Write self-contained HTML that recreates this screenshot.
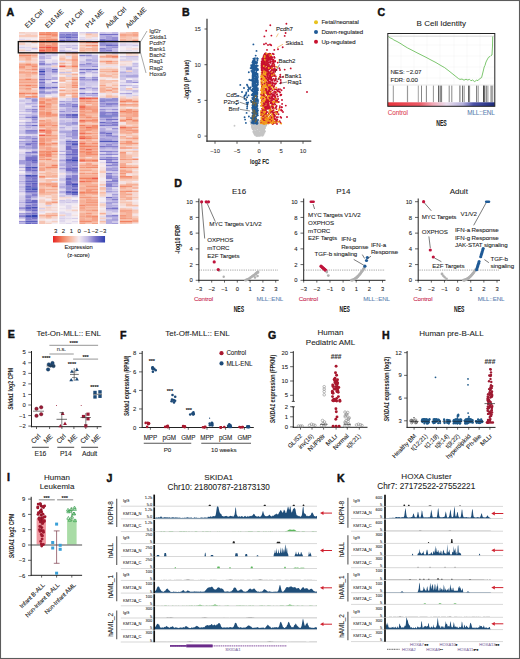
<!DOCTYPE html>
<html><head><meta charset="utf-8"><style>
html,body{margin:0;padding:0;background:#fff;}
svg{display:block;font-family:"Liberation Sans", sans-serif;}
</style></head><body>
<svg width="520" height="659" viewBox="0 0 520 659">
<rect x="0" y="0" width="520" height="659" fill="#fff"/>
<text x="6.4" y="15.8" font-size="10.6" text-anchor="start" fill="#111" font-weight="bold" stroke="#111" stroke-width="0.45">A</text>
<path d="M31.4 188.0h6.25M31.4 215.2h6.25M31.4 216.8h6.25M39.1 71.2h6.25M71.7 160.8h6.25" stroke="#3444b2" stroke-width="1.6500000000000001" fill="none"/>
<path d="M31.4 167.2h6.25M25.2 175.2h6.25M31.4 189.6h6.25M31.4 207.2h6.25M25.2 216.8h6.25M39.1 87.2h6.25M71.7 184.8h6.25M71.7 192.8h6.25" stroke="#414cb6" stroke-width="1.6500000000000001" fill="none"/>
<path d="M25.2 167.2h6.25M31.4 175.2h6.25M25.2 188.0h6.25M71.7 144.8h6.25M99.6 116.0h6.25M105.8 116.0h6.25M99.6 141.6h6.25M105.8 141.6h6.25" stroke="#4e55ba" stroke-width="1.6500000000000001" fill="none"/>
<path d="M31.4 156.0h6.25M31.4 160.8h6.25M31.4 180.0h6.25M31.4 183.2h6.25M25.2 186.4h6.25M25.2 189.6h6.25M25.2 207.2h6.25M25.2 208.8h6.25M25.2 215.2h6.25M25.2 221.6h6.25M31.4 221.6h6.25M39.1 92.0h6.25M65.5 37.6h6.25M71.7 114.4h6.25M71.7 116.0h6.25M71.7 141.6h6.25M65.5 160.8h6.25M71.7 180.0h6.25M65.5 192.8h6.25M91.8 69.6h6.25M105.8 100.0h6.25M112.0 116.0h6.25M112.0 141.6h6.25" stroke="#5b5ebf" stroke-width="1.6500000000000001" fill="none"/>
<path d="M31.4 100.0h6.25M31.4 117.6h6.25M31.4 125.6h6.25M31.4 148.0h6.25M31.4 170.4h6.25M25.2 176.8h6.25M31.4 176.8h6.25M25.2 181.6h6.25M31.4 181.6h6.25M25.2 191.2h6.25M31.4 191.2h6.25M25.2 196.0h6.25M31.4 200.8h6.25M25.2 202.4h6.25M31.4 202.4h6.25M31.4 210.4h6.25M25.2 223.2h6.25M51.5 69.6h6.25M39.1 74.4h6.25M39.1 79.2h6.25M51.5 87.2h6.25M59.3 36.0h6.25M65.5 36.0h6.25M59.3 40.8h6.25M65.5 141.6h6.25M71.7 143.2h6.25M65.5 154.4h6.25M71.7 154.4h6.25M71.7 157.6h6.25M65.5 159.2h6.25M71.7 159.2h6.25M71.7 168.8h6.25M71.7 172.0h6.25M65.5 178.4h6.25M65.5 180.0h6.25M65.5 184.8h6.25M71.7 186.4h6.25M65.5 188.0h6.25M71.7 189.6h6.25M65.5 191.2h6.25M71.7 194.4h6.25M85.6 69.6h6.25M99.6 40.8h6.25M105.8 45.6h6.25M99.6 100.0h6.25M112.0 100.0h6.25M99.6 122.4h6.25M105.8 133.6h6.25" stroke="#6867c3" stroke-width="1.6500000000000001" fill="none"/>
<path d="M25.2 132.0h6.25M31.4 132.0h6.25M31.4 141.6h6.25M25.2 144.8h6.25M31.4 152.8h6.25M25.2 157.6h6.25M31.4 157.6h6.25M25.2 159.2h6.25M31.4 159.2h6.25M25.2 160.8h6.25M31.4 162.4h6.25M25.2 168.8h6.25M25.2 170.4h6.25M31.4 178.4h6.25M25.2 180.0h6.25M25.2 183.2h6.25M31.4 184.8h6.25M31.4 186.4h6.25M25.2 205.6h6.25M31.4 208.8h6.25M31.4 213.6h6.25M31.4 218.4h6.25M31.4 223.2h6.25M39.1 82.4h6.25M39.1 88.8h6.25M65.5 34.4h6.25M59.3 37.6h6.25M71.7 37.6h6.25M71.7 106.4h6.25M65.5 114.4h6.25M65.5 116.0h6.25M71.7 117.6h6.25M71.7 124.0h6.25M71.7 132.0h6.25M65.5 146.4h6.25M65.5 148.0h6.25M65.5 149.6h6.25M71.7 149.6h6.25M71.7 151.2h6.25M71.7 152.8h6.25M71.7 156.0h6.25M65.5 164.0h6.25M71.7 164.0h6.25M65.5 168.8h6.25M65.5 170.4h6.25M71.7 170.4h6.25M65.5 181.6h6.25M65.5 183.2h6.25M71.7 183.2h6.25M71.7 188.0h6.25M71.7 191.2h6.25M79.4 69.6h6.25M79.4 88.8h6.25M79.4 93.6h6.25M99.6 34.4h6.25M105.8 34.4h6.25M112.0 34.4h6.25M105.8 40.8h6.25M112.0 40.8h6.25M99.6 44.0h6.25M105.8 44.0h6.25M112.0 45.6h6.25M112.0 112.8h6.25M105.8 119.2h6.25M112.0 119.2h6.25M112.0 122.4h6.25M99.6 125.6h6.25M99.6 146.4h6.25M99.6 159.2h6.25M105.8 159.2h6.25M105.8 162.4h6.25M112.0 162.4h6.25M105.8 197.6h6.25M112.0 208.8h6.25" stroke="#7670c8" stroke-width="1.6500000000000001" fill="none"/>
<path d="M31.4 109.6h6.25M31.4 116.0h6.25M25.2 117.6h6.25M25.2 130.4h6.25M31.4 130.4h6.25M31.4 138.4h6.25M25.2 143.2h6.25M31.4 143.2h6.25M25.2 148.0h6.25M25.2 152.8h6.25M25.2 156.0h6.25M31.4 164.0h6.25M31.4 168.8h6.25M31.4 172.0h6.25M25.2 178.4h6.25M25.2 184.8h6.25M31.4 194.4h6.25M31.4 196.0h6.25M25.2 197.6h6.25M25.2 200.8h6.25M31.4 204.0h6.25M31.4 205.6h6.25M25.2 210.4h6.25M31.4 212.0h6.25M25.2 213.6h6.25M19.0 216.8h6.25M25.2 218.4h6.25M25.2 220.0h6.25M31.4 220.0h6.25M39.1 53.6h6.25M39.1 63.2h6.25M39.1 64.8h6.25M39.1 69.6h6.25M51.5 71.2h6.25M39.1 72.8h6.25M51.5 82.4h6.25M39.1 84.0h6.25M45.4 87.2h6.25M51.5 92.0h6.25M59.3 34.4h6.25M71.7 34.4h6.25M71.7 36.0h6.25M65.5 40.8h6.25M71.7 40.8h6.25M71.7 104.8h6.25M65.5 117.6h6.25M71.7 130.4h6.25M59.3 132.0h6.25M65.5 132.0h6.25M65.5 143.2h6.25M65.5 156.0h6.25M65.5 162.4h6.25M71.7 162.4h6.25M71.7 165.6h6.25M71.7 175.2h6.25M71.7 176.8h6.25M71.7 178.4h6.25M79.4 55.2h6.25M85.6 60.0h6.25M79.4 72.8h6.25M79.4 77.6h6.25M91.8 79.2h6.25M91.8 93.6h6.25M99.6 39.2h6.25M112.0 44.0h6.25M99.6 48.8h6.25M105.8 50.4h6.25M99.6 52.0h6.25M99.6 101.6h6.25M105.8 103.2h6.25M112.0 103.2h6.25M105.8 104.8h6.25M99.6 112.8h6.25M105.8 112.8h6.25M99.6 114.4h6.25M112.0 114.4h6.25M112.0 124.0h6.25M105.8 125.6h6.25M112.0 125.6h6.25M99.6 132.0h6.25M99.6 133.6h6.25M105.8 135.2h6.25M99.6 140.0h6.25M105.8 140.0h6.25M105.8 146.4h6.25M112.0 146.4h6.25M99.6 151.2h6.25M105.8 151.2h6.25M105.8 154.4h6.25M105.8 157.6h6.25M112.0 159.2h6.25M105.8 165.6h6.25M105.8 173.6h6.25M105.8 176.8h6.25M105.8 178.4h6.25M112.0 180.0h6.25M105.8 181.6h6.25M112.0 181.6h6.25M105.8 184.8h6.25M105.8 186.4h6.25M112.0 199.2h6.25M105.8 208.8h6.25M112.0 215.2h6.25M112.0 220.0h6.25M126.0 76.0h6.25M132.2 76.0h6.25" stroke="#857fce" stroke-width="1.6500000000000001" fill="none"/>
<path d="M31.4 111.2h6.25M31.4 119.2h6.25M31.4 122.4h6.25M25.2 125.6h6.25M31.4 140.0h6.25M31.4 144.8h6.25M31.4 146.4h6.25M19.0 148.0h6.25M31.4 151.2h6.25M25.2 162.4h6.25M25.2 164.0h6.25M25.2 165.6h6.25M25.2 172.0h6.25M25.2 192.8h6.25M31.4 192.8h6.25M25.2 199.2h6.25M25.2 204.0h6.25M19.0 208.8h6.25M19.0 215.2h6.25M19.0 221.6h6.25M39.1 76.0h6.25M45.4 79.2h6.25M39.1 85.6h6.25M45.4 88.8h6.25M71.7 32.8h6.25M65.5 39.2h6.25M59.3 104.8h6.25M71.7 108.0h6.25M59.3 111.2h6.25M71.7 111.2h6.25M59.3 114.4h6.25M59.3 116.0h6.25M71.7 122.4h6.25M59.3 124.0h6.25M65.5 124.0h6.25M71.7 133.6h6.25M71.7 135.2h6.25M65.5 144.8h6.25M71.7 146.4h6.25M71.7 148.0h6.25M65.5 151.2h6.25M65.5 152.8h6.25M65.5 157.6h6.25M65.5 165.6h6.25M65.5 167.2h6.25M71.7 167.2h6.25M65.5 172.0h6.25M65.5 176.8h6.25M71.7 181.6h6.25M65.5 186.4h6.25M65.5 189.6h6.25M65.5 194.4h6.25M85.6 55.2h6.25M85.6 63.2h6.25M79.4 64.8h6.25M91.8 66.4h6.25M91.8 77.6h6.25M79.4 79.2h6.25M112.0 37.6h6.25M112.0 39.2h6.25M99.6 42.4h6.25M99.6 45.6h6.25M112.0 47.2h6.25M99.6 50.4h6.25M105.8 52.0h6.25M112.0 98.4h6.25M99.6 103.2h6.25M112.0 104.8h6.25M99.6 106.4h6.25M99.6 109.6h6.25M112.0 109.6h6.25M99.6 117.6h6.25M105.8 117.6h6.25M105.8 122.4h6.25M99.6 124.0h6.25M105.8 124.0h6.25M112.0 128.8h6.25M105.8 132.0h6.25M112.0 132.0h6.25M112.0 136.8h6.25M105.8 144.8h6.25M99.6 148.0h6.25M112.0 148.0h6.25M112.0 151.2h6.25M99.6 154.4h6.25M112.0 154.4h6.25M112.0 157.6h6.25M105.8 160.8h6.25M112.0 164.0h6.25M112.0 165.6h6.25M112.0 170.4h6.25M105.8 175.2h6.25M112.0 178.4h6.25M105.8 183.2h6.25M112.0 186.4h6.25M105.8 220.0h6.25M126.0 68.0h6.25M132.2 82.4h6.25" stroke="#958ed4" stroke-width="1.6500000000000001" fill="none"/>
<path d="M25.2 98.4h6.25M31.4 101.6h6.25M31.4 106.4h6.25M25.2 109.6h6.25M25.2 122.4h6.25M25.2 133.6h6.25M31.4 133.6h6.25M25.2 136.8h6.25M19.0 138.4h6.25M25.2 138.4h6.25M19.0 141.6h6.25M25.2 141.6h6.25M19.0 146.4h6.25M19.0 160.8h6.25M19.0 162.4h6.25M19.0 164.0h6.25M31.4 165.6h6.25M31.4 173.6h6.25M19.0 207.2h6.25M19.0 213.6h6.25M39.1 61.6h6.25M45.4 64.8h6.25M39.1 68.0h6.25M51.5 72.8h6.25M39.1 77.6h6.25M39.1 80.8h6.25M45.4 92.0h6.25M39.1 93.6h6.25M45.4 93.6h6.25M59.3 32.8h6.25M65.5 32.8h6.25M59.3 39.2h6.25M71.7 39.2h6.25M71.7 52.0h6.25M59.3 101.6h6.25M71.7 101.6h6.25M65.5 103.2h6.25M65.5 104.8h6.25M59.3 106.4h6.25M65.5 106.4h6.25M59.3 117.6h6.25M65.5 136.8h6.25M71.7 136.8h6.25M71.7 138.4h6.25M65.5 140.0h6.25M59.3 160.8h6.25M59.3 164.0h6.25M59.3 168.8h6.25M65.5 175.2h6.25M91.8 60.0h6.25M85.6 64.8h6.25M85.6 79.2h6.25M91.8 80.8h6.25M79.4 84.0h6.25M91.8 88.8h6.25M85.6 93.6h6.25M99.6 36.0h6.25M105.8 36.0h6.25M105.8 37.6h6.25M105.8 39.2h6.25M105.8 47.2h6.25M105.8 48.8h6.25M112.0 52.0h6.25M99.6 98.4h6.25M105.8 101.6h6.25M112.0 101.6h6.25M99.6 104.8h6.25M105.8 106.4h6.25M99.6 111.2h6.25M105.8 114.4h6.25M99.6 119.2h6.25M105.8 120.8h6.25M99.6 135.2h6.25M105.8 136.8h6.25M99.6 138.4h6.25M112.0 140.0h6.25M112.0 143.2h6.25M105.8 148.0h6.25M99.6 157.6h6.25M105.8 168.8h6.25M112.0 168.8h6.25M105.8 170.4h6.25M112.0 176.8h6.25M112.0 183.2h6.25M105.8 191.2h6.25M112.0 194.4h6.25M112.0 197.6h6.25M105.8 202.4h6.25M112.0 202.4h6.25M105.8 204.0h6.25M112.0 207.2h6.25M105.8 215.2h6.25M105.8 216.8h6.25M112.0 216.8h6.25M112.0 223.2h6.25M119.8 76.0h6.25M126.0 93.6h6.25" stroke="#a49dda" stroke-width="1.6500000000000001" fill="none"/>
<path d="M31.4 98.4h6.25M25.2 103.2h6.25M31.4 103.2h6.25M25.2 111.2h6.25M31.4 112.8h6.25M25.2 116.0h6.25M31.4 120.8h6.25M25.2 124.0h6.25M19.0 125.6h6.25M25.2 127.2h6.25M19.0 132.0h6.25M19.0 136.8h6.25M31.4 136.8h6.25M25.2 140.0h6.25M19.0 143.2h6.25M25.2 146.4h6.25M25.2 154.4h6.25M19.0 167.2h6.25M19.0 175.2h6.25M19.0 181.6h6.25M25.2 194.4h6.25M31.4 197.6h6.25M19.0 202.4h6.25M25.2 212.0h6.25M19.0 223.2h6.25M39.1 56.8h6.25M39.1 58.4h6.25M51.5 63.2h6.25M45.4 68.0h6.25M45.4 69.6h6.25M45.4 71.2h6.25M45.4 76.0h6.25M51.5 77.6h6.25M51.5 79.2h6.25M45.4 84.0h6.25M51.5 88.8h6.25M39.1 90.4h6.25M59.3 52.0h6.25M65.5 52.0h6.25M71.7 98.4h6.25M71.7 100.0h6.25M65.5 101.6h6.25M65.5 108.0h6.25M65.5 109.6h6.25M71.7 109.6h6.25M65.5 111.2h6.25M65.5 122.4h6.25M65.5 125.6h6.25M59.3 127.2h6.25M65.5 133.6h6.25M65.5 135.2h6.25M59.3 151.2h6.25M59.3 154.4h6.25M59.3 165.6h6.25M71.7 173.6h6.25M59.3 180.0h6.25M59.3 186.4h6.25M59.3 188.0h6.25M59.3 191.2h6.25M59.3 192.8h6.25M59.3 196.0h6.25M71.7 196.0h6.25M91.8 61.6h6.25M91.8 64.8h6.25M79.4 66.4h6.25M85.6 66.4h6.25M85.6 71.2h6.25M91.8 72.8h6.25M79.4 80.8h6.25M85.6 80.8h6.25M85.6 87.2h6.25M85.6 95.2h6.25M91.8 95.2h6.25M112.0 36.0h6.25M99.6 37.6h6.25M105.8 42.4h6.25M112.0 42.4h6.25M105.8 98.4h6.25M112.0 106.4h6.25M105.8 109.6h6.25M112.0 117.6h6.25M99.6 128.8h6.25M99.6 130.4h6.25M112.0 135.2h6.25M99.6 136.8h6.25M105.8 138.4h6.25M112.0 138.4h6.25M99.6 143.2h6.25M105.8 143.2h6.25M99.6 144.8h6.25M112.0 144.8h6.25M105.8 152.8h6.25M105.8 164.0h6.25M112.0 167.2h6.25M112.0 173.6h6.25M112.0 184.8h6.25M105.8 188.0h6.25M105.8 189.6h6.25M112.0 191.2h6.25M112.0 196.0h6.25M105.8 199.2h6.25M112.0 200.8h6.25M105.8 205.6h6.25M112.0 205.6h6.25M105.8 207.2h6.25M112.0 218.4h6.25M105.8 221.6h6.25M105.8 223.2h6.25M126.0 69.6h6.25M119.8 72.8h6.25M126.0 80.8h6.25M126.0 82.4h6.25M119.8 85.6h6.25M119.8 93.6h6.25" stroke="#b4ace0" stroke-width="1.6500000000000001" fill="none"/>
<path d="M31.4 48.8h6.25M25.2 100.0h6.25M25.2 104.8h6.25M31.4 108.0h6.25M19.0 114.4h6.25M25.2 114.4h6.25M31.4 114.4h6.25M19.0 117.6h6.25M31.4 124.0h6.25M31.4 127.2h6.25M31.4 128.8h6.25M19.0 144.8h6.25M31.4 149.6h6.25M31.4 154.4h6.25M19.0 156.0h6.25M25.2 173.6h6.25M19.0 183.2h6.25M19.0 186.4h6.25M19.0 188.0h6.25M19.0 191.2h6.25M31.4 199.2h6.25M51.5 53.6h6.25M45.4 55.2h6.25M45.4 58.4h6.25M39.1 60.0h6.25M51.5 64.8h6.25M51.5 68.0h6.25M45.4 72.8h6.25M45.4 74.4h6.25M45.4 77.6h6.25M51.5 84.0h6.25M45.4 85.6h6.25M39.1 95.2h6.25M39.1 96.8h6.25M71.7 45.6h6.25M65.5 47.2h6.25M71.7 48.8h6.25M59.3 50.4h6.25M59.3 72.8h6.25M59.3 103.2h6.25M71.7 103.2h6.25M59.3 109.6h6.25M59.3 112.8h6.25M65.5 112.8h6.25M71.7 119.2h6.25M59.3 120.8h6.25M71.7 120.8h6.25M59.3 122.4h6.25M71.7 127.2h6.25M59.3 130.4h6.25M65.5 130.4h6.25M59.3 135.2h6.25M71.7 140.0h6.25M59.3 159.2h6.25M65.5 173.6h6.25M59.3 184.8h6.25M71.7 200.8h6.25M85.6 32.8h6.25M91.8 32.8h6.25M91.8 55.2h6.25M85.6 56.8h6.25M91.8 56.8h6.25M91.8 58.4h6.25M85.6 61.6h6.25M91.8 63.2h6.25M79.4 68.0h6.25M85.6 68.0h6.25M85.6 77.6h6.25M79.4 82.4h6.25M85.6 84.0h6.25M91.8 84.0h6.25M79.4 85.6h6.25M85.6 88.8h6.25M91.8 90.4h6.25M79.4 95.2h6.25M112.0 32.8h6.25M99.6 47.2h6.25M112.0 48.8h6.25M112.0 50.4h6.25M99.6 108.0h6.25M105.8 108.0h6.25M112.0 108.0h6.25M112.0 111.2h6.25M99.6 120.8h6.25M112.0 120.8h6.25M105.8 127.2h6.25M105.8 130.4h6.25M112.0 130.4h6.25M112.0 133.6h6.25M99.6 149.6h6.25M112.0 149.6h6.25M112.0 152.8h6.25M99.6 156.0h6.25M105.8 156.0h6.25M112.0 160.8h6.25M105.8 167.2h6.25M112.0 172.0h6.25M112.0 175.2h6.25M105.8 180.0h6.25M105.8 192.8h6.25M105.8 200.8h6.25M112.0 204.0h6.25M105.8 210.4h6.25M112.0 210.4h6.25M112.0 212.0h6.25M126.0 56.8h6.25M132.2 56.8h6.25M119.8 60.0h6.25M132.2 63.2h6.25M132.2 66.4h6.25M126.0 72.8h6.25M132.2 74.4h6.25M126.0 77.6h6.25M132.2 77.6h6.25M126.0 85.6h6.25M132.2 87.2h6.25M132.2 90.4h6.25M132.2 92.0h6.25" stroke="#c4bce6" stroke-width="1.6500000000000001" fill="none"/>
<path d="M19.0 100.0h6.25M19.0 101.6h6.25M31.4 104.8h6.25M25.2 108.0h6.25M19.0 111.2h6.25M19.0 122.4h6.25M25.2 128.8h6.25M19.0 130.4h6.25M19.0 133.6h6.25M25.2 149.6h6.25M19.0 154.4h6.25M19.0 170.4h6.25M19.0 176.8h6.25M19.0 178.4h6.25M19.0 180.0h6.25M19.0 189.6h6.25M19.0 196.0h6.25M19.0 200.8h6.25M19.0 204.0h6.25M19.0 205.6h6.25M19.0 210.4h6.25M19.0 218.4h6.25M39.1 55.2h6.25M51.5 55.2h6.25M45.4 56.8h6.25M45.4 63.2h6.25M51.5 74.4h6.25M51.5 85.6h6.25M51.5 93.6h6.25M59.3 42.4h6.25M59.3 45.6h6.25M65.5 45.6h6.25M65.5 72.8h6.25M65.5 76.0h6.25M59.3 108.0h6.25M71.7 112.8h6.25M65.5 120.8h6.25M71.7 125.6h6.25M59.3 128.8h6.25M71.7 128.8h6.25M59.3 133.6h6.25M59.3 136.8h6.25M59.3 138.4h6.25M59.3 141.6h6.25M59.3 143.2h6.25M59.3 156.0h6.25M59.3 162.4h6.25M59.3 167.2h6.25M59.3 172.0h6.25M59.3 178.4h6.25M59.3 183.2h6.25M65.5 196.0h6.25M59.3 200.8h6.25M65.5 202.4h6.25M79.4 56.8h6.25M79.4 61.6h6.25M79.4 63.2h6.25M91.8 68.0h6.25M79.4 71.2h6.25M85.6 72.8h6.25M79.4 74.4h6.25M91.8 76.0h6.25M85.6 82.4h6.25M91.8 82.4h6.25M85.6 85.6h6.25M79.4 87.2h6.25M91.8 87.2h6.25M79.4 92.0h6.25M79.4 96.8h6.25M91.8 96.8h6.25M99.6 32.8h6.25M112.0 53.6h6.25M105.8 111.2h6.25M99.6 127.2h6.25M112.0 127.2h6.25M105.8 149.6h6.25M105.8 172.0h6.25M112.0 189.6h6.25M112.0 192.8h6.25M105.8 212.0h6.25M112.0 221.6h6.25M119.8 44.0h6.25M132.2 45.6h6.25M119.8 56.8h6.25M126.0 60.0h6.25M132.2 64.8h6.25M132.2 69.6h6.25M119.8 71.2h6.25M132.2 71.2h6.25M132.2 72.8h6.25M119.8 74.4h6.25M126.0 74.4h6.25M119.8 77.6h6.25M119.8 79.2h6.25M132.2 80.8h6.25M132.2 85.6h6.25M126.0 90.4h6.25" stroke="#cdc5e8" stroke-width="1.6500000000000001" fill="none"/>
<path d="M19.0 47.2h6.25M25.2 50.4h6.25M25.2 101.6h6.25M19.0 104.8h6.25M19.0 106.4h6.25M19.0 108.0h6.25M19.0 109.6h6.25M19.0 116.0h6.25M19.0 119.2h6.25M25.2 119.2h6.25M19.0 127.2h6.25M19.0 128.8h6.25M31.4 135.2h6.25M19.0 140.0h6.25M25.2 151.2h6.25M19.0 157.6h6.25M19.0 159.2h6.25M19.0 184.8h6.25M19.0 197.6h6.25M19.0 199.2h6.25M39.1 66.4h6.25M45.4 66.4h6.25M51.5 76.0h6.25M45.4 80.8h6.25M51.5 90.4h6.25M45.4 205.6h6.25M39.1 208.8h6.25M65.5 42.4h6.25M71.7 42.4h6.25M59.3 47.2h6.25M71.7 47.2h6.25M65.5 98.4h6.25M65.5 100.0h6.25M59.3 119.2h6.25M65.5 119.2h6.25M59.3 125.6h6.25M65.5 127.2h6.25M65.5 138.4h6.25M59.3 140.0h6.25M59.3 144.8h6.25M59.3 157.6h6.25M59.3 170.4h6.25M65.5 200.8h6.25M59.3 202.4h6.25M71.7 202.4h6.25M59.3 218.4h6.25M71.7 218.4h6.25M79.4 32.8h6.25M79.4 39.2h6.25M85.6 53.6h6.25M85.6 58.4h6.25M79.4 60.0h6.25M91.8 71.2h6.25M79.4 76.0h6.25M91.8 85.6h6.25M79.4 90.4h6.25M85.6 90.4h6.25M91.8 92.0h6.25M105.8 32.8h6.25M105.8 128.8h6.25M99.6 152.8h6.25M112.0 188.0h6.25M105.8 196.0h6.25M105.8 213.6h6.25M105.8 218.4h6.25M119.8 45.6h6.25M126.0 58.4h6.25M132.2 58.4h6.25M132.2 60.0h6.25M119.8 66.4h6.25M126.0 66.4h6.25M119.8 68.0h6.25M119.8 82.4h6.25M119.8 88.8h6.25M119.8 90.4h6.25M132.2 95.2h6.25" stroke="#d7cfea" stroke-width="1.6500000000000001" fill="none"/>
<path d="M19.0 39.2h6.25M25.2 47.2h6.25M19.0 103.2h6.25M25.2 112.8h6.25M25.2 120.8h6.25M19.0 124.0h6.25M25.2 135.2h6.25M19.0 149.6h6.25M19.0 152.8h6.25M19.0 165.6h6.25M19.0 192.8h6.25M45.4 53.6h6.25M51.5 60.0h6.25M51.5 61.6h6.25M45.4 82.4h6.25M45.4 90.4h6.25M51.5 96.8h6.25M39.1 212.0h6.25M65.5 44.0h6.25M71.7 44.0h6.25M59.3 48.8h6.25M65.5 50.4h6.25M65.5 56.8h6.25M59.3 61.6h6.25M59.3 100.0h6.25M65.5 128.8h6.25M59.3 146.4h6.25M59.3 148.0h6.25M59.3 149.6h6.25M59.3 175.2h6.25M59.3 176.8h6.25M59.3 181.6h6.25M59.3 189.6h6.25M59.3 194.4h6.25M65.5 199.2h6.25M59.3 204.0h6.25M65.5 205.6h6.25M65.5 207.2h6.25M65.5 208.8h6.25M59.3 212.0h6.25M59.3 213.6h6.25M65.5 213.6h6.25M65.5 215.2h6.25M59.3 216.8h6.25M65.5 218.4h6.25M59.3 220.0h6.25M59.3 221.6h6.25M71.7 221.6h6.25M65.5 223.2h6.25M79.4 37.6h6.25M85.6 39.2h6.25M91.8 39.2h6.25M85.6 40.8h6.25M79.4 58.4h6.25M91.8 74.4h6.25M85.6 96.8h6.25M112.0 156.0h6.25M99.6 162.4h6.25M105.8 194.4h6.25M99.6 202.4h6.25M99.6 216.8h6.25M99.6 220.0h6.25M126.0 44.0h6.25M132.2 44.0h6.25M126.0 45.6h6.25M126.0 50.4h6.25M132.2 68.0h6.25M119.8 69.6h6.25M132.2 79.2h6.25M119.8 84.0h6.25M126.0 84.0h6.25M119.8 87.2h6.25M126.0 92.0h6.25M126.0 95.2h6.25M126.0 96.8h6.25M132.2 149.6h6.25" stroke="#e0d8ed" stroke-width="1.6500000000000001" fill="none"/>
<path d="M25.2 39.2h6.25M19.0 45.6h6.25M19.0 48.8h6.25M25.2 48.8h6.25M19.0 52.0h6.25M19.0 61.6h6.25M19.0 98.4h6.25M25.2 106.4h6.25M19.0 112.8h6.25M19.0 135.2h6.25M19.0 151.2h6.25M19.0 168.8h6.25M19.0 173.6h6.25M19.0 194.4h6.25M19.0 212.0h6.25M19.0 220.0h6.25M51.5 56.8h6.25M45.4 60.0h6.25M45.4 61.6h6.25M45.4 95.2h6.25M51.5 95.2h6.25M51.5 181.6h6.25M51.5 212.0h6.25M51.5 220.0h6.25M59.3 44.0h6.25M65.5 69.6h6.25M59.3 98.4h6.25M59.3 152.8h6.25M71.7 197.6h6.25M65.5 204.0h6.25M71.7 204.0h6.25M59.3 205.6h6.25M59.3 208.8h6.25M65.5 212.0h6.25M71.7 212.0h6.25M65.5 216.8h6.25M65.5 220.0h6.25M59.3 223.2h6.25M91.8 37.6h6.25M79.4 53.6h6.25M85.6 74.4h6.25M85.6 76.0h6.25M85.6 92.0h6.25M99.6 66.4h6.25M105.8 66.4h6.25M112.0 66.4h6.25M99.6 93.6h6.25M112.0 93.6h6.25M99.6 186.4h6.25M99.6 197.6h6.25M112.0 213.6h6.25M126.0 42.4h6.25M126.0 47.2h6.25M119.8 50.4h6.25M132.2 50.4h6.25M119.8 52.0h6.25M126.0 52.0h6.25M132.2 52.0h6.25M119.8 58.4h6.25M119.8 80.8h6.25M119.8 92.0h6.25M132.2 93.6h6.25M119.8 95.2h6.25M132.2 157.6h6.25M132.2 207.2h6.25M132.2 208.8h6.25" stroke="#eae2ef" stroke-width="1.6500000000000001" fill="none"/>
<path d="M31.4 39.2h6.25M25.2 42.4h6.25M31.4 44.0h6.25M31.4 45.6h6.25M31.4 50.4h6.25M31.4 52.0h6.25M19.0 120.8h6.25M19.0 172.0h6.25M51.5 58.4h6.25M51.5 80.8h6.25M45.4 96.8h6.25M45.4 178.4h6.25M45.4 199.2h6.25M45.4 212.0h6.25M39.1 213.6h6.25M45.4 220.0h6.25M51.5 223.2h6.25M65.5 48.8h6.25M71.7 50.4h6.25M59.3 53.6h6.25M71.7 72.8h6.25M59.3 76.0h6.25M59.3 82.4h6.25M59.3 88.8h6.25M65.5 95.2h6.25M71.7 199.2h6.25M71.7 205.6h6.25M59.3 207.2h6.25M71.7 208.8h6.25M59.3 210.4h6.25M71.7 213.6h6.25M71.7 216.8h6.25M71.7 220.0h6.25M65.5 221.6h6.25M71.7 223.2h6.25M79.4 36.0h6.25M91.8 40.8h6.25M91.8 53.6h6.25M105.8 53.6h6.25M105.8 79.2h6.25M112.0 79.2h6.25M99.6 160.8h6.25M99.6 165.6h6.25M99.6 178.4h6.25M99.6 180.0h6.25M99.6 199.2h6.25M99.6 200.8h6.25M99.6 208.8h6.25M119.8 47.2h6.25M132.2 47.2h6.25M119.8 48.8h6.25M119.8 55.2h6.25M132.2 61.6h6.25M126.0 79.2h6.25M132.2 84.0h6.25M126.0 87.2h6.25M126.0 108.0h6.25M132.2 181.6h6.25M132.2 200.8h6.25" stroke="#f4ecf2" stroke-width="1.6500000000000001" fill="none"/>
<path d="M19.0 34.4h6.25M19.0 37.6h6.25M25.2 37.6h6.25M31.4 37.6h6.25M25.2 44.0h6.25M25.2 45.6h6.25M25.2 52.0h6.25M51.5 178.4h6.25M39.1 197.6h6.25M45.4 200.8h6.25M39.1 204.0h6.25M39.1 205.6h6.25M51.5 205.6h6.25M51.5 208.8h6.25M39.1 220.0h6.25M45.4 221.6h6.25M65.5 58.4h6.25M65.5 64.8h6.25M65.5 80.8h6.25M59.3 173.6h6.25M59.3 199.2h6.25M71.7 207.2h6.25M65.5 210.4h6.25M71.7 215.2h6.25M79.4 34.4h6.25M99.6 53.6h6.25M99.6 77.6h6.25M99.6 95.2h6.25M99.6 164.0h6.25M99.6 167.2h6.25M99.6 168.8h6.25M99.6 173.6h6.25M99.6 175.2h6.25M99.6 176.8h6.25M99.6 181.6h6.25M99.6 183.2h6.25M99.6 207.2h6.25M99.6 210.4h6.25M99.6 212.0h6.25M99.6 215.2h6.25M119.8 42.4h6.25M126.0 48.8h6.25M119.8 53.6h6.25M119.8 63.2h6.25M126.0 63.2h6.25M126.0 64.8h6.25M132.2 88.8h6.25M132.2 108.0h6.25M119.8 122.4h6.25M119.8 124.0h6.25M126.0 149.6h6.25M126.0 152.8h6.25M126.0 164.0h6.25M132.2 164.0h6.25M132.2 170.4h6.25M126.0 175.2h6.25M119.8 181.6h6.25M119.8 183.2h6.25M132.2 189.6h6.25M126.0 200.8h6.25M132.2 202.4h6.25M132.2 204.0h6.25M119.8 207.2h6.25M126.0 207.2h6.25M132.2 215.2h6.25M132.2 223.2h6.25" stroke="#f4e2e2" stroke-width="1.6500000000000001" fill="none"/>
<path d="M25.2 32.8h6.25M31.4 32.8h6.25M31.4 34.4h6.25M19.0 42.4h6.25M31.4 47.2h6.25M31.4 58.4h6.25M31.4 61.6h6.25M31.4 88.8h6.25M25.2 95.2h6.25M39.1 133.6h6.25M51.5 141.6h6.25M39.1 172.0h6.25M39.1 181.6h6.25M45.4 196.0h6.25M39.1 199.2h6.25M51.5 204.0h6.25M39.1 207.2h6.25M51.5 207.2h6.25M45.4 208.8h6.25M39.1 210.4h6.25M45.4 210.4h6.25M51.5 210.4h6.25M39.1 218.4h6.25M51.5 218.4h6.25M59.3 55.2h6.25M65.5 61.6h6.25M59.3 68.0h6.25M59.3 71.2h6.25M59.3 92.0h6.25M65.5 96.8h6.25M59.3 197.6h6.25M65.5 197.6h6.25M85.6 37.6h6.25M79.4 40.8h6.25M85.6 47.2h6.25M85.6 157.6h6.25M79.4 162.4h6.25M99.6 58.4h6.25M105.8 58.4h6.25M112.0 60.0h6.25M99.6 63.2h6.25M99.6 64.8h6.25M105.8 64.8h6.25M112.0 64.8h6.25M99.6 68.0h6.25M112.0 68.0h6.25M105.8 77.6h6.25M99.6 79.2h6.25M112.0 82.4h6.25M105.8 85.6h6.25M105.8 93.6h6.25M112.0 95.2h6.25M99.6 96.8h6.25M99.6 170.4h6.25M99.6 191.2h6.25M99.6 223.2h6.25M119.8 32.8h6.25M132.2 42.4h6.25M132.2 48.8h6.25M126.0 55.2h6.25M132.2 55.2h6.25M119.8 61.6h6.25M126.0 61.6h6.25M119.8 64.8h6.25M119.8 96.8h6.25M132.2 96.8h6.25M126.0 98.4h6.25M126.0 103.2h6.25M126.0 125.6h6.25M119.8 135.2h6.25M126.0 136.8h6.25M126.0 146.4h6.25M132.2 146.4h6.25M119.8 149.6h6.25M132.2 160.8h6.25M132.2 162.4h6.25M126.0 173.6h6.25M132.2 173.6h6.25M126.0 181.6h6.25M132.2 192.8h6.25M132.2 194.4h6.25M132.2 196.0h6.25M132.2 199.2h6.25M119.8 205.6h6.25M132.2 213.6h6.25" stroke="#f5d8d3" stroke-width="1.6500000000000001" fill="none"/>
<path d="M19.0 32.8h6.25M25.2 34.4h6.25M19.0 40.8h6.25M31.4 40.8h6.25M19.0 50.4h6.25M25.2 61.6h6.25M31.4 77.6h6.25M51.5 66.4h6.25M39.1 119.2h6.25M39.1 128.8h6.25M51.5 146.4h6.25M39.1 178.4h6.25M51.5 194.4h6.25M45.4 197.6h6.25M39.1 200.8h6.25M51.5 200.8h6.25M39.1 202.4h6.25M45.4 207.2h6.25M51.5 216.8h6.25M45.4 218.4h6.25M51.5 221.6h6.25M45.4 223.2h6.25M65.5 55.2h6.25M59.3 56.8h6.25M65.5 63.2h6.25M59.3 64.8h6.25M59.3 69.6h6.25M65.5 71.2h6.25M59.3 74.4h6.25M65.5 74.4h6.25M71.7 76.0h6.25M65.5 77.6h6.25M65.5 82.4h6.25M59.3 85.6h6.25M65.5 88.8h6.25M71.7 88.8h6.25M59.3 96.8h6.25M71.7 210.4h6.25M59.3 215.2h6.25M91.8 34.4h6.25M85.6 36.0h6.25M79.4 44.0h6.25M85.6 44.0h6.25M91.8 44.0h6.25M85.6 52.0h6.25M85.6 104.8h6.25M91.8 162.4h6.25M99.6 55.2h6.25M112.0 58.4h6.25M99.6 60.0h6.25M105.8 60.0h6.25M105.8 68.0h6.25M99.6 72.8h6.25M105.8 74.4h6.25M105.8 84.0h6.25M112.0 87.2h6.25M105.8 88.8h6.25M99.6 194.4h6.25M99.6 196.0h6.25M99.6 204.0h6.25M99.6 205.6h6.25M99.6 218.4h6.25M132.2 37.6h6.25M132.2 53.6h6.25M126.0 71.2h6.25M132.2 98.4h6.25M119.8 108.0h6.25M119.8 117.6h6.25M132.2 133.6h6.25M119.8 140.0h6.25M132.2 141.6h6.25M132.2 152.8h6.25M126.0 154.4h6.25M132.2 154.4h6.25M132.2 168.8h6.25M132.2 175.2h6.25M132.2 183.2h6.25M132.2 186.4h6.25M126.0 192.8h6.25M119.8 200.8h6.25M119.8 204.0h6.25M126.0 208.8h6.25M132.2 216.8h6.25" stroke="#f5cfc3" stroke-width="1.6500000000000001" fill="none"/>
<path d="M25.2 40.8h6.25M19.0 44.0h6.25M25.2 53.6h6.25M19.0 58.4h6.25M19.0 60.0h6.25M31.4 60.0h6.25M31.4 63.2h6.25M31.4 71.2h6.25M19.0 74.4h6.25M31.4 76.0h6.25M19.0 77.6h6.25M25.2 77.6h6.25M19.0 90.4h6.25M31.4 90.4h6.25M51.5 104.8h6.25M51.5 111.2h6.25M51.5 112.8h6.25M45.4 117.6h6.25M51.5 117.6h6.25M51.5 119.2h6.25M51.5 120.8h6.25M51.5 133.6h6.25M51.5 159.2h6.25M39.1 160.8h6.25M45.4 162.4h6.25M51.5 162.4h6.25M45.4 170.4h6.25M51.5 170.4h6.25M51.5 172.0h6.25M39.1 175.2h6.25M39.1 180.0h6.25M45.4 181.6h6.25M45.4 188.0h6.25M45.4 191.2h6.25M51.5 191.2h6.25M39.1 196.0h6.25M51.5 197.6h6.25M45.4 213.6h6.25M39.1 216.8h6.25M39.1 221.6h6.25M39.1 223.2h6.25M71.7 69.6h6.25M71.7 71.2h6.25M59.3 84.0h6.25M65.5 84.0h6.25M65.5 85.6h6.25M65.5 87.2h6.25M65.5 90.4h6.25M65.5 92.0h6.25M91.8 36.0h6.25M79.4 47.2h6.25M91.8 52.0h6.25M85.6 122.4h6.25M91.8 124.0h6.25M91.8 140.0h6.25M85.6 162.4h6.25M91.8 168.8h6.25M85.6 172.0h6.25M91.8 183.2h6.25M91.8 196.0h6.25M85.6 223.2h6.25M105.8 72.8h6.25M112.0 72.8h6.25M112.0 76.0h6.25M112.0 77.6h6.25M105.8 80.8h6.25M99.6 82.4h6.25M105.8 82.4h6.25M99.6 84.0h6.25M112.0 84.0h6.25M112.0 90.4h6.25M105.8 92.0h6.25M105.8 95.2h6.25M112.0 96.8h6.25M99.6 184.8h6.25M99.6 189.6h6.25M126.0 32.8h6.25M126.0 37.6h6.25M126.0 39.2h6.25M126.0 53.6h6.25M126.0 88.8h6.25M119.8 98.4h6.25M119.8 103.2h6.25M132.2 103.2h6.25M119.8 106.4h6.25M126.0 106.4h6.25M132.2 117.6h6.25M119.8 125.6h6.25M132.2 125.6h6.25M132.2 128.8h6.25M126.0 135.2h6.25M132.2 135.2h6.25M126.0 140.0h6.25M132.2 144.8h6.25M119.8 146.4h6.25M119.8 151.2h6.25M126.0 151.2h6.25M132.2 156.0h6.25M119.8 160.8h6.25M126.0 160.8h6.25M119.8 162.4h6.25M132.2 165.6h6.25M119.8 168.8h6.25M126.0 168.8h6.25M132.2 172.0h6.25M126.0 180.0h6.25M132.2 180.0h6.25M126.0 183.2h6.25M119.8 184.8h6.25M119.8 189.6h6.25M126.0 189.6h6.25M126.0 196.0h6.25M132.2 197.6h6.25M119.8 202.4h6.25M126.0 202.4h6.25M119.8 208.8h6.25M132.2 210.4h6.25M126.0 223.2h6.25" stroke="#f6c5b4" stroke-width="1.6500000000000001" fill="none"/>
<path d="M19.0 36.0h6.25M25.2 36.0h6.25M31.4 36.0h6.25M31.4 42.4h6.25M19.0 53.6h6.25M31.4 53.6h6.25M31.4 56.8h6.25M19.0 63.2h6.25M25.2 66.4h6.25M25.2 68.0h6.25M19.0 69.6h6.25M25.2 71.2h6.25M31.4 74.4h6.25M19.0 87.2h6.25M25.2 87.2h6.25M25.2 90.4h6.25M31.4 92.0h6.25M31.4 95.2h6.25M51.5 37.6h6.25M45.4 98.4h6.25M51.5 106.4h6.25M51.5 108.0h6.25M39.1 117.6h6.25M45.4 119.2h6.25M51.5 128.8h6.25M51.5 132.0h6.25M45.4 146.4h6.25M39.1 149.6h6.25M51.5 152.8h6.25M51.5 156.0h6.25M45.4 157.6h6.25M51.5 157.6h6.25M45.4 160.8h6.25M39.1 162.4h6.25M45.4 165.6h6.25M51.5 168.8h6.25M45.4 172.0h6.25M39.1 173.6h6.25M45.4 173.6h6.25M51.5 173.6h6.25M45.4 175.2h6.25M39.1 186.4h6.25M51.5 188.0h6.25M39.1 194.4h6.25M45.4 194.4h6.25M51.5 196.0h6.25M51.5 199.2h6.25M51.5 213.6h6.25M65.5 53.6h6.25M71.7 55.2h6.25M59.3 58.4h6.25M59.3 60.0h6.25M65.5 68.0h6.25M59.3 77.6h6.25M59.3 79.2h6.25M65.5 79.2h6.25M71.7 80.8h6.25M71.7 92.0h6.25M85.6 34.4h6.25M79.4 45.6h6.25M91.8 47.2h6.25M79.4 48.8h6.25M85.6 50.4h6.25M79.4 52.0h6.25M85.6 114.4h6.25M91.8 114.4h6.25M91.8 116.0h6.25M79.4 124.0h6.25M85.6 124.0h6.25M85.6 132.0h6.25M85.6 135.2h6.25M79.4 140.0h6.25M79.4 157.6h6.25M91.8 157.6h6.25M91.8 164.0h6.25M79.4 168.8h6.25M85.6 168.8h6.25M91.8 170.4h6.25M79.4 172.0h6.25M91.8 172.0h6.25M79.4 186.4h6.25M85.6 194.4h6.25M79.4 199.2h6.25M85.6 208.8h6.25M91.8 208.8h6.25M79.4 212.0h6.25M91.8 213.6h6.25M85.6 218.4h6.25M112.0 63.2h6.25M99.6 69.6h6.25M105.8 69.6h6.25M112.0 69.6h6.25M99.6 74.4h6.25M112.0 74.4h6.25M99.6 80.8h6.25M112.0 80.8h6.25M112.0 85.6h6.25M99.6 87.2h6.25M105.8 96.8h6.25M99.6 172.0h6.25M99.6 192.8h6.25M99.6 221.6h6.25M119.8 37.6h6.25M132.2 39.2h6.25M126.0 40.8h6.25M132.2 100.0h6.25M132.2 106.4h6.25M119.8 109.6h6.25M132.2 109.6h6.25M119.8 114.4h6.25M126.0 122.4h6.25M132.2 122.4h6.25M126.0 124.0h6.25M132.2 124.0h6.25M119.8 133.6h6.25M132.2 136.8h6.25M119.8 138.4h6.25M132.2 140.0h6.25M119.8 144.8h6.25M132.2 151.2h6.25M126.0 157.6h6.25M126.0 162.4h6.25M126.0 165.6h6.25M126.0 170.4h6.25M132.2 176.8h6.25M132.2 178.4h6.25M119.8 180.0h6.25M126.0 188.0h6.25M119.8 199.2h6.25M126.0 204.0h6.25M126.0 205.6h6.25M132.2 205.6h6.25M132.2 212.0h6.25M119.8 213.6h6.25M132.2 218.4h6.25M119.8 220.0h6.25M126.0 220.0h6.25M119.8 223.2h6.25" stroke="#f7bca5" stroke-width="1.6500000000000001" fill="none"/>
<path d="M19.0 56.8h6.25M25.2 56.8h6.25M25.2 58.4h6.25M25.2 60.0h6.25M25.2 63.2h6.25M19.0 71.2h6.25M25.2 74.4h6.25M19.0 76.0h6.25M19.0 80.8h6.25M25.2 80.8h6.25M31.4 80.8h6.25M19.0 84.0h6.25M25.2 84.0h6.25M31.4 84.0h6.25M19.0 88.8h6.25M19.0 92.0h6.25M25.2 92.0h6.25M19.0 95.2h6.25M19.0 96.8h6.25M39.1 36.0h6.25M45.4 101.6h6.25M51.5 101.6h6.25M51.5 103.2h6.25M39.1 104.8h6.25M45.4 109.6h6.25M51.5 109.6h6.25M45.4 111.2h6.25M45.4 120.8h6.25M39.1 122.4h6.25M51.5 122.4h6.25M51.5 124.0h6.25M39.1 127.2h6.25M45.4 127.2h6.25M51.5 127.2h6.25M45.4 128.8h6.25M39.1 136.8h6.25M45.4 136.8h6.25M51.5 136.8h6.25M51.5 140.0h6.25M45.4 141.6h6.25M51.5 144.8h6.25M39.1 146.4h6.25M51.5 148.0h6.25M51.5 149.6h6.25M51.5 160.8h6.25M45.4 164.0h6.25M51.5 164.0h6.25M39.1 167.2h6.25M45.4 168.8h6.25M51.5 175.2h6.25M45.4 176.8h6.25M51.5 176.8h6.25M45.4 180.0h6.25M51.5 180.0h6.25M45.4 186.4h6.25M39.1 188.0h6.25M45.4 189.6h6.25M51.5 189.6h6.25M45.4 192.8h6.25M51.5 192.8h6.25M45.4 202.4h6.25M45.4 204.0h6.25M39.1 215.2h6.25M45.4 216.8h6.25M71.7 56.8h6.25M71.7 58.4h6.25M65.5 60.0h6.25M71.7 61.6h6.25M59.3 63.2h6.25M71.7 63.2h6.25M71.7 64.8h6.25M65.5 66.4h6.25M71.7 68.0h6.25M71.7 74.4h6.25M71.7 77.6h6.25M59.3 80.8h6.25M59.3 87.2h6.25M71.7 90.4h6.25M59.3 93.6h6.25M65.5 93.6h6.25M59.3 95.2h6.25M71.7 95.2h6.25M85.6 48.8h6.25M91.8 48.8h6.25M79.4 50.4h6.25M91.8 50.4h6.25M91.8 100.0h6.25M79.4 103.2h6.25M91.8 103.2h6.25M79.4 104.8h6.25M91.8 104.8h6.25M85.6 111.2h6.25M79.4 119.2h6.25M85.6 119.2h6.25M91.8 122.4h6.25M91.8 130.4h6.25M91.8 132.0h6.25M79.4 135.2h6.25M91.8 135.2h6.25M91.8 136.8h6.25M85.6 140.0h6.25M85.6 141.6h6.25M91.8 141.6h6.25M85.6 144.8h6.25M91.8 144.8h6.25M79.4 164.0h6.25M79.4 175.2h6.25M85.6 175.2h6.25M91.8 175.2h6.25M79.4 176.8h6.25M85.6 176.8h6.25M91.8 176.8h6.25M79.4 183.2h6.25M85.6 183.2h6.25M79.4 184.8h6.25M85.6 184.8h6.25M91.8 184.8h6.25M79.4 189.6h6.25M79.4 194.4h6.25M91.8 194.4h6.25M79.4 196.0h6.25M85.6 196.0h6.25M91.8 199.2h6.25M79.4 200.8h6.25M79.4 202.4h6.25M85.6 207.2h6.25M91.8 207.2h6.25M79.4 210.4h6.25M85.6 212.0h6.25M91.8 212.0h6.25M79.4 213.6h6.25M79.4 215.2h6.25M91.8 215.2h6.25M79.4 218.4h6.25M91.8 221.6h6.25M112.0 55.2h6.25M112.0 61.6h6.25M105.8 63.2h6.25M99.6 71.2h6.25M105.8 71.2h6.25M105.8 87.2h6.25M99.6 88.8h6.25M99.6 90.4h6.25M99.6 92.0h6.25M99.6 188.0h6.25M99.6 213.6h6.25M132.2 32.8h6.25M126.0 34.4h6.25M126.0 36.0h6.25M119.8 39.2h6.25M119.8 40.8h6.25M126.0 114.4h6.25M119.8 119.2h6.25M132.2 119.2h6.25M126.0 120.8h6.25M119.8 130.4h6.25M126.0 132.0h6.25M126.0 133.6h6.25M119.8 136.8h6.25M119.8 141.6h6.25M126.0 144.8h6.25M132.2 148.0h6.25M119.8 154.4h6.25M119.8 156.0h6.25M126.0 156.0h6.25M119.8 157.6h6.25M119.8 175.2h6.25M119.8 178.4h6.25M126.0 178.4h6.25M126.0 184.8h6.25M132.2 184.8h6.25M132.2 191.2h6.25M119.8 192.8h6.25M119.8 194.4h6.25M119.8 197.6h6.25M126.0 197.6h6.25M126.0 199.2h6.25M126.0 213.6h6.25M126.0 215.2h6.25M126.0 216.8h6.25" stroke="#f6b097" stroke-width="1.6500000000000001" fill="none"/>
<path d="M31.4 55.2h6.25M19.0 64.8h6.25M31.4 64.8h6.25M31.4 68.0h6.25M25.2 69.6h6.25M19.0 72.8h6.25M25.2 72.8h6.25M25.2 76.0h6.25M19.0 79.2h6.25M31.4 79.2h6.25M19.0 82.4h6.25M25.2 82.4h6.25M31.4 82.4h6.25M31.4 87.2h6.25M39.1 37.6h6.25M45.4 37.6h6.25M45.4 44.0h6.25M39.1 98.4h6.25M51.5 98.4h6.25M39.1 100.0h6.25M51.5 100.0h6.25M45.4 106.4h6.25M45.4 108.0h6.25M39.1 111.2h6.25M45.4 122.4h6.25M45.4 125.6h6.25M51.5 130.4h6.25M51.5 135.2h6.25M45.4 138.4h6.25M51.5 138.4h6.25M45.4 143.2h6.25M45.4 149.6h6.25M51.5 154.4h6.25M39.1 157.6h6.25M39.1 165.6h6.25M39.1 168.8h6.25M39.1 170.4h6.25M39.1 183.2h6.25M45.4 183.2h6.25M51.5 183.2h6.25M39.1 184.8h6.25M51.5 184.8h6.25M39.1 189.6h6.25M39.1 191.2h6.25M39.1 192.8h6.25M45.4 215.2h6.25M51.5 215.2h6.25M71.7 53.6h6.25M71.7 82.4h6.25M71.7 84.0h6.25M59.3 90.4h6.25M71.7 96.8h6.25M79.4 42.4h6.25M85.6 103.2h6.25M85.6 106.4h6.25M91.8 106.4h6.25M79.4 112.8h6.25M85.6 112.8h6.25M91.8 112.8h6.25M79.4 117.6h6.25M91.8 117.6h6.25M79.4 122.4h6.25M85.6 125.6h6.25M79.4 128.8h6.25M91.8 133.6h6.25M79.4 141.6h6.25M85.6 143.2h6.25M85.6 148.0h6.25M91.8 148.0h6.25M91.8 149.6h6.25M91.8 152.8h6.25M79.4 154.4h6.25M91.8 156.0h6.25M85.6 159.2h6.25M91.8 159.2h6.25M79.4 165.6h6.25M85.6 165.6h6.25M79.4 170.4h6.25M85.6 170.4h6.25M85.6 173.6h6.25M79.4 180.0h6.25M85.6 188.0h6.25M91.8 188.0h6.25M79.4 191.2h6.25M91.8 191.2h6.25M91.8 197.6h6.25M85.6 199.2h6.25M85.6 200.8h6.25M91.8 200.8h6.25M79.4 204.0h6.25M85.6 204.0h6.25M91.8 204.0h6.25M85.6 205.6h6.25M91.8 205.6h6.25M79.4 207.2h6.25M79.4 208.8h6.25M85.6 210.4h6.25M85.6 215.2h6.25M79.4 216.8h6.25M91.8 218.4h6.25M85.6 220.0h6.25M79.4 223.2h6.25M91.8 223.2h6.25M105.8 55.2h6.25M99.6 56.8h6.25M99.6 61.6h6.25M99.6 76.0h6.25M105.8 76.0h6.25M99.6 85.6h6.25M112.0 88.8h6.25M112.0 92.0h6.25M119.8 34.4h6.25M132.2 34.4h6.25M119.8 36.0h6.25M132.2 36.0h6.25M119.8 100.0h6.25M126.0 104.8h6.25M132.2 104.8h6.25M119.8 112.8h6.25M132.2 112.8h6.25M132.2 114.4h6.25M126.0 117.6h6.25M126.0 128.8h6.25M126.0 138.4h6.25M126.0 159.2h6.25M119.8 165.6h6.25M119.8 170.4h6.25M119.8 172.0h6.25M119.8 188.0h6.25M132.2 188.0h6.25M126.0 194.4h6.25M119.8 196.0h6.25M119.8 210.4h6.25M126.0 210.4h6.25M119.8 212.0h6.25M119.8 216.8h6.25M126.0 218.4h6.25M132.2 220.0h6.25M132.2 221.6h6.25" stroke="#f5a489" stroke-width="1.6500000000000001" fill="none"/>
<path d="M19.0 66.4h6.25M19.0 68.0h6.25M31.4 72.8h6.25M19.0 85.6h6.25M31.4 85.6h6.25M25.2 88.8h6.25M25.2 96.8h6.25M39.1 32.8h6.25M51.5 32.8h6.25M45.4 36.0h6.25M39.1 39.2h6.25M39.1 40.8h6.25M51.5 42.4h6.25M39.1 44.0h6.25M51.5 44.0h6.25M39.1 45.6h6.25M51.5 45.6h6.25M39.1 48.8h6.25M45.4 103.2h6.25M45.4 104.8h6.25M39.1 109.6h6.25M39.1 112.8h6.25M39.1 114.4h6.25M51.5 114.4h6.25M51.5 116.0h6.25M39.1 120.8h6.25M45.4 133.6h6.25M39.1 138.4h6.25M39.1 140.0h6.25M39.1 141.6h6.25M45.4 144.8h6.25M39.1 148.0h6.25M39.1 152.8h6.25M39.1 159.2h6.25M39.1 164.0h6.25M45.4 184.8h6.25M51.5 202.4h6.25M71.7 87.2h6.25M71.7 93.6h6.25M85.6 45.6h6.25M85.6 100.0h6.25M79.4 101.6h6.25M91.8 101.6h6.25M85.6 109.6h6.25M91.8 109.6h6.25M79.4 111.2h6.25M91.8 111.2h6.25M79.4 114.4h6.25M79.4 116.0h6.25M85.6 116.0h6.25M91.8 119.2h6.25M79.4 127.2h6.25M85.6 128.8h6.25M91.8 128.8h6.25M79.4 130.4h6.25M85.6 130.4h6.25M85.6 136.8h6.25M91.8 138.4h6.25M79.4 144.8h6.25M79.4 148.0h6.25M79.4 149.6h6.25M85.6 151.2h6.25M91.8 151.2h6.25M79.4 152.8h6.25M85.6 156.0h6.25M91.8 165.6h6.25M79.4 167.2h6.25M79.4 173.6h6.25M91.8 173.6h6.25M91.8 181.6h6.25M85.6 186.4h6.25M91.8 186.4h6.25M79.4 188.0h6.25M85.6 189.6h6.25M91.8 189.6h6.25M85.6 191.2h6.25M79.4 197.6h6.25M85.6 197.6h6.25M85.6 202.4h6.25M91.8 202.4h6.25M91.8 210.4h6.25M85.6 213.6h6.25M85.6 216.8h6.25M79.4 220.0h6.25M105.8 56.8h6.25M112.0 71.2h6.25M105.8 90.4h6.25M132.2 40.8h6.25M126.0 100.0h6.25M126.0 101.6h6.25M119.8 104.8h6.25M126.0 109.6h6.25M126.0 111.2h6.25M126.0 112.8h6.25M119.8 116.0h6.25M126.0 116.0h6.25M126.0 127.2h6.25M132.2 127.2h6.25M119.8 128.8h6.25M126.0 130.4h6.25M132.2 130.4h6.25M119.8 132.0h6.25M132.2 138.4h6.25M126.0 141.6h6.25M119.8 143.2h6.25M126.0 143.2h6.25M132.2 143.2h6.25M126.0 148.0h6.25M119.8 152.8h6.25M119.8 159.2h6.25M119.8 164.0h6.25M126.0 167.2h6.25M132.2 167.2h6.25M119.8 173.6h6.25M126.0 186.4h6.25M119.8 191.2h6.25M126.0 212.0h6.25M119.8 215.2h6.25M119.8 218.4h6.25" stroke="#f4987b" stroke-width="1.6500000000000001" fill="none"/>
<path d="M19.0 55.2h6.25M25.2 55.2h6.25M25.2 64.8h6.25M31.4 66.4h6.25M31.4 69.6h6.25M25.2 93.6h6.25M31.4 96.8h6.25M45.4 32.8h6.25M51.5 34.4h6.25M51.5 36.0h6.25M45.4 39.2h6.25M51.5 39.2h6.25M45.4 40.8h6.25M51.5 40.8h6.25M45.4 42.4h6.25M45.4 45.6h6.25M39.1 101.6h6.25M39.1 103.2h6.25M39.1 108.0h6.25M45.4 112.8h6.25M45.4 114.4h6.25M39.1 116.0h6.25M39.1 124.0h6.25M45.4 124.0h6.25M51.5 125.6h6.25M45.4 130.4h6.25M45.4 135.2h6.25M45.4 140.0h6.25M51.5 143.2h6.25M39.1 144.8h6.25M45.4 148.0h6.25M39.1 151.2h6.25M45.4 151.2h6.25M45.4 152.8h6.25M39.1 154.4h6.25M39.1 156.0h6.25M45.4 159.2h6.25M45.4 167.2h6.25M51.5 167.2h6.25M39.1 176.8h6.25M51.5 186.4h6.25M71.7 79.2h6.25M71.7 85.6h6.25M91.8 45.6h6.25M79.4 100.0h6.25M85.6 101.6h6.25M91.8 108.0h6.25M79.4 109.6h6.25M85.6 117.6h6.25M85.6 120.8h6.25M91.8 120.8h6.25M91.8 125.6h6.25M91.8 127.2h6.25M79.4 132.0h6.25M85.6 133.6h6.25M91.8 143.2h6.25M91.8 146.4h6.25M79.4 151.2h6.25M85.6 154.4h6.25M91.8 154.4h6.25M79.4 156.0h6.25M79.4 159.2h6.25M85.6 160.8h6.25M85.6 164.0h6.25M85.6 167.2h6.25M91.8 167.2h6.25M85.6 180.0h6.25M91.8 180.0h6.25M85.6 192.8h6.25M91.8 192.8h6.25M79.4 205.6h6.25M91.8 216.8h6.25M91.8 220.0h6.25M79.4 221.6h6.25M85.6 221.6h6.25M105.8 61.6h6.25M132.2 101.6h6.25M132.2 111.2h6.25M132.2 116.0h6.25M119.8 120.8h6.25M132.2 120.8h6.25M132.2 132.0h6.25M119.8 148.0h6.25M132.2 159.2h6.25M126.0 172.0h6.25M119.8 176.8h6.25M126.0 176.8h6.25M119.8 186.4h6.25M126.0 191.2h6.25" stroke="#f38c6d" stroke-width="1.6500000000000001" fill="none"/>
<path d="M25.2 79.2h6.25M25.2 85.6h6.25M19.0 93.6h6.25M31.4 93.6h6.25M39.1 34.4h6.25M45.4 34.4h6.25M39.1 42.4h6.25M45.4 48.8h6.25M45.4 50.4h6.25M51.5 52.0h6.25M45.4 100.0h6.25M45.4 116.0h6.25M39.1 125.6h6.25M39.1 132.0h6.25M39.1 143.2h6.25M51.5 151.2h6.25M45.4 154.4h6.25M51.5 165.6h6.25M71.7 60.0h6.25M71.7 66.4h6.25M85.6 42.4h6.25M85.6 108.0h6.25M79.4 125.6h6.25M79.4 136.8h6.25M85.6 138.4h6.25M79.4 146.4h6.25M85.6 146.4h6.25M85.6 152.8h6.25M91.8 160.8h6.25M79.4 178.4h6.25M85.6 178.4h6.25M85.6 181.6h6.25M79.4 192.8h6.25M112.0 56.8h6.25M119.8 101.6h6.25M119.8 111.2h6.25M126.0 119.2h6.25M119.8 167.2h6.25M119.8 221.6h6.25M126.0 221.6h6.25" stroke="#f2805f" stroke-width="1.6500000000000001" fill="none"/>
<path d="M51.5 48.8h6.25M51.5 50.4h6.25M39.1 52.0h6.25M45.4 52.0h6.25M39.1 106.4h6.25M45.4 132.0h6.25M45.4 156.0h6.25M91.8 42.4h6.25M91.8 98.4h6.25M79.4 106.4h6.25M79.4 108.0h6.25M79.4 120.8h6.25M85.6 127.2h6.25M79.4 133.6h6.25M79.4 143.2h6.25M85.6 149.6h6.25M79.4 160.8h6.25M79.4 181.6h6.25M119.8 127.2h6.25" stroke="#f06e53" stroke-width="1.6500000000000001" fill="none"/>
<path d="M39.1 47.2h6.25M51.5 47.2h6.25M39.1 50.4h6.25M39.1 130.4h6.25M39.1 135.2h6.25M59.3 66.4h6.25M85.6 98.4h6.25M79.4 138.4h6.25M91.8 178.4h6.25" stroke="#ee5c48" stroke-width="1.6500000000000001" fill="none"/>
<path d="M45.4 47.2h6.25M79.4 98.4h6.25" stroke="#ec4b3c" stroke-width="1.6500000000000001" fill="none"/>
<rect x="18.3" y="41.6" width="121.6" height="11.2" fill="none" stroke="#111" stroke-width="1.3"/>
<line x1="140.50" y1="41.80" x2="147.00" y2="31.00" stroke="#555" stroke-width="0.5"/>
<line x1="140.50" y1="52.60" x2="146.00" y2="73.00" stroke="#555" stroke-width="0.5"/>
<text x="149.3" y="32.9" font-size="5.9" text-anchor="start" fill="#333" font-weight="normal" stroke="#333" stroke-width="0.08" letter-spacing="-0.1">Igf2r</text>
<text x="149.3" y="39.0" font-size="5.9" text-anchor="start" fill="#333" font-weight="normal" stroke="#333" stroke-width="0.08" letter-spacing="-0.1">Skida1</text>
<text x="149.3" y="45.1" font-size="5.9" text-anchor="start" fill="#333" font-weight="normal" stroke="#333" stroke-width="0.08" letter-spacing="-0.1">Pcdh7</text>
<text x="149.3" y="51.2" font-size="5.9" text-anchor="start" fill="#333" font-weight="normal" stroke="#333" stroke-width="0.08" letter-spacing="-0.1">Bank1</text>
<text x="149.3" y="57.3" font-size="5.9" text-anchor="start" fill="#333" font-weight="normal" stroke="#333" stroke-width="0.08" letter-spacing="-0.1">Bach2</text>
<text x="149.3" y="63.4" font-size="5.9" text-anchor="start" fill="#333" font-weight="normal" stroke="#333" stroke-width="0.08" letter-spacing="-0.1">Rag1</text>
<text x="149.3" y="69.5" font-size="5.9" text-anchor="start" fill="#333" font-weight="normal" stroke="#333" stroke-width="0.08" letter-spacing="-0.1">Rag2</text>
<text x="149.3" y="75.6" font-size="5.9" text-anchor="start" fill="#333" font-weight="normal" stroke="#333" stroke-width="0.08" letter-spacing="-0.1">Hoxa9</text>
<text x="27.5" y="28.6" font-size="6.7" text-anchor="start" fill="#222" font-weight="normal" transform="rotate(-45 27.5 28.6)" stroke="#222" stroke-width="0.08" letter-spacing="-0.1">E16 Ctrl</text>
<text x="47.65" y="28.6" font-size="6.7" text-anchor="start" fill="#222" font-weight="normal" transform="rotate(-45 47.65 28.6)" stroke="#222" stroke-width="0.08" letter-spacing="-0.1">E16 ME</text>
<text x="67.8" y="28.6" font-size="6.7" text-anchor="start" fill="#222" font-weight="normal" transform="rotate(-45 67.8 28.6)" stroke="#222" stroke-width="0.08" letter-spacing="-0.1">P14 Ctrl</text>
<text x="87.95" y="28.6" font-size="6.7" text-anchor="start" fill="#222" font-weight="normal" transform="rotate(-45 87.95 28.6)" stroke="#222" stroke-width="0.08" letter-spacing="-0.1">P14 ME</text>
<text x="108.1" y="28.6" font-size="6.7" text-anchor="start" fill="#222" font-weight="normal" transform="rotate(-45 108.1 28.6)" stroke="#222" stroke-width="0.08" letter-spacing="-0.1">Adult Ctrl</text>
<text x="128.25" y="28.6" font-size="6.7" text-anchor="start" fill="#222" font-weight="normal" transform="rotate(-45 128.25 28.6)" stroke="#222" stroke-width="0.08" letter-spacing="-0.1">Adult ME</text>
<rect x="53.00" y="236.00" width="1.05" height="6.50" fill="#e82826"/>
<rect x="54.00" y="236.00" width="1.05" height="6.50" fill="#e9322c"/>
<rect x="55.00" y="236.00" width="1.05" height="6.50" fill="#ea3c33"/>
<rect x="56.00" y="236.00" width="1.05" height="6.50" fill="#eb473a"/>
<rect x="57.00" y="236.00" width="1.05" height="6.50" fill="#ec5140"/>
<rect x="58.00" y="236.00" width="1.05" height="6.50" fill="#ed5b47"/>
<rect x="59.00" y="236.00" width="1.05" height="6.50" fill="#ef664e"/>
<rect x="60.00" y="236.00" width="1.05" height="6.50" fill="#f07054"/>
<rect x="61.00" y="236.00" width="1.05" height="6.50" fill="#f17a5b"/>
<rect x="62.00" y="236.00" width="1.05" height="6.50" fill="#f28363"/>
<rect x="63.00" y="236.00" width="1.05" height="6.50" fill="#f28a6b"/>
<rect x="64.00" y="236.00" width="1.05" height="6.50" fill="#f39173"/>
<rect x="65.00" y="236.00" width="1.05" height="6.50" fill="#f4987b"/>
<rect x="66.00" y="236.00" width="1.05" height="6.50" fill="#f49f84"/>
<rect x="67.00" y="236.00" width="1.05" height="6.50" fill="#f5a68c"/>
<rect x="68.00" y="236.00" width="1.05" height="6.50" fill="#f5ad94"/>
<rect x="69.00" y="236.00" width="1.05" height="6.50" fill="#f6b49c"/>
<rect x="70.00" y="236.00" width="1.05" height="6.50" fill="#f7bca5"/>
<rect x="71.00" y="236.00" width="1.05" height="6.50" fill="#f6c1ae"/>
<rect x="72.00" y="236.00" width="1.05" height="6.50" fill="#f6c7b7"/>
<rect x="73.00" y="236.00" width="1.05" height="6.50" fill="#f5ccc0"/>
<rect x="74.00" y="236.00" width="1.05" height="6.50" fill="#f5d2c9"/>
<rect x="75.00" y="236.00" width="1.05" height="6.50" fill="#f5d8d2"/>
<rect x="76.00" y="236.00" width="1.05" height="6.50" fill="#f4dddb"/>
<rect x="77.00" y="236.00" width="1.05" height="6.50" fill="#f4e3e4"/>
<rect x="78.00" y="236.00" width="1.05" height="6.50" fill="#f4e9ed"/>
<rect x="79.00" y="236.00" width="1.05" height="6.50" fill="#f1e9f1"/>
<rect x="80.00" y="236.00" width="1.05" height="6.50" fill="#ebe3ef"/>
<rect x="81.00" y="236.00" width="1.05" height="6.50" fill="#e5ddee"/>
<rect x="82.00" y="236.00" width="1.05" height="6.50" fill="#e0d8ed"/>
<rect x="83.00" y="236.00" width="1.05" height="6.50" fill="#dad2eb"/>
<rect x="84.00" y="236.00" width="1.05" height="6.50" fill="#d4ccea"/>
<rect x="85.00" y="236.00" width="1.05" height="6.50" fill="#cfc7e8"/>
<rect x="86.00" y="236.00" width="1.05" height="6.50" fill="#c9c1e7"/>
<rect x="87.00" y="236.00" width="1.05" height="6.50" fill="#c4bce6"/>
<rect x="88.00" y="236.00" width="1.05" height="6.50" fill="#bab3e2"/>
<rect x="89.00" y="236.00" width="1.05" height="6.50" fill="#b1aade"/>
<rect x="90.00" y="236.00" width="1.05" height="6.50" fill="#a8a1db"/>
<rect x="91.00" y="236.00" width="1.05" height="6.50" fill="#9f98d7"/>
<rect x="92.00" y="236.00" width="1.05" height="6.50" fill="#968fd4"/>
<rect x="93.00" y="236.00" width="1.05" height="6.50" fill="#8c86d0"/>
<rect x="94.00" y="236.00" width="1.05" height="6.50" fill="#837dcd"/>
<rect x="95.00" y="236.00" width="1.05" height="6.50" fill="#7a74c9"/>
<rect x="96.00" y="236.00" width="1.05" height="6.50" fill="#726dc6"/>
<rect x="97.00" y="236.00" width="1.05" height="6.50" fill="#6a68c4"/>
<rect x="98.00" y="236.00" width="1.05" height="6.50" fill="#6263c1"/>
<rect x="99.00" y="236.00" width="1.05" height="6.50" fill="#5a5dbe"/>
<rect x="100.00" y="236.00" width="1.05" height="6.50" fill="#5358bc"/>
<rect x="101.00" y="236.00" width="1.05" height="6.50" fill="#4b53b9"/>
<rect x="102.00" y="236.00" width="1.05" height="6.50" fill="#434eb7"/>
<rect x="103.00" y="236.00" width="1.05" height="6.50" fill="#3b49b4"/>
<rect x="104.00" y="236.00" width="1.05" height="6.50" fill="#3444b2"/>
<text x="55.5" y="232.8" font-size="6" text-anchor="middle" fill="#222" font-weight="normal" stroke="#222" stroke-width="0.08" letter-spacing="-0.1">3</text>
<text x="63.4" y="232.8" font-size="6" text-anchor="middle" fill="#222" font-weight="normal" stroke="#222" stroke-width="0.08" letter-spacing="-0.1">2</text>
<text x="71.3" y="232.8" font-size="6" text-anchor="middle" fill="#222" font-weight="normal" stroke="#222" stroke-width="0.08" letter-spacing="-0.1">1</text>
<text x="79.2" y="232.8" font-size="6" text-anchor="middle" fill="#222" font-weight="normal" stroke="#222" stroke-width="0.08" letter-spacing="-0.1">0</text>
<text x="87.1" y="232.8" font-size="6" text-anchor="middle" fill="#222" font-weight="normal" stroke="#222" stroke-width="0.08" letter-spacing="-0.1">−1</text>
<text x="95.0" y="232.8" font-size="6" text-anchor="middle" fill="#222" font-weight="normal" stroke="#222" stroke-width="0.08" letter-spacing="-0.1">−2</text>
<text x="102.9" y="232.8" font-size="6" text-anchor="middle" fill="#222" font-weight="normal" stroke="#222" stroke-width="0.08" letter-spacing="-0.1">−3</text>
<text x="78.5" y="249.3" font-size="5.9" text-anchor="middle" fill="#222" font-weight="normal" stroke="#222" stroke-width="0.08" letter-spacing="-0.1">Expression</text>
<text x="78.5" y="256.6" font-size="5.9" text-anchor="middle" fill="#222" font-weight="normal" stroke="#222" stroke-width="0.08" letter-spacing="-0.1">(z-score)</text>
<text x="182" y="15.9" font-size="10.6" text-anchor="start" fill="#111" font-weight="bold" stroke="#111" stroke-width="0.45">B</text>
<path d="M259.8 129.2h0M258.4 122.1h0M260.2 128.4h0M259.1 133.2h0M263.4 126.6h0M257.2 134.6h0M261.8 134.6h0M251.9 125.6h0M267.3 121.3h0M260.8 126.2h0M254.1 133.6h0M252.8 128.1h0M256.3 133.1h0M258.7 135.5h0M263.5 129.4h0M261.0 128.2h0M261.2 128.5h0M256.0 129.1h0M267.9 121.0h0M262.5 123.4h0M255.8 131.3h0M254.0 131.7h0M257.4 124.5h0M257.1 123.3h0M265.1 121.6h0M257.0 136.0h0M258.5 122.3h0M257.2 121.3h0M260.1 134.9h0M255.3 124.3h0M257.5 134.7h0M263.6 121.5h0M256.6 134.2h0M254.9 134.5h0M253.7 124.0h0M258.2 127.6h0M261.4 133.1h0M260.4 134.0h0M258.3 134.3h0M256.5 132.8h0M264.4 121.4h0M263.5 131.4h0M257.9 132.8h0M261.4 123.2h0M263.5 134.5h0M256.4 132.8h0M256.2 124.4h0M254.0 131.6h0M259.7 134.6h0M260.1 132.4h0M258.4 130.4h0M258.7 121.6h0M264.3 127.4h0M255.4 133.3h0M264.5 122.4h0M255.5 132.3h0M266.0 124.9h0M263.7 133.1h0M260.8 122.8h0M253.8 129.7h0M262.8 135.4h0M261.3 132.4h0M262.6 132.1h0M256.0 127.1h0M261.3 133.4h0M256.6 135.0h0M264.0 127.6h0M255.7 126.8h0M253.9 122.2h0M257.2 135.8h0M253.2 129.3h0M257.7 133.4h0M253.7 127.4h0M263.8 130.6h0M261.8 121.3h0M260.3 125.6h0M254.5 133.9h0M262.1 135.7h0M266.2 125.5h0M260.1 135.7h0M262.1 128.8h0M265.0 131.2h0M259.4 134.9h0M265.4 124.9h0M262.2 124.9h0M265.8 124.1h0M261.3 130.7h0M265.4 122.5h0M262.8 129.7h0M260.2 123.0h0M257.2 126.6h0M260.6 127.3h0M260.2 134.8h0M265.8 121.1h0M257.2 125.1h0M260.3 125.0h0M263.5 129.4h0M261.2 134.7h0M259.8 135.6h0M255.3 128.8h0M259.0 125.5h0M265.2 126.8h0M253.5 132.2h0M261.1 131.5h0M255.5 133.0h0M261.8 122.4h0M264.2 129.4h0M261.0 131.1h0M258.3 133.0h0M265.8 123.9h0M257.0 122.8h0M256.3 127.3h0M259.0 134.0h0M264.8 123.4h0M266.0 125.3h0M255.2 131.8h0M256.0 129.2h0M258.1 132.8h0M258.9 126.6h0M263.0 131.3h0M258.2 121.3h0M254.9 134.9h0M251.2 122.9h0M260.1 125.4h0M262.5 131.4h0M256.2 135.7h0M252.7 129.2h0M254.6 123.6h0M254.6 133.9h0M258.2 126.6h0M261.3 126.6h0M266.6 123.9h0M254.4 125.7h0M254.7 128.9h0M258.8 135.8h0M254.0 125.3h0M257.2 131.9h0M259.3 125.5h0M262.8 126.8h0M262.7 130.1h0M251.9 122.4h0M262.9 122.0h0M258.6 134.1h0M265.1 126.6h0M259.9 130.3h0M264.1 122.8h0M258.4 121.8h0M254.5 126.2h0M264.0 125.2h0M262.3 126.4h0M263.3 132.8h0M267.5 121.3h0M263.1 127.9h0M263.9 131.2h0M256.4 123.2h0M258.5 134.8h0M262.8 127.7h0M252.6 128.7h0M251.8 123.9h0M253.6 124.0h0M262.5 131.0h0M255.6 133.9h0M262.1 128.3h0M262.2 123.4h0M258.9 121.8h0M251.7 121.8h0M259.3 132.7h0M261.7 131.6h0M259.3 126.4h0M260.0 123.3h0M257.6 131.3h0M265.7 123.3h0M262.7 132.9h0M259.4 121.5h0M254.7 127.4h0M259.0 128.0h0M252.0 126.9h0M259.3 121.5h0M262.9 130.0h0M258.9 127.6h0M252.3 125.6h0M257.8 127.9h0M266.5 121.6h0M258.7 132.0h0M258.4 134.1h0M265.6 123.8h0M256.5 128.9h0M260.2 133.1h0M252.5 122.1h0M251.3 124.3h0M256.1 133.1h0M256.2 125.7h0M260.5 130.7h0M261.1 134.4h0M259.1 134.2h0M255.6 132.2h0M258.1 128.0h0M257.9 130.4h0M254.2 128.1h0M260.4 132.9h0M259.4 126.4h0M260.9 123.2h0M254.5 123.1h0M263.9 124.9h0M255.8 122.5h0M264.0 131.3h0M264.4 132.7h0M252.7 122.7h0M261.5 132.4h0M254.5 132.1h0M257.7 123.5h0M252.9 124.2h0M261.4 130.0h0M256.7 135.7h0M265.3 125.8h0M252.2 121.5h0M262.6 128.4h0M261.6 128.5h0M254.5 133.2h0M254.7 134.4h0M259.2 127.7h0M253.9 127.5h0M255.9 133.2h0M267.2 123.4h0M251.9 122.1h0M262.9 135.1h0M262.5 129.1h0M258.6 131.1h0M258.0 128.3h0M251.8 127.0h0M264.4 125.5h0M258.5 133.3h0M257.5 124.9h0M255.5 133.1h0M252.3 128.3h0M264.2 122.6h0M264.6 125.4h0M257.6 126.6h0M259.1 127.0h0M264.4 121.3h0M263.6 132.1h0M263.4 124.8h0M257.4 123.8h0M265.5 122.6h0M263.1 125.6h0M257.5 124.5h0M252.2 125.2h0M258.6 130.9h0M257.9 135.8h0M260.9 126.4h0M263.9 132.5h0M256.5 126.0h0M260.1 126.1h0M257.4 128.0h0M261.6 121.0h0M263.1 125.5h0M250.5 121.3h0M262.5 126.8h0M257.9 132.2h0M256.5 135.2h0M254.0 130.4h0M263.5 132.2h0M259.1 127.7h0M260.2 121.5h0M261.5 121.1h0M252.0 123.9h0M262.8 127.0h0M262.6 135.3h0M258.7 133.6h0M259.0 133.5h0M252.5 126.8h0M257.6 121.8h0M260.4 128.1h0M256.3 130.5h0M259.9 126.2h0M261.5 131.7h0M253.3 131.6h0M253.9 132.3h0M261.5 133.7h0M264.0 130.2h0M251.8 124.8h0M267.0 121.2h0M262.6 134.9h0M258.7 129.6h0M254.4 121.4h0M265.1 128.1h0M258.5 125.2h0M264.6 121.3h0M253.3 126.9h0M258.3 126.6h0M254.2 132.9h0M253.7 128.1h0M261.2 129.4h0M255.8 129.2h0M257.8 127.3h0M259.5 124.3h0M267.1 121.0h0M254.9 125.0h0M262.7 134.3h0M261.0 124.2h0" stroke="#c4c4c4" stroke-width="1.9" stroke-linecap="round" fill="none"/>
<path d="M234.5 125.8h0" stroke="#c8c8c8" stroke-width="1.9" stroke-linecap="round" fill="none"/>
<path d="M256.2 81.7h0M255.9 95.3h0M253.6 107.7h0M251.6 122.7h0M254.1 60.6h0M252.8 86.1h0M252.7 93.7h0M255.9 102.6h0M253.4 82.6h0M257.1 80.7h0M256.9 62.9h0M253.4 99.2h0M256.9 86.0h0M257.9 82.4h0M256.5 79.5h0M254.3 118.8h0M252.7 64.4h0M255.0 63.5h0M256.7 103.2h0M256.1 63.0h0M256.4 63.4h0M253.0 103.8h0M254.3 81.6h0M255.5 65.7h0M251.8 118.6h0M254.0 86.9h0M257.6 79.0h0M254.3 117.1h0M254.5 82.1h0M255.5 83.6h0M257.1 110.6h0M256.6 95.1h0M252.3 116.1h0M255.5 92.0h0M256.9 121.8h0M256.8 62.2h0M256.5 63.5h0M255.9 117.3h0M256.0 67.5h0M256.6 74.2h0M254.5 92.4h0M250.9 80.3h0M256.4 90.6h0M247.3 104.7h0M257.2 112.5h0M257.4 111.2h0M255.2 121.2h0M254.6 104.9h0M256.5 85.8h0M253.2 123.4h0M253.9 71.5h0M254.0 122.0h0M256.7 65.6h0M254.9 69.8h0M244.3 96.5h0M253.5 65.2h0M255.6 73.5h0M253.8 72.8h0M254.0 69.4h0M255.0 94.2h0M257.5 75.2h0M257.8 80.6h0M252.5 89.9h0M254.4 120.5h0M253.8 92.8h0M253.6 123.4h0M254.8 58.7h0M255.7 110.6h0M254.1 68.4h0M255.2 75.1h0M246.2 100.0h0M256.7 93.3h0M257.2 58.1h0M253.8 112.3h0M255.0 105.3h0M249.9 88.9h0M256.8 114.6h0M247.4 85.5h0M255.4 112.5h0M257.0 92.7h0M252.6 78.6h0M256.3 78.2h0M252.8 81.7h0M257.8 84.0h0M252.3 112.8h0M253.6 82.9h0M252.3 95.2h0M253.4 123.4h0M254.4 98.7h0M254.2 93.6h0M253.7 83.9h0M254.1 71.2h0M256.4 120.4h0M252.7 79.9h0M256.1 67.3h0M254.5 104.7h0M252.7 113.2h0M252.9 73.0h0M257.5 84.9h0M256.0 86.2h0M254.4 108.6h0M252.3 79.9h0M257.9 84.4h0M255.7 110.1h0M254.6 59.2h0M254.4 100.9h0M257.0 91.6h0M256.6 98.4h0M254.2 117.6h0M256.3 91.0h0M256.3 123.1h0M257.7 113.1h0M252.7 99.4h0M256.2 74.1h0M249.4 79.7h0M257.8 88.6h0M251.3 66.9h0M253.7 95.0h0M251.0 118.0h0M257.0 97.7h0M253.6 77.0h0M253.3 95.9h0M252.4 94.2h0M252.3 69.9h0M256.1 101.5h0M255.6 106.7h0M253.4 111.1h0M254.4 88.9h0M255.2 95.6h0M254.1 75.4h0M256.1 100.4h0M251.3 67.6h0M255.8 89.0h0M256.6 103.5h0M251.4 90.1h0M254.7 114.4h0M248.5 95.4h0M257.4 92.7h0M256.4 79.2h0M255.7 117.4h0M255.6 107.6h0M254.9 62.6h0M252.5 91.2h0M253.6 103.9h0M253.6 78.2h0M252.4 62.5h0M254.6 101.9h0M256.5 111.1h0M244.8 95.4h0M255.3 110.3h0M253.6 120.8h0M252.6 77.8h0M254.5 117.1h0M252.5 81.5h0M254.4 60.1h0M252.3 90.9h0M253.9 89.2h0M253.3 118.9h0M254.9 113.3h0M258.0 69.3h0M253.3 71.3h0M252.8 116.1h0M257.4 105.9h0M253.0 115.4h0M247.6 103.9h0M254.0 63.2h0M253.2 104.9h0M256.8 73.5h0M257.3 82.6h0M253.9 96.9h0M253.8 119.2h0M257.9 100.2h0M255.3 87.1h0M254.2 61.0h0M252.7 74.6h0M253.6 76.8h0M253.3 76.4h0M244.6 117.2h0M254.4 88.5h0M253.2 119.3h0M254.3 94.7h0M255.2 101.4h0M256.2 91.4h0M246.3 92.4h0M255.7 109.5h0M256.7 73.5h0M253.6 109.9h0M255.6 90.3h0M255.7 90.9h0M257.3 105.2h0M252.3 69.9h0M254.8 90.7h0M252.6 75.4h0M255.4 117.9h0M253.0 110.2h0M254.0 78.5h0M253.7 99.0h0M257.0 96.9h0M253.1 69.3h0M256.8 103.6h0M254.5 62.0h0M248.8 72.3h0M257.9 90.3h0M256.5 67.5h0M257.4 60.6h0M253.9 67.3h0M252.4 86.0h0M256.5 123.7h0M255.4 73.2h0M257.6 74.0h0M257.9 82.0h0M254.5 98.3h0M254.2 100.9h0M255.6 103.8h0M254.5 116.5h0M256.7 113.6h0M253.3 72.2h0M253.4 94.3h0M254.0 72.2h0M250.6 87.5h0M254.4 114.9h0M254.4 62.8h0M253.3 76.1h0M257.6 75.3h0M254.3 105.2h0M250.6 68.1h0M257.5 108.5h0M254.8 59.3h0M254.1 63.5h0M252.5 108.9h0M252.4 84.0h0M252.4 68.0h0M255.4 78.6h0M253.7 67.0h0M253.1 105.9h0M256.3 71.5h0M257.2 84.8h0M254.2 72.9h0M252.3 72.2h0M256.9 99.6h0M256.1 122.4h0M256.2 118.7h0M251.4 102.0h0M252.7 73.5h0M252.5 86.2h0M255.1 83.3h0M254.5 76.5h0M256.1 89.4h0M254.2 73.8h0M255.6 85.9h0M256.3 104.3h0M254.7 59.5h0M252.8 62.2h0M254.9 90.7h0M252.3 79.5h0M255.5 80.9h0M253.3 75.3h0M257.7 89.0h0M257.7 81.9h0M255.8 108.9h0M253.8 85.1h0M254.4 112.8h0M253.0 118.0h0M254.3 91.5h0M253.3 122.5h0M253.6 73.1h0M255.0 58.1h0M256.0 73.8h0M255.5 94.2h0M246.6 112.9h0M254.0 80.9h0M256.2 105.3h0M253.1 121.6h0M255.5 99.0h0M256.5 82.4h0M253.6 93.2h0M255.2 79.4h0M252.6 66.3h0M252.9 64.7h0M255.0 87.8h0M257.2 68.7h0M255.3 61.5h0M256.4 110.6h0M254.1 74.6h0M257.1 80.0h0M254.6 112.7h0M257.0 104.7h0M254.4 110.9h0M253.3 102.2h0M257.7 58.9h0M256.2 122.0h0M254.5 85.7h0M245.1 119.6h0M252.4 105.1h0M258.0 76.9h0M252.4 65.9h0M254.4 93.8h0M257.1 78.4h0M255.8 76.7h0M247.1 108.5h0M256.8 103.8h0M252.8 67.7h0M255.0 119.6h0M252.3 65.9h0M255.8 95.4h0M255.0 76.1h0M252.5 82.1h0M254.2 62.2h0M255.0 63.2h0M257.2 123.8h0M256.9 90.0h0M255.4 84.1h0M253.8 101.4h0M258.0 120.0h0M256.4 87.3h0M253.2 69.6h0M254.3 65.8h0M255.2 107.7h0M257.8 58.7h0M257.0 58.7h0M254.5 110.3h0M256.7 111.0h0M257.7 123.1h0M253.7 84.5h0M255.5 118.0h0M254.3 73.0h0M254.3 101.4h0M253.8 100.1h0M252.7 117.7h0M253.4 80.1h0M256.1 107.1h0M253.0 69.7h0M252.3 81.1h0M254.1 91.2h0M246.2 93.5h0M256.6 116.1h0M251.2 65.2h0M254.6 121.5h0M253.8 104.6h0M246.6 102.7h0M257.9 70.1h0M254.4 67.8h0M255.8 100.5h0M255.8 116.6h0M252.9 91.3h0M254.8 113.3h0M254.4 101.9h0M255.5 73.2h0M255.8 92.0h0M255.6 87.5h0M254.9 119.5h0M254.0 123.5h0M247.2 106.6h0M257.9 115.3h0M257.1 90.4h0M251.0 100.8h0M258.0 110.6h0M256.4 62.3h0M254.8 74.5h0M253.3 93.4h0M252.6 76.5h0M255.0 94.6h0M257.2 74.0h0M257.5 108.9h0M254.3 110.6h0M254.2 64.6h0M252.9 115.1h0M257.1 70.0h0M244.5 98.7h0M255.8 123.2h0M253.3 115.9h0M252.3 102.1h0M255.9 80.4h0M256.2 76.4h0M256.2 69.9h0M252.9 88.8h0M254.3 120.1h0M251.4 70.9h0M254.0 106.6h0M255.9 84.9h0M254.6 86.0h0M257.7 88.1h0M253.6 80.9h0M257.3 96.2h0M256.1 76.9h0M248.8 88.0h0M254.8 107.1h0M254.0 62.2h0M248.3 87.1h0M253.6 103.9h0M257.4 85.2h0M254.2 74.6h0M255.6 112.2h0M257.4 94.0h0M254.4 63.8h0M254.2 105.7h0M244.6 117.3h0M254.3 99.8h0M256.1 88.7h0M252.3 98.0h0M257.0 123.5h0M258.0 100.9h0M254.6 62.4h0M257.9 101.3h0M253.0 71.8h0M252.7 84.0h0M255.8 69.0h0M256.9 107.0h0M252.9 106.2h0M257.2 88.9h0M252.3 120.3h0M255.3 81.2h0M253.9 65.3h0M255.5 91.5h0M255.2 66.6h0M253.6 77.4h0M253.5 85.3h0M254.9 87.8h0M257.1 114.1h0M251.0 68.2h0M257.2 84.8h0M252.3 121.6h0M256.5 68.1h0M255.3 105.0h0M254.3 59.9h0M257.1 121.8h0M253.0 61.0h0M257.5 75.2h0M256.0 79.7h0M248.9 116.5h0M248.2 91.1h0M253.7 77.8h0M255.0 82.3h0M254.8 81.7h0M252.9 61.3h0M254.5 92.8h0M254.4 72.7h0M253.5 78.8h0M252.3 107.5h0M247.0 84.8h0M247.1 97.2h0M253.9 97.5h0M254.0 98.2h0M256.6 90.8h0M253.9 61.5h0M254.7 75.8h0M253.9 114.8h0M257.9 102.9h0M254.0 112.9h0M255.9 112.1h0M252.8 61.7h0M257.6 99.2h0M257.6 100.2h0M252.2 107.7h0M256.1 106.6h0M245.9 122.9h0M256.6 109.6h0M254.7 82.9h0M256.5 65.8h0M257.1 62.7h0M252.9 102.0h0M257.7 65.8h0M245.8 95.0h0M257.1 85.4h0M254.9 66.1h0M254.7 60.1h0M248.1 102.5h0M256.7 103.5h0M253.2 64.9h0M254.2 96.7h0M255.6 68.8h0M255.5 92.3h0M255.6 113.6h0M248.1 89.7h0M253.7 104.0h0M253.7 106.2h0M254.5 62.2h0M255.8 105.3h0M251.7 94.9h0M253.5 88.1h0M253.4 44.4h0M256.5 50.9h0M255.7 55.6h0M253.4 58.7h0M240.3 84.9h0M238.0 96.0h0M242.0 92.0h0M236.5 104.0h0M244.0 88.0h0" stroke="#1f5a96" stroke-width="1.9" stroke-linecap="round" fill="none"/>
<path d="M252.9 116.1h0M255.9 103.6h0M255.3 96.0h0M254.7 110.9h0M253.1 104.3h0M255.6 121.6h0M252.9 117.6h0M253.4 117.0h0M254.6 100.6h0M253.0 112.1h0M254.8 116.4h0M256.2 120.2h0M254.0 114.3h0M255.4 121.6h0M255.9 103.1h0M253.6 115.4h0M252.6 102.0h0M253.5 110.0h0M253.5 103.2h0M254.4 98.7h0M253.6 102.6h0M254.5 102.8h0M253.1 119.5h0M255.9 119.1h0M254.7 112.1h0M254.6 115.5h0M256.2 113.5h0M253.5 116.7h0M256.2 96.5h0M255.6 105.2h0" stroke="#6a6448" stroke-width="1.9" stroke-linecap="round" fill="none"/>
<path d="M266.4 90.7h0M277.3 81.4h0M269.5 108.2h0M264.2 115.2h0M274.4 112.4h0M269.6 73.0h0M266.2 72.9h0M266.8 107.0h0M265.9 68.4h0M266.2 106.8h0M261.7 64.0h0M276.5 109.1h0M265.4 56.4h0M275.8 101.8h0M276.9 121.2h0M272.0 100.3h0M264.5 69.0h0M271.8 67.3h0M262.6 66.1h0M264.0 67.8h0M275.5 122.8h0M268.2 69.1h0M268.6 64.2h0M276.1 107.0h0M277.6 102.1h0M275.5 100.0h0M266.8 99.7h0M268.1 108.5h0M273.7 86.9h0M262.9 119.6h0M268.4 94.5h0M268.3 71.5h0M273.6 104.7h0M266.4 56.9h0M270.7 116.4h0M269.6 112.0h0M268.1 91.7h0M270.3 110.3h0M276.6 121.2h0M268.4 88.9h0M279.4 68.2h0M275.8 76.5h0M277.0 100.4h0M267.9 95.6h0M271.8 106.8h0M268.8 108.0h0M270.5 62.9h0M270.7 76.0h0M266.3 75.4h0M272.5 114.2h0M268.6 97.2h0M263.5 63.3h0M264.9 66.1h0M273.4 95.7h0M270.2 107.2h0M272.6 82.9h0M261.3 120.5h0M275.4 121.8h0M270.0 119.5h0M275.3 83.9h0M265.6 122.1h0M265.2 59.1h0M276.9 112.1h0M266.4 74.9h0M266.0 55.6h0M272.1 99.9h0M264.9 64.3h0M272.1 68.8h0M273.4 72.6h0M265.3 53.6h0M268.2 102.7h0M264.1 109.2h0M264.5 104.2h0M270.0 93.0h0M263.4 63.7h0M272.7 63.5h0M265.7 89.4h0M267.6 68.1h0M267.9 83.2h0M267.3 104.3h0M272.5 120.5h0M273.4 122.3h0M266.0 79.5h0M269.8 101.0h0M275.4 98.0h0M262.0 82.4h0M277.1 101.4h0M272.7 66.1h0M267.5 56.8h0M263.7 60.0h0M276.5 122.6h0M273.7 101.8h0" stroke="#c8102e" stroke-width="1.9" stroke-linecap="round" fill="none"/>
<path d="M262.0 89.4h0M263.6 123.2h0M264.7 118.2h0M266.4 75.8h0M275.2 96.9h0M266.0 109.8h0M264.0 109.0h0M265.1 113.0h0M263.8 93.1h0M262.4 92.5h0M276.6 121.7h0M273.3 122.9h0M265.6 78.5h0M261.2 121.9h0M264.4 101.5h0M271.1 111.1h0M265.4 102.7h0M270.2 122.2h0M262.7 92.4h0M264.7 59.3h0M279.3 109.0h0M262.4 85.8h0M264.9 73.3h0M276.2 92.4h0M265.0 91.2h0M262.5 87.5h0M270.9 122.3h0M267.9 99.7h0M261.2 114.0h0M266.9 84.8h0M265.7 61.6h0M263.7 113.8h0" stroke="#f5a01b" stroke-width="1.9" stroke-linecap="round" fill="none"/>
<path d="M273.4 114.1h0M269.1 122.7h0M273.1 122.0h0M269.4 112.1h0M269.8 112.2h0M270.9 120.0h0" stroke="#f08a1c" stroke-width="1.9" stroke-linecap="round" fill="none"/>
<path d="M273.0 70.0h0M268.7 98.4h0M268.6 107.9h0M261.7 70.2h0M267.4 56.7h0M268.5 58.0h0M263.3 60.0h0M263.5 70.9h0M267.9 60.4h0M268.8 118.9h0M270.5 55.6h0M264.4 59.5h0M277.3 111.9h0M267.6 71.2h0M265.6 56.1h0M268.9 104.0h0M265.8 120.2h0M268.5 122.4h0M272.2 85.0h0M275.0 70.1h0M270.0 77.2h0M281.4 110.5h0M268.7 57.2h0M262.9 64.5h0M271.2 102.6h0M266.4 72.3h0M267.4 119.8h0M262.2 97.3h0M275.9 78.5h0M263.9 58.1h0M262.5 97.6h0M263.6 56.3h0M266.6 55.6h0M274.3 102.5h0M263.0 64.9h0M274.3 85.9h0M272.6 111.0h0M270.6 85.9h0M266.3 61.5h0M276.1 99.3h0M273.1 92.9h0M268.6 83.7h0M275.3 69.2h0M273.6 61.8h0M266.1 97.4h0M268.2 78.4h0M267.6 63.7h0M268.9 122.2h0M268.3 104.6h0M270.2 119.0h0M269.7 89.0h0M269.3 106.1h0M271.3 122.1h0M267.4 86.9h0M269.3 58.3h0M262.0 100.6h0M263.4 101.3h0M273.5 86.7h0M268.5 121.3h0M268.4 123.2h0M272.3 103.9h0M265.6 89.4h0M266.8 73.0h0M270.9 94.1h0M266.0 102.2h0M268.9 62.4h0M267.9 80.0h0M266.2 70.1h0M277.2 100.6h0M267.8 66.1h0M271.7 97.6h0M273.4 116.6h0M263.3 61.0h0M264.0 58.9h0M267.7 85.0h0M264.9 88.4h0M280.0 89.2h0M271.6 65.7h0M271.2 78.7h0M266.2 104.5h0M272.8 105.7h0M266.0 56.9h0M279.7 121.3h0M264.7 115.8h0" stroke="#c8102e" stroke-width="1.9" stroke-linecap="round" fill="none"/>
<path d="M263.2 114.2h0M265.3 121.5h0M273.2 120.1h0M263.7 119.5h0M273.0 117.4h0M265.5 122.6h0M266.3 118.8h0M264.5 117.2h0M270.7 120.5h0M264.5 119.9h0M271.3 121.7h0" stroke="#f08a1c" stroke-width="1.9" stroke-linecap="round" fill="none"/>
<path d="M262.4 90.6h0M264.0 60.7h0M276.3 87.8h0M268.4 119.1h0M262.3 115.6h0M264.4 74.3h0M264.4 109.7h0M273.4 105.9h0M268.0 73.1h0M265.2 79.6h0M272.9 105.6h0M261.9 81.9h0M263.8 112.8h0M270.1 54.2h0M269.7 91.7h0M265.8 116.5h0M267.0 82.5h0M268.5 84.0h0M263.3 97.2h0M261.7 84.9h0M267.9 54.1h0M278.8 78.1h0M265.3 73.9h0M272.4 83.1h0M267.9 120.4h0M264.4 95.3h0M264.6 115.6h0M262.9 76.1h0M261.2 115.4h0M262.4 72.5h0M261.2 105.8h0M261.9 87.3h0M264.6 102.8h0M265.2 74.1h0M263.2 96.2h0" stroke="#f5a01b" stroke-width="1.9" stroke-linecap="round" fill="none"/>
<path d="M263.7 118.1h0M267.2 118.7h0M265.7 112.3h0M267.2 119.1h0M270.3 117.7h0M266.7 119.6h0M269.1 114.1h0M269.9 113.3h0M269.5 121.4h0M271.5 123.2h0M264.5 118.5h0" stroke="#f08a1c" stroke-width="1.9" stroke-linecap="round" fill="none"/>
<path d="M266.0 91.4h0M263.3 111.8h0M261.4 83.9h0M263.9 75.0h0M262.5 90.0h0M270.0 111.9h0M261.3 76.1h0M265.2 78.9h0M271.1 91.4h0M261.1 90.2h0M263.5 104.2h0M265.2 96.3h0M275.4 111.8h0M276.7 114.1h0M278.8 110.5h0M261.1 123.1h0M261.7 89.3h0M262.4 89.0h0M271.2 106.0h0M266.8 55.5h0M261.9 111.1h0M263.8 92.4h0M269.6 110.9h0M266.9 114.7h0M270.3 108.2h0M263.1 96.9h0M268.8 85.4h0M263.8 73.9h0M265.1 99.2h0M262.9 95.2h0M261.1 102.7h0M270.2 116.8h0" stroke="#f5a01b" stroke-width="1.9" stroke-linecap="round" fill="none"/>
<path d="M274.1 68.7h0M281.2 117.8h0M270.0 96.0h0M264.3 120.1h0M264.5 78.5h0M269.0 99.3h0M262.9 120.8h0M263.7 64.9h0M267.5 70.7h0M263.0 101.8h0M263.5 67.9h0M263.6 80.4h0M278.1 99.0h0M270.0 59.7h0M268.3 79.6h0M266.1 57.1h0M267.8 101.2h0M274.3 74.2h0M273.6 62.1h0M266.1 100.3h0M266.2 70.8h0M273.9 69.9h0M268.2 68.3h0M281.7 107.3h0M264.3 96.3h0M264.4 77.6h0M263.6 90.5h0M264.6 58.0h0M265.4 53.9h0M269.6 59.0h0M266.9 112.0h0M280.3 74.7h0M263.8 56.7h0M269.5 87.3h0M267.4 73.5h0M266.9 62.8h0M262.3 59.0h0M265.1 84.3h0M275.6 80.4h0M272.4 94.4h0M273.5 78.9h0M272.1 61.2h0M274.5 114.7h0M261.9 78.1h0M271.5 56.8h0M267.4 117.7h0M269.4 65.1h0M262.6 84.4h0M272.5 64.0h0M270.1 74.8h0M263.4 103.6h0M270.3 82.8h0M280.5 122.7h0M270.5 84.3h0M267.2 55.5h0M268.2 73.2h0M270.8 57.0h0M270.5 75.5h0M270.4 79.5h0M264.6 65.9h0M278.8 102.0h0M266.2 55.6h0M265.7 96.6h0M280.0 76.7h0M264.9 59.9h0M269.2 88.4h0M281.5 90.2h0M270.0 62.1h0M267.1 123.1h0M263.9 57.4h0M274.1 83.5h0M267.7 118.7h0M265.4 57.5h0M268.3 90.6h0M270.1 60.0h0M262.9 120.4h0M267.0 70.7h0M274.8 115.6h0M262.9 60.2h0M271.3 72.9h0M275.1 92.4h0M272.8 53.8h0M262.9 116.2h0M265.5 53.5h0M272.9 83.8h0M261.7 65.0h0M273.7 65.7h0" stroke="#c8102e" stroke-width="1.9" stroke-linecap="round" fill="none"/>
<path d="M273.0 113.4h0M265.9 122.4h0M269.6 117.0h0M262.8 123.3h0M263.8 121.7h0M272.9 123.2h0M262.3 123.0h0M268.6 119.5h0" stroke="#f08a1c" stroke-width="1.9" stroke-linecap="round" fill="none"/>
<path d="M261.5 96.1h0M269.4 58.9h0M269.4 58.1h0M268.1 92.3h0M270.8 112.5h0M272.5 74.0h0M261.7 69.1h0M265.5 63.1h0M261.7 69.3h0M272.0 106.3h0M272.3 76.1h0M268.3 93.9h0M274.4 95.2h0M269.6 89.3h0M261.6 90.4h0M272.7 98.6h0M268.7 81.8h0M270.2 109.5h0M269.0 57.8h0M266.5 57.0h0M281.8 107.2h0M265.9 58.9h0M274.0 99.4h0M274.8 66.7h0M264.9 110.3h0M268.9 101.2h0M267.0 65.0h0M264.7 55.5h0M269.8 76.7h0M267.1 69.8h0M274.2 122.9h0M263.5 60.7h0M275.3 121.5h0M271.9 96.2h0M273.5 110.3h0M277.0 94.4h0M262.2 86.7h0M265.6 96.6h0M270.5 61.8h0M271.1 100.3h0M262.4 76.2h0M275.8 120.6h0M267.7 58.6h0M269.5 75.9h0M272.5 106.8h0M262.1 108.7h0M262.5 62.6h0M266.5 92.7h0M266.4 53.6h0M275.0 93.7h0M270.5 74.7h0M273.6 114.6h0M270.4 86.9h0M267.5 59.9h0M269.0 59.8h0M264.0 64.1h0M270.3 67.8h0M269.3 121.8h0M266.0 110.0h0M269.7 53.7h0M270.5 53.9h0M267.6 94.5h0M272.2 104.1h0M263.6 61.5h0M262.2 95.5h0M270.6 68.4h0M261.5 67.7h0M262.2 110.8h0M266.5 78.3h0M281.1 109.9h0M266.8 54.3h0M269.5 108.3h0M269.4 109.1h0M268.8 72.8h0M272.6 97.0h0M268.1 62.2h0M277.3 119.5h0M275.3 104.4h0M262.7 58.6h0M265.5 65.7h0M267.0 54.7h0M265.5 65.0h0M261.5 65.9h0" stroke="#c8102e" stroke-width="1.9" stroke-linecap="round" fill="none"/>
<path d="M265.8 67.5h0M261.4 114.1h0M264.3 82.6h0M271.5 122.7h0M274.5 76.1h0M265.1 81.4h0M266.6 114.8h0M262.0 92.2h0M265.1 80.5h0M263.2 101.1h0M276.7 66.9h0M269.4 100.0h0M268.5 56.6h0M264.5 100.7h0M261.5 113.2h0M262.9 79.2h0M261.6 79.7h0M266.8 105.1h0M270.3 103.0h0M261.8 99.6h0M261.3 120.1h0M276.1 121.1h0M273.1 117.6h0M267.0 88.0h0M270.2 55.5h0M263.0 110.0h0M262.2 85.8h0M266.8 97.5h0M265.2 106.0h0M274.0 65.0h0M265.6 62.2h0M269.2 119.0h0M276.0 120.5h0M261.3 76.6h0M281.2 123.6h0M274.1 108.6h0M263.9 78.7h0M262.4 73.1h0M263.9 95.3h0" stroke="#f5a01b" stroke-width="1.9" stroke-linecap="round" fill="none"/>
<path d="M277.0 94.5h0M273.4 113.0h0M261.7 74.5h0M262.3 100.7h0M263.2 98.8h0M267.5 106.0h0M262.1 118.1h0M268.1 104.3h0M270.1 119.7h0M272.5 108.4h0M280.5 116.9h0M261.9 69.9h0M273.4 59.8h0M270.8 116.2h0M264.7 113.6h0M271.9 68.8h0M270.8 76.3h0M267.7 100.7h0M262.1 92.4h0M269.4 91.7h0M271.7 72.6h0M267.2 105.1h0M273.3 115.0h0M266.1 86.1h0M271.8 80.6h0M276.0 83.3h0M270.8 66.7h0M262.6 59.6h0M264.3 54.9h0M266.9 58.4h0M265.5 102.2h0M269.6 78.3h0M263.3 108.8h0M264.0 102.8h0M261.4 111.2h0M261.2 112.4h0M265.4 115.8h0M266.0 83.2h0M264.9 70.3h0M274.1 69.8h0M263.6 67.9h0M267.9 66.4h0M264.3 62.6h0M266.0 91.8h0M274.9 116.2h0M265.3 62.9h0M272.7 95.7h0M269.9 119.9h0M266.1 84.3h0M280.4 95.2h0M264.4 71.8h0M267.7 101.4h0M267.1 88.7h0M271.0 78.2h0M261.1 94.6h0M269.2 54.7h0M265.5 120.8h0M267.7 77.0h0M269.6 58.2h0M261.9 68.3h0M261.4 112.1h0M273.3 70.9h0M267.7 102.3h0M265.5 108.3h0M273.1 86.3h0M270.7 61.8h0M271.8 85.9h0M274.9 96.8h0M262.6 64.8h0M272.8 124.0h0M281.3 94.6h0M271.4 65.5h0M261.5 82.6h0M270.6 56.1h0M267.5 57.0h0M265.5 58.0h0M266.4 92.2h0M268.5 66.8h0M268.2 65.0h0M279.9 106.1h0M272.4 57.5h0M270.0 94.3h0M262.2 111.4h0M271.0 67.6h0M267.1 67.4h0M271.4 100.9h0M275.5 98.3h0M265.0 71.5h0M267.3 99.7h0M268.1 106.9h0M277.9 117.1h0M273.9 101.6h0M275.1 71.7h0" stroke="#c8102e" stroke-width="1.9" stroke-linecap="round" fill="none"/>
<path d="M263.9 112.7h0M268.7 114.7h0M269.4 113.5h0M263.7 122.6h0M270.6 117.0h0" stroke="#f08a1c" stroke-width="1.9" stroke-linecap="round" fill="none"/>
<path d="M262.0 91.8h0M264.4 106.1h0M264.2 124.0h0M261.1 98.0h0M261.9 96.5h0M265.2 77.2h0M272.8 101.9h0M267.1 120.2h0M265.7 99.7h0M264.5 87.0h0M265.4 84.4h0M262.9 123.4h0M271.7 114.4h0M266.5 99.1h0M269.7 54.6h0M263.7 107.9h0M264.6 81.5h0M269.9 120.6h0M261.8 101.3h0M273.8 102.1h0M263.0 107.0h0M265.7 81.7h0M262.5 103.9h0M262.2 79.5h0M261.6 122.9h0M271.4 110.1h0M267.3 92.8h0M261.5 77.2h0M263.5 86.5h0M261.9 114.8h0M262.0 77.5h0M261.3 93.2h0" stroke="#f5a01b" stroke-width="1.9" stroke-linecap="round" fill="none"/>
<path d="M268.1 98.3h0M266.7 93.6h0M267.2 121.9h0M262.5 71.3h0M261.3 105.8h0M263.1 72.3h0M265.1 111.6h0M262.9 73.7h0M264.4 83.2h0M263.1 108.5h0M264.7 84.2h0M265.5 86.3h0M263.7 75.7h0M261.3 78.6h0M272.8 116.0h0M264.1 85.9h0M264.6 98.0h0M261.7 90.0h0M261.1 97.9h0M271.4 118.8h0M271.4 72.0h0M267.5 118.3h0M274.5 101.4h0M263.9 111.9h0M272.5 117.1h0M267.6 117.0h0M264.4 112.9h0M269.5 96.1h0M265.5 96.0h0M272.1 68.1h0M265.6 73.3h0M263.7 66.0h0M261.7 105.2h0M267.5 58.1h0M265.6 83.6h0M264.3 57.1h0M261.3 79.2h0M268.1 87.2h0M273.5 121.1h0M261.9 104.1h0M263.3 111.1h0M262.1 93.3h0M265.9 63.7h0M269.9 85.9h0" stroke="#f5a01b" stroke-width="1.9" stroke-linecap="round" fill="none"/>
<path d="M272.9 119.4h0M268.8 123.3h0M266.2 120.7h0M262.2 113.7h0M266.4 115.9h0" stroke="#f08a1c" stroke-width="1.9" stroke-linecap="round" fill="none"/>
<path d="M273.0 112.4h0M272.8 66.5h0M266.2 97.4h0M276.2 70.1h0M266.8 116.0h0M273.2 73.6h0M272.8 59.6h0M264.1 56.5h0M272.2 79.8h0M271.7 111.6h0M272.5 82.3h0M268.1 69.0h0M266.5 61.8h0M268.9 57.8h0M276.5 113.6h0M269.5 86.5h0M271.2 74.7h0M280.9 82.3h0M267.6 80.3h0M264.6 63.9h0M271.8 69.9h0M266.4 89.5h0M268.5 105.4h0M273.9 116.7h0M264.4 83.7h0M273.2 107.5h0M262.6 75.5h0M266.7 54.4h0M264.2 93.4h0M275.4 96.2h0M264.4 69.5h0M267.3 74.2h0M262.9 60.5h0M273.4 62.7h0M276.6 106.0h0M273.7 63.3h0M275.2 61.5h0M268.8 87.5h0M270.5 81.9h0M271.5 70.4h0M276.3 112.3h0M268.1 74.2h0M269.2 66.7h0M270.3 79.2h0M266.1 64.5h0M268.5 66.7h0M271.8 117.7h0M278.0 91.6h0M261.7 61.4h0M262.4 60.8h0M274.2 56.9h0M268.4 66.7h0M263.3 57.8h0M265.8 91.1h0M269.2 81.8h0M264.3 112.7h0M263.8 95.2h0M264.6 56.2h0M266.2 68.2h0M266.9 58.5h0M273.5 99.0h0M267.9 92.2h0M278.8 79.1h0M273.3 60.7h0M269.4 91.1h0M261.4 115.4h0M274.1 116.8h0M266.6 82.3h0M270.7 102.2h0M263.8 63.0h0M269.4 77.3h0M282.1 103.9h0M280.7 83.2h0M265.5 107.0h0M265.4 77.7h0M265.5 57.8h0M277.8 90.8h0M263.0 70.8h0M262.0 70.5h0M279.4 91.4h0M262.4 118.1h0" stroke="#c8102e" stroke-width="1.9" stroke-linecap="round" fill="none"/>
<path d="M264.6 113.3h0M271.0 58.0h0M267.6 93.3h0M268.3 101.0h0M275.4 107.9h0M263.6 70.6h0M263.1 115.9h0M263.1 120.2h0M262.3 86.4h0M269.5 107.1h0M261.8 65.7h0M275.3 79.2h0M282.1 110.6h0M265.4 106.7h0M266.7 99.1h0M269.8 84.6h0M262.9 110.1h0M276.5 70.0h0M274.8 83.7h0M269.2 69.0h0M264.5 104.8h0M277.0 123.9h0M263.9 111.7h0M274.3 103.5h0M274.4 80.8h0M262.1 117.8h0M262.9 62.7h0M275.8 119.1h0M270.2 71.5h0M264.5 61.5h0M270.7 59.0h0M268.5 80.8h0M263.6 93.9h0M272.2 75.5h0M280.7 80.0h0M266.8 112.3h0M264.6 54.5h0M263.5 68.0h0M271.9 102.9h0M267.9 69.5h0M267.0 101.0h0M274.9 119.2h0M261.7 62.1h0M265.7 117.5h0M268.9 113.5h0M263.8 70.3h0M280.0 92.5h0M263.7 90.4h0M268.0 55.6h0M270.9 83.3h0M265.1 56.2h0M271.2 93.6h0M267.5 93.9h0M268.3 83.2h0M272.2 80.1h0M270.0 84.7h0M277.8 96.5h0M275.0 60.9h0M264.7 56.8h0M275.1 70.1h0M274.8 89.2h0M268.0 57.9h0M266.6 54.9h0M277.7 62.6h0M266.5 92.7h0M271.0 86.1h0M276.6 117.3h0M265.7 102.5h0M268.4 122.3h0M274.3 65.0h0M276.4 89.7h0M261.6 78.9h0M267.2 61.2h0M264.0 101.0h0M266.1 63.4h0M262.5 62.4h0M270.4 92.3h0M273.5 72.2h0M276.7 100.2h0M272.4 90.2h0M268.2 56.4h0M270.3 71.5h0M269.2 59.5h0M274.7 75.3h0M265.1 56.6h0M275.8 91.9h0M266.6 108.1h0M264.0 123.3h0M268.3 83.1h0M262.8 58.7h0" stroke="#c8102e" stroke-width="1.9" stroke-linecap="round" fill="none"/>
<path d="M267.9 117.9h0M262.4 93.4h0M262.2 89.2h0M263.9 85.6h0M262.9 86.6h0M265.3 74.0h0M271.7 88.4h0M263.6 78.4h0M264.2 89.3h0M263.9 90.0h0M271.0 55.2h0M262.0 119.5h0M273.5 102.5h0M271.9 119.6h0M278.6 121.8h0M262.1 90.4h0M263.0 86.9h0M264.1 123.3h0M264.7 81.0h0M266.0 80.5h0M265.0 100.8h0M261.6 72.8h0M261.8 75.4h0M262.3 120.9h0M269.4 120.9h0M261.2 117.9h0M261.6 75.4h0M265.1 92.0h0M265.6 72.2h0M271.8 86.6h0M260.9 113.1h0M265.6 75.7h0M261.6 88.5h0M264.7 77.6h0M267.7 88.7h0M264.8 55.9h0M264.8 113.0h0" stroke="#f5a01b" stroke-width="1.9" stroke-linecap="round" fill="none"/>
<path d="M269.2 121.2h0M273.3 121.9h0M273.2 117.4h0" stroke="#f08a1c" stroke-width="1.9" stroke-linecap="round" fill="none"/>
<path d="M264.5 118.2h0M266.0 115.0h0M267.8 119.4h0M264.8 114.3h0M265.3 115.2h0M262.3 115.4h0M268.4 114.9h0M270.7 121.6h0M266.4 117.5h0M263.3 112.1h0M263.0 123.1h0" stroke="#f08a1c" stroke-width="1.9" stroke-linecap="round" fill="none"/>
<path d="M269.8 83.4h0M271.8 57.9h0M276.5 120.7h0M264.9 107.5h0M271.1 98.8h0M268.6 56.9h0M265.1 53.7h0M271.9 59.4h0M274.4 118.2h0M269.5 94.3h0M268.1 66.1h0M278.2 89.2h0M261.6 63.7h0M262.2 72.7h0M266.6 55.1h0M269.3 77.9h0M266.2 65.4h0M264.8 115.3h0M262.8 118.7h0M262.8 88.4h0M266.4 60.9h0M265.4 69.5h0M268.1 58.4h0M268.9 53.9h0M261.9 112.6h0M269.4 91.7h0M262.4 67.3h0M271.8 120.9h0M269.6 90.8h0M263.1 105.7h0M262.1 67.4h0M268.5 92.4h0M268.0 75.6h0M279.8 107.6h0M274.3 91.4h0M265.8 69.2h0M263.5 61.7h0M280.4 76.8h0M267.4 60.2h0M277.3 112.2h0M266.1 113.8h0M278.5 114.2h0M261.1 122.6h0M264.1 103.3h0M267.9 77.4h0M271.3 77.8h0M273.2 94.6h0M267.4 75.6h0M271.6 79.6h0M269.9 93.1h0M266.9 106.8h0M268.6 69.4h0M267.6 106.2h0M267.2 108.7h0M261.9 66.4h0M269.9 97.4h0M261.8 100.6h0M265.6 76.8h0M274.0 75.9h0M270.7 79.5h0M273.7 54.3h0M266.2 102.6h0M270.0 89.2h0M274.6 57.7h0M265.7 101.5h0M262.5 100.5h0M270.7 73.5h0M271.1 88.9h0M264.1 76.3h0M270.1 98.6h0M263.8 118.0h0M270.8 103.3h0" stroke="#c8102e" stroke-width="1.9" stroke-linecap="round" fill="none"/>
<path d="M269.8 92.9h0M273.5 89.0h0M265.1 121.9h0M262.6 96.9h0M273.9 74.1h0M269.7 113.3h0M269.6 109.9h0M261.0 123.3h0M265.9 123.8h0M270.0 84.6h0M263.4 121.8h0M266.1 86.5h0M268.7 68.0h0M265.2 84.6h0M262.5 76.1h0M274.8 122.8h0M264.6 57.2h0M265.5 119.4h0M263.0 117.6h0M263.9 101.8h0M262.9 100.4h0M264.4 78.2h0M261.7 120.5h0M261.8 97.6h0M264.1 111.8h0M263.2 76.8h0M262.8 88.0h0M262.0 101.1h0M268.3 96.0h0M261.2 110.9h0M264.0 71.3h0M272.5 121.3h0M272.2 123.3h0M266.5 53.6h0M265.1 93.5h0M276.0 99.1h0M264.8 59.7h0M265.3 115.7h0M261.3 81.2h0M276.2 113.2h0M263.3 79.5h0M270.0 85.6h0M271.9 75.2h0M266.8 123.4h0M261.2 98.1h0M277.0 102.4h0M262.6 82.7h0" stroke="#f5a01b" stroke-width="1.9" stroke-linecap="round" fill="none"/>
<path d="M270.3 25.2h0M286.4 23.8h0M266.2 30.7h0M271.4 35.6h0M264.4 36.4h0M284.7 35.9h0M285.6 33.0h0M264.0 44.2h0M266.0 43.5h0M268.0 45.0h0M270.0 44.5h0M271.2 45.2h0M267.0 49.9h0M274.3 49.9h0M278.0 49.3h0M282.7 47.3h0M284.7 69.6h0M290.7 68.4h0M285.8 105.6h0M287.0 117.0h0M307.0 92.0h0M283.0 77.0h0M284.0 88.0h0M282.0 100.0h0M283.0 112.0h0M281.0 95.0h0M280.0 70.0h0" stroke="#c8102e" stroke-width="1.9" stroke-linecap="round" fill="none"/>
<line x1="207.00" y1="18.80" x2="207.00" y2="141.80" stroke="#333" stroke-width="1.2"/>
<line x1="206.40" y1="141.20" x2="311.30" y2="141.20" stroke="#333" stroke-width="1.2"/>
<line x1="204.50" y1="136.10" x2="207.00" y2="136.10" stroke="#333" stroke-width="0.8"/>
<text x="200.8" y="138.2" font-size="5.9" text-anchor="end" fill="#333" font-weight="normal" stroke="#333" stroke-width="0.08" letter-spacing="-0.1">0</text>
<line x1="204.50" y1="100.40" x2="207.00" y2="100.40" stroke="#333" stroke-width="0.8"/>
<text x="200.8" y="102.5" font-size="5.9" text-anchor="end" fill="#333" font-weight="normal" stroke="#333" stroke-width="0.08" letter-spacing="-0.1">5</text>
<line x1="204.50" y1="64.70" x2="207.00" y2="64.70" stroke="#333" stroke-width="0.8"/>
<text x="200.8" y="66.8" font-size="5.9" text-anchor="end" fill="#333" font-weight="normal" stroke="#333" stroke-width="0.08" letter-spacing="-0.1">10</text>
<line x1="204.50" y1="29.00" x2="207.00" y2="29.00" stroke="#333" stroke-width="0.8"/>
<text x="200.8" y="31.1" font-size="5.9" text-anchor="end" fill="#333" font-weight="normal" stroke="#333" stroke-width="0.08" letter-spacing="-0.1">15</text>
<line x1="215.00" y1="141.20" x2="215.00" y2="143.80" stroke="#333" stroke-width="0.8"/>
<text x="215.0" y="152.6" font-size="5.9" text-anchor="middle" fill="#333" font-weight="normal" stroke="#333" stroke-width="0.08" letter-spacing="-0.1">−10</text>
<line x1="237.00" y1="141.20" x2="237.00" y2="143.80" stroke="#333" stroke-width="0.8"/>
<text x="237.0" y="152.6" font-size="5.9" text-anchor="middle" fill="#333" font-weight="normal" stroke="#333" stroke-width="0.08" letter-spacing="-0.1">−5</text>
<line x1="259.00" y1="141.20" x2="259.00" y2="143.80" stroke="#333" stroke-width="0.8"/>
<text x="259.0" y="152.6" font-size="5.9" text-anchor="middle" fill="#333" font-weight="normal" stroke="#333" stroke-width="0.08" letter-spacing="-0.1">0</text>
<line x1="281.00" y1="141.20" x2="281.00" y2="143.80" stroke="#333" stroke-width="0.8"/>
<text x="281.0" y="152.6" font-size="5.9" text-anchor="middle" fill="#333" font-weight="normal" stroke="#333" stroke-width="0.08" letter-spacing="-0.1">5</text>
<line x1="303.00" y1="141.20" x2="303.00" y2="143.80" stroke="#333" stroke-width="0.8"/>
<text x="303.0" y="152.6" font-size="5.9" text-anchor="middle" fill="#333" font-weight="normal" stroke="#333" stroke-width="0.08" letter-spacing="-0.1">10</text>
<text x="259.6" y="164.3" font-size="7.9" text-anchor="middle" fill="#222" font-weight="bold" stroke="#222" stroke-width="0.08" textLength="19" lengthAdjust="spacingAndGlyphs">log2 FC</text>
<text x="189.3" y="79.8" font-size="8" font-weight="bold" text-anchor="middle" fill="#222" transform="rotate(-90 189.3 79.8)" textLength="39.5" lengthAdjust="spacingAndGlyphs">-log10 (<tspan font-style="italic">P</tspan> value)</text>
<text x="276" y="30.9" font-size="6.1" text-anchor="start" fill="#222" font-weight="normal" stroke="#222" stroke-width="0.08" letter-spacing="-0.1">Pcdh7</text>
<text x="285.6" y="44.7" font-size="6.1" text-anchor="start" fill="#222" font-weight="normal" stroke="#222" stroke-width="0.08" letter-spacing="-0.1">Skida1</text>
<text x="278.6" y="63.4" font-size="6.1" text-anchor="start" fill="#222" font-weight="normal" stroke="#222" stroke-width="0.08" letter-spacing="-0.1">Bach2</text>
<text x="284.7" y="77.9" font-size="6.1" text-anchor="start" fill="#222" font-weight="normal" stroke="#222" stroke-width="0.08" letter-spacing="-0.1">Bank1</text>
<text x="287.6" y="83.6" font-size="6.1" text-anchor="start" fill="#222" font-weight="normal" stroke="#222" stroke-width="0.08" letter-spacing="-0.1">Rag1</text>
<text x="237" y="96.8" font-size="6.1" text-anchor="end" fill="#222" font-weight="normal" stroke="#222" stroke-width="0.08" letter-spacing="-0.1">Cd5</text>
<text x="239" y="103.5" font-size="6.1" text-anchor="end" fill="#222" font-weight="normal" stroke="#222" stroke-width="0.08" letter-spacing="-0.1">P2rx5</text>
<text x="239" y="110.7" font-size="6.1" text-anchor="end" fill="#222" font-weight="normal" stroke="#222" stroke-width="0.08" letter-spacing="-0.1">Bmf</text>
<line x1="276.30" y1="37.20" x2="278.30" y2="33.50" stroke="#e8a030" stroke-width="0.6"/>
<line x1="277.00" y1="47.70" x2="283.00" y2="44.20" stroke="#e8a030" stroke-width="0.6"/>
<line x1="279.50" y1="64.60" x2="275.20" y2="71.90" stroke="#222" stroke-width="0.5"/>
<line x1="284.00" y1="76.00" x2="276.00" y2="80.00" stroke="#222" stroke-width="0.5"/>
<line x1="287.00" y1="82.00" x2="279.00" y2="83.50" stroke="#222" stroke-width="0.5"/>
<line x1="237.80" y1="95.50" x2="247.00" y2="99.00" stroke="#222" stroke-width="0.5"/>
<line x1="239.80" y1="102.20" x2="248.00" y2="105.00" stroke="#222" stroke-width="0.5"/>
<line x1="239.80" y1="109.30" x2="250.00" y2="111.00" stroke="#222" stroke-width="0.5"/>
<circle cx="316.0" cy="22.2" r="2.0" fill="#e8c21e"/>
<text x="321.5" y="24.3" font-size="6.1" text-anchor="start" fill="#222" font-weight="normal" stroke="#222" stroke-width="0.08" letter-spacing="-0.1">Fetal/neonatal</text>
<circle cx="316.0" cy="32.0" r="2.0" fill="#1f5a96"/>
<text x="321.5" y="34.1" font-size="6.1" text-anchor="start" fill="#222" font-weight="normal" stroke="#222" stroke-width="0.08" letter-spacing="-0.1">Down-regulated</text>
<circle cx="316.0" cy="41.8" r="2.0" fill="#c8102e"/>
<text x="321.5" y="43.9" font-size="6.1" text-anchor="start" fill="#222" font-weight="normal" stroke="#222" stroke-width="0.08" letter-spacing="-0.1">Up-regulated</text>
<text x="377.6" y="15.9" font-size="10.6" text-anchor="start" fill="#111" font-weight="bold" stroke="#111" stroke-width="0.45">C</text>
<text x="441.3" y="26" font-size="8" text-anchor="middle" fill="#222" font-weight="normal" stroke="#222" stroke-width="0.08">B Cell Identity</text>
<line x1="401.00" y1="34.00" x2="401.00" y2="84.50" stroke="#f0f0f0" stroke-width="0.4"/>
<line x1="414.00" y1="34.00" x2="414.00" y2="84.50" stroke="#f0f0f0" stroke-width="0.4"/>
<line x1="427.00" y1="34.00" x2="427.00" y2="84.50" stroke="#f0f0f0" stroke-width="0.4"/>
<line x1="440.00" y1="34.00" x2="440.00" y2="84.50" stroke="#f0f0f0" stroke-width="0.4"/>
<line x1="454.00" y1="34.00" x2="454.00" y2="84.50" stroke="#f0f0f0" stroke-width="0.4"/>
<line x1="467.00" y1="34.00" x2="467.00" y2="84.50" stroke="#f0f0f0" stroke-width="0.4"/>
<line x1="480.00" y1="34.00" x2="480.00" y2="84.50" stroke="#f0f0f0" stroke-width="0.4"/>
<line x1="388.00" y1="45.00" x2="494.50" y2="45.00" stroke="#f0f0f0" stroke-width="0.4"/>
<line x1="388.00" y1="56.00" x2="494.50" y2="56.00" stroke="#f0f0f0" stroke-width="0.4"/>
<line x1="388.00" y1="67.00" x2="494.50" y2="67.00" stroke="#f0f0f0" stroke-width="0.4"/>
<line x1="388.00" y1="78.00" x2="494.50" y2="78.00" stroke="#f0f0f0" stroke-width="0.4"/>
<line x1="388.50" y1="36.20" x2="494.30" y2="36.20" stroke="#bdbdbd" stroke-width="0.6"/>
<line x1="388.50" y1="85.00" x2="494.30" y2="85.00" stroke="#d0d0d0" stroke-width="0.5"/>
<polyline points="388.3,36.5 390.0,37.8 392.0,38.6 393.9,40.0 397.0,41.5 401.0,43.8 404.0,45.8 407.7,48.0 412.0,50.2 417.0,52.8 421.0,54.8 426.0,57.3 431.0,60.0 436.0,62.6 440.0,65.0 444.7,67.7 449.0,71.0 453.0,74.2 456.0,76.6 458.5,78.6 460.0,79.4 462.0,79.0 464.0,80.2 466.0,79.2 467.8,80.0 469.5,79.3 471.0,80.8 472.5,80.0 474.7,81.6 476.5,80.2 478.0,80.6 479.5,78.8 481.6,77.6 483.0,72.0 484.2,67.0 485.0,65.4 486.0,62.0 487.0,60.0 488.5,57.3 490.0,56.5 491.0,55.5 492.0,55.0 492.5,46.0 492.7,36.5" fill="none" stroke="#5cb84a" stroke-width="0.8"/>
<line x1="393.30" y1="85.60" x2="393.30" y2="102.30" stroke="#8a8a8a" stroke-width="0.9"/>
<line x1="407.50" y1="85.60" x2="407.50" y2="102.30" stroke="#999" stroke-width="1.2"/>
<line x1="418.30" y1="85.60" x2="418.30" y2="102.30" stroke="#999" stroke-width="0.9"/>
<line x1="421.50" y1="85.60" x2="421.50" y2="102.30" stroke="#888" stroke-width="1.0"/>
<line x1="426.40" y1="85.60" x2="426.40" y2="102.30" stroke="#777" stroke-width="0.9"/>
<line x1="433.40" y1="85.60" x2="433.40" y2="102.30" stroke="#888" stroke-width="0.9"/>
<line x1="438.70" y1="85.60" x2="438.70" y2="102.30" stroke="#555" stroke-width="1.2"/>
<line x1="440.40" y1="85.60" x2="440.40" y2="102.30" stroke="#777" stroke-width="0.9"/>
<line x1="441.60" y1="85.60" x2="441.60" y2="102.30" stroke="#777" stroke-width="1.0"/>
<line x1="449.20" y1="85.60" x2="449.20" y2="102.30" stroke="#888" stroke-width="1.0"/>
<line x1="451.80" y1="85.60" x2="451.80" y2="102.30" stroke="#888" stroke-width="1.0"/>
<line x1="459.90" y1="85.60" x2="459.90" y2="102.30" stroke="#777" stroke-width="1.1"/>
<line x1="462.60" y1="85.60" x2="462.60" y2="102.30" stroke="#666" stroke-width="1.0"/>
<line x1="464.20" y1="85.60" x2="464.20" y2="102.30" stroke="#888" stroke-width="0.9"/>
<line x1="468.50" y1="85.60" x2="468.50" y2="102.30" stroke="#666" stroke-width="1.0"/>
<line x1="469.60" y1="85.60" x2="469.60" y2="102.30" stroke="#777" stroke-width="0.9"/>
<line x1="476.60" y1="85.60" x2="476.60" y2="102.30" stroke="#777" stroke-width="1.0"/>
<line x1="478.20" y1="85.60" x2="478.20" y2="102.30" stroke="#888" stroke-width="0.9"/>
<line x1="483.60" y1="85.60" x2="483.60" y2="102.30" stroke="#444" stroke-width="1.1"/>
<line x1="484.70" y1="85.60" x2="484.70" y2="102.30" stroke="#555" stroke-width="1.0"/>
<line x1="486.30" y1="85.60" x2="486.30" y2="102.30" stroke="#777" stroke-width="1.0"/>
<line x1="487.90" y1="85.60" x2="487.90" y2="102.30" stroke="#888" stroke-width="0.9"/>
<line x1="491.10" y1="85.60" x2="491.10" y2="102.30" stroke="#666" stroke-width="1.0"/>
<line x1="492.70" y1="85.60" x2="492.70" y2="102.30" stroke="#888" stroke-width="0.9"/>
<defs><linearGradient id="gsg" x1="0" x2="1" y1="0" y2="0"><stop offset="0" stop-color="#e8343c"/><stop offset="0.3" stop-color="#ec5a66"/><stop offset="0.42" stop-color="#f2a8b6"/><stop offset="0.55" stop-color="#e8dcec"/><stop offset="0.7" stop-color="#b4b0dc"/><stop offset="0.8" stop-color="#4c52a8"/><stop offset="1" stop-color="#1d2a7a"/></linearGradient></defs>
<rect x="387.8" y="102.3" width="107.0" height="4" fill="url(#gsg)"/>
<rect x="387.8" y="33.5" width="107.0" height="72.8" fill="none" stroke="#222" stroke-width="1"/>
<text x="390.5" y="74.4" font-size="6.2" text-anchor="start" fill="#222" font-weight="normal" stroke="#222" stroke-width="0.08" letter-spacing="-0.1">NES: −2.07</text>
<text x="390.5" y="82.3" font-size="6.2" text-anchor="start" fill="#222" font-weight="normal" stroke="#222" stroke-width="0.08" letter-spacing="-0.1">FDR: 0.00</text>
<text x="387.8" y="115" font-size="6.4" text-anchor="start" fill="#e04555" font-weight="normal" stroke="#e04555" stroke-width="0.08" letter-spacing="-0.1">Control</text>
<text x="494.8" y="115" font-size="6.4" text-anchor="end" fill="#5a7fb0" font-weight="normal" stroke="#5a7fb0" stroke-width="0.08" letter-spacing="-0.1">MLL::ENL</text>
<text x="441.5" y="126.3" font-size="8.4" text-anchor="middle" fill="#222" font-weight="bold" stroke="#222" stroke-width="0.08" textLength="10.6" lengthAdjust="spacingAndGlyphs">NES</text>
<text x="174.3" y="186.8" font-size="10.6" text-anchor="start" fill="#111" font-weight="bold" stroke="#111" stroke-width="0.45">D</text>
<text x="180.4" y="239.2" font-size="8" text-anchor="middle" fill="#222" font-weight="bold" transform="rotate(-90 180.4 239.2)" textLength="29" lengthAdjust="spacingAndGlyphs">-log10 FDR</text>
<text x="239" y="194" font-size="8" text-anchor="middle" fill="#222" font-weight="normal" stroke="#222" stroke-width="0.08">E16</text>
<line x1="198.90" y1="198.50" x2="198.90" y2="281.00" stroke="#222" stroke-width="1.0"/>
<line x1="198.40" y1="280.30" x2="278.70" y2="280.30" stroke="#222" stroke-width="1.0"/>
<line x1="195.70" y1="280.30" x2="198.90" y2="280.30" stroke="#222" stroke-width="0.7"/>
<text x="192.7" y="282.4" font-size="5.9" text-anchor="end" fill="#222" font-weight="normal" stroke="#222" stroke-width="0.08" letter-spacing="-0.1">0</text>
<line x1="195.70" y1="264.58" x2="198.90" y2="264.58" stroke="#222" stroke-width="0.7"/>
<text x="192.7" y="266.68" font-size="5.9" text-anchor="end" fill="#222" font-weight="normal" stroke="#222" stroke-width="0.08" letter-spacing="-0.1">2</text>
<line x1="195.70" y1="248.86" x2="198.90" y2="248.86" stroke="#222" stroke-width="0.7"/>
<text x="192.7" y="250.96" font-size="5.9" text-anchor="end" fill="#222" font-weight="normal" stroke="#222" stroke-width="0.08" letter-spacing="-0.1">4</text>
<line x1="195.70" y1="233.14" x2="198.90" y2="233.14" stroke="#222" stroke-width="0.7"/>
<text x="192.7" y="235.24" font-size="5.9" text-anchor="end" fill="#222" font-weight="normal" stroke="#222" stroke-width="0.08" letter-spacing="-0.1">6</text>
<line x1="195.70" y1="217.42" x2="198.90" y2="217.42" stroke="#222" stroke-width="0.7"/>
<text x="192.7" y="219.52" font-size="5.9" text-anchor="end" fill="#222" font-weight="normal" stroke="#222" stroke-width="0.08" letter-spacing="-0.1">8</text>
<line x1="195.70" y1="201.70" x2="198.90" y2="201.70" stroke="#222" stroke-width="0.7"/>
<text x="192.7" y="203.8" font-size="5.9" text-anchor="end" fill="#222" font-weight="normal" stroke="#222" stroke-width="0.08" letter-spacing="-0.1">10</text>
<line x1="198.90" y1="280.30" x2="198.90" y2="282.60" stroke="#222" stroke-width="0.7"/>
<text x="198.9" y="291" font-size="5.8" text-anchor="middle" fill="#222" font-weight="normal" stroke="#222" stroke-width="0.08" letter-spacing="-0.1">−3</text>
<line x1="211.70" y1="280.30" x2="211.70" y2="282.60" stroke="#222" stroke-width="0.7"/>
<text x="211.7" y="291" font-size="5.8" text-anchor="middle" fill="#222" font-weight="normal" stroke="#222" stroke-width="0.08" letter-spacing="-0.1">−2</text>
<line x1="224.50" y1="280.30" x2="224.50" y2="282.60" stroke="#222" stroke-width="0.7"/>
<text x="224.5" y="291" font-size="5.8" text-anchor="middle" fill="#222" font-weight="normal" stroke="#222" stroke-width="0.08" letter-spacing="-0.1">−1</text>
<line x1="237.30" y1="280.30" x2="237.30" y2="282.60" stroke="#222" stroke-width="0.7"/>
<text x="237.3" y="291" font-size="5.8" text-anchor="middle" fill="#222" font-weight="normal" stroke="#222" stroke-width="0.08" letter-spacing="-0.1">0</text>
<line x1="250.10" y1="280.30" x2="250.10" y2="282.60" stroke="#222" stroke-width="0.7"/>
<text x="250.1" y="291" font-size="5.8" text-anchor="middle" fill="#222" font-weight="normal" stroke="#222" stroke-width="0.08" letter-spacing="-0.1">1</text>
<line x1="262.90" y1="280.30" x2="262.90" y2="282.60" stroke="#222" stroke-width="0.7"/>
<text x="262.9" y="291" font-size="5.8" text-anchor="middle" fill="#222" font-weight="normal" stroke="#222" stroke-width="0.08" letter-spacing="-0.1">2</text>
<line x1="275.70" y1="280.30" x2="275.70" y2="282.60" stroke="#222" stroke-width="0.7"/>
<text x="275.7" y="291" font-size="5.8" text-anchor="middle" fill="#222" font-weight="normal" stroke="#222" stroke-width="0.08" letter-spacing="-0.1">3</text>
<line x1="199.40" y1="270.08" x2="277.70" y2="270.08" stroke="#333" stroke-width="0.6" stroke-dasharray="0.7,1.1"/>
<text x="193.9" y="300.8" font-size="6.2" text-anchor="start" fill="#c82850" font-weight="normal" stroke="#c82850" stroke-width="0.08" letter-spacing="-0.1">Control</text>
<text x="283.1" y="300.8" font-size="6.2" text-anchor="end" fill="#5a7fb0" font-weight="normal" stroke="#5a7fb0" stroke-width="0.08" letter-spacing="-0.1">MLL::ENL</text>
<text x="238.9" y="311.5" font-size="8.3" text-anchor="middle" fill="#222" font-weight="bold" stroke="#222" stroke-width="0.08" textLength="10.4" lengthAdjust="spacingAndGlyphs">NES</text>
<circle cx="245.5" cy="280.2" r="1.3" fill="#b0b0b0"/>
<circle cx="246.3" cy="279.9" r="1.3" fill="#b0b0b0"/>
<circle cx="247.2" cy="279.6" r="1.3" fill="#b0b0b0"/>
<circle cx="248.0" cy="279.2" r="1.3" fill="#b0b0b0"/>
<circle cx="248.8" cy="278.7" r="1.3" fill="#b0b0b0"/>
<circle cx="249.7" cy="278.2" r="1.3" fill="#b0b0b0"/>
<circle cx="250.5" cy="277.6" r="1.3" fill="#b0b0b0"/>
<circle cx="251.3" cy="277.0" r="1.3" fill="#b0b0b0"/>
<circle cx="252.2" cy="276.4" r="1.3" fill="#b0b0b0"/>
<circle cx="253.0" cy="275.8" r="1.3" fill="#b0b0b0"/>
<circle cx="253.8" cy="275.2" r="1.3" fill="#b0b0b0"/>
<circle cx="254.7" cy="274.5" r="1.3" fill="#b0b0b0"/>
<circle cx="255.5" cy="273.8" r="1.3" fill="#b0b0b0"/>
<circle cx="256.3" cy="273.1" r="1.3" fill="#b0b0b0"/>
<circle cx="257.2" cy="272.4" r="1.3" fill="#b0b0b0"/>
<circle cx="258.0" cy="271.7" r="1.3" fill="#b0b0b0"/>
<circle cx="256.0" cy="274.0" r="1.3" fill="#b0b0b0"/>
<circle cx="257.5" cy="276.0" r="1.3" fill="#b0b0b0"/>
<circle cx="255.0" cy="277.5" r="1.3" fill="#b0b0b0"/>
<circle cx="258.0" cy="272.5" r="1.3" fill="#b0b0b0"/>
<circle cx="254.0" cy="275.5" r="1.3" fill="#b0b0b0"/>
<circle cx="223.7" cy="276.8" r="1.2" fill="#b0b0b0"/>
<line x1="201.60" y1="203.00" x2="204.70" y2="238.50" stroke="#222" stroke-width="0.6"/>
<line x1="207.00" y1="203.00" x2="215.30" y2="221.60" stroke="#222" stroke-width="0.6"/>
<circle cx="201.6" cy="201.8" r="1.6" fill="#c0143c"/>
<circle cx="206.2" cy="201.8" r="1.6" fill="#c0143c"/>
<circle cx="208.5" cy="201.8" r="1.6" fill="#c0143c"/>
<circle cx="214.2" cy="261.9" r="1.6" fill="#c0143c"/>
<circle cx="219.2" cy="270.2" r="1.5" fill="#b0b0b0"/>
<circle cx="218.2" cy="269.6" r="1.55" fill="#c0143c"/>
<text x="209.2" y="226" font-size="6.2" text-anchor="start" fill="#222" font-weight="normal" stroke="#222" stroke-width="0.08" letter-spacing="-0.1">MYC Targets V1/V2</text>
<text x="207.3" y="242.4" font-size="6.2" text-anchor="start" fill="#222" font-weight="normal" stroke="#222" stroke-width="0.08" letter-spacing="-0.1">OXPHOS</text>
<text x="207.3" y="250.3" font-size="6.2" text-anchor="start" fill="#222" font-weight="normal" stroke="#222" stroke-width="0.08" letter-spacing="-0.1">mTORC</text>
<text x="207.3" y="257.6" font-size="6.2" text-anchor="start" fill="#222" font-weight="normal" stroke="#222" stroke-width="0.08" letter-spacing="-0.1">E2F Targets</text>
<text x="343.3" y="194" font-size="8" text-anchor="middle" fill="#222" font-weight="normal" stroke="#222" stroke-width="0.08">P14</text>
<line x1="303.70" y1="198.50" x2="303.70" y2="281.00" stroke="#222" stroke-width="1.0"/>
<line x1="303.20" y1="280.30" x2="385.50" y2="280.30" stroke="#222" stroke-width="1.0"/>
<line x1="300.50" y1="280.30" x2="303.70" y2="280.30" stroke="#222" stroke-width="0.7"/>
<text x="297.5" y="282.4" font-size="5.9" text-anchor="end" fill="#222" font-weight="normal" stroke="#222" stroke-width="0.08" letter-spacing="-0.1">0</text>
<line x1="300.50" y1="264.58" x2="303.70" y2="264.58" stroke="#222" stroke-width="0.7"/>
<text x="297.5" y="266.68" font-size="5.9" text-anchor="end" fill="#222" font-weight="normal" stroke="#222" stroke-width="0.08" letter-spacing="-0.1">2</text>
<line x1="300.50" y1="248.86" x2="303.70" y2="248.86" stroke="#222" stroke-width="0.7"/>
<text x="297.5" y="250.96" font-size="5.9" text-anchor="end" fill="#222" font-weight="normal" stroke="#222" stroke-width="0.08" letter-spacing="-0.1">4</text>
<line x1="300.50" y1="233.14" x2="303.70" y2="233.14" stroke="#222" stroke-width="0.7"/>
<text x="297.5" y="235.24" font-size="5.9" text-anchor="end" fill="#222" font-weight="normal" stroke="#222" stroke-width="0.08" letter-spacing="-0.1">6</text>
<line x1="300.50" y1="217.42" x2="303.70" y2="217.42" stroke="#222" stroke-width="0.7"/>
<text x="297.5" y="219.52" font-size="5.9" text-anchor="end" fill="#222" font-weight="normal" stroke="#222" stroke-width="0.08" letter-spacing="-0.1">8</text>
<line x1="300.50" y1="201.70" x2="303.70" y2="201.70" stroke="#222" stroke-width="0.7"/>
<text x="297.5" y="203.8" font-size="5.9" text-anchor="end" fill="#222" font-weight="normal" stroke="#222" stroke-width="0.08" letter-spacing="-0.1">10</text>
<line x1="303.70" y1="280.30" x2="303.70" y2="282.60" stroke="#222" stroke-width="0.7"/>
<text x="303.7" y="291" font-size="5.8" text-anchor="middle" fill="#222" font-weight="normal" stroke="#222" stroke-width="0.08" letter-spacing="-0.1">−3</text>
<line x1="316.83" y1="280.30" x2="316.83" y2="282.60" stroke="#222" stroke-width="0.7"/>
<text x="316.83" y="291" font-size="5.8" text-anchor="middle" fill="#222" font-weight="normal" stroke="#222" stroke-width="0.08" letter-spacing="-0.1">−2</text>
<line x1="329.97" y1="280.30" x2="329.97" y2="282.60" stroke="#222" stroke-width="0.7"/>
<text x="329.97" y="291" font-size="5.8" text-anchor="middle" fill="#222" font-weight="normal" stroke="#222" stroke-width="0.08" letter-spacing="-0.1">−1</text>
<line x1="343.10" y1="280.30" x2="343.10" y2="282.60" stroke="#222" stroke-width="0.7"/>
<text x="343.1" y="291" font-size="5.8" text-anchor="middle" fill="#222" font-weight="normal" stroke="#222" stroke-width="0.08" letter-spacing="-0.1">0</text>
<line x1="356.23" y1="280.30" x2="356.23" y2="282.60" stroke="#222" stroke-width="0.7"/>
<text x="356.23" y="291" font-size="5.8" text-anchor="middle" fill="#222" font-weight="normal" stroke="#222" stroke-width="0.08" letter-spacing="-0.1">1</text>
<line x1="369.37" y1="280.30" x2="369.37" y2="282.60" stroke="#222" stroke-width="0.7"/>
<text x="369.37" y="291" font-size="5.8" text-anchor="middle" fill="#222" font-weight="normal" stroke="#222" stroke-width="0.08" letter-spacing="-0.1">2</text>
<line x1="382.50" y1="280.30" x2="382.50" y2="282.60" stroke="#222" stroke-width="0.7"/>
<text x="382.5" y="291" font-size="5.8" text-anchor="middle" fill="#222" font-weight="normal" stroke="#222" stroke-width="0.08" letter-spacing="-0.1">3</text>
<line x1="304.20" y1="270.08" x2="384.50" y2="270.08" stroke="#333" stroke-width="0.6" stroke-dasharray="0.7,1.1"/>
<text x="298.7" y="300.8" font-size="6.2" text-anchor="start" fill="#c82850" font-weight="normal" stroke="#c82850" stroke-width="0.08" letter-spacing="-0.1">Control</text>
<text x="389.9" y="300.8" font-size="6.2" text-anchor="end" fill="#5a7fb0" font-weight="normal" stroke="#5a7fb0" stroke-width="0.08" letter-spacing="-0.1">MLL::ENL</text>
<text x="344.7" y="311.5" font-size="8.3" text-anchor="middle" fill="#222" font-weight="bold" stroke="#222" stroke-width="0.08" textLength="10.4" lengthAdjust="spacingAndGlyphs">NES</text>
<rect x="309.5" y="200.4" width="5.4" height="2.7" rx="1.35" fill="#c0143c"/>
<line x1="313.00" y1="204.00" x2="314.60" y2="209.00" stroke="#222" stroke-width="0.6"/>
<circle cx="321.0" cy="266.2" r="1.6" fill="#c0143c"/>
<circle cx="321.7" cy="266.8" r="1.6" fill="#c0143c"/>
<circle cx="322.4" cy="267.4" r="1.6" fill="#c0143c"/>
<circle cx="323.1" cy="268.0" r="1.6" fill="#c0143c"/>
<circle cx="323.7" cy="268.6" r="1.6" fill="#c0143c"/>
<circle cx="324.4" cy="269.2" r="1.6" fill="#c0143c"/>
<circle cx="325.1" cy="269.8" r="1.6" fill="#c0143c"/>
<circle cx="325.8" cy="270.4" r="1.6" fill="#c0143c"/>
<circle cx="326.8" cy="272.0" r="1.4" fill="#b0b0b0"/>
<circle cx="328.3" cy="275.6" r="1.4" fill="#b0b0b0"/>
<circle cx="351.5" cy="280.2" r="1.35" fill="#b0b0b0"/>
<circle cx="352.1" cy="280.1" r="1.35" fill="#b0b0b0"/>
<circle cx="352.6" cy="280.0" r="1.35" fill="#b0b0b0"/>
<circle cx="353.2" cy="279.8" r="1.35" fill="#b0b0b0"/>
<circle cx="353.7" cy="279.6" r="1.35" fill="#b0b0b0"/>
<circle cx="354.3" cy="279.3" r="1.35" fill="#b0b0b0"/>
<circle cx="354.8" cy="278.9" r="1.35" fill="#b0b0b0"/>
<circle cx="355.4" cy="278.6" r="1.35" fill="#b0b0b0"/>
<circle cx="355.9" cy="278.2" r="1.35" fill="#b0b0b0"/>
<circle cx="356.5" cy="277.7" r="1.35" fill="#b0b0b0"/>
<circle cx="357.0" cy="277.2" r="1.35" fill="#b0b0b0"/>
<circle cx="357.6" cy="276.7" r="1.35" fill="#b0b0b0"/>
<circle cx="358.1" cy="276.1" r="1.35" fill="#b0b0b0"/>
<circle cx="358.7" cy="275.5" r="1.35" fill="#b0b0b0"/>
<circle cx="359.2" cy="274.9" r="1.35" fill="#b0b0b0"/>
<circle cx="359.8" cy="274.3" r="1.35" fill="#b0b0b0"/>
<circle cx="360.3" cy="273.6" r="1.35" fill="#b0b0b0"/>
<circle cx="360.9" cy="272.8" r="1.35" fill="#b0b0b0"/>
<circle cx="361.4" cy="272.1" r="1.35" fill="#b0b0b0"/>
<circle cx="362.0" cy="271.3" r="1.35" fill="#b0b0b0"/>
<circle cx="362.5" cy="270.5" r="1.35" fill="#b0b0b0"/>
<circle cx="363.1" cy="269.7" r="1.35" fill="#b0b0b0"/>
<circle cx="363.6" cy="268.8" r="1.35" fill="#b0b0b0"/>
<circle cx="364.2" cy="267.9" r="1.35" fill="#b0b0b0"/>
<circle cx="367.3" cy="257.5" r="1.6" fill="#1f5a96"/>
<circle cx="366.5" cy="260.5" r="1.6" fill="#1f5a96"/>
<circle cx="364.9" cy="266.2" r="1.6" fill="#1f5a96"/>
<line x1="362.30" y1="254.60" x2="364.60" y2="258.50" stroke="#222" stroke-width="0.6"/>
<line x1="371.00" y1="256.20" x2="367.70" y2="258.50" stroke="#222" stroke-width="0.6"/>
<line x1="353.70" y1="259.40" x2="363.80" y2="265.20" stroke="#222" stroke-width="0.6"/>
<text x="308.1" y="217.3" font-size="6.2" text-anchor="start" fill="#222" font-weight="normal" stroke="#222" stroke-width="0.08" letter-spacing="-0.1">MYC Targets V1/V2</text>
<text x="308.1" y="225" font-size="6.2" text-anchor="start" fill="#222" font-weight="normal" stroke="#222" stroke-width="0.08" letter-spacing="-0.1">OXPHOS</text>
<text x="308.1" y="232.7" font-size="6.2" text-anchor="start" fill="#222" font-weight="normal" stroke="#222" stroke-width="0.08" letter-spacing="-0.1">mTORC</text>
<text x="308.1" y="239.8" font-size="6.2" text-anchor="start" fill="#222" font-weight="normal" stroke="#222" stroke-width="0.08" letter-spacing="-0.1">E2F Targts</text>
<text x="341.2" y="241.3" font-size="6.2" text-anchor="start" fill="#222" font-weight="normal" stroke="#222" stroke-width="0.08" letter-spacing="-0.1">IFN-g</text>
<text x="341.2" y="248.6" font-size="6.2" text-anchor="start" fill="#222" font-weight="normal" stroke="#222" stroke-width="0.08" letter-spacing="-0.1">Response</text>
<text x="371" y="246.7" font-size="6.2" text-anchor="start" fill="#222" font-weight="normal" stroke="#222" stroke-width="0.08" letter-spacing="-0.1">IFN-a</text>
<text x="371" y="253.8" font-size="6.2" text-anchor="start" fill="#222" font-weight="normal" stroke="#222" stroke-width="0.08" letter-spacing="-0.1">Response</text>
<text x="314.6" y="255.8" font-size="6.2" text-anchor="start" fill="#222" font-weight="normal" stroke="#222" stroke-width="0.08" letter-spacing="-0.1">TGF-b singaling</text>
<text x="458.75" y="194" font-size="8" text-anchor="middle" fill="#222" font-weight="normal" stroke="#222" stroke-width="0.08">Adult</text>
<line x1="418.20" y1="198.50" x2="418.20" y2="281.00" stroke="#222" stroke-width="1.0"/>
<line x1="417.70" y1="280.30" x2="500.00" y2="280.30" stroke="#222" stroke-width="1.0"/>
<line x1="415.00" y1="280.30" x2="418.20" y2="280.30" stroke="#222" stroke-width="0.7"/>
<text x="412.0" y="282.4" font-size="5.9" text-anchor="end" fill="#222" font-weight="normal" stroke="#222" stroke-width="0.08" letter-spacing="-0.1">0</text>
<line x1="415.00" y1="264.58" x2="418.20" y2="264.58" stroke="#222" stroke-width="0.7"/>
<text x="412.0" y="266.68" font-size="5.9" text-anchor="end" fill="#222" font-weight="normal" stroke="#222" stroke-width="0.08" letter-spacing="-0.1">2</text>
<line x1="415.00" y1="248.86" x2="418.20" y2="248.86" stroke="#222" stroke-width="0.7"/>
<text x="412.0" y="250.96" font-size="5.9" text-anchor="end" fill="#222" font-weight="normal" stroke="#222" stroke-width="0.08" letter-spacing="-0.1">4</text>
<line x1="415.00" y1="233.14" x2="418.20" y2="233.14" stroke="#222" stroke-width="0.7"/>
<text x="412.0" y="235.24" font-size="5.9" text-anchor="end" fill="#222" font-weight="normal" stroke="#222" stroke-width="0.08" letter-spacing="-0.1">6</text>
<line x1="415.00" y1="217.42" x2="418.20" y2="217.42" stroke="#222" stroke-width="0.7"/>
<text x="412.0" y="219.52" font-size="5.9" text-anchor="end" fill="#222" font-weight="normal" stroke="#222" stroke-width="0.08" letter-spacing="-0.1">8</text>
<line x1="415.00" y1="201.70" x2="418.20" y2="201.70" stroke="#222" stroke-width="0.7"/>
<text x="412.0" y="203.8" font-size="5.9" text-anchor="end" fill="#222" font-weight="normal" stroke="#222" stroke-width="0.08" letter-spacing="-0.1">10</text>
<line x1="418.20" y1="280.30" x2="418.20" y2="282.60" stroke="#222" stroke-width="0.7"/>
<text x="418.2" y="291" font-size="5.8" text-anchor="middle" fill="#222" font-weight="normal" stroke="#222" stroke-width="0.08" letter-spacing="-0.1">−3</text>
<line x1="431.33" y1="280.30" x2="431.33" y2="282.60" stroke="#222" stroke-width="0.7"/>
<text x="431.33" y="291" font-size="5.8" text-anchor="middle" fill="#222" font-weight="normal" stroke="#222" stroke-width="0.08" letter-spacing="-0.1">−2</text>
<line x1="444.47" y1="280.30" x2="444.47" y2="282.60" stroke="#222" stroke-width="0.7"/>
<text x="444.47" y="291" font-size="5.8" text-anchor="middle" fill="#222" font-weight="normal" stroke="#222" stroke-width="0.08" letter-spacing="-0.1">−1</text>
<line x1="457.60" y1="280.30" x2="457.60" y2="282.60" stroke="#222" stroke-width="0.7"/>
<text x="457.6" y="291" font-size="5.8" text-anchor="middle" fill="#222" font-weight="normal" stroke="#222" stroke-width="0.08" letter-spacing="-0.1">0</text>
<line x1="470.73" y1="280.30" x2="470.73" y2="282.60" stroke="#222" stroke-width="0.7"/>
<text x="470.73" y="291" font-size="5.8" text-anchor="middle" fill="#222" font-weight="normal" stroke="#222" stroke-width="0.08" letter-spacing="-0.1">1</text>
<line x1="483.87" y1="280.30" x2="483.87" y2="282.60" stroke="#222" stroke-width="0.7"/>
<text x="483.87" y="291" font-size="5.8" text-anchor="middle" fill="#222" font-weight="normal" stroke="#222" stroke-width="0.08" letter-spacing="-0.1">2</text>
<line x1="497.00" y1="280.30" x2="497.00" y2="282.60" stroke="#222" stroke-width="0.7"/>
<text x="497.0" y="291" font-size="5.8" text-anchor="middle" fill="#222" font-weight="normal" stroke="#222" stroke-width="0.08" letter-spacing="-0.1">3</text>
<line x1="418.70" y1="270.08" x2="499.00" y2="270.08" stroke="#333" stroke-width="0.6" stroke-dasharray="0.7,1.1"/>
<text x="413.2" y="300.8" font-size="6.2" text-anchor="start" fill="#c82850" font-weight="normal" stroke="#c82850" stroke-width="0.08" letter-spacing="-0.1">Control</text>
<text x="504.4" y="300.8" font-size="6.2" text-anchor="end" fill="#5a7fb0" font-weight="normal" stroke="#5a7fb0" stroke-width="0.08" letter-spacing="-0.1">MLL::ENL</text>
<text x="459.2" y="311.5" font-size="8.3" text-anchor="middle" fill="#222" font-weight="bold" stroke="#222" stroke-width="0.08" textLength="10.4" lengthAdjust="spacingAndGlyphs">NES</text>
<circle cx="463.5" cy="280.2" r="1.35" fill="#b0b0b0"/>
<circle cx="464.0" cy="280.2" r="1.35" fill="#b0b0b0"/>
<circle cx="464.6" cy="280.1" r="1.35" fill="#b0b0b0"/>
<circle cx="465.1" cy="279.9" r="1.35" fill="#b0b0b0"/>
<circle cx="465.6" cy="279.7" r="1.35" fill="#b0b0b0"/>
<circle cx="466.2" cy="279.5" r="1.35" fill="#b0b0b0"/>
<circle cx="466.7" cy="279.2" r="1.35" fill="#b0b0b0"/>
<circle cx="467.2" cy="278.9" r="1.35" fill="#b0b0b0"/>
<circle cx="467.8" cy="278.6" r="1.35" fill="#b0b0b0"/>
<circle cx="468.3" cy="278.2" r="1.35" fill="#b0b0b0"/>
<circle cx="468.8" cy="277.8" r="1.35" fill="#b0b0b0"/>
<circle cx="469.4" cy="277.3" r="1.35" fill="#b0b0b0"/>
<circle cx="469.9" cy="276.9" r="1.35" fill="#b0b0b0"/>
<circle cx="470.5" cy="276.3" r="1.35" fill="#b0b0b0"/>
<circle cx="471.0" cy="275.8" r="1.35" fill="#b0b0b0"/>
<circle cx="471.5" cy="275.2" r="1.35" fill="#b0b0b0"/>
<circle cx="472.1" cy="274.6" r="1.35" fill="#b0b0b0"/>
<circle cx="472.6" cy="273.9" r="1.35" fill="#b0b0b0"/>
<circle cx="473.1" cy="273.3" r="1.35" fill="#b0b0b0"/>
<circle cx="473.7" cy="272.5" r="1.35" fill="#b0b0b0"/>
<circle cx="474.2" cy="271.8" r="1.35" fill="#b0b0b0"/>
<circle cx="474.7" cy="271.0" r="1.35" fill="#b0b0b0"/>
<circle cx="475.3" cy="270.2" r="1.35" fill="#b0b0b0"/>
<circle cx="475.8" cy="269.4" r="1.35" fill="#b0b0b0"/>
<circle cx="442.0" cy="274.0" r="1.4" fill="#b0b0b0"/>
<circle cx="443.3" cy="275.8" r="1.3" fill="#b0b0b0"/>
<circle cx="446.5" cy="279.0" r="1.4" fill="#b0b0b0"/>
<circle cx="444.7" cy="277.3" r="1.2" fill="#b0b0b0"/>
<circle cx="476.6" cy="269.7" r="1.55" fill="#1f5a96"/>
<circle cx="477.1" cy="268.1" r="1.55" fill="#1f5a96"/>
<circle cx="477.6" cy="266.4" r="1.55" fill="#1f5a96"/>
<circle cx="478.1" cy="264.8" r="1.55" fill="#1f5a96"/>
<circle cx="478.6" cy="263.2" r="1.55" fill="#1f5a96"/>
<circle cx="479.1" cy="261.5" r="1.55" fill="#1f5a96"/>
<circle cx="480.7" cy="256.7" r="1.55" fill="#1f5a96"/>
<circle cx="481.2" cy="255.0" r="1.55" fill="#1f5a96"/>
<circle cx="481.7" cy="253.4" r="1.55" fill="#1f5a96"/>
<circle cx="482.2" cy="251.8" r="1.55" fill="#1f5a96"/>
<circle cx="482.7" cy="250.1" r="1.55" fill="#1f5a96"/>
<circle cx="483.2" cy="248.5" r="1.55" fill="#1f5a96"/>
<rect x="484.9" y="200.4" width="5.4" height="2.7" rx="1.35" fill="#1f5a96"/>
<circle cx="423.6" cy="201.7" r="1.6" fill="#c0143c"/>
<circle cx="430.3" cy="250.0" r="1.6" fill="#c0143c"/>
<circle cx="433.3" cy="257.0" r="1.6" fill="#c0143c"/>
<line x1="424.50" y1="203.00" x2="431.30" y2="210.80" stroke="#222" stroke-width="0.6"/>
<line x1="428.90" y1="236.40" x2="430.30" y2="248.00" stroke="#222" stroke-width="0.6"/>
<line x1="434.50" y1="258.00" x2="441.40" y2="261.70" stroke="#222" stroke-width="0.6"/>
<line x1="486.00" y1="203.00" x2="473.70" y2="225.30" stroke="#222" stroke-width="0.6"/>
<line x1="484.40" y1="259.60" x2="488.90" y2="262.70" stroke="#222" stroke-width="0.6"/>
<text x="421.8" y="218.7" font-size="6.2" text-anchor="start" fill="#222" font-weight="normal" stroke="#222" stroke-width="0.08" letter-spacing="-0.1">MYC Targets</text>
<text x="421.8" y="233.5" font-size="6.2" text-anchor="start" fill="#222" font-weight="normal" stroke="#222" stroke-width="0.08" letter-spacing="-0.1">OXPHOS</text>
<text x="432.3" y="268.4" font-size="6.2" text-anchor="start" fill="#222" font-weight="normal" stroke="#222" stroke-width="0.08" letter-spacing="-0.1">E2F Targets</text>
<text x="460.6" y="215.9" font-size="6.2" text-anchor="start" fill="#222" font-weight="normal" stroke="#222" stroke-width="0.08" letter-spacing="-0.1">V1/V2</text>
<text x="455" y="231.8" font-size="6.2" text-anchor="start" fill="#222" font-weight="normal" stroke="#222" stroke-width="0.08" letter-spacing="-0.1">IFN-a Response</text>
<text x="455" y="239.5" font-size="6.2" text-anchor="start" fill="#222" font-weight="normal" stroke="#222" stroke-width="0.08" letter-spacing="-0.1">IFN-g Response</text>
<text x="455" y="247" font-size="6.2" text-anchor="start" fill="#222" font-weight="normal" stroke="#222" stroke-width="0.08" letter-spacing="-0.1">JAK-STAT signaling</text>
<text x="490.5" y="260.7" font-size="6.2" text-anchor="start" fill="#222" font-weight="normal" stroke="#222" stroke-width="0.08" letter-spacing="-0.1">TGF-b</text>
<text x="490.5" y="268.2" font-size="6.2" text-anchor="start" fill="#222" font-weight="normal" stroke="#222" stroke-width="0.08" letter-spacing="-0.1">singaling</text>
<text x="7.7" y="337.6" font-size="10.6" text-anchor="start" fill="#111" font-weight="bold" stroke="#111" stroke-width="0.45">E</text>
<text x="68.7" y="335.5" font-size="8" text-anchor="middle" fill="#222" font-weight="normal" stroke="#222" stroke-width="0.08">Tet-On-MLL:: ENL</text>
<line x1="31.50" y1="351.00" x2="31.50" y2="427.20" stroke="#222" stroke-width="1.0"/>
<line x1="31.00" y1="426.70" x2="101.50" y2="426.70" stroke="#222" stroke-width="1.0"/>
<line x1="28.30" y1="352.25" x2="31.50" y2="352.25" stroke="#222" stroke-width="0.7"/>
<text x="25.6" y="354.35" font-size="5.9" text-anchor="end" fill="#222" font-weight="normal" stroke="#222" stroke-width="0.08" letter-spacing="-0.1">5</text>
<line x1="28.30" y1="362.80" x2="31.50" y2="362.80" stroke="#222" stroke-width="0.7"/>
<text x="25.6" y="364.9" font-size="5.9" text-anchor="end" fill="#222" font-weight="normal" stroke="#222" stroke-width="0.08" letter-spacing="-0.1">4</text>
<line x1="28.30" y1="373.35" x2="31.50" y2="373.35" stroke="#222" stroke-width="0.7"/>
<text x="25.6" y="375.45" font-size="5.9" text-anchor="end" fill="#222" font-weight="normal" stroke="#222" stroke-width="0.08" letter-spacing="-0.1">3</text>
<line x1="28.30" y1="383.90" x2="31.50" y2="383.90" stroke="#222" stroke-width="0.7"/>
<text x="25.6" y="386.0" font-size="5.9" text-anchor="end" fill="#222" font-weight="normal" stroke="#222" stroke-width="0.08" letter-spacing="-0.1">2</text>
<line x1="28.30" y1="394.45" x2="31.50" y2="394.45" stroke="#222" stroke-width="0.7"/>
<text x="25.6" y="396.55" font-size="5.9" text-anchor="end" fill="#222" font-weight="normal" stroke="#222" stroke-width="0.08" letter-spacing="-0.1">1</text>
<line x1="28.30" y1="405.00" x2="31.50" y2="405.00" stroke="#222" stroke-width="0.7"/>
<text x="25.6" y="407.1" font-size="5.9" text-anchor="end" fill="#222" font-weight="normal" stroke="#222" stroke-width="0.08" letter-spacing="-0.1">0</text>
<line x1="28.30" y1="415.55" x2="31.50" y2="415.55" stroke="#222" stroke-width="0.7"/>
<text x="25.6" y="417.65" font-size="5.9" text-anchor="end" fill="#222" font-weight="normal" stroke="#222" stroke-width="0.08" letter-spacing="-0.1">−1</text>
<line x1="28.30" y1="426.10" x2="31.50" y2="426.10" stroke="#222" stroke-width="0.7"/>
<text x="25.6" y="428.2" font-size="5.9" text-anchor="end" fill="#222" font-weight="normal" stroke="#222" stroke-width="0.08" letter-spacing="-0.1">−2</text>
<line x1="36.50" y1="426.70" x2="36.50" y2="429.00" stroke="#222" stroke-width="0.7"/>
<line x1="49.60" y1="426.70" x2="49.60" y2="429.00" stroke="#222" stroke-width="0.7"/>
<line x1="61.90" y1="426.70" x2="61.90" y2="429.00" stroke="#222" stroke-width="0.7"/>
<line x1="73.90" y1="426.70" x2="73.90" y2="429.00" stroke="#222" stroke-width="0.7"/>
<line x1="85.80" y1="426.70" x2="85.80" y2="429.00" stroke="#222" stroke-width="0.7"/>
<line x1="97.30" y1="426.70" x2="97.30" y2="429.00" stroke="#222" stroke-width="0.7"/>
<text x="13.1" y="388.8" font-size="8" font-weight="bold" text-anchor="middle" fill="#222" transform="rotate(-90 13.1 388.8)" textLength="42" lengthAdjust="spacingAndGlyphs"><tspan font-style="italic">Skida1</tspan> log2 CPM</text>
<circle cx="36.5" cy="415.8" r="1.75" fill="#9a1a35" stroke="#5a0c1e" stroke-width="0.4"/>
<circle cx="41.2" cy="407.3" r="1.75" fill="#9a1a35" stroke="#5a0c1e" stroke-width="0.4"/>
<circle cx="36.5" cy="408.8" r="1.75" fill="#9a1a35" stroke="#5a0c1e" stroke-width="0.4"/>
<circle cx="41.2" cy="414.2" r="1.75" fill="#9a1a35" stroke="#5a0c1e" stroke-width="0.4"/>
<line x1="33.00" y1="411.20" x2="44.00" y2="411.20" stroke="#555" stroke-width="0.7"/>
<polygon points="62.7,411.6 60.8,415.0 64.6,415.0" fill="#9a1a35"/>
<polygon points="65.0,421.6 63.1,425.0 66.9,425.0" fill="#9a1a35"/>
<polygon points="60.4,423.9 58.5,427.3 62.3,427.3" fill="#9a1a35"/>
<line x1="56.50" y1="419.30" x2="67.00" y2="419.30" stroke="#333" stroke-width="0.7"/>
<line x1="61.80" y1="412.00" x2="61.80" y2="426.50" stroke="#333" stroke-width="0.6"/>
<line x1="59.50" y1="412.60" x2="64.00" y2="412.60" stroke="#333" stroke-width="0.6"/>
<rect x="81.90" y="414.90" width="3.20" height="3.20" fill="#9a1a35"/>
<rect x="86.40" y="412.60" width="3.20" height="3.20" fill="#9a1a35"/>
<rect x="86.40" y="417.20" width="3.20" height="3.20" fill="#9a1a35"/>
<rect x="84.20" y="424.20" width="3.20" height="3.20" fill="#9a1a35"/>
<line x1="80.50" y1="417.50" x2="91.00" y2="417.50" stroke="#333" stroke-width="0.6"/>
<line x1="85.80" y1="413.00" x2="85.80" y2="426.00" stroke="#333" stroke-width="0.6"/>
<circle cx="56.5" cy="405.5" r="0.5" fill="#9a1a35"/>
<circle cx="81.2" cy="405.5" r="0.5" fill="#9a1a35"/>
<circle cx="48.8" cy="364.4" r="1.75" fill="#1d4a78" stroke="#0e2a48" stroke-width="0.4"/>
<circle cx="52.5" cy="363.1" r="1.75" fill="#1d4a78" stroke="#0e2a48" stroke-width="0.4"/>
<circle cx="53.5" cy="366.0" r="1.75" fill="#1d4a78" stroke="#0e2a48" stroke-width="0.4"/>
<circle cx="48.1" cy="369.4" r="1.75" fill="#1d4a78" stroke="#0e2a48" stroke-width="0.4"/>
<circle cx="50.6" cy="365.6" r="1.75" fill="#1d4a78" stroke="#0e2a48" stroke-width="0.4"/>
<line x1="46.50" y1="366.00" x2="55.00" y2="366.00" stroke="#333" stroke-width="0.6"/>
<polygon points="71.9,369.4 70.0,372.8 73.8,372.8" fill="#1d4a78"/>
<polygon points="76.9,367.5 75.0,370.9 78.8,370.9" fill="#1d4a78"/>
<polygon points="71.2,377.9 69.3,381.3 73.2,381.3" fill="#1d4a78"/>
<polygon points="76.9,377.1 75.0,380.5 78.8,380.5" fill="#1d4a78"/>
<line x1="70.00" y1="374.40" x2="78.75" y2="374.40" stroke="#333" stroke-width="0.7"/>
<line x1="74.20" y1="368.00" x2="74.20" y2="381.00" stroke="#333" stroke-width="0.6"/>
<line x1="72.00" y1="371.90" x2="76.50" y2="371.90" stroke="#333" stroke-width="0.5"/>
<line x1="72.00" y1="377.50" x2="76.50" y2="377.50" stroke="#333" stroke-width="0.5"/>
<rect x="93.30" y="390.80" width="3.40" height="3.40" fill="#1d4a78"/>
<rect x="98.30" y="390.20" width="3.40" height="3.40" fill="#1d4a78"/>
<rect x="93.30" y="395.20" width="3.40" height="3.40" fill="#1d4a78"/>
<rect x="98.30" y="394.55" width="3.40" height="3.40" fill="#1d4a78"/>
<line x1="93.00" y1="394.30" x2="102.00" y2="394.30" stroke="#333" stroke-width="0.6"/>
<line x1="49.40" y1="345.30" x2="98.10" y2="345.30" stroke="#8a8a8a" stroke-width="0.9"/>
<text x="73.75" y="345.0" font-size="5.6" text-anchor="middle" fill="#222" font-weight="bold" stroke="#222" stroke-width="0.08" letter-spacing="-0.1">****</text>
<line x1="49.40" y1="354.00" x2="73.75" y2="354.00" stroke="#8a8a8a" stroke-width="0.9"/>
<text x="61.25" y="351.4" font-size="5.8" text-anchor="middle" fill="#333" font-weight="normal" stroke="#333" stroke-width="0.08" letter-spacing="-0.1">n.s.</text>
<line x1="73.10" y1="359.10" x2="98.10" y2="359.10" stroke="#8a8a8a" stroke-width="0.9"/>
<text x="85.6" y="358.7" font-size="5.6" text-anchor="middle" fill="#222" font-weight="bold" stroke="#222" stroke-width="0.08" letter-spacing="-0.1">***</text>
<text x="46.25" y="360.4" font-size="5.6" text-anchor="middle" fill="#222" font-weight="bold" stroke="#222" stroke-width="0.08" letter-spacing="-0.1">****</text>
<text x="71.9" y="366.3" font-size="5.6" text-anchor="middle" fill="#222" font-weight="bold" stroke="#222" stroke-width="0.08" letter-spacing="-0.1">****</text>
<text x="94.4" y="389.2" font-size="5.6" text-anchor="middle" fill="#222" font-weight="bold" stroke="#222" stroke-width="0.08" letter-spacing="-0.1">****</text>
<text x="40.9" y="436.8" font-size="6.7" text-anchor="end" fill="#222" font-weight="normal" transform="rotate(-45 40.9 436.8)" stroke="#222" stroke-width="0.08" letter-spacing="-0.1">Ctrl</text>
<text x="53.2" y="436.8" font-size="6.7" text-anchor="end" fill="#222" font-weight="normal" transform="rotate(-45 53.2 436.8)" stroke="#222" stroke-width="0.08" letter-spacing="-0.1">ME</text>
<text x="66.3" y="436.8" font-size="6.7" text-anchor="end" fill="#222" font-weight="normal" transform="rotate(-45 66.3 436.8)" stroke="#222" stroke-width="0.08" letter-spacing="-0.1">Ctrl</text>
<text x="77.5" y="436.8" font-size="6.7" text-anchor="end" fill="#222" font-weight="normal" transform="rotate(-45 77.5 436.8)" stroke="#222" stroke-width="0.08" letter-spacing="-0.1">ME</text>
<text x="90.2" y="436.8" font-size="6.7" text-anchor="end" fill="#222" font-weight="normal" transform="rotate(-45 90.2 436.8)" stroke="#222" stroke-width="0.08" letter-spacing="-0.1">Ctrl</text>
<text x="100.9" y="436.8" font-size="6.7" text-anchor="end" fill="#222" font-weight="normal" transform="rotate(-45 100.9 436.8)" stroke="#222" stroke-width="0.08" letter-spacing="-0.1">ME</text>
<line x1="31.90" y1="447.30" x2="48.80" y2="447.30" stroke="#555" stroke-width="1.1"/>
<text x="40.4" y="456" font-size="6.8" text-anchor="middle" fill="#222" font-weight="normal" stroke="#222" stroke-width="0.08" letter-spacing="-0.1">E16</text>
<line x1="57.30" y1="447.30" x2="74.20" y2="447.30" stroke="#555" stroke-width="1.1"/>
<text x="65.8" y="456" font-size="6.8" text-anchor="middle" fill="#222" font-weight="normal" stroke="#222" stroke-width="0.08" letter-spacing="-0.1">P14</text>
<line x1="81.20" y1="447.30" x2="98.10" y2="447.30" stroke="#555" stroke-width="1.1"/>
<text x="89.6" y="456" font-size="6.8" text-anchor="middle" fill="#222" font-weight="normal" stroke="#222" stroke-width="0.08" letter-spacing="-0.1">Adult</text>
<text x="120" y="338.5" font-size="10.6" text-anchor="start" fill="#111" font-weight="bold" stroke="#111" stroke-width="0.45">F</text>
<text x="197.5" y="335.5" font-size="8" text-anchor="middle" fill="#222" font-weight="normal" stroke="#222" stroke-width="0.08">Tet-Off-MLL:: ENL</text>
<line x1="142.20" y1="351.00" x2="142.20" y2="428.00" stroke="#222" stroke-width="1.0"/>
<line x1="141.70" y1="427.50" x2="253.80" y2="427.50" stroke="#222" stroke-width="1.0"/>
<line x1="139.00" y1="427.50" x2="142.20" y2="427.50" stroke="#222" stroke-width="0.7"/>
<text x="136.3" y="429.6" font-size="5.9" text-anchor="end" fill="#222" font-weight="normal" stroke="#222" stroke-width="0.08" letter-spacing="-0.1">0</text>
<line x1="139.00" y1="408.96" x2="142.20" y2="408.96" stroke="#222" stroke-width="0.7"/>
<text x="136.3" y="411.06" font-size="5.9" text-anchor="end" fill="#222" font-weight="normal" stroke="#222" stroke-width="0.08" letter-spacing="-0.1">2</text>
<line x1="139.00" y1="390.42" x2="142.20" y2="390.42" stroke="#222" stroke-width="0.7"/>
<text x="136.3" y="392.52" font-size="5.9" text-anchor="end" fill="#222" font-weight="normal" stroke="#222" stroke-width="0.08" letter-spacing="-0.1">4</text>
<line x1="139.00" y1="371.88" x2="142.20" y2="371.88" stroke="#222" stroke-width="0.7"/>
<text x="136.3" y="373.98" font-size="5.9" text-anchor="end" fill="#222" font-weight="normal" stroke="#222" stroke-width="0.08" letter-spacing="-0.1">6</text>
<line x1="139.00" y1="353.34" x2="142.20" y2="353.34" stroke="#222" stroke-width="0.7"/>
<text x="136.3" y="355.44" font-size="5.9" text-anchor="end" fill="#222" font-weight="normal" stroke="#222" stroke-width="0.08" letter-spacing="-0.1">8</text>
<line x1="150.40" y1="427.50" x2="150.40" y2="429.80" stroke="#222" stroke-width="0.7"/>
<text x="150.4" y="439.6" font-size="6.3" text-anchor="middle" fill="#222" font-weight="normal" stroke="#222" stroke-width="0.08" letter-spacing="-0.1">MPP</text>
<line x1="169.30" y1="427.50" x2="169.30" y2="429.80" stroke="#222" stroke-width="0.7"/>
<text x="169.3" y="439.6" font-size="6.3" text-anchor="middle" fill="#222" font-weight="normal" stroke="#222" stroke-width="0.08" letter-spacing="-0.1">pGM</text>
<line x1="188.30" y1="427.50" x2="188.30" y2="429.80" stroke="#222" stroke-width="0.7"/>
<text x="188.3" y="439.6" font-size="6.3" text-anchor="middle" fill="#222" font-weight="normal" stroke="#222" stroke-width="0.08" letter-spacing="-0.1">GMP</text>
<line x1="207.00" y1="427.50" x2="207.00" y2="429.80" stroke="#222" stroke-width="0.7"/>
<text x="207" y="439.6" font-size="6.3" text-anchor="middle" fill="#222" font-weight="normal" stroke="#222" stroke-width="0.08" letter-spacing="-0.1">MPP</text>
<line x1="225.60" y1="427.50" x2="225.60" y2="429.80" stroke="#222" stroke-width="0.7"/>
<text x="225.6" y="439.6" font-size="6.3" text-anchor="middle" fill="#222" font-weight="normal" stroke="#222" stroke-width="0.08" letter-spacing="-0.1">pGM</text>
<line x1="244.40" y1="427.50" x2="244.40" y2="429.80" stroke="#222" stroke-width="0.7"/>
<text x="244.4" y="439.6" font-size="6.3" text-anchor="middle" fill="#222" font-weight="normal" stroke="#222" stroke-width="0.08" letter-spacing="-0.1">GMP</text>
<line x1="143.75" y1="443.30" x2="191.25" y2="443.30" stroke="#555" stroke-width="1.1"/>
<text x="167.5" y="451.7" font-size="6.2" text-anchor="middle" fill="#222" font-weight="normal" stroke="#222" stroke-width="0.08" letter-spacing="-0.1">P0</text>
<line x1="201.25" y1="443.30" x2="251.00" y2="443.30" stroke="#555" stroke-width="1.1"/>
<text x="223.75" y="451.7" font-size="6.2" text-anchor="middle" fill="#222" font-weight="normal" stroke="#222" stroke-width="0.08" letter-spacing="-0.1">10 weeks</text>
<text x="128.6" y="385.8" font-size="8" font-weight="bold" text-anchor="middle" fill="#222" transform="rotate(-90 128.6 385.8)" textLength="60.5" lengthAdjust="spacingAndGlyphs"><tspan font-style="italic">Skida1</tspan> expression (RPKM)</text>
<circle cx="148.2" cy="424.1" r="1.3" fill="#a8182e"/>
<circle cx="149.0" cy="423.4" r="1.3" fill="#a8182e"/>
<circle cx="148.9" cy="423.6" r="1.3" fill="#a8182e"/>
<circle cx="147.1" cy="426.9" r="1.3" fill="#a8182e"/>
<circle cx="147.8" cy="422.7" r="1.3" fill="#a8182e"/>
<circle cx="145.7" cy="422.9" r="1.3" fill="#a8182e"/>
<circle cx="153.0" cy="369.3" r="1.3" fill="#1d4a78"/>
<circle cx="154.3" cy="368.9" r="1.3" fill="#1d4a78"/>
<circle cx="152.9" cy="371.8" r="1.3" fill="#1d4a78"/>
<circle cx="155.7" cy="370.3" r="1.3" fill="#1d4a78"/>
<circle cx="152.6" cy="367.6" r="1.3" fill="#1d4a78"/>
<circle cx="152.6" cy="367.4" r="1.3" fill="#1d4a78"/>
<circle cx="152.5" cy="368.4" r="1.3" fill="#1d4a78"/>
<circle cx="167.7" cy="427.2" r="1.3" fill="#a8182e"/>
<circle cx="165.1" cy="426.9" r="1.3" fill="#a8182e"/>
<circle cx="167.7" cy="425.7" r="1.3" fill="#a8182e"/>
<circle cx="168.0" cy="426.8" r="1.3" fill="#a8182e"/>
<circle cx="166.9" cy="426.4" r="1.3" fill="#a8182e"/>
<circle cx="175.1" cy="400.8" r="1.3" fill="#1d4a78"/>
<circle cx="175.2" cy="396.7" r="1.3" fill="#1d4a78"/>
<circle cx="172.5" cy="395.0" r="1.3" fill="#1d4a78"/>
<circle cx="172.0" cy="399.5" r="1.3" fill="#1d4a78"/>
<circle cx="171.6" cy="401.3" r="1.3" fill="#1d4a78"/>
<circle cx="173.7" cy="400.0" r="1.3" fill="#1d4a78"/>
<circle cx="174.0" cy="402.4" r="1.3" fill="#1d4a78"/>
<circle cx="184.2" cy="427.0" r="1.3" fill="#a8182e"/>
<circle cx="184.9" cy="426.4" r="1.3" fill="#a8182e"/>
<circle cx="184.9" cy="427.1" r="1.3" fill="#a8182e"/>
<circle cx="183.2" cy="426.5" r="1.3" fill="#a8182e"/>
<circle cx="183.1" cy="426.1" r="1.3" fill="#a8182e"/>
<circle cx="193.4" cy="412.4" r="1.3" fill="#1d4a78"/>
<circle cx="193.2" cy="414.5" r="1.3" fill="#1d4a78"/>
<circle cx="192.3" cy="413.5" r="1.3" fill="#1d4a78"/>
<circle cx="190.2" cy="414.5" r="1.3" fill="#1d4a78"/>
<circle cx="193.8" cy="414.0" r="1.3" fill="#1d4a78"/>
<circle cx="193.0" cy="414.0" r="1.3" fill="#1d4a78"/>
<circle cx="205.3" cy="426.8" r="1.3" fill="#a8182e"/>
<circle cx="202.9" cy="427.2" r="1.3" fill="#a8182e"/>
<circle cx="204.6" cy="427.1" r="1.3" fill="#a8182e"/>
<circle cx="204.5" cy="427.4" r="1.3" fill="#a8182e"/>
<circle cx="211.9" cy="422.7" r="1.3" fill="#1d4a78"/>
<circle cx="212.3" cy="425.5" r="1.3" fill="#1d4a78"/>
<circle cx="209.9" cy="425.3" r="1.3" fill="#1d4a78"/>
<circle cx="212.2" cy="423.4" r="1.3" fill="#1d4a78"/>
<circle cx="212.2" cy="424.4" r="1.3" fill="#1d4a78"/>
<circle cx="209.7" cy="423.6" r="1.3" fill="#1d4a78"/>
<circle cx="209.6" cy="418.2" r="0.6" fill="#1d4a78"/>
<circle cx="221.0" cy="427.3" r="1.3" fill="#a8182e"/>
<circle cx="220.9" cy="427.4" r="1.3" fill="#a8182e"/>
<circle cx="224.3" cy="427.0" r="1.3" fill="#a8182e"/>
<circle cx="220.5" cy="427.4" r="1.3" fill="#a8182e"/>
<circle cx="229.3" cy="424.3" r="1.3" fill="#1d4a78"/>
<circle cx="228.1" cy="425.9" r="1.3" fill="#1d4a78"/>
<circle cx="230.5" cy="425.4" r="1.3" fill="#1d4a78"/>
<circle cx="228.9" cy="425.8" r="1.3" fill="#1d4a78"/>
<circle cx="230.9" cy="426.9" r="1.3" fill="#1d4a78"/>
<circle cx="229.2" cy="426.9" r="1.3" fill="#1d4a78"/>
<circle cx="239.5" cy="427.0" r="1.3" fill="#a8182e"/>
<circle cx="242.8" cy="427.1" r="1.3" fill="#a8182e"/>
<circle cx="242.2" cy="427.1" r="1.3" fill="#a8182e"/>
<circle cx="240.7" cy="427.4" r="1.3" fill="#a8182e"/>
<circle cx="248.9" cy="427.3" r="1.3" fill="#1d4a78"/>
<circle cx="247.3" cy="427.2" r="1.3" fill="#1d4a78"/>
<circle cx="248.9" cy="426.4" r="1.3" fill="#1d4a78"/>
<circle cx="247.3" cy="426.4" r="1.3" fill="#1d4a78"/>
<circle cx="248.4" cy="427.0" r="1.3" fill="#1d4a78"/>
<text x="151.8" y="362.5" font-size="5.6" text-anchor="middle" fill="#222" font-weight="bold" stroke="#222" stroke-width="0.08" letter-spacing="-0.1">***</text>
<text x="169.9" y="393.3" font-size="5.6" text-anchor="middle" fill="#222" font-weight="bold" stroke="#222" stroke-width="0.08" letter-spacing="-0.1">***</text>
<text x="188.8" y="411.5" font-size="5.6" text-anchor="middle" fill="#222" font-weight="bold" stroke="#222" stroke-width="0.08" letter-spacing="-0.1">***</text>
<circle cx="221.5" cy="353.2" r="2.1" fill="#a8182e"/>
<text x="226.4" y="355.4" font-size="6.3" text-anchor="start" fill="#222" font-weight="normal" stroke="#222" stroke-width="0.08" letter-spacing="-0.1">Control</text>
<circle cx="221.5" cy="363.4" r="2.1" fill="#1d4a78"/>
<text x="226.4" y="365.6" font-size="6.3" text-anchor="start" fill="#222" font-weight="normal" stroke="#222" stroke-width="0.08" letter-spacing="-0.1">MLL-ENL</text>
<text x="268" y="338.5" font-size="10.6" text-anchor="start" fill="#111" font-weight="bold" stroke="#111" stroke-width="0.45">G</text>
<text x="330.5" y="335.2" font-size="8" text-anchor="middle" fill="#222" font-weight="normal" stroke="#222" stroke-width="0.08">Human</text>
<text x="330.5" y="345.2" font-size="8" text-anchor="middle" fill="#222" font-weight="normal" stroke="#222" stroke-width="0.08">Pediatric AML</text>
<line x1="293.30" y1="351.20" x2="293.30" y2="401.40" stroke="#222" stroke-width="1.0"/>
<line x1="291.80" y1="401.40" x2="294.80" y2="401.40" stroke="#222" stroke-width="0.8"/>
<line x1="293.30" y1="406.80" x2="293.30" y2="427.80" stroke="#222" stroke-width="1.0"/>
<line x1="291.80" y1="406.80" x2="294.80" y2="406.80" stroke="#222" stroke-width="0.8"/>
<line x1="292.80" y1="427.30" x2="367.50" y2="427.30" stroke="#222" stroke-width="1.0"/>
<line x1="290.10" y1="352.40" x2="293.30" y2="352.40" stroke="#222" stroke-width="0.7"/>
<text x="287.9" y="354.5" font-size="5.9" text-anchor="end" fill="#222" font-weight="normal" stroke="#222" stroke-width="0.08" letter-spacing="-0.1">20</text>
<line x1="290.10" y1="366.70" x2="293.30" y2="366.70" stroke="#222" stroke-width="0.7"/>
<text x="287.9" y="368.8" font-size="5.9" text-anchor="end" fill="#222" font-weight="normal" stroke="#222" stroke-width="0.08" letter-spacing="-0.1">15</text>
<line x1="290.10" y1="381.00" x2="293.30" y2="381.00" stroke="#222" stroke-width="0.7"/>
<text x="287.9" y="383.1" font-size="5.9" text-anchor="end" fill="#222" font-weight="normal" stroke="#222" stroke-width="0.08" letter-spacing="-0.1">10</text>
<line x1="290.10" y1="395.30" x2="293.30" y2="395.30" stroke="#222" stroke-width="0.7"/>
<text x="287.9" y="397.4" font-size="5.9" text-anchor="end" fill="#222" font-weight="normal" stroke="#222" stroke-width="0.08" letter-spacing="-0.1">5</text>
<line x1="290.10" y1="406.70" x2="293.30" y2="406.70" stroke="#222" stroke-width="0.7"/>
<text x="287.9" y="408.8" font-size="5.9" text-anchor="end" fill="#222" font-weight="normal" stroke="#222" stroke-width="0.08" letter-spacing="-0.1">2</text>
<line x1="290.10" y1="416.80" x2="293.30" y2="416.80" stroke="#222" stroke-width="0.7"/>
<text x="287.9" y="418.9" font-size="5.9" text-anchor="end" fill="#222" font-weight="normal" stroke="#222" stroke-width="0.08" letter-spacing="-0.1">1</text>
<line x1="290.10" y1="426.90" x2="293.30" y2="426.90" stroke="#222" stroke-width="0.7"/>
<text x="287.9" y="429.0" font-size="5.9" text-anchor="end" fill="#222" font-weight="normal" stroke="#222" stroke-width="0.08" letter-spacing="-0.1">0</text>
<text x="275" y="389" font-size="8" font-weight="bold" text-anchor="middle" fill="#222" transform="rotate(-90 275 389)" textLength="68.5" lengthAdjust="spacingAndGlyphs"><tspan font-style="italic">SKIDA1</tspan> expression (FPKM)</text>
<line x1="300.50" y1="427.30" x2="300.50" y2="429.60" stroke="#222" stroke-width="0.7"/>
<text x="302.3" y="436.5" font-size="6.2" text-anchor="end" fill="#222" font-weight="normal" transform="rotate(-45 302.3 436.5)" stroke="#222" stroke-width="0.08" letter-spacing="-0.1">GLIS2</text>
<line x1="312.00" y1="427.30" x2="312.00" y2="429.60" stroke="#222" stroke-width="0.7"/>
<text x="313.8" y="436.5" font-size="6.2" text-anchor="end" fill="#222" font-weight="normal" transform="rotate(-45 313.8 436.5)" stroke="#222" stroke-width="0.08" letter-spacing="-0.1">inv(16)</text>
<line x1="323.60" y1="427.30" x2="323.60" y2="429.60" stroke="#222" stroke-width="0.7"/>
<text x="325.4" y="436.5" font-size="6.2" text-anchor="end" fill="#222" font-weight="normal" transform="rotate(-45 325.4 436.5)" stroke="#222" stroke-width="0.08" letter-spacing="-0.1">NUP98r</text>
<line x1="336.10" y1="427.30" x2="336.10" y2="429.60" stroke="#222" stroke-width="0.7"/>
<text x="337.9" y="436.5" font-size="6.2" text-anchor="end" fill="#222" font-weight="normal" transform="rotate(-45 337.9 436.5)" stroke="#222" stroke-width="0.08" letter-spacing="-0.1">MLLr</text>
<line x1="347.30" y1="427.30" x2="347.30" y2="429.60" stroke="#222" stroke-width="0.7"/>
<text x="349.1" y="436.5" font-size="6.2" text-anchor="end" fill="#222" font-weight="normal" transform="rotate(-45 349.1 436.5)" stroke="#222" stroke-width="0.08" letter-spacing="-0.1">Normal</text>
<line x1="359.30" y1="427.30" x2="359.30" y2="429.60" stroke="#222" stroke-width="0.7"/>
<text x="361.1" y="436.5" font-size="6.2" text-anchor="end" fill="#222" font-weight="normal" transform="rotate(-45 361.1 436.5)" stroke="#222" stroke-width="0.08" letter-spacing="-0.1">t(8;21)</text>
<circle cx="298.5" cy="426.0" r="1.3" fill="none" stroke="#8c8c8c" stroke-width="0.6"/>
<circle cx="300.4" cy="426.0" r="1.3" fill="none" stroke="#8c8c8c" stroke-width="0.6"/>
<circle cx="302.1" cy="426.0" r="1.3" fill="none" stroke="#8c8c8c" stroke-width="0.6"/>
<circle cx="309.5" cy="425.3" r="1.3" fill="none" stroke="#8c8c8c" stroke-width="0.6"/>
<circle cx="311.5" cy="424.2" r="1.3" fill="none" stroke="#8c8c8c" stroke-width="0.6"/>
<circle cx="313.5" cy="424.9" r="1.3" fill="none" stroke="#8c8c8c" stroke-width="0.6"/>
<circle cx="315.0" cy="425.4" r="1.3" fill="none" stroke="#8c8c8c" stroke-width="0.6"/>
<circle cx="324.2" cy="386.7" r="1.3" fill="none" stroke="#8c8c8c" stroke-width="0.6"/>
<circle cx="324.2" cy="389.1" r="1.3" fill="none" stroke="#8c8c8c" stroke-width="0.6"/>
<circle cx="324.2" cy="391.6" r="1.3" fill="none" stroke="#8c8c8c" stroke-width="0.6"/>
<circle cx="324.2" cy="394.8" r="1.3" fill="none" stroke="#8c8c8c" stroke-width="0.6"/>
<circle cx="322.5" cy="420.5" r="1.3" fill="none" stroke="#8c8c8c" stroke-width="0.6"/>
<circle cx="324.5" cy="422.0" r="1.3" fill="none" stroke="#8c8c8c" stroke-width="0.6"/>
<circle cx="323.0" cy="423.5" r="1.3" fill="none" stroke="#8c8c8c" stroke-width="0.6"/>
<circle cx="325.5" cy="424.5" r="1.3" fill="none" stroke="#8c8c8c" stroke-width="0.6"/>
<circle cx="321.5" cy="425.5" r="1.3" fill="none" stroke="#8c8c8c" stroke-width="0.6"/>
<circle cx="324.0" cy="426.0" r="1.3" fill="none" stroke="#8c8c8c" stroke-width="0.6"/>
<line x1="320.00" y1="424.30" x2="327.50" y2="424.30" stroke="#222" stroke-width="0.6"/>
<circle cx="345.0" cy="412.1" r="1.3" fill="none" stroke="#8c8c8c" stroke-width="0.6"/>
<circle cx="347.7" cy="412.5" r="1.3" fill="none" stroke="#8c8c8c" stroke-width="0.6"/>
<circle cx="346.5" cy="414.1" r="1.3" fill="none" stroke="#8c8c8c" stroke-width="0.6"/>
<circle cx="346.9" cy="415.1" r="1.3" fill="none" stroke="#8c8c8c" stroke-width="0.6"/>
<circle cx="345.4" cy="415.5" r="1.3" fill="none" stroke="#8c8c8c" stroke-width="0.6"/>
<circle cx="345.2" cy="416.8" r="1.3" fill="none" stroke="#8c8c8c" stroke-width="0.6"/>
<circle cx="349.2" cy="417.8" r="1.3" fill="none" stroke="#8c8c8c" stroke-width="0.6"/>
<circle cx="348.5" cy="418.5" r="1.3" fill="none" stroke="#8c8c8c" stroke-width="0.6"/>
<circle cx="348.3" cy="419.2" r="1.3" fill="none" stroke="#8c8c8c" stroke-width="0.6"/>
<circle cx="346.1" cy="420.7" r="1.3" fill="none" stroke="#8c8c8c" stroke-width="0.6"/>
<circle cx="348.2" cy="421.4" r="1.3" fill="none" stroke="#8c8c8c" stroke-width="0.6"/>
<circle cx="345.0" cy="422.2" r="1.3" fill="none" stroke="#8c8c8c" stroke-width="0.6"/>
<circle cx="345.6" cy="423.2" r="1.3" fill="none" stroke="#8c8c8c" stroke-width="0.6"/>
<circle cx="348.6" cy="424.0" r="1.3" fill="none" stroke="#8c8c8c" stroke-width="0.6"/>
<circle cx="349.0" cy="425.7" r="1.3" fill="none" stroke="#8c8c8c" stroke-width="0.6"/>
<circle cx="344.9" cy="426.1" r="1.3" fill="none" stroke="#8c8c8c" stroke-width="0.6"/>
<line x1="343.50" y1="424.30" x2="351.00" y2="424.30" stroke="#222" stroke-width="0.6"/>
<circle cx="356.5" cy="424.9" r="1.3" fill="none" stroke="#8c8c8c" stroke-width="0.6"/>
<circle cx="358.5" cy="424.2" r="1.3" fill="none" stroke="#8c8c8c" stroke-width="0.6"/>
<circle cx="360.5" cy="424.8" r="1.3" fill="none" stroke="#8c8c8c" stroke-width="0.6"/>
<circle cx="362.0" cy="425.5" r="1.3" fill="none" stroke="#8c8c8c" stroke-width="0.6"/>
<circle cx="336.1" cy="366.2" r="1.45" fill="#a8182e"/>
<circle cx="335.5" cy="372.8" r="1.45" fill="#a8182e"/>
<circle cx="336.6" cy="375.2" r="1.45" fill="#a8182e"/>
<circle cx="335.0" cy="378.2" r="1.45" fill="#a8182e"/>
<circle cx="336.5" cy="381.8" r="1.45" fill="#a8182e"/>
<circle cx="336.5" cy="382.0" r="1.45" fill="#a8182e"/>
<circle cx="333.8" cy="399.1" r="1.45" fill="#a8182e"/>
<circle cx="334.2" cy="379.5" r="1.45" fill="#a8182e"/>
<circle cx="332.4" cy="391.2" r="1.45" fill="#a8182e"/>
<circle cx="336.1" cy="381.2" r="1.45" fill="#a8182e"/>
<circle cx="335.5" cy="399.7" r="1.45" fill="#a8182e"/>
<circle cx="337.2" cy="388.1" r="1.45" fill="#a8182e"/>
<circle cx="336.5" cy="381.4" r="1.45" fill="#a8182e"/>
<circle cx="336.6" cy="383.1" r="1.45" fill="#a8182e"/>
<circle cx="332.7" cy="400.5" r="1.45" fill="#a8182e"/>
<circle cx="336.9" cy="391.6" r="1.45" fill="#a8182e"/>
<circle cx="335.0" cy="382.6" r="1.45" fill="#a8182e"/>
<circle cx="339.9" cy="401.3" r="1.45" fill="#a8182e"/>
<circle cx="337.0" cy="382.0" r="1.45" fill="#a8182e"/>
<circle cx="334.1" cy="400.3" r="1.45" fill="#a8182e"/>
<circle cx="332.6" cy="392.8" r="1.45" fill="#a8182e"/>
<circle cx="337.4" cy="387.4" r="1.45" fill="#a8182e"/>
<circle cx="338.2" cy="392.3" r="1.45" fill="#a8182e"/>
<circle cx="335.4" cy="381.2" r="1.45" fill="#a8182e"/>
<circle cx="336.7" cy="398.4" r="1.45" fill="#a8182e"/>
<circle cx="335.4" cy="389.3" r="1.45" fill="#a8182e"/>
<circle cx="336.7" cy="401.1" r="1.45" fill="#a8182e"/>
<circle cx="337.5" cy="379.7" r="1.45" fill="#a8182e"/>
<circle cx="335.6" cy="386.6" r="1.45" fill="#a8182e"/>
<circle cx="335.8" cy="384.0" r="1.45" fill="#a8182e"/>
<circle cx="333.0" cy="386.5" r="1.45" fill="#a8182e"/>
<circle cx="333.1" cy="393.2" r="1.45" fill="#a8182e"/>
<circle cx="332.5" cy="396.6" r="1.45" fill="#a8182e"/>
<circle cx="338.4" cy="396.6" r="1.45" fill="#a8182e"/>
<circle cx="337.7" cy="390.3" r="1.45" fill="#a8182e"/>
<circle cx="337.2" cy="384.8" r="1.45" fill="#a8182e"/>
<circle cx="334.1" cy="388.7" r="1.45" fill="#a8182e"/>
<circle cx="335.3" cy="400.6" r="1.45" fill="#a8182e"/>
<circle cx="338.8" cy="387.5" r="1.45" fill="#a8182e"/>
<circle cx="337.4" cy="387.5" r="1.45" fill="#a8182e"/>
<circle cx="337.7" cy="383.1" r="1.45" fill="#a8182e"/>
<circle cx="332.7" cy="385.0" r="1.45" fill="#a8182e"/>
<circle cx="333.6" cy="400.9" r="1.45" fill="#a8182e"/>
<circle cx="339.8" cy="400.2" r="1.45" fill="#a8182e"/>
<circle cx="332.4" cy="392.7" r="1.45" fill="#a8182e"/>
<circle cx="334.8" cy="380.6" r="1.45" fill="#a8182e"/>
<circle cx="335.9" cy="408.7" r="1.45" fill="#a8182e"/>
<circle cx="336.3" cy="411.7" r="1.45" fill="#a8182e"/>
<circle cx="337.0" cy="416.9" r="1.45" fill="#a8182e"/>
<circle cx="335.8" cy="419.3" r="1.45" fill="#a8182e"/>
<circle cx="333.1" cy="426.3" r="1.45" fill="#a8182e"/>
<circle cx="336.1" cy="426.3" r="1.45" fill="#a8182e"/>
<circle cx="339.1" cy="426.3" r="1.45" fill="#a8182e"/>
<text x="336.1" y="359.2" font-size="6.6" text-anchor="middle" fill="#333" font-weight="bold" stroke="#333" stroke-width="0.08" letter-spacing="-0.1">###</text>
<text x="382" y="338.5" font-size="10.6" text-anchor="start" fill="#111" font-weight="bold" stroke="#111" stroke-width="0.45">H</text>
<text x="451.4" y="335.8" font-size="8" text-anchor="middle" fill="#222" font-weight="normal" stroke="#222" stroke-width="0.08">Human pre-B-ALL</text>
<line x1="407.10" y1="351.00" x2="407.10" y2="427.90" stroke="#222" stroke-width="1.0"/>
<line x1="406.60" y1="427.40" x2="495.50" y2="427.40" stroke="#222" stroke-width="1.0"/>
<line x1="404.10" y1="352.66" x2="407.10" y2="352.66" stroke="#222" stroke-width="0.7"/>
<text x="401.6" y="354.76" font-size="5.9" text-anchor="end" fill="#222" font-weight="normal" stroke="#222" stroke-width="0.08" letter-spacing="-0.1">12</text>
<line x1="404.10" y1="375.37" x2="407.10" y2="375.37" stroke="#222" stroke-width="0.7"/>
<text x="401.6" y="377.47" font-size="5.9" text-anchor="end" fill="#222" font-weight="normal" stroke="#222" stroke-width="0.08" letter-spacing="-0.1">9</text>
<line x1="404.10" y1="398.08" x2="407.10" y2="398.08" stroke="#222" stroke-width="0.7"/>
<text x="401.6" y="400.18" font-size="5.9" text-anchor="end" fill="#222" font-weight="normal" stroke="#222" stroke-width="0.08" letter-spacing="-0.1">6</text>
<line x1="404.10" y1="420.79" x2="407.10" y2="420.79" stroke="#222" stroke-width="0.7"/>
<text x="401.6" y="422.89" font-size="5.9" text-anchor="end" fill="#222" font-weight="normal" stroke="#222" stroke-width="0.08" letter-spacing="-0.1">3</text>
<text x="389.1" y="389.1" font-size="8" font-weight="bold" text-anchor="middle" fill="#222" transform="rotate(-90 389.1 389.1)" textLength="64.8" lengthAdjust="spacingAndGlyphs"><tspan font-style="italic">SKIDA1</tspan> expression (log2)</text>
<line x1="414.10" y1="427.40" x2="414.10" y2="429.70" stroke="#222" stroke-width="0.7"/>
<text x="416.6" y="436.5" font-size="6.2" text-anchor="end" fill="#222" font-weight="normal" transform="rotate(-45 416.6 436.5)" stroke="#222" stroke-width="0.08" letter-spacing="-0.1">Healthy BM</text>
<line x1="425.30" y1="427.40" x2="425.30" y2="429.70" stroke="#222" stroke-width="0.7"/>
<text x="427.8" y="436.5" font-size="6.2" text-anchor="end" fill="#222" font-weight="normal" transform="rotate(-45 427.8 436.5)" stroke="#222" stroke-width="0.08" letter-spacing="-0.1">t(12;21)</text>
<line x1="436.40" y1="427.40" x2="436.40" y2="429.70" stroke="#222" stroke-width="0.7"/>
<text x="438.9" y="436.5" font-size="6.2" text-anchor="end" fill="#222" font-weight="normal" transform="rotate(-45 438.9 436.5)" stroke="#222" stroke-width="0.08" letter-spacing="-0.1">t(1;19)</text>
<line x1="446.90" y1="427.40" x2="446.90" y2="429.70" stroke="#222" stroke-width="0.7"/>
<text x="449.4" y="436.5" font-size="6.2" text-anchor="end" fill="#222" font-weight="normal" transform="rotate(-45 449.4 436.5)" stroke="#222" stroke-width="0.08" letter-spacing="-0.1">t(8;14)</text>
<line x1="457.60" y1="427.40" x2="457.60" y2="429.70" stroke="#222" stroke-width="0.7"/>
<text x="460.1" y="436.5" font-size="6.2" text-anchor="end" fill="#222" font-weight="normal" transform="rotate(-45 460.1 436.5)" stroke="#222" stroke-width="0.08" letter-spacing="-0.1">t(9;22)</text>
<line x1="468.70" y1="427.40" x2="468.70" y2="429.70" stroke="#222" stroke-width="0.7"/>
<text x="471.2" y="436.5" font-size="6.2" text-anchor="end" fill="#222" font-weight="normal" transform="rotate(-45 471.2 436.5)" stroke="#222" stroke-width="0.08" letter-spacing="-0.1">hyperdiploid</text>
<line x1="479.20" y1="427.40" x2="479.20" y2="429.70" stroke="#222" stroke-width="0.7"/>
<text x="481.7" y="436.5" font-size="6.2" text-anchor="end" fill="#222" font-weight="normal" transform="rotate(-45 481.7 436.5)" stroke="#222" stroke-width="0.08" letter-spacing="-0.1">Ph-like</text>
<line x1="489.90" y1="427.40" x2="489.90" y2="429.70" stroke="#222" stroke-width="0.7"/>
<text x="492.4" y="436.5" font-size="6.2" text-anchor="end" fill="#222" font-weight="normal" transform="rotate(-45 492.4 436.5)" stroke="#222" stroke-width="0.08" letter-spacing="-0.1">MLLr</text>
<circle cx="412.4" cy="422.1" r="1.1" fill="none" stroke="#555" stroke-width="0.5"/>
<circle cx="415.4" cy="422.8" r="1.1" fill="none" stroke="#555" stroke-width="0.5"/>
<circle cx="411.9" cy="420.3" r="1.1" fill="none" stroke="#555" stroke-width="0.5"/>
<circle cx="411.6" cy="420.3" r="1.1" fill="none" stroke="#555" stroke-width="0.5"/>
<circle cx="415.7" cy="419.9" r="1.1" fill="none" stroke="#555" stroke-width="0.5"/>
<circle cx="414.3" cy="420.3" r="1.1" fill="none" stroke="#555" stroke-width="0.5"/>
<circle cx="412.7" cy="421.1" r="1.1" fill="none" stroke="#555" stroke-width="0.5"/>
<circle cx="416.5" cy="421.8" r="1.1" fill="none" stroke="#555" stroke-width="0.5"/>
<circle cx="410.7" cy="420.5" r="1.1" fill="none" stroke="#555" stroke-width="0.5"/>
<circle cx="411.6" cy="422.9" r="1.1" fill="none" stroke="#555" stroke-width="0.5"/>
<circle cx="416.3" cy="422.6" r="1.1" fill="none" stroke="#555" stroke-width="0.5"/>
<circle cx="416.4" cy="422.4" r="1.1" fill="none" stroke="#555" stroke-width="0.5"/>
<circle cx="414.0" cy="417.7" r="0.8" fill="#555"/>
<circle cx="427.8" cy="423.4" r="1.15" fill="#1f5a8a"/>
<circle cx="428.2" cy="420.3" r="1.15" fill="#1f5a8a"/>
<circle cx="427.4" cy="421.3" r="1.15" fill="#1f5a8a"/>
<circle cx="424.7" cy="421.7" r="1.15" fill="#1f5a8a"/>
<circle cx="424.7" cy="420.8" r="1.15" fill="#1f5a8a"/>
<circle cx="422.1" cy="420.6" r="1.15" fill="#1f5a8a"/>
<circle cx="427.8" cy="422.8" r="1.15" fill="#1f5a8a"/>
<circle cx="426.9" cy="423.5" r="1.15" fill="#1f5a8a"/>
<circle cx="427.4" cy="421.6" r="1.15" fill="#1f5a8a"/>
<circle cx="426.8" cy="419.8" r="1.15" fill="#1f5a8a"/>
<circle cx="422.6" cy="421.2" r="1.15" fill="#1f5a8a"/>
<circle cx="425.5" cy="420.1" r="1.15" fill="#1f5a8a"/>
<circle cx="425.0" cy="420.3" r="1.15" fill="#1f5a8a"/>
<circle cx="424.4" cy="421.9" r="1.15" fill="#1f5a8a"/>
<circle cx="425.2" cy="419.8" r="1.15" fill="#1f5a8a"/>
<circle cx="423.1" cy="420.2" r="1.15" fill="#1f5a8a"/>
<circle cx="424.2" cy="420.1" r="1.15" fill="#1f5a8a"/>
<circle cx="426.6" cy="419.5" r="1.15" fill="#1f5a8a"/>
<circle cx="424.4" cy="423.4" r="1.15" fill="#1f5a8a"/>
<circle cx="428.9" cy="422.4" r="1.15" fill="#1f5a8a"/>
<circle cx="422.3" cy="419.4" r="1.15" fill="#1f5a8a"/>
<circle cx="428.1" cy="422.7" r="1.15" fill="#1f5a8a"/>
<circle cx="422.4" cy="422.0" r="1.15" fill="#1f5a8a"/>
<circle cx="428.4" cy="421.0" r="1.15" fill="#1f5a8a"/>
<circle cx="427.8" cy="423.1" r="1.15" fill="#1f5a8a"/>
<circle cx="428.3" cy="420.1" r="1.15" fill="#1f5a8a"/>
<circle cx="427.1" cy="420.8" r="1.15" fill="#1f5a8a"/>
<circle cx="429.3" cy="419.8" r="1.15" fill="#1f5a8a"/>
<circle cx="427.2" cy="421.9" r="1.15" fill="#1f5a8a"/>
<circle cx="426.3" cy="420.1" r="1.15" fill="#1f5a8a"/>
<circle cx="426.1" cy="421.8" r="1.15" fill="#1f5a8a"/>
<circle cx="427.2" cy="420.8" r="1.15" fill="#1f5a8a"/>
<circle cx="423.6" cy="420.7" r="1.15" fill="#1f5a8a"/>
<circle cx="426.8" cy="419.9" r="1.15" fill="#1f5a8a"/>
<circle cx="423.0" cy="419.7" r="1.15" fill="#1f5a8a"/>
<circle cx="426.5" cy="419.5" r="1.15" fill="#1f5a8a"/>
<circle cx="425.7" cy="421.6" r="1.15" fill="#1f5a8a"/>
<circle cx="424.8" cy="419.4" r="1.15" fill="#1f5a8a"/>
<circle cx="421.9" cy="420.7" r="1.15" fill="#1f5a8a"/>
<circle cx="429.5" cy="419.2" r="1.15" fill="#1f5a8a"/>
<circle cx="423.6" cy="419.7" r="1.15" fill="#1f5a8a"/>
<circle cx="426.1" cy="420.4" r="1.15" fill="#1f5a8a"/>
<circle cx="425.0" cy="419.5" r="1.15" fill="#1f5a8a"/>
<circle cx="428.1" cy="420.8" r="1.15" fill="#1f5a8a"/>
<circle cx="423.9" cy="419.2" r="1.15" fill="#1f5a8a"/>
<circle cx="440.0" cy="421.4" r="1.15" fill="#1f5a8a"/>
<circle cx="436.2" cy="421.5" r="1.15" fill="#1f5a8a"/>
<circle cx="434.9" cy="422.1" r="1.15" fill="#1f5a8a"/>
<circle cx="436.4" cy="419.3" r="1.15" fill="#1f5a8a"/>
<circle cx="438.2" cy="423.2" r="1.15" fill="#1f5a8a"/>
<circle cx="437.8" cy="420.3" r="1.15" fill="#1f5a8a"/>
<circle cx="434.6" cy="422.9" r="1.15" fill="#1f5a8a"/>
<circle cx="435.3" cy="421.8" r="1.15" fill="#1f5a8a"/>
<circle cx="434.8" cy="420.3" r="1.15" fill="#1f5a8a"/>
<circle cx="435.3" cy="420.1" r="1.15" fill="#1f5a8a"/>
<circle cx="435.6" cy="419.4" r="1.15" fill="#1f5a8a"/>
<circle cx="438.4" cy="419.6" r="1.15" fill="#1f5a8a"/>
<circle cx="432.6" cy="421.8" r="1.15" fill="#1f5a8a"/>
<circle cx="434.0" cy="422.6" r="1.15" fill="#1f5a8a"/>
<circle cx="436.8" cy="421.3" r="1.15" fill="#1f5a8a"/>
<circle cx="434.8" cy="420.7" r="1.15" fill="#1f5a8a"/>
<circle cx="433.6" cy="421.1" r="1.15" fill="#1f5a8a"/>
<circle cx="433.5" cy="423.0" r="1.15" fill="#1f5a8a"/>
<circle cx="434.3" cy="422.8" r="1.15" fill="#1f5a8a"/>
<circle cx="435.6" cy="420.5" r="1.15" fill="#1f5a8a"/>
<circle cx="433.6" cy="419.3" r="1.15" fill="#1f5a8a"/>
<circle cx="436.0" cy="420.8" r="1.15" fill="#1f5a8a"/>
<circle cx="440.1" cy="423.1" r="1.15" fill="#1f5a8a"/>
<circle cx="436.7" cy="419.4" r="1.15" fill="#1f5a8a"/>
<circle cx="438.7" cy="419.8" r="1.15" fill="#1f5a8a"/>
<circle cx="439.4" cy="420.6" r="1.15" fill="#1f5a8a"/>
<circle cx="433.6" cy="421.6" r="1.15" fill="#1f5a8a"/>
<circle cx="434.5" cy="419.2" r="1.15" fill="#1f5a8a"/>
<circle cx="433.7" cy="423.0" r="1.15" fill="#1f5a8a"/>
<circle cx="435.4" cy="421.3" r="1.15" fill="#1f5a8a"/>
<circle cx="435.5" cy="377.3" r="0.9" fill="#1f5a8a"/>
<circle cx="448.7" cy="420.7" r="1.15" fill="#1f5a8a"/>
<circle cx="448.2" cy="420.1" r="1.15" fill="#1f5a8a"/>
<circle cx="449.5" cy="422.1" r="1.15" fill="#1f5a8a"/>
<circle cx="449.4" cy="421.5" r="1.15" fill="#1f5a8a"/>
<circle cx="447.3" cy="421.1" r="1.15" fill="#1f5a8a"/>
<circle cx="448.9" cy="421.9" r="1.15" fill="#1f5a8a"/>
<circle cx="444.6" cy="423.1" r="1.15" fill="#1f5a8a"/>
<circle cx="447.1" cy="419.8" r="1.15" fill="#1f5a8a"/>
<circle cx="447.1" cy="422.8" r="1.15" fill="#1f5a8a"/>
<circle cx="449.7" cy="420.5" r="1.15" fill="#1f5a8a"/>
<circle cx="444.4" cy="420.5" r="1.15" fill="#1f5a8a"/>
<circle cx="444.1" cy="419.4" r="1.15" fill="#1f5a8a"/>
<circle cx="444.5" cy="422.4" r="1.15" fill="#1f5a8a"/>
<circle cx="449.1" cy="422.4" r="1.15" fill="#1f5a8a"/>
<circle cx="448.8" cy="423.6" r="1.15" fill="#1f5a8a"/>
<circle cx="447.6" cy="421.1" r="1.15" fill="#1f5a8a"/>
<circle cx="448.2" cy="422.9" r="1.15" fill="#1f5a8a"/>
<circle cx="448.5" cy="420.5" r="1.15" fill="#1f5a8a"/>
<circle cx="456.0" cy="419.7" r="1.15" fill="#1f5a8a"/>
<circle cx="457.4" cy="423.6" r="1.15" fill="#1f5a8a"/>
<circle cx="460.0" cy="420.4" r="1.15" fill="#1f5a8a"/>
<circle cx="453.4" cy="421.2" r="1.15" fill="#1f5a8a"/>
<circle cx="455.6" cy="419.3" r="1.15" fill="#1f5a8a"/>
<circle cx="461.3" cy="420.7" r="1.15" fill="#1f5a8a"/>
<circle cx="460.5" cy="420.3" r="1.15" fill="#1f5a8a"/>
<circle cx="456.9" cy="423.0" r="1.15" fill="#1f5a8a"/>
<circle cx="459.8" cy="423.6" r="1.15" fill="#1f5a8a"/>
<circle cx="455.6" cy="421.3" r="1.15" fill="#1f5a8a"/>
<circle cx="461.0" cy="421.2" r="1.15" fill="#1f5a8a"/>
<circle cx="455.0" cy="421.6" r="1.15" fill="#1f5a8a"/>
<circle cx="457.4" cy="420.9" r="1.15" fill="#1f5a8a"/>
<circle cx="458.2" cy="420.0" r="1.15" fill="#1f5a8a"/>
<circle cx="460.3" cy="419.4" r="1.15" fill="#1f5a8a"/>
<circle cx="454.3" cy="420.0" r="1.15" fill="#1f5a8a"/>
<circle cx="456.0" cy="421.8" r="1.15" fill="#1f5a8a"/>
<circle cx="457.6" cy="423.1" r="1.15" fill="#1f5a8a"/>
<circle cx="460.4" cy="421.5" r="1.15" fill="#1f5a8a"/>
<circle cx="459.7" cy="420.1" r="1.15" fill="#1f5a8a"/>
<circle cx="457.0" cy="422.1" r="1.15" fill="#1f5a8a"/>
<circle cx="453.6" cy="423.4" r="1.15" fill="#1f5a8a"/>
<circle cx="454.6" cy="423.0" r="1.15" fill="#1f5a8a"/>
<circle cx="454.7" cy="422.9" r="1.15" fill="#1f5a8a"/>
<circle cx="457.6" cy="419.4" r="1.15" fill="#1f5a8a"/>
<circle cx="455.6" cy="423.3" r="1.15" fill="#1f5a8a"/>
<circle cx="458.5" cy="421.3" r="1.15" fill="#1f5a8a"/>
<circle cx="457.9" cy="420.3" r="1.15" fill="#1f5a8a"/>
<circle cx="457.2" cy="419.2" r="1.15" fill="#1f5a8a"/>
<circle cx="456.3" cy="422.5" r="1.15" fill="#1f5a8a"/>
<circle cx="453.8" cy="420.2" r="1.15" fill="#1f5a8a"/>
<circle cx="457.0" cy="422.3" r="1.15" fill="#1f5a8a"/>
<circle cx="459.6" cy="423.2" r="1.15" fill="#1f5a8a"/>
<circle cx="461.1" cy="419.6" r="1.15" fill="#1f5a8a"/>
<circle cx="460.3" cy="423.3" r="1.15" fill="#1f5a8a"/>
<circle cx="459.1" cy="422.9" r="1.15" fill="#1f5a8a"/>
<circle cx="459.0" cy="422.4" r="1.15" fill="#1f5a8a"/>
<circle cx="455.6" cy="421.8" r="1.15" fill="#1f5a8a"/>
<circle cx="459.5" cy="419.8" r="1.15" fill="#1f5a8a"/>
<circle cx="453.9" cy="421.8" r="1.15" fill="#1f5a8a"/>
<circle cx="457.6" cy="415.2" r="0.9" fill="#1f5a8a"/>
<circle cx="458.3" cy="414.3" r="0.9" fill="#1f5a8a"/>
<circle cx="458.4" cy="415.9" r="0.9" fill="#1f5a8a"/>
<circle cx="457.6" cy="416.0" r="0.9" fill="#1f5a8a"/>
<circle cx="458.6" cy="414.9" r="0.9" fill="#1f5a8a"/>
<circle cx="457.5" cy="417.0" r="0.9" fill="#1f5a8a"/>
<circle cx="467.3" cy="423.4" r="1.15" fill="#1f5a8a"/>
<circle cx="472.2" cy="422.2" r="1.15" fill="#1f5a8a"/>
<circle cx="467.7" cy="422.2" r="1.15" fill="#1f5a8a"/>
<circle cx="468.5" cy="419.5" r="1.15" fill="#1f5a8a"/>
<circle cx="471.3" cy="421.0" r="1.15" fill="#1f5a8a"/>
<circle cx="472.8" cy="422.7" r="1.15" fill="#1f5a8a"/>
<circle cx="467.9" cy="421.2" r="1.15" fill="#1f5a8a"/>
<circle cx="470.8" cy="421.7" r="1.15" fill="#1f5a8a"/>
<circle cx="466.3" cy="419.6" r="1.15" fill="#1f5a8a"/>
<circle cx="467.2" cy="419.8" r="1.15" fill="#1f5a8a"/>
<circle cx="472.6" cy="420.5" r="1.15" fill="#1f5a8a"/>
<circle cx="472.3" cy="420.1" r="1.15" fill="#1f5a8a"/>
<circle cx="466.2" cy="420.5" r="1.15" fill="#1f5a8a"/>
<circle cx="465.2" cy="423.5" r="1.15" fill="#1f5a8a"/>
<circle cx="465.6" cy="419.7" r="1.15" fill="#1f5a8a"/>
<circle cx="467.7" cy="419.5" r="1.15" fill="#1f5a8a"/>
<circle cx="465.8" cy="420.1" r="1.15" fill="#1f5a8a"/>
<circle cx="470.4" cy="419.3" r="1.15" fill="#1f5a8a"/>
<circle cx="466.4" cy="419.4" r="1.15" fill="#1f5a8a"/>
<circle cx="471.9" cy="421.7" r="1.15" fill="#1f5a8a"/>
<circle cx="470.5" cy="422.1" r="1.15" fill="#1f5a8a"/>
<circle cx="471.2" cy="422.3" r="1.15" fill="#1f5a8a"/>
<circle cx="465.8" cy="423.0" r="1.15" fill="#1f5a8a"/>
<circle cx="469.7" cy="419.4" r="1.15" fill="#1f5a8a"/>
<circle cx="468.9" cy="421.5" r="1.15" fill="#1f5a8a"/>
<circle cx="466.0" cy="422.6" r="1.15" fill="#1f5a8a"/>
<circle cx="468.1" cy="422.3" r="1.15" fill="#1f5a8a"/>
<circle cx="466.6" cy="421.1" r="1.15" fill="#1f5a8a"/>
<circle cx="469.4" cy="420.4" r="1.15" fill="#1f5a8a"/>
<circle cx="472.1" cy="421.6" r="1.15" fill="#1f5a8a"/>
<circle cx="470.5" cy="420.4" r="1.15" fill="#1f5a8a"/>
<circle cx="470.0" cy="419.6" r="1.15" fill="#1f5a8a"/>
<circle cx="471.7" cy="419.9" r="1.15" fill="#1f5a8a"/>
<circle cx="466.6" cy="423.4" r="1.15" fill="#1f5a8a"/>
<circle cx="466.3" cy="422.8" r="1.15" fill="#1f5a8a"/>
<circle cx="465.4" cy="420.5" r="1.15" fill="#1f5a8a"/>
<circle cx="465.4" cy="421.1" r="1.15" fill="#1f5a8a"/>
<circle cx="469.3" cy="422.3" r="1.15" fill="#1f5a8a"/>
<circle cx="470.5" cy="421.0" r="1.15" fill="#1f5a8a"/>
<circle cx="467.3" cy="420.2" r="1.15" fill="#1f5a8a"/>
<circle cx="464.5" cy="420.8" r="1.15" fill="#1f5a8a"/>
<circle cx="465.2" cy="423.1" r="1.15" fill="#1f5a8a"/>
<circle cx="471.2" cy="419.6" r="1.15" fill="#1f5a8a"/>
<circle cx="468.3" cy="422.8" r="1.15" fill="#1f5a8a"/>
<circle cx="465.7" cy="421.1" r="1.15" fill="#1f5a8a"/>
<circle cx="468.1" cy="413.1" r="0.9" fill="#1f5a8a"/>
<circle cx="467.9" cy="419.0" r="0.9" fill="#1f5a8a"/>
<circle cx="468.4" cy="418.2" r="0.9" fill="#1f5a8a"/>
<circle cx="469.3" cy="418.5" r="0.9" fill="#1f5a8a"/>
<circle cx="469.3" cy="419.0" r="0.9" fill="#1f5a8a"/>
<circle cx="468.9" cy="416.7" r="0.9" fill="#1f5a8a"/>
<circle cx="468.0" cy="378.9" r="0.9" fill="#1f5a8a"/>
<circle cx="468.0" cy="384.8" r="0.9" fill="#1f5a8a"/>
<circle cx="482.3" cy="422.0" r="1.15" fill="#1f5a8a"/>
<circle cx="479.9" cy="422.7" r="1.15" fill="#1f5a8a"/>
<circle cx="479.1" cy="422.6" r="1.15" fill="#1f5a8a"/>
<circle cx="481.4" cy="421.6" r="1.15" fill="#1f5a8a"/>
<circle cx="478.3" cy="421.9" r="1.15" fill="#1f5a8a"/>
<circle cx="481.2" cy="419.3" r="1.15" fill="#1f5a8a"/>
<circle cx="478.7" cy="420.7" r="1.15" fill="#1f5a8a"/>
<circle cx="479.6" cy="420.5" r="1.15" fill="#1f5a8a"/>
<circle cx="481.5" cy="421.0" r="1.15" fill="#1f5a8a"/>
<circle cx="479.6" cy="421.8" r="1.15" fill="#1f5a8a"/>
<circle cx="478.8" cy="422.6" r="1.15" fill="#1f5a8a"/>
<circle cx="481.0" cy="421.6" r="1.15" fill="#1f5a8a"/>
<circle cx="480.9" cy="422.4" r="1.15" fill="#1f5a8a"/>
<circle cx="479.6" cy="423.1" r="1.15" fill="#1f5a8a"/>
<circle cx="477.0" cy="421.6" r="1.15" fill="#1f5a8a"/>
<circle cx="478.7" cy="420.3" r="1.15" fill="#1f5a8a"/>
<circle cx="482.0" cy="421.4" r="1.15" fill="#1f5a8a"/>
<circle cx="478.1" cy="419.4" r="1.15" fill="#1f5a8a"/>
<circle cx="478.9" cy="422.5" r="1.15" fill="#1f5a8a"/>
<circle cx="476.8" cy="422.9" r="1.15" fill="#1f5a8a"/>
<circle cx="478.7" cy="422.6" r="1.15" fill="#1f5a8a"/>
<circle cx="476.1" cy="421.7" r="1.15" fill="#1f5a8a"/>
<circle cx="481.3" cy="421.0" r="1.15" fill="#1f5a8a"/>
<circle cx="479.6" cy="422.4" r="1.15" fill="#1f5a8a"/>
<circle cx="476.0" cy="421.1" r="1.15" fill="#1f5a8a"/>
<circle cx="478.8" cy="422.3" r="1.15" fill="#1f5a8a"/>
<circle cx="480.0" cy="422.4" r="1.15" fill="#1f5a8a"/>
<circle cx="481.8" cy="421.0" r="1.15" fill="#1f5a8a"/>
<circle cx="491.0" cy="375.0" r="1.2" fill="#9e1a32"/>
<circle cx="491.0" cy="372.4" r="1.2" fill="#9e1a32"/>
<circle cx="489.6" cy="400.9" r="1.2" fill="#9e1a32"/>
<circle cx="490.0" cy="420.8" r="1.2" fill="#9e1a32"/>
<circle cx="487.8" cy="396.5" r="1.2" fill="#9e1a32"/>
<circle cx="490.6" cy="413.0" r="1.2" fill="#9e1a32"/>
<circle cx="489.0" cy="381.2" r="1.2" fill="#9e1a32"/>
<circle cx="492.0" cy="391.4" r="1.2" fill="#9e1a32"/>
<circle cx="489.7" cy="417.1" r="1.2" fill="#9e1a32"/>
<circle cx="490.7" cy="369.5" r="1.2" fill="#9e1a32"/>
<circle cx="490.5" cy="379.0" r="1.2" fill="#9e1a32"/>
<circle cx="492.1" cy="396.0" r="1.2" fill="#9e1a32"/>
<circle cx="490.6" cy="375.9" r="1.2" fill="#9e1a32"/>
<circle cx="487.6" cy="408.6" r="1.2" fill="#9e1a32"/>
<circle cx="488.9" cy="399.7" r="1.2" fill="#9e1a32"/>
<circle cx="492.1" cy="407.1" r="1.2" fill="#9e1a32"/>
<circle cx="489.9" cy="405.5" r="1.2" fill="#9e1a32"/>
<circle cx="488.7" cy="401.9" r="1.2" fill="#9e1a32"/>
<circle cx="488.1" cy="394.2" r="1.2" fill="#9e1a32"/>
<circle cx="487.8" cy="408.6" r="1.2" fill="#9e1a32"/>
<circle cx="488.4" cy="397.5" r="1.2" fill="#9e1a32"/>
<circle cx="487.8" cy="399.6" r="1.2" fill="#9e1a32"/>
<circle cx="490.2" cy="369.1" r="1.2" fill="#9e1a32"/>
<circle cx="491.8" cy="408.5" r="1.2" fill="#9e1a32"/>
<circle cx="492.3" cy="406.1" r="1.2" fill="#9e1a32"/>
<circle cx="490.2" cy="375.6" r="1.2" fill="#9e1a32"/>
<circle cx="488.3" cy="403.8" r="1.2" fill="#9e1a32"/>
<circle cx="489.3" cy="375.5" r="1.2" fill="#9e1a32"/>
<circle cx="491.3" cy="404.2" r="1.2" fill="#9e1a32"/>
<circle cx="490.2" cy="412.2" r="1.2" fill="#9e1a32"/>
<circle cx="491.0" cy="385.3" r="1.2" fill="#9e1a32"/>
<circle cx="488.3" cy="403.8" r="1.2" fill="#9e1a32"/>
<circle cx="488.7" cy="408.3" r="1.2" fill="#9e1a32"/>
<circle cx="489.7" cy="395.1" r="1.2" fill="#9e1a32"/>
<circle cx="488.0" cy="413.9" r="1.2" fill="#9e1a32"/>
<circle cx="488.6" cy="400.8" r="1.2" fill="#9e1a32"/>
<circle cx="491.4" cy="410.5" r="1.2" fill="#9e1a32"/>
<circle cx="491.0" cy="393.2" r="1.2" fill="#9e1a32"/>
<circle cx="488.5" cy="401.7" r="1.2" fill="#9e1a32"/>
<circle cx="490.1" cy="393.7" r="1.2" fill="#9e1a32"/>
<circle cx="490.4" cy="416.3" r="1.2" fill="#9e1a32"/>
<circle cx="491.3" cy="382.0" r="1.2" fill="#9e1a32"/>
<circle cx="489.5" cy="406.7" r="1.2" fill="#9e1a32"/>
<circle cx="489.6" cy="392.2" r="1.2" fill="#9e1a32"/>
<circle cx="488.8" cy="411.4" r="1.2" fill="#9e1a32"/>
<circle cx="491.7" cy="387.9" r="1.2" fill="#9e1a32"/>
<circle cx="487.8" cy="400.8" r="1.2" fill="#9e1a32"/>
<circle cx="488.0" cy="419.9" r="1.2" fill="#9e1a32"/>
<circle cx="490.5" cy="397.5" r="1.2" fill="#9e1a32"/>
<circle cx="491.8" cy="410.2" r="1.2" fill="#9e1a32"/>
<circle cx="490.2" cy="389.5" r="1.2" fill="#9e1a32"/>
<circle cx="489.7" cy="419.4" r="1.2" fill="#9e1a32"/>
<circle cx="489.7" cy="412.4" r="1.2" fill="#9e1a32"/>
<circle cx="492.1" cy="412.4" r="1.2" fill="#9e1a32"/>
<circle cx="491.0" cy="396.4" r="1.2" fill="#9e1a32"/>
<circle cx="491.8" cy="396.7" r="1.2" fill="#9e1a32"/>
<circle cx="491.6" cy="414.5" r="1.2" fill="#9e1a32"/>
<circle cx="490.4" cy="419.1" r="1.2" fill="#9e1a32"/>
<circle cx="488.2" cy="422.4" r="1.2" fill="#9e1a32"/>
<circle cx="487.9" cy="406.4" r="1.2" fill="#9e1a32"/>
<circle cx="490.8" cy="406.8" r="1.2" fill="#9e1a32"/>
<circle cx="491.4" cy="394.1" r="1.2" fill="#9e1a32"/>
<circle cx="488.4" cy="399.7" r="1.2" fill="#9e1a32"/>
<circle cx="490.3" cy="390.2" r="1.2" fill="#9e1a32"/>
<circle cx="487.7" cy="398.3" r="1.2" fill="#9e1a32"/>
<circle cx="492.2" cy="395.0" r="1.2" fill="#9e1a32"/>
<circle cx="490.8" cy="402.1" r="1.2" fill="#9e1a32"/>
<circle cx="487.8" cy="400.1" r="1.2" fill="#9e1a32"/>
<circle cx="488.5" cy="408.0" r="1.2" fill="#9e1a32"/>
<circle cx="490.5" cy="387.2" r="1.2" fill="#9e1a32"/>
<circle cx="487.6" cy="410.7" r="1.2" fill="#9e1a32"/>
<circle cx="487.6" cy="422.2" r="1.2" fill="#9e1a32"/>
<circle cx="489.1" cy="389.1" r="1.2" fill="#9e1a32"/>
<circle cx="491.1" cy="415.9" r="1.2" fill="#9e1a32"/>
<circle cx="489.6" cy="413.6" r="1.2" fill="#9e1a32"/>
<circle cx="488.1" cy="420.8" r="1.2" fill="#9e1a32"/>
<circle cx="487.7" cy="422.8" r="1.2" fill="#9e1a32"/>
<circle cx="491.1" cy="388.5" r="1.2" fill="#9e1a32"/>
<circle cx="490.7" cy="414.7" r="1.2" fill="#9e1a32"/>
<circle cx="491.7" cy="392.6" r="1.2" fill="#9e1a32"/>
<circle cx="488.5" cy="403.9" r="1.2" fill="#9e1a32"/>
<circle cx="492.2" cy="386.1" r="1.2" fill="#9e1a32"/>
<circle cx="486.9" cy="422.5" r="1.2" fill="#9e1a32"/>
<circle cx="488.4" cy="422.5" r="1.2" fill="#9e1a32"/>
<circle cx="489.9" cy="422.5" r="1.2" fill="#9e1a32"/>
<circle cx="491.4" cy="422.5" r="1.2" fill="#9e1a32"/>
<circle cx="492.9" cy="422.5" r="1.2" fill="#9e1a32"/>
<line x1="484.50" y1="403.60" x2="495.00" y2="403.60" stroke="#444" stroke-width="0.8"/>
<line x1="458.00" y1="421.40" x2="458.00" y2="421.40" stroke="#000" stroke-width="0.1"/>
<line x1="409.60" y1="421.40" x2="418.60" y2="421.40" stroke="#222" stroke-width="0.6"/>
<line x1="420.80" y1="421.40" x2="429.80" y2="421.40" stroke="#222" stroke-width="0.6"/>
<line x1="431.90" y1="421.40" x2="440.90" y2="421.40" stroke="#222" stroke-width="0.6"/>
<line x1="442.40" y1="421.40" x2="451.40" y2="421.40" stroke="#222" stroke-width="0.6"/>
<line x1="453.10" y1="421.40" x2="462.10" y2="421.40" stroke="#222" stroke-width="0.6"/>
<line x1="464.20" y1="421.40" x2="473.20" y2="421.40" stroke="#222" stroke-width="0.6"/>
<line x1="474.70" y1="421.40" x2="483.70" y2="421.40" stroke="#222" stroke-width="0.6"/>
<text x="489.9" y="363.6" font-size="6.6" text-anchor="middle" fill="#333" font-weight="bold" stroke="#333" stroke-width="0.08" letter-spacing="-0.1">###</text>
<text x="6.9" y="481.4" font-size="10.6" text-anchor="start" fill="#111" font-weight="bold" stroke="#111" stroke-width="0.45">I</text>
<text x="57" y="480" font-size="8" text-anchor="middle" fill="#222" font-weight="normal" stroke="#222" stroke-width="0.08">Human</text>
<text x="57" y="489.2" font-size="8" text-anchor="middle" fill="#222" font-weight="normal" stroke="#222" stroke-width="0.08">Leukemia</text>
<rect x="36.60" y="518.60" width="9.30" height="26.40" fill="#f09aa2"/>
<rect x="67.10" y="519.30" width="9.50" height="25.70" fill="#a9dca6"/>
<line x1="31.20" y1="545.00" x2="82.10" y2="545.00" stroke="#8a8a8a" stroke-width="1.3"/>
<line x1="31.20" y1="496.80" x2="31.20" y2="575.80" stroke="#222" stroke-width="1.0"/>
<line x1="30.70" y1="575.30" x2="82.10" y2="575.30" stroke="#222" stroke-width="1.0"/>
<line x1="28.00" y1="499.10" x2="31.20" y2="499.10" stroke="#222" stroke-width="0.7"/>
<text x="25.2" y="501.2" font-size="5.9" text-anchor="end" fill="#222" font-weight="normal" stroke="#222" stroke-width="0.08" letter-spacing="-0.1">9</text>
<line x1="28.00" y1="514.40" x2="31.20" y2="514.40" stroke="#222" stroke-width="0.7"/>
<text x="25.2" y="516.5" font-size="5.9" text-anchor="end" fill="#222" font-weight="normal" stroke="#222" stroke-width="0.08" letter-spacing="-0.1">6</text>
<line x1="28.00" y1="529.70" x2="31.20" y2="529.70" stroke="#222" stroke-width="0.7"/>
<text x="25.2" y="531.8" font-size="5.9" text-anchor="end" fill="#222" font-weight="normal" stroke="#222" stroke-width="0.08" letter-spacing="-0.1">3</text>
<line x1="28.00" y1="545.00" x2="31.20" y2="545.00" stroke="#222" stroke-width="0.7"/>
<text x="25.2" y="547.1" font-size="5.9" text-anchor="end" fill="#222" font-weight="normal" stroke="#222" stroke-width="0.08" letter-spacing="-0.1">0</text>
<line x1="28.00" y1="560.30" x2="31.20" y2="560.30" stroke="#222" stroke-width="0.7"/>
<text x="25.2" y="562.4" font-size="5.9" text-anchor="end" fill="#222" font-weight="normal" stroke="#222" stroke-width="0.08" letter-spacing="-0.1">−3</text>
<line x1="28.00" y1="575.60" x2="31.20" y2="575.60" stroke="#222" stroke-width="0.7"/>
<text x="25.2" y="577.7" font-size="5.9" text-anchor="end" fill="#222" font-weight="normal" stroke="#222" stroke-width="0.08" letter-spacing="-0.1">−6</text>
<line x1="41.60" y1="575.30" x2="41.60" y2="577.60" stroke="#222" stroke-width="0.7"/>
<line x1="56.60" y1="575.30" x2="56.60" y2="577.60" stroke="#222" stroke-width="0.7"/>
<line x1="71.80" y1="575.30" x2="71.80" y2="577.60" stroke="#222" stroke-width="0.7"/>
<text x="13.7" y="535.9" font-size="8" font-weight="bold" text-anchor="middle" fill="#222" transform="rotate(-90 13.7 535.9)" textLength="44.7" lengthAdjust="spacingAndGlyphs"><tspan font-style="italic">SKIDA1</tspan> log2 CPM</text>
<circle cx="42.7" cy="506.6" r="1.45" fill="#a0182e"/>
<circle cx="41.1" cy="515.3" r="1.45" fill="#a0182e"/>
<circle cx="43.5" cy="507.6" r="1.45" fill="#a0182e"/>
<circle cx="41.4" cy="518.5" r="1.45" fill="#a0182e"/>
<circle cx="39.3" cy="512.9" r="1.45" fill="#a0182e"/>
<circle cx="40.3" cy="503.7" r="1.45" fill="#a0182e"/>
<circle cx="38.0" cy="514.4" r="1.45" fill="#a0182e"/>
<circle cx="39.3" cy="518.2" r="1.45" fill="#a0182e"/>
<circle cx="37.8" cy="507.9" r="1.45" fill="#a0182e"/>
<circle cx="43.1" cy="522.0" r="1.45" fill="#a0182e"/>
<circle cx="42.2" cy="519.7" r="1.45" fill="#a0182e"/>
<circle cx="40.0" cy="504.2" r="1.45" fill="#a0182e"/>
<circle cx="38.4" cy="512.8" r="1.45" fill="#a0182e"/>
<circle cx="40.3" cy="521.1" r="1.45" fill="#a0182e"/>
<circle cx="43.7" cy="506.4" r="1.45" fill="#a0182e"/>
<circle cx="44.6" cy="505.9" r="1.45" fill="#a0182e"/>
<circle cx="41.7" cy="511.9" r="1.45" fill="#a0182e"/>
<circle cx="41.2" cy="509.9" r="1.45" fill="#a0182e"/>
<circle cx="37.8" cy="507.0" r="1.45" fill="#a0182e"/>
<circle cx="39.3" cy="519.5" r="1.45" fill="#a0182e"/>
<circle cx="39.1" cy="518.0" r="1.45" fill="#a0182e"/>
<circle cx="44.3" cy="521.4" r="1.45" fill="#a0182e"/>
<circle cx="43.3" cy="517.5" r="1.45" fill="#a0182e"/>
<circle cx="43.0" cy="514.3" r="1.45" fill="#a0182e"/>
<circle cx="41.1" cy="505.9" r="1.45" fill="#a0182e"/>
<circle cx="39.0" cy="518.8" r="1.45" fill="#a0182e"/>
<circle cx="44.2" cy="520.6" r="1.45" fill="#a0182e"/>
<circle cx="40.3" cy="511.1" r="1.45" fill="#a0182e"/>
<circle cx="40.4" cy="511.9" r="1.45" fill="#a0182e"/>
<circle cx="40.4" cy="521.9" r="1.45" fill="#a0182e"/>
<circle cx="38.2" cy="504.1" r="1.45" fill="#a0182e"/>
<circle cx="45.0" cy="516.8" r="1.45" fill="#a0182e"/>
<circle cx="41.3" cy="534.4" r="1.45" fill="#a0182e"/>
<circle cx="42.4" cy="535.8" r="1.45" fill="#a0182e"/>
<circle cx="41.8" cy="527.6" r="1.45" fill="#a0182e"/>
<circle cx="41.9" cy="535.9" r="1.45" fill="#a0182e"/>
<circle cx="39.8" cy="526.5" r="1.45" fill="#a0182e"/>
<circle cx="43.3" cy="530.7" r="1.45" fill="#a0182e"/>
<circle cx="41.7" cy="530.7" r="1.45" fill="#a0182e"/>
<circle cx="39.5" cy="529.7" r="1.45" fill="#a0182e"/>
<circle cx="42.7" cy="523.6" r="1.45" fill="#a0182e"/>
<circle cx="40.7" cy="541.4" r="1.45" fill="#a0182e"/>
<circle cx="42.1" cy="539.1" r="1.45" fill="#a0182e"/>
<circle cx="43.4" cy="544.5" r="1.45" fill="#a0182e"/>
<circle cx="43.5" cy="532.2" r="1.45" fill="#a0182e"/>
<circle cx="41.7" cy="546.0" r="1.45" fill="#a0182e"/>
<circle cx="41.3" cy="544.1" r="1.45" fill="#a0182e"/>
<circle cx="40.1" cy="531.4" r="1.45" fill="#a0182e"/>
<line x1="41.30" y1="503.00" x2="41.30" y2="531.00" stroke="#7a0e20" stroke-width="0.6"/>
<rect x="55.10" y="522.60" width="3.00" height="3.00" fill="#3aa0d8"/>
<rect x="51.20" y="541.00" width="3.00" height="3.00" fill="#3aa0d8"/>
<rect x="51.20" y="546.50" width="3.00" height="3.00" fill="#3aa0d8"/>
<rect x="58.70" y="543.80" width="3.00" height="3.00" fill="#3aa0d8"/>
<rect x="58.70" y="547.80" width="3.00" height="3.00" fill="#3aa0d8"/>
<rect x="55.10" y="571.70" width="3.00" height="3.00" fill="#3aa0d8"/>
<line x1="56.60" y1="530.90" x2="56.60" y2="563.30" stroke="#7a3848" stroke-width="0.7"/>
<line x1="53.80" y1="530.90" x2="59.60" y2="530.90" stroke="#7a3848" stroke-width="0.7"/>
<line x1="53.80" y1="563.30" x2="59.60" y2="563.30" stroke="#7a3848" stroke-width="0.7"/>
<polygon points="74.8,507.6 73.2,510.4 76.4,510.4" fill="none" stroke="#3aa050" stroke-width="0.7"/>
<polygon points="68.4,516.4 66.8,519.2 70.0,519.2" fill="none" stroke="#3aa050" stroke-width="0.7"/>
<polygon points="74.0,512.0 72.4,514.8 75.6,514.8" fill="none" stroke="#3aa050" stroke-width="0.7"/>
<polygon points="74.5,506.1 72.9,508.9 76.1,508.9" fill="none" stroke="#3aa050" stroke-width="0.7"/>
<polygon points="69.9,509.4 68.3,512.2 71.5,512.2" fill="none" stroke="#3aa050" stroke-width="0.7"/>
<polygon points="71.2,507.7 69.6,510.5 72.8,510.5" fill="none" stroke="#3aa050" stroke-width="0.7"/>
<polygon points="68.4,510.0 66.8,512.8 70.0,512.8" fill="none" stroke="#3aa050" stroke-width="0.7"/>
<polygon points="75.0,518.9 73.4,521.7 76.6,521.7" fill="none" stroke="#3aa050" stroke-width="0.7"/>
<polygon points="73.8,512.0 72.2,514.8 75.4,514.8" fill="none" stroke="#3aa050" stroke-width="0.7"/>
<polygon points="69.8,518.5 68.2,521.3 71.4,521.3" fill="none" stroke="#3aa050" stroke-width="0.7"/>
<polygon points="72.0,515.4 70.4,518.2 73.6,518.2" fill="none" stroke="#3aa050" stroke-width="0.7"/>
<polygon points="68.0,508.3 66.4,511.1 69.6,511.1" fill="none" stroke="#3aa050" stroke-width="0.7"/>
<line x1="71.80" y1="507.00" x2="71.80" y2="521.00" stroke="#3a8a40" stroke-width="0.6"/>
<line x1="38.80" y1="499.80" x2="54.80" y2="499.80" stroke="#9a9a9a" stroke-width="1.2"/>
<text x="46.6" y="499.7" font-size="5.6" text-anchor="middle" fill="#222" font-weight="bold" stroke="#222" stroke-width="0.08" letter-spacing="-0.1">***</text>
<line x1="57.10" y1="499.80" x2="73.20" y2="499.80" stroke="#9a9a9a" stroke-width="1.2"/>
<text x="64.7" y="499.7" font-size="5.6" text-anchor="middle" fill="#222" font-weight="bold" stroke="#222" stroke-width="0.08" letter-spacing="-0.1">***</text>
<text x="45.2" y="585.5" font-size="6.1" text-anchor="end" fill="#222" font-weight="normal" transform="rotate(-45 45.2 585.5)" stroke="#222" stroke-width="0.08" letter-spacing="-0.1">Infant B-ALL</text>
<text x="59.8" y="585.5" font-size="6.1" text-anchor="end" fill="#222" font-weight="normal" transform="rotate(-45 59.8 585.5)" stroke="#222" stroke-width="0.08" letter-spacing="-0.1">Non-Infant B-ALL</text>
<text x="76" y="585.5" font-size="6.1" text-anchor="end" fill="#222" font-weight="normal" transform="rotate(-45 76 585.5)" stroke="#222" stroke-width="0.08" letter-spacing="-0.1">Non-Infant AML</text>
<text x="106.6" y="481.6" font-size="10.6" text-anchor="start" fill="#111" font-weight="bold" stroke="#111" stroke-width="0.45">J</text>
<text x="218.7" y="480.3" font-size="8.1" text-anchor="middle" fill="#222" font-weight="normal" stroke="#222" stroke-width="0.08">SKIDA1</text>
<text x="218.7" y="489.6" font-size="8.2" text-anchor="middle" fill="#222" font-weight="normal" stroke="#222" stroke-width="0.08">Chr10: 21800787-21873130</text>
<line x1="120.80" y1="506.20" x2="317.00" y2="506.20" stroke="#bdbdbd" stroke-width="0.6"/>
<line x1="120.80" y1="518.90" x2="317.00" y2="518.90" stroke="#bdbdbd" stroke-width="0.6"/>
<line x1="120.80" y1="531.60" x2="317.00" y2="531.60" stroke="#bdbdbd" stroke-width="0.6"/>
<line x1="120.80" y1="543.60" x2="317.00" y2="543.60" stroke="#bdbdbd" stroke-width="0.6"/>
<line x1="120.80" y1="556.50" x2="317.00" y2="556.50" stroke="#bdbdbd" stroke-width="0.6"/>
<line x1="120.80" y1="568.50" x2="317.00" y2="568.50" stroke="#bdbdbd" stroke-width="0.6"/>
<line x1="120.80" y1="580.40" x2="317.00" y2="580.40" stroke="#bdbdbd" stroke-width="0.6"/>
<line x1="120.80" y1="593.10" x2="317.00" y2="593.10" stroke="#bdbdbd" stroke-width="0.6"/>
<line x1="120.80" y1="605.80" x2="317.00" y2="605.80" stroke="#bdbdbd" stroke-width="0.6"/>
<line x1="120.80" y1="618.00" x2="317.00" y2="618.00" stroke="#bdbdbd" stroke-width="0.6"/>
<line x1="120.80" y1="629.60" x2="317.00" y2="629.60" stroke="#bdbdbd" stroke-width="0.6"/>
<line x1="120.80" y1="642.00" x2="317.00" y2="642.00" stroke="#bdbdbd" stroke-width="0.6"/>
<path d="M155.0,505.9 L155.0,505.90 L155.5,505.90 L156.0,505.90 L156.5,505.90 L157.0,505.90 L157.5,505.90 L158.0,505.90 L158.5,505.90 L159.0,505.90 L159.5,505.90 L160.0,505.90 L160.5,505.90 L161.0,505.90 L161.5,505.90 L162.0,505.90 L162.5,505.90 L163.0,505.90 L163.5,505.90 L164.0,505.90 L164.5,505.90 L165.0,505.90 L165.5,505.90 L166.0,505.90 L166.5,505.90 L167.0,505.90 L167.5,505.90 L168.0,505.90 L168.5,505.90 L169.0,505.90 L169.5,505.90 L170.0,505.90 L170.5,505.90 L171.0,505.90 L171.5,505.90 L172.0,505.90 L172.5,505.90 L173.0,505.90 L173.5,505.90 L174.0,505.90 L174.5,505.90 L175.0,505.90 L175.5,505.90 L176.0,505.90 L176.5,505.90 L177.0,505.90 L177.5,505.90 L178.0,505.90 L178.5,505.90 L179.0,505.90 L179.5,505.90 L180.0,505.90 L180.5,505.90 L181.0,505.90 L181.5,505.90 L182.0,505.90 L182.5,505.90 L183.0,505.90 L183.5,505.90 L184.0,505.90 L184.5,505.90 L185.0,505.90 L185.5,505.90 L186.0,505.90 L186.5,505.90 L187.0,505.90 L187.5,505.90 L188.0,505.90 L188.5,505.90 L189.0,505.90 L189.5,505.90 L190.0,505.90 L190.5,505.90 L191.0,505.90 L191.5,505.90 L192.0,505.90 L192.5,505.90 L193.0,505.90 L193.5,505.90 L194.0,505.90 L194.5,505.90 L195.0,505.90 L195.5,505.90 L196.0,505.90 L196.5,505.90 L197.0,505.90 L197.5,505.90 L198.0,505.90 L198.5,505.90 L199.0,505.90 L199.5,505.90 L200.0,505.90 L200.5,505.90 L201.0,505.90 L201.5,505.90 L202.0,505.90 L202.5,505.90 L203.0,505.90 L203.5,505.90 L204.0,505.90 L204.5,505.90 L205.0,505.90 L205.5,505.90 L206.0,505.90 L206.5,505.90 L207.0,505.90 L207.5,505.90 L208.0,505.90 L208.5,505.90 L209.0,504.70 L209.5,504.70 L210.0,504.70 L210.5,504.70 L211.0,505.90 L211.5,505.90 L212.0,505.90 L212.5,505.90 L213.0,505.90 L213.5,505.90 L214.0,505.90 L214.5,505.90 L215.0,505.90 L215.5,505.90 L216.0,505.90 L216.5,505.90 L217.0,505.90 L217.5,505.90 L218.0,505.90 L218.5,505.90 L219.0,505.90 L219.5,505.90 L220.0,505.90 L220.5,505.90 L221.0,505.90 L221.5,505.90 L222.0,505.90 L222.5,505.90 L223.0,505.90 L223.5,505.90 L224.0,505.90 L224.5,505.90 L225.0,505.90 L225.5,505.90 L226.0,505.90 L226.5,505.90 L227.0,505.90 L227.5,505.90 L228.0,505.90 L228.5,505.90 L229.0,505.90 L229.5,505.90 L230.0,505.90 L230.5,505.90 L231.0,505.90 L231.5,505.90 L232.0,505.90 L232.5,505.90 L233.0,505.90 L233.5,505.90 L234.0,505.90 L234.5,505.90 L235.0,505.90 L235.5,505.90 L236.0,505.90 L236.5,505.90 L237.0,505.90 L237.5,505.90 L238.0,505.90 L238.5,505.90 L239.0,505.90 L239.5,505.90 L240.0,505.90 L240.5,505.90 L241.0,505.90 L241.5,505.90 L242.0,505.90 L242.5,505.90 L243.0,505.90 L243.5,505.90 L244.0,505.90 L244.5,505.90 L245.0,505.90 L245.5,505.90 L246.0,505.90 L246.5,505.90 L247.0,505.90 L247.5,505.90 L248.0,505.90 L248.5,505.90 L249.0,505.90 L249.5,505.90 L250.0,505.90 L250.5,505.90 L251.0,505.90 L251.5,505.90 L252.0,505.90 L252.5,505.90 L253.0,505.90 L253.5,505.90 L254.0,505.90 L254.5,505.90 L255.0,505.90 L255.5,505.90 L256.0,505.90 L256.5,505.90 L257.0,505.90 L257.5,505.90 L258.0,505.90 L258.5,505.90 L259.0,505.90 L259.5,505.90 L260.0,505.90 L260.5,505.90 L261.0,505.90 L261.5,505.90 L262.0,505.90 L262.5,505.90 L263.0,505.90 L263.5,505.90 L264.0,504.70 L264.5,504.70 L265.0,504.70 L265.5,504.70 L266.0,505.90 L266.5,505.90 L267.0,505.90 L267.5,505.90 L268.0,505.90 L268.5,505.90 L269.0,505.90 L269.5,505.90 L270.0,505.90 L270.5,505.90 L271.0,505.90 L271.5,505.90 L272.0,505.90 L272.5,505.90 L273.0,505.90 L273.5,505.90 L274.0,505.90 L274.5,505.90 L275.0,505.90 L275.5,505.90 L276.0,505.90 L276.5,505.90 L277.0,505.90 L277.5,505.90 L278.0,505.90 L278.5,505.90 L279.0,505.90 L279.5,505.90 L280.0,505.90 L280.5,505.90 L281.0,505.90 L281.5,505.90 L282.0,505.90 L282.5,505.90 L283.0,505.90 L283.5,505.90 L284.0,505.90 L284.5,505.90 L285.0,505.90 L285.5,505.90 L286.0,505.90 L286.5,505.90 L287.0,505.90 L287.5,505.90 L288.0,505.90 L288.5,505.90 L289.0,505.90 L289.5,505.90 L290.0,505.90 L290.5,505.90 L291.0,505.90 L291.5,505.90 L292.0,505.90 L292.5,505.90 L293.0,504.70 L293.5,504.70 L294.0,504.70 L294.5,504.70 L295.0,505.90 L295.5,505.90 L296.0,505.90 L296.5,505.90 L297.0,505.90 L297.5,505.90 L298.0,505.90 L298.5,505.90 L299.0,505.90 L299.5,505.90 L300.0,505.90 L300.5,505.90 L301.0,505.90 L301.5,505.90 L302.0,505.90 L302.5,505.90 L303.0,504.50 L303.5,504.50 L304.0,504.50 L304.5,505.90 L305.0,505.90 L305.5,505.90 L306.0,505.90 L306.5,505.90 L307.0,505.90 L307.5,505.90 L308.0,505.90 L308.5,505.90 L309.0,505.90 L309.5,505.90 L310.0,505.90 L310.5,505.90 L311.0,505.90 L311.5,505.90 L312.0,505.90 L312.5,505.90 L313.0,505.90 L313.5,505.90 L314.0,505.90 L314.5,505.90 L315.0,505.90 L315.5,505.90 L316.0,505.90 L316.5,505.90 L317.0,505.90 L317.0,505.9 Z" fill="#222" stroke="none"/>
<path d="M155.0,518.6 L155.0,517.52 L155.5,518.01 L156.0,517.51 L156.5,517.61 L157.0,517.47 L157.5,517.65 L158.0,517.61 L158.5,517.28 L159.0,517.31 L159.5,517.44 L160.0,517.46 L160.5,516.81 L161.0,516.32 L161.5,516.68 L162.0,517.48 L162.5,517.77 L163.0,517.44 L163.5,517.70 L164.0,517.30 L164.5,517.22 L165.0,517.25 L165.5,517.31 L166.0,517.50 L166.5,517.26 L167.0,517.45 L167.5,517.34 L168.0,517.41 L168.5,517.46 L169.0,517.47 L169.5,517.30 L170.0,517.44 L170.5,517.68 L171.0,517.66 L171.5,517.48 L172.0,517.38 L172.5,517.15 L173.0,517.37 L173.5,517.36 L174.0,517.67 L174.5,517.38 L175.0,517.70 L175.5,517.33 L176.0,517.46 L176.5,517.52 L177.0,517.47 L177.5,517.41 L178.0,517.73 L178.5,517.64 L179.0,517.51 L179.5,517.58 L180.0,517.88 L180.5,517.79 L181.0,517.73 L181.5,517.88 L182.0,518.12 L182.5,517.86 L183.0,517.71 L183.5,517.95 L184.0,517.64 L184.5,517.78 L185.0,517.52 L185.5,517.83 L186.0,517.90 L186.5,517.56 L187.0,517.36 L187.5,517.29 L188.0,517.59 L188.5,517.53 L189.0,517.69 L189.5,517.64 L190.0,517.54 L190.5,517.68 L191.0,517.47 L191.5,517.45 L192.0,517.65 L192.5,517.97 L193.0,518.04 L193.5,517.88 L194.0,517.59 L194.5,517.33 L195.0,517.69 L195.5,517.70 L196.0,517.50 L196.5,517.63 L197.0,517.57 L197.5,517.98 L198.0,517.91 L198.5,517.70 L199.0,517.89 L199.5,517.91 L200.0,517.72 L200.5,517.68 L201.0,517.62 L201.5,517.43 L202.0,517.57 L202.5,517.74 L203.0,517.59 L203.5,517.89 L204.0,517.60 L204.5,517.38 L205.0,517.61 L205.5,517.41 L206.0,517.57 L206.5,517.86 L207.0,517.50 L207.5,517.79 L208.0,516.45 L208.5,517.05 L209.0,516.69 L209.5,516.89 L210.0,516.67 L210.5,516.42 L211.0,515.98 L211.5,516.93 L212.0,517.14 L212.5,516.16 L213.0,515.92 L213.5,516.24 L214.0,516.01 L214.5,516.53 L215.0,515.80 L215.5,515.69 L216.0,513.33 L216.5,509.80 L217.0,506.60 L217.5,506.60 L218.0,506.60 L218.5,507.19 L219.0,509.85 L219.5,512.05 L220.0,512.88 L220.5,513.83 L221.0,513.71 L221.5,514.61 L222.0,515.93 L222.5,515.90 L223.0,516.32 L223.5,516.87 L224.0,515.73 L224.5,516.85 L225.0,516.02 L225.5,515.90 L226.0,516.16 L226.5,515.77 L227.0,516.22 L227.5,516.58 L228.0,516.51 L228.5,516.84 L229.0,516.42 L229.5,516.14 L230.0,515.96 L230.5,515.67 L231.0,516.07 L231.5,515.98 L232.0,516.61 L232.5,516.38 L233.0,515.57 L233.5,516.93 L234.0,515.86 L234.5,514.63 L235.0,511.70 L235.5,506.89 L236.0,508.59 L236.5,514.12 L237.0,515.30 L237.5,515.96 L238.0,516.76 L238.5,516.74 L239.0,516.35 L239.5,516.32 L240.0,516.83 L240.5,516.82 L241.0,516.51 L241.5,516.10 L242.0,516.27 L242.5,516.47 L243.0,516.39 L243.5,517.18 L244.0,516.87 L244.5,515.91 L245.0,516.14 L245.5,515.76 L246.0,516.94 L246.5,516.54 L247.0,517.22 L247.5,515.80 L248.0,516.44 L248.5,516.58 L249.0,516.58 L249.5,516.31 L250.0,515.73 L250.5,516.05 L251.0,516.30 L251.5,516.00 L252.0,515.53 L252.5,515.47 L253.0,514.90 L253.5,513.70 L254.0,514.09 L254.5,514.28 L255.0,515.25 L255.5,515.93 L256.0,515.96 L256.5,516.44 L257.0,516.55 L257.5,516.68 L258.0,516.06 L258.5,516.44 L259.0,515.72 L259.5,516.98 L260.0,516.95 L260.5,516.56 L261.0,515.91 L261.5,515.40 L262.0,514.35 L262.5,512.25 L263.0,510.64 L263.5,512.51 L264.0,514.31 L264.5,515.24 L265.0,515.66 L265.5,516.30 L266.0,515.88 L266.5,516.41 L267.0,515.73 L267.5,516.21 L268.0,515.99 L268.5,515.41 L269.0,515.14 L269.5,514.61 L270.0,515.13 L270.5,515.90 L271.0,515.77 L271.5,516.51 L272.0,516.46 L272.5,515.24 L273.0,516.19 L273.5,515.74 L274.0,515.32 L274.5,514.98 L275.0,514.21 L275.5,514.33 L276.0,514.51 L276.5,513.61 L277.0,513.85 L277.5,514.50 L278.0,514.62 L278.5,513.87 L279.0,512.60 L279.5,512.08 L280.0,510.96 L280.5,509.88 L281.0,510.44 L281.5,510.74 L282.0,512.32 L282.5,512.40 L283.0,512.42 L283.5,511.06 L284.0,509.53 L284.5,510.48 L285.0,510.48 L285.5,512.64 L286.0,513.17 L286.5,512.33 L287.0,510.19 L287.5,508.27 L288.0,506.60 L288.5,507.45 L289.0,509.69 L289.5,509.36 L290.0,506.60 L290.5,506.79 L291.0,510.40 L291.5,512.50 L292.0,512.30 L292.5,510.78 L293.0,509.30 L293.5,508.62 L294.0,508.72 L294.5,507.56 L295.0,508.48 L295.5,509.45 L296.0,512.82 L296.5,514.74 L297.0,515.62 L297.5,515.25 L298.0,515.96 L298.5,515.82 L299.0,516.46 L299.5,515.85 L300.0,516.84 L300.5,516.67 L301.0,516.31 L301.5,516.02 L302.0,514.32 L302.5,509.56 L303.0,506.60 L303.5,507.21 L304.0,512.70 L304.5,513.28 L305.0,514.25 L305.5,513.68 L306.0,515.11 L306.5,516.24 L307.0,515.77 L307.5,515.77 L308.0,516.46 L308.5,516.05 L309.0,516.05 L309.5,515.91 L310.0,515.23 L310.5,515.43 L311.0,514.43 L311.5,512.86 L312.0,512.72 L312.5,512.61 L313.0,513.62 L313.5,514.44 L314.0,515.69 L314.5,516.24 L315.0,516.06 L315.5,516.86 L316.0,515.88 L316.5,516.35 L317.0,515.87 L317.0,518.6 Z" fill="#1f4e79" stroke="none"/>
<path d="M155.0,531.3 L155.0,531.27 L155.5,531.22 L156.0,531.21 L156.5,531.17 L157.0,531.15 L157.5,531.20 L158.0,531.24 L158.5,531.16 L159.0,531.19 L159.5,531.20 L160.0,531.12 L160.5,531.14 L161.0,531.10 L161.5,531.12 L162.0,531.12 L162.5,531.17 L163.0,531.15 L163.5,531.10 L164.0,531.12 L164.5,531.10 L165.0,531.10 L165.5,531.17 L166.0,531.13 L166.5,531.13 L167.0,531.16 L167.5,531.21 L168.0,531.14 L168.5,531.15 L169.0,531.12 L169.5,531.09 L170.0,531.09 L170.5,531.06 L171.0,531.11 L171.5,531.09 L172.0,531.12 L172.5,531.08 L173.0,531.06 L173.5,531.15 L174.0,531.19 L174.5,531.21 L175.0,531.13 L175.5,531.15 L176.0,531.13 L176.5,531.16 L177.0,531.16 L177.5,531.17 L178.0,531.18 L178.5,531.16 L179.0,531.14 L179.5,531.10 L180.0,531.10 L180.5,531.07 L181.0,531.06 L181.5,531.04 L182.0,531.06 L182.5,531.14 L183.0,531.10 L183.5,531.06 L184.0,531.05 L184.5,531.08 L185.0,531.08 L185.5,531.14 L186.0,531.11 L186.5,531.12 L187.0,531.16 L187.5,531.21 L188.0,531.14 L188.5,531.09 L189.0,531.16 L189.5,531.12 L190.0,531.14 L190.5,531.19 L191.0,531.20 L191.5,531.15 L192.0,531.10 L192.5,531.18 L193.0,531.15 L193.5,531.21 L194.0,531.16 L194.5,531.17 L195.0,531.12 L195.5,531.07 L196.0,531.10 L196.5,531.06 L197.0,531.12 L197.5,531.18 L198.0,531.16 L198.5,531.21 L199.0,531.22 L199.5,531.20 L200.0,531.17 L200.5,531.20 L201.0,531.24 L201.5,531.16 L202.0,531.18 L202.5,531.11 L203.0,531.08 L203.5,531.12 L204.0,531.14 L204.5,531.14 L205.0,531.13 L205.5,531.12 L206.0,531.13 L206.5,531.12 L207.0,531.08 L207.5,531.11 L208.0,531.13 L208.5,531.11 L209.0,531.16 L209.5,531.18 L210.0,531.11 L210.5,531.12 L211.0,531.13 L211.5,531.20 L212.0,531.19 L212.5,531.16 L213.0,531.22 L213.5,531.18 L214.0,531.15 L214.5,531.20 L215.0,531.17 L215.5,531.16 L216.0,531.14 L216.5,531.16 L217.0,531.13 L217.5,531.11 L218.0,531.18 L218.5,531.22 L219.0,531.17 L219.5,531.11 L220.0,531.15 L220.5,531.16 L221.0,531.14 L221.5,531.17 L222.0,531.18 L222.5,531.19 L223.0,531.19 L223.5,531.16 L224.0,531.18 L224.5,531.18 L225.0,531.14 L225.5,531.20 L226.0,531.17 L226.5,531.13 L227.0,531.16 L227.5,531.19 L228.0,531.14 L228.5,531.17 L229.0,531.20 L229.5,531.19 L230.0,531.15 L230.5,531.20 L231.0,531.20 L231.5,531.20 L232.0,531.14 L232.5,531.15 L233.0,531.11 L233.5,531.16 L234.0,531.18 L234.5,531.15 L235.0,531.10 L235.5,531.13 L236.0,531.17 L236.5,531.21 L237.0,531.18 L237.5,531.21 L238.0,531.15 L238.5,531.11 L239.0,531.16 L239.5,531.18 L240.0,531.13 L240.5,531.12 L241.0,531.10 L241.5,531.14 L242.0,531.19 L242.5,531.20 L243.0,531.14 L243.5,531.17 L244.0,531.18 L244.5,531.18 L245.0,531.18 L245.5,531.18 L246.0,531.12 L246.5,531.17 L247.0,531.22 L247.5,531.14 L248.0,531.10 L248.5,531.06 L249.0,531.10 L249.5,531.07 L250.0,531.05 L250.5,531.12 L251.0,531.10 L251.5,531.08 L252.0,531.09 L252.5,531.11 L253.0,531.15 L253.5,531.17 L254.0,531.19 L254.5,531.23 L255.0,531.19 L255.5,531.20 L256.0,531.14 L256.5,531.20 L257.0,531.13 L257.5,531.12 L258.0,531.08 L258.5,531.06 L259.0,531.05 L259.5,531.08 L260.0,531.17 L260.5,531.13 L261.0,531.18 L261.5,531.19 L262.0,531.15 L262.5,531.15 L263.0,531.16 L263.5,531.10 L264.0,531.11 L264.5,531.14 L265.0,531.18 L265.5,531.12 L266.0,531.14 L266.5,531.11 L267.0,531.14 L267.5,531.18 L268.0,531.16 L268.5,531.12 L269.0,531.17 L269.5,531.13 L270.0,531.09 L270.5,531.08 L271.0,531.07 L271.5,531.16 L272.0,531.14 L272.5,531.10 L273.0,531.17 L273.5,531.19 L274.0,531.20 L274.5,531.18 L275.0,531.18 L275.5,531.17 L276.0,531.13 L276.5,531.20 L277.0,531.23 L277.5,531.24 L278.0,531.25 L278.5,531.26 L279.0,531.16 L279.5,531.11 L280.0,531.18 L280.5,531.17 L281.0,531.18 L281.5,531.19 L282.0,531.19 L282.5,531.16 L283.0,531.14 L283.5,531.16 L284.0,531.19 L284.5,531.18 L285.0,531.19 L285.5,531.12 L286.0,531.02 L286.5,530.94 L287.0,530.83 L287.5,530.63 L288.0,530.37 L288.5,530.06 L289.0,529.76 L289.5,529.61 L290.0,529.49 L290.5,529.51 L291.0,529.63 L291.5,529.75 L292.0,529.80 L292.5,529.74 L293.0,529.68 L293.5,529.58 L294.0,529.62 L294.5,529.80 L295.0,530.04 L295.5,530.32 L296.0,530.67 L296.5,530.89 L297.0,531.03 L297.5,531.06 L298.0,531.06 L298.5,531.11 L299.0,531.08 L299.5,531.08 L300.0,531.13 L300.5,531.15 L301.0,531.19 L301.5,531.14 L302.0,531.12 L302.5,531.09 L303.0,531.08 L303.5,531.09 L304.0,531.08 L304.5,531.10 L305.0,531.17 L305.5,531.15 L306.0,531.21 L306.5,531.23 L307.0,531.16 L307.5,531.21 L308.0,531.24 L308.5,531.25 L309.0,531.16 L309.5,531.20 L310.0,531.24 L310.5,531.16 L311.0,531.20 L311.5,531.14 L312.0,531.12 L312.5,531.09 L313.0,531.06 L313.5,531.09 L314.0,531.08 L314.5,531.16 L315.0,531.12 L315.5,531.13 L316.0,531.11 L316.5,531.18 L317.0,531.14 L317.0,531.3 Z" fill="#5cb85c" stroke="none"/>
<path d="M155.0,543.3 L155.0,543.30 L155.5,543.30 L156.0,543.30 L156.5,543.30 L157.0,543.30 L157.5,543.30 L158.0,543.30 L158.5,543.30 L159.0,543.30 L159.5,543.30 L160.0,543.30 L160.5,543.30 L161.0,543.30 L161.5,543.30 L162.0,543.30 L162.5,543.30 L163.0,543.30 L163.5,543.30 L164.0,543.30 L164.5,543.30 L165.0,543.30 L165.5,543.30 L166.0,543.30 L166.5,543.30 L167.0,543.30 L167.5,543.30 L168.0,543.30 L168.5,543.30 L169.0,543.30 L169.5,543.30 L170.0,543.30 L170.5,543.30 L171.0,543.30 L171.5,543.30 L172.0,543.30 L172.5,543.30 L173.0,543.30 L173.5,543.30 L174.0,543.30 L174.5,543.30 L175.0,543.30 L175.5,543.30 L176.0,543.30 L176.5,543.30 L177.0,543.30 L177.5,543.30 L178.0,543.30 L178.5,543.30 L179.0,543.30 L179.5,543.30 L180.0,543.30 L180.5,543.30 L181.0,543.30 L181.5,543.30 L182.0,543.30 L182.5,543.30 L183.0,543.30 L183.5,543.30 L184.0,543.30 L184.5,543.30 L185.0,543.30 L185.5,543.30 L186.0,543.30 L186.5,543.30 L187.0,543.30 L187.5,543.30 L188.0,543.30 L188.5,543.30 L189.0,543.30 L189.5,543.30 L190.0,543.30 L190.5,543.30 L191.0,543.30 L191.5,543.30 L192.0,543.30 L192.5,543.30 L193.0,543.30 L193.5,543.30 L194.0,543.30 L194.5,543.30 L195.0,543.30 L195.5,543.30 L196.0,543.30 L196.5,543.30 L197.0,543.30 L197.5,543.30 L198.0,543.30 L198.5,543.30 L199.0,543.30 L199.5,543.30 L200.0,543.30 L200.5,543.30 L201.0,543.30 L201.5,543.30 L202.0,543.30 L202.5,543.30 L203.0,543.30 L203.5,543.30 L204.0,543.30 L204.5,543.30 L205.0,543.30 L205.5,543.30 L206.0,543.30 L206.5,543.30 L207.0,543.30 L207.5,543.30 L208.0,543.30 L208.5,543.30 L209.0,543.30 L209.5,543.30 L210.0,543.30 L210.5,543.30 L211.0,543.30 L211.5,543.30 L212.0,543.30 L212.5,543.30 L213.0,543.30 L213.5,543.30 L214.0,543.30 L214.5,543.30 L215.0,543.30 L215.5,543.30 L216.0,543.30 L216.5,543.30 L217.0,543.30 L217.5,543.30 L218.0,543.30 L218.5,543.30 L219.0,543.30 L219.5,543.30 L220.0,543.30 L220.5,543.30 L221.0,543.30 L221.5,543.30 L222.0,543.30 L222.5,543.30 L223.0,543.30 L223.5,543.30 L224.0,543.30 L224.5,543.30 L225.0,543.30 L225.5,543.30 L226.0,543.30 L226.5,543.30 L227.0,543.30 L227.5,543.30 L228.0,543.30 L228.5,543.30 L229.0,543.30 L229.5,543.30 L230.0,543.30 L230.5,543.30 L231.0,543.30 L231.5,543.30 L232.0,543.30 L232.5,543.30 L233.0,541.30 L233.5,541.30 L234.0,541.30 L234.5,541.30 L235.0,543.30 L235.5,543.30 L236.0,543.30 L236.5,543.30 L237.0,543.30 L237.5,543.30 L238.0,543.30 L238.5,543.30 L239.0,543.30 L239.5,543.30 L240.0,543.30 L240.5,543.30 L241.0,543.30 L241.5,543.30 L242.0,543.30 L242.5,543.30 L243.0,543.30 L243.5,543.30 L244.0,543.30 L244.5,543.30 L245.0,543.30 L245.5,543.30 L246.0,543.30 L246.5,543.30 L247.0,543.30 L247.5,543.30 L248.0,543.30 L248.5,543.30 L249.0,543.30 L249.5,543.30 L250.0,543.30 L250.5,543.30 L251.0,543.30 L251.5,543.30 L252.0,543.30 L252.5,543.30 L253.0,543.30 L253.5,543.30 L254.0,543.30 L254.5,543.30 L255.0,543.30 L255.5,543.30 L256.0,543.30 L256.5,543.30 L257.0,543.30 L257.5,543.30 L258.0,543.30 L258.5,543.30 L259.0,543.30 L259.5,543.30 L260.0,543.30 L260.5,543.30 L261.0,543.30 L261.5,543.30 L262.0,543.30 L262.5,543.30 L263.0,543.30 L263.5,543.30 L264.0,543.30 L264.5,543.30 L265.0,543.30 L265.5,543.30 L266.0,543.30 L266.5,543.30 L267.0,543.30 L267.5,543.30 L268.0,543.30 L268.5,543.30 L269.0,543.30 L269.5,543.30 L270.0,543.30 L270.5,543.30 L271.0,543.30 L271.5,543.30 L272.0,543.30 L272.5,543.30 L273.0,543.30 L273.5,543.30 L274.0,543.30 L274.5,543.30 L275.0,543.30 L275.5,543.30 L276.0,543.30 L276.5,543.30 L277.0,541.80 L277.5,541.80 L278.0,541.80 L278.5,541.80 L279.0,541.80 L279.5,541.80 L280.0,541.80 L280.5,543.30 L281.0,543.30 L281.5,543.30 L282.0,543.30 L282.5,543.30 L283.0,543.30 L283.5,543.30 L284.0,543.30 L284.5,543.30 L285.0,543.30 L285.5,543.30 L286.0,543.30 L286.5,543.30 L287.0,543.30 L287.5,543.30 L288.0,543.30 L288.5,543.30 L289.0,543.30 L289.5,543.30 L290.0,543.30 L290.5,543.30 L291.0,543.30 L291.5,543.30 L292.0,543.30 L292.5,543.30 L293.0,543.30 L293.5,543.30 L294.0,543.30 L294.5,543.30 L295.0,543.30 L295.5,543.30 L296.0,543.30 L296.5,543.30 L297.0,543.30 L297.5,543.30 L298.0,543.30 L298.5,543.30 L299.0,543.30 L299.5,543.30 L300.0,543.30 L300.5,543.30 L301.0,543.30 L301.5,543.30 L302.0,543.30 L302.5,543.30 L303.0,543.30 L303.5,543.30 L304.0,543.30 L304.5,543.30 L305.0,543.30 L305.5,543.30 L306.0,543.30 L306.5,543.30 L307.0,543.30 L307.5,543.30 L308.0,543.30 L308.5,543.30 L309.0,543.30 L309.5,543.30 L310.0,543.30 L310.5,543.30 L311.0,543.30 L311.5,543.30 L312.0,543.30 L312.5,543.30 L313.0,543.30 L313.5,543.30 L314.0,543.30 L314.5,543.30 L315.0,543.30 L315.5,543.30 L316.0,543.30 L316.5,543.30 L317.0,543.30 L317.0,543.3 Z" fill="#222" stroke="none"/>
<path d="M155.0,556.2 L155.0,556.20 L155.5,556.20 L156.0,556.20 L156.5,556.20 L157.0,555.00 L157.5,555.00 L158.0,555.00 L158.5,555.00 L159.0,555.00 L159.5,556.20 L160.0,556.20 L160.5,556.20 L161.0,556.20 L161.5,556.20 L162.0,556.20 L162.5,556.20 L163.0,556.20 L163.5,556.20 L164.0,556.20 L164.5,553.00 L165.0,553.00 L165.5,553.00 L166.0,553.00 L166.5,556.20 L167.0,556.20 L167.5,556.20 L168.0,556.20 L168.5,556.20 L169.0,556.20 L169.5,556.20 L170.0,556.20 L170.5,556.20 L171.0,556.20 L171.5,556.20 L172.0,556.20 L172.5,556.20 L173.0,556.20 L173.5,556.20 L174.0,556.20 L174.5,556.20 L175.0,556.20 L175.5,556.20 L176.0,556.20 L176.5,556.20 L177.0,556.20 L177.5,556.20 L178.0,556.20 L178.5,556.20 L179.0,556.20 L179.5,556.20 L180.0,556.20 L180.5,556.20 L181.0,556.20 L181.5,556.20 L182.0,556.20 L182.5,556.20 L183.0,556.20 L183.5,556.20 L184.0,556.20 L184.5,556.20 L185.0,556.20 L185.5,556.20 L186.0,556.20 L186.5,556.20 L187.0,556.20 L187.5,556.20 L188.0,556.20 L188.5,556.20 L189.0,556.20 L189.5,556.20 L190.0,556.20 L190.5,556.20 L191.0,556.20 L191.5,556.20 L192.0,556.20 L192.5,556.20 L193.0,556.20 L193.5,556.20 L194.0,556.20 L194.5,556.20 L195.0,556.20 L195.5,556.20 L196.0,556.20 L196.5,556.20 L197.0,556.20 L197.5,556.20 L198.0,556.20 L198.5,556.20 L199.0,556.20 L199.5,556.20 L200.0,556.20 L200.5,556.20 L201.0,556.20 L201.5,556.20 L202.0,556.20 L202.5,556.20 L203.0,556.20 L203.5,556.20 L204.0,556.20 L204.5,556.20 L205.0,552.70 L205.5,552.70 L206.0,556.20 L206.5,556.20 L207.0,556.20 L207.5,556.20 L208.0,556.20 L208.5,556.20 L209.0,556.20 L209.5,556.20 L210.0,556.20 L210.5,556.20 L211.0,554.90 L211.5,554.90 L212.0,554.90 L212.5,554.90 L213.0,554.90 L213.5,556.20 L214.0,556.20 L214.5,556.20 L215.0,556.20 L215.5,556.20 L216.0,556.20 L216.5,556.20 L217.0,556.20 L217.5,556.20 L218.0,556.20 L218.5,556.20 L219.0,556.20 L219.5,556.20 L220.0,556.20 L220.5,556.20 L221.0,556.20 L221.5,556.20 L222.0,556.20 L222.5,556.20 L223.0,556.20 L223.5,556.20 L224.0,556.20 L224.5,556.20 L225.0,556.20 L225.5,556.20 L226.0,556.20 L226.5,556.20 L227.0,556.20 L227.5,556.20 L228.0,556.20 L228.5,556.20 L229.0,556.20 L229.5,556.20 L230.0,556.20 L230.5,556.20 L231.0,556.20 L231.5,556.20 L232.0,556.20 L232.5,556.20 L233.0,556.20 L233.5,556.20 L234.0,556.20 L234.5,556.20 L235.0,556.20 L235.5,553.20 L236.0,553.20 L236.5,553.20 L237.0,553.20 L237.5,553.20 L238.0,556.20 L238.5,556.20 L239.0,556.20 L239.5,556.20 L240.0,556.20 L240.5,556.20 L241.0,556.20 L241.5,556.20 L242.0,556.20 L242.5,556.20 L243.0,556.20 L243.5,556.20 L244.0,556.20 L244.5,556.20 L245.0,556.20 L245.5,553.90 L246.0,553.90 L246.5,553.90 L247.0,553.90 L247.5,556.20 L248.0,556.20 L248.5,556.20 L249.0,556.20 L249.5,556.20 L250.0,556.20 L250.5,556.20 L251.0,556.20 L251.5,556.20 L252.0,556.20 L252.5,556.20 L253.0,556.20 L253.5,556.20 L254.0,556.20 L254.5,556.20 L255.0,556.20 L255.5,556.20 L256.0,556.20 L256.5,556.20 L257.0,555.20 L257.5,555.20 L258.0,555.20 L258.5,556.20 L259.0,556.20 L259.5,556.20 L260.0,556.20 L260.5,556.20 L261.0,556.20 L261.5,556.20 L262.0,556.20 L262.5,556.20 L263.0,556.20 L263.5,556.20 L264.0,556.20 L264.5,556.20 L265.0,556.20 L265.5,556.20 L266.0,556.20 L266.5,556.20 L267.0,556.20 L267.5,556.20 L268.0,556.20 L268.5,556.20 L269.0,556.20 L269.5,556.20 L270.0,556.20 L270.5,556.20 L271.0,556.20 L271.5,556.20 L272.0,556.20 L272.5,556.20 L273.0,556.20 L273.5,556.20 L274.0,553.40 L274.5,552.88 L275.0,549.40 L275.5,552.88 L276.0,552.68 L276.5,547.90 L277.0,552.69 L277.5,553.40 L278.0,552.82 L278.5,548.90 L279.0,552.82 L279.5,553.40 L280.0,552.56 L280.5,546.90 L281.0,552.55 L281.5,553.05 L282.0,547.56 L282.5,549.13 L283.0,553.23 L283.5,550.52 L284.0,549.07 L284.5,552.82 L285.0,546.35 L285.5,544.37 L286.0,552.38 L286.5,549.31 L287.0,547.27 L287.5,553.24 L288.0,553.40 L288.5,556.20 L289.0,556.20 L289.5,556.20 L290.0,556.20 L290.5,556.20 L291.0,556.20 L291.5,556.20 L292.0,556.20 L292.5,556.20 L293.0,556.20 L293.5,556.20 L294.0,556.20 L294.5,556.20 L295.0,554.39 L295.5,553.73 L296.0,551.20 L296.5,553.73 L297.0,554.39 L297.5,554.39 L298.0,553.81 L298.5,551.60 L299.0,553.81 L299.5,554.39 L300.0,554.40 L300.5,554.24 L301.0,551.75 L301.5,552.46 L302.0,554.34 L302.5,554.40 L303.0,556.20 L303.5,556.20 L304.0,556.20 L304.5,556.20 L305.0,556.20 L305.5,556.20 L306.0,556.20 L306.5,556.20 L307.0,556.20 L307.5,556.20 L308.0,556.16 L308.5,554.75 L309.0,551.20 L309.5,554.20 L310.0,554.20 L310.5,552.16 L311.0,554.20 L311.5,556.17 L312.0,556.20 L312.5,556.20 L313.0,556.20 L313.5,556.20 L314.0,556.20 L314.5,556.20 L315.0,556.20 L315.5,556.20 L316.0,556.20 L316.5,556.20 L317.0,556.20 L317.0,556.2 Z" fill="#1f4e79" stroke="none"/>
<path d="M155.0,568.2 L155.0,568.20 L155.5,568.20 L156.0,568.20 L156.5,568.20 L157.0,568.20 L157.5,568.20 L158.0,568.20 L158.5,568.20 L159.0,568.20 L159.5,568.20 L160.0,568.20 L160.5,568.20 L161.0,568.20 L161.5,568.20 L162.0,568.20 L162.5,568.20 L163.0,568.20 L163.5,568.20 L164.0,568.20 L164.5,568.20 L165.0,568.20 L165.5,568.20 L166.0,568.20 L166.5,568.20 L167.0,568.20 L167.5,568.20 L168.0,568.20 L168.5,568.20 L169.0,568.20 L169.5,568.20 L170.0,568.20 L170.5,568.20 L171.0,568.20 L171.5,568.20 L172.0,568.20 L172.5,568.20 L173.0,568.20 L173.5,568.20 L174.0,568.20 L174.5,568.20 L175.0,567.00 L175.5,567.00 L176.0,568.20 L176.5,568.20 L177.0,568.20 L177.5,568.20 L178.0,568.20 L178.5,568.20 L179.0,568.20 L179.5,568.20 L180.0,568.20 L180.5,568.20 L181.0,568.20 L181.5,568.20 L182.0,568.20 L182.5,568.20 L183.0,568.20 L183.5,568.20 L184.0,568.20 L184.5,568.20 L185.0,568.20 L185.5,568.20 L186.0,568.20 L186.5,568.20 L187.0,568.20 L187.5,568.20 L188.0,568.20 L188.5,568.20 L189.0,568.20 L189.5,568.20 L190.0,568.20 L190.5,568.20 L191.0,568.20 L191.5,568.20 L192.0,568.20 L192.5,568.20 L193.0,568.20 L193.5,568.20 L194.0,568.20 L194.5,568.20 L195.0,568.20 L195.5,568.20 L196.0,568.20 L196.5,568.20 L197.0,568.20 L197.5,568.20 L198.0,568.20 L198.5,568.20 L199.0,568.20 L199.5,568.20 L200.0,568.20 L200.5,568.20 L201.0,568.20 L201.5,568.20 L202.0,568.20 L202.5,568.20 L203.0,568.20 L203.5,568.20 L204.0,568.20 L204.5,568.20 L205.0,568.20 L205.5,568.20 L206.0,568.20 L206.5,568.20 L207.0,568.20 L207.5,568.20 L208.0,568.20 L208.5,568.20 L209.0,568.20 L209.5,568.20 L210.0,568.20 L210.5,568.20 L211.0,568.20 L211.5,568.20 L212.0,568.20 L212.5,568.20 L213.0,568.20 L213.5,568.20 L214.0,568.20 L214.5,568.20 L215.0,568.20 L215.5,568.20 L216.0,568.20 L216.5,568.20 L217.0,568.20 L217.5,566.40 L218.0,566.40 L218.5,566.40 L219.0,566.40 L219.5,566.40 L220.0,568.20 L220.5,568.20 L221.0,568.20 L221.5,568.20 L222.0,568.20 L222.5,568.20 L223.0,568.20 L223.5,568.20 L224.0,568.20 L224.5,568.20 L225.0,568.20 L225.5,568.20 L226.0,568.20 L226.5,568.20 L227.0,568.20 L227.5,568.20 L228.0,568.20 L228.5,568.20 L229.0,568.20 L229.5,567.20 L230.0,567.20 L230.5,567.20 L231.0,568.20 L231.5,568.20 L232.0,568.20 L232.5,568.20 L233.0,568.20 L233.5,568.20 L234.0,568.20 L234.5,568.20 L235.0,568.20 L235.5,568.20 L236.0,568.20 L236.5,568.20 L237.0,568.20 L237.5,568.20 L238.0,568.20 L238.5,568.20 L239.0,568.20 L239.5,568.20 L240.0,568.20 L240.5,568.20 L241.0,568.20 L241.5,568.20 L242.0,568.20 L242.5,568.20 L243.0,568.20 L243.5,568.20 L244.0,568.20 L244.5,568.20 L245.0,568.20 L245.5,568.20 L246.0,568.20 L246.5,568.20 L247.0,568.20 L247.5,568.20 L248.0,568.20 L248.5,568.20 L249.0,568.20 L249.5,568.20 L250.0,568.20 L250.5,568.20 L251.0,566.60 L251.5,566.60 L252.0,566.60 L252.5,566.60 L253.0,568.20 L253.5,568.20 L254.0,568.20 L254.5,568.20 L255.0,568.20 L255.5,568.20 L256.0,568.20 L256.5,568.20 L257.0,568.20 L257.5,568.20 L258.0,568.20 L258.5,568.20 L259.0,568.20 L259.5,568.20 L260.0,568.20 L260.5,568.20 L261.0,568.20 L261.5,568.20 L262.0,568.20 L262.5,568.20 L263.0,568.20 L263.5,568.20 L264.0,568.20 L264.5,568.20 L265.0,568.20 L265.5,568.20 L266.0,568.20 L266.5,568.20 L267.0,568.20 L267.5,568.20 L268.0,568.20 L268.5,568.20 L269.0,568.20 L269.5,568.20 L270.0,568.20 L270.5,568.20 L271.0,568.20 L271.5,568.20 L272.0,568.20 L272.5,568.20 L273.0,568.20 L273.5,568.20 L274.0,568.20 L274.5,568.20 L275.0,568.20 L275.5,568.20 L276.0,568.20 L276.5,568.20 L277.0,568.20 L277.5,568.20 L278.0,568.20 L278.5,568.20 L279.0,568.20 L279.5,568.20 L280.0,568.20 L280.5,568.20 L281.0,568.20 L281.5,568.20 L282.0,568.20 L282.5,568.20 L283.0,568.20 L283.5,568.20 L284.0,568.20 L284.5,566.80 L285.0,566.80 L285.5,566.80 L286.0,568.20 L286.5,568.20 L287.0,568.20 L287.5,568.20 L288.0,568.20 L288.5,568.20 L289.0,568.20 L289.5,568.20 L290.0,568.20 L290.5,568.20 L291.0,568.20 L291.5,568.20 L292.0,568.20 L292.5,568.20 L293.0,568.20 L293.5,568.20 L294.0,567.81 L294.5,567.79 L295.0,567.59 L295.5,567.60 L296.0,567.57 L296.5,567.65 L297.0,567.75 L297.5,567.50 L298.0,567.51 L298.5,567.72 L299.0,567.88 L299.5,567.90 L300.0,567.90 L300.5,567.86 L301.0,567.79 L301.5,567.72 L302.0,567.49 L302.5,567.65 L303.0,567.64 L303.5,567.79 L304.0,567.53 L304.5,568.20 L305.0,568.20 L305.5,568.20 L306.0,568.20 L306.5,568.20 L307.0,568.20 L307.5,568.20 L308.0,568.20 L308.5,568.20 L309.0,568.20 L309.5,568.20 L310.0,568.20 L310.5,568.20 L311.0,568.20 L311.5,568.20 L312.0,568.20 L312.5,568.20 L313.0,568.20 L313.5,568.20 L314.0,568.20 L314.5,568.20 L315.0,568.20 L315.5,568.20 L316.0,568.20 L316.5,568.20 L317.0,568.20 L317.0,568.2 Z" fill="#5cb85c" stroke="none"/>
<path d="M155.0,580.1 L155.0,580.04 L155.5,580.03 L156.0,579.93 L156.5,579.98 L157.0,579.92 L157.5,579.92 L158.0,579.98 L158.5,579.93 L159.0,579.99 L159.5,579.95 L160.0,579.99 L160.5,580.02 L161.0,579.97 L161.5,579.85 L162.0,579.93 L162.5,579.95 L163.0,579.89 L163.5,579.78 L164.0,579.79 L164.5,579.84 L165.0,579.75 L165.5,579.88 L166.0,579.80 L166.5,579.86 L167.0,579.93 L167.5,579.97 L168.0,579.96 L168.5,579.85 L169.0,579.92 L169.5,579.87 L170.0,579.84 L170.5,579.87 L171.0,579.85 L171.5,579.94 L172.0,579.99 L172.5,579.99 L173.0,579.90 L173.5,579.89 L174.0,579.91 L174.5,579.87 L175.0,579.87 L175.5,579.90 L176.0,579.82 L176.5,579.79 L177.0,579.87 L177.5,579.85 L178.0,579.84 L178.5,579.77 L179.0,579.76 L179.5,579.84 L180.0,579.75 L180.5,579.86 L181.0,579.87 L181.5,579.81 L182.0,579.90 L182.5,579.88 L183.0,579.96 L183.5,579.88 L184.0,579.81 L184.5,579.79 L185.0,579.69 L185.5,579.70 L186.0,579.58 L186.5,579.46 L187.0,579.34 L187.5,579.27 L188.0,579.17 L188.5,579.15 L189.0,579.31 L189.5,579.43 L190.0,579.67 L190.5,579.71 L191.0,579.75 L191.5,579.70 L192.0,579.70 L192.5,579.81 L193.0,579.85 L193.5,579.82 L194.0,579.92 L194.5,579.90 L195.0,579.95 L195.5,579.99 L196.0,580.02 L196.5,579.90 L197.0,579.95 L197.5,579.96 L198.0,579.94 L198.5,579.83 L199.0,579.92 L199.5,579.90 L200.0,579.87 L200.5,579.79 L201.0,579.75 L201.5,579.72 L202.0,579.81 L202.5,579.85 L203.0,579.88 L203.5,579.79 L204.0,579.72 L204.5,579.84 L205.0,579.91 L205.5,579.94 L206.0,579.96 L206.5,579.92 L207.0,579.87 L207.5,579.91 L208.0,579.99 L208.5,579.95 L209.0,579.93 L209.5,579.89 L210.0,579.78 L210.5,579.77 L211.0,579.80 L211.5,579.80 L212.0,579.78 L212.5,579.90 L213.0,579.80 L213.5,579.76 L214.0,579.72 L214.5,579.71 L215.0,579.79 L215.5,579.83 L216.0,579.92 L216.5,579.87 L217.0,579.95 L217.5,579.99 L218.0,579.99 L218.5,580.00 L219.0,579.97 L219.5,580.01 L220.0,580.05 L220.5,580.04 L221.0,580.04 L221.5,579.99 L222.0,580.03 L222.5,579.88 L223.0,579.85 L223.5,579.92 L224.0,579.94 L224.5,579.93 L225.0,579.93 L225.5,579.97 L226.0,579.84 L226.5,579.73 L227.0,579.74 L227.5,579.70 L228.0,579.70 L228.5,579.63 L229.0,579.49 L229.5,579.40 L230.0,579.25 L230.5,579.35 L231.0,579.52 L231.5,579.50 L232.0,579.62 L232.5,579.79 L233.0,579.82 L233.5,579.93 L234.0,579.90 L234.5,579.79 L235.0,579.74 L235.5,579.75 L236.0,579.84 L236.5,579.87 L237.0,579.93 L237.5,579.84 L238.0,579.84 L238.5,579.79 L239.0,579.85 L239.5,579.90 L240.0,579.82 L240.5,579.73 L241.0,579.71 L241.5,579.71 L242.0,579.70 L242.5,579.71 L243.0,579.82 L243.5,579.83 L244.0,579.87 L244.5,579.95 L245.0,580.01 L245.5,579.99 L246.0,579.98 L246.5,579.89 L247.0,579.78 L247.5,579.82 L248.0,579.74 L248.5,579.69 L249.0,579.66 L249.5,579.76 L250.0,579.85 L250.5,579.91 L251.0,579.95 L251.5,579.97 L252.0,579.89 L252.5,579.80 L253.0,579.75 L253.5,579.79 L254.0,579.79 L254.5,579.75 L255.0,579.87 L255.5,579.83 L256.0,579.75 L256.5,579.71 L257.0,579.67 L257.5,579.66 L258.0,579.65 L258.5,579.47 L259.0,579.39 L259.5,579.23 L260.0,579.12 L260.5,579.23 L261.0,579.37 L261.5,579.41 L262.0,579.53 L262.5,579.73 L263.0,579.86 L263.5,579.94 L264.0,579.83 L264.5,579.78 L265.0,579.88 L265.5,579.80 L266.0,579.73 L266.5,579.74 L267.0,579.82 L267.5,579.82 L268.0,579.91 L268.5,579.98 L269.0,579.83 L269.5,579.81 L270.0,579.82 L270.5,579.75 L271.0,579.80 L271.5,579.75 L272.0,579.72 L272.5,579.83 L273.0,579.89 L273.5,579.91 L274.0,579.94 L274.5,579.89 L275.0,579.92 L275.5,579.91 L276.0,579.96 L276.5,579.83 L277.0,579.87 L277.5,579.87 L278.0,579.85 L278.5,579.77 L279.0,579.82 L279.5,579.75 L280.0,579.79 L280.5,579.81 L281.0,579.82 L281.5,579.93 L282.0,579.91 L282.5,579.95 L283.0,580.01 L283.5,579.89 L284.0,579.94 L284.5,579.91 L285.0,579.84 L285.5,579.83 L286.0,579.87 L286.5,579.86 L287.0,579.85 L287.5,579.79 L288.0,579.89 L288.5,579.86 L289.0,579.91 L289.5,579.93 L290.0,579.84 L290.5,579.84 L291.0,579.83 L291.5,579.79 L292.0,579.73 L292.5,579.79 L293.0,579.79 L293.5,579.81 L294.0,579.83 L294.5,579.80 L295.0,579.83 L295.5,579.83 L296.0,579.84 L296.5,579.76 L297.0,579.75 L297.5,579.72 L298.0,579.68 L298.5,579.80 L299.0,579.81 L299.5,579.74 L300.0,579.71 L300.5,579.84 L301.0,579.92 L301.5,579.90 L302.0,579.97 L302.5,579.97 L303.0,580.01 L303.5,579.91 L304.0,579.83 L304.5,579.76 L305.0,579.86 L305.5,579.82 L306.0,579.80 L306.5,579.89 L307.0,579.80 L307.5,579.72 L308.0,579.83 L308.5,579.75 L309.0,579.81 L309.5,579.83 L310.0,579.74 L310.5,579.72 L311.0,579.84 L311.5,579.86 L312.0,579.85 L312.5,579.88 L313.0,579.93 L313.5,579.93 L314.0,579.86 L314.5,579.95 L315.0,579.90 L315.5,579.89 L316.0,579.97 L316.5,579.96 L317.0,579.89 L317.0,580.1 Z" fill="#aaaaaa" stroke="none"/>
<path d="M155.0,592.8 L155.0,591.11 L155.5,590.75 L156.0,590.29 L156.5,589.13 L157.0,587.86 L157.5,586.92 L158.0,586.20 L158.5,586.59 L159.0,587.11 L159.5,587.54 L160.0,589.07 L160.5,589.53 L161.0,590.62 L161.5,591.11 L162.0,591.41 L162.5,591.56 L163.0,591.54 L163.5,591.96 L164.0,591.46 L164.5,591.06 L165.0,590.79 L165.5,590.44 L166.0,589.51 L166.5,589.09 L167.0,588.82 L167.5,588.52 L168.0,589.02 L168.5,589.90 L169.0,590.29 L169.5,590.70 L170.0,591.19 L170.5,591.77 L171.0,591.92 L171.5,591.91 L172.0,591.64 L172.5,591.92 L173.0,591.96 L173.5,591.41 L174.0,591.62 L174.5,592.12 L175.0,591.82 L175.5,591.85 L176.0,591.90 L176.5,591.86 L177.0,591.89 L177.5,592.11 L178.0,591.88 L178.5,591.67 L179.0,591.68 L179.5,591.94 L180.0,592.01 L180.5,591.68 L181.0,591.59 L181.5,591.45 L182.0,590.93 L182.5,590.68 L183.0,590.05 L183.5,590.27 L184.0,590.53 L184.5,591.48 L185.0,591.45 L185.5,591.77 L186.0,591.52 L186.5,591.55 L187.0,590.81 L187.5,590.57 L188.0,590.54 L188.5,590.84 L189.0,591.21 L189.5,591.11 L190.0,591.78 L190.5,591.71 L191.0,591.52 L191.5,591.73 L192.0,591.87 L192.5,591.75 L193.0,591.61 L193.5,591.76 L194.0,591.54 L194.5,591.30 L195.0,591.85 L195.5,591.42 L196.0,591.48 L196.5,591.65 L197.0,591.37 L197.5,591.75 L198.0,591.78 L198.5,591.39 L199.0,591.73 L199.5,591.64 L200.0,591.52 L200.5,591.43 L201.0,591.49 L201.5,591.71 L202.0,591.67 L202.5,591.75 L203.0,591.56 L203.5,591.73 L204.0,591.40 L204.5,591.51 L205.0,590.91 L205.5,590.26 L206.0,590.02 L206.5,589.00 L207.0,588.72 L207.5,588.00 L208.0,587.81 L208.5,587.39 L209.0,587.52 L209.5,587.22 L210.0,587.17 L210.5,587.22 L211.0,587.28 L211.5,586.66 L212.0,586.58 L212.5,587.22 L213.0,587.62 L213.5,588.75 L214.0,588.79 L214.5,589.62 L215.0,589.54 L215.5,589.62 L216.0,589.55 L216.5,589.00 L217.0,588.46 L217.5,587.67 L218.0,587.44 L218.5,587.24 L219.0,587.53 L219.5,587.81 L220.0,587.93 L220.5,588.68 L221.0,588.32 L221.5,588.45 L222.0,588.51 L222.5,589.09 L223.0,589.34 L223.5,589.84 L224.0,590.90 L224.5,591.43 L225.0,591.70 L225.5,591.44 L226.0,591.64 L226.5,591.50 L227.0,591.27 L227.5,591.27 L228.0,591.72 L228.5,591.58 L229.0,591.58 L229.5,591.94 L230.0,591.61 L230.5,591.45 L231.0,591.43 L231.5,591.19 L232.0,590.54 L232.5,590.37 L233.0,589.69 L233.5,588.29 L234.0,587.71 L234.5,587.54 L235.0,587.49 L235.5,587.66 L236.0,588.21 L236.5,589.25 L237.0,590.22 L237.5,590.76 L238.0,590.71 L238.5,590.85 L239.0,590.38 L239.5,590.35 L240.0,589.84 L240.5,589.49 L241.0,589.26 L241.5,589.61 L242.0,589.70 L242.5,590.36 L243.0,591.06 L243.5,591.37 L244.0,591.63 L244.5,591.42 L245.0,591.44 L245.5,591.76 L246.0,591.63 L246.5,591.37 L247.0,591.14 L247.5,590.90 L248.0,590.19 L248.5,589.77 L249.0,589.31 L249.5,588.87 L250.0,588.85 L250.5,588.61 L251.0,588.93 L251.5,589.42 L252.0,589.45 L252.5,589.29 L253.0,589.25 L253.5,588.83 L254.0,588.35 L254.5,588.68 L255.0,589.25 L255.5,589.91 L256.0,590.50 L256.5,590.92 L257.0,591.28 L257.5,591.78 L258.0,591.50 L258.5,591.43 L259.0,591.69 L259.5,591.99 L260.0,591.41 L260.5,591.74 L261.0,591.48 L261.5,591.41 L262.0,591.66 L262.5,591.07 L263.0,590.64 L263.5,589.82 L264.0,589.52 L264.5,589.33 L265.0,589.30 L265.5,589.89 L266.0,590.03 L266.5,590.41 L267.0,590.93 L267.5,591.33 L268.0,591.79 L268.5,591.49 L269.0,591.45 L269.5,591.34 L270.0,591.57 L270.5,591.87 L271.0,591.57 L271.5,591.92 L272.0,591.68 L272.5,591.95 L273.0,591.67 L273.5,591.81 L274.0,591.87 L274.5,591.68 L275.0,591.39 L275.5,591.54 L276.0,591.88 L276.5,591.59 L277.0,591.65 L277.5,591.61 L278.0,590.91 L278.5,590.12 L279.0,588.07 L279.5,585.87 L280.0,584.65 L280.5,586.05 L281.0,588.23 L281.5,590.35 L282.0,591.45 L282.5,591.63 L283.0,591.60 L283.5,591.48 L284.0,590.94 L284.5,590.10 L285.0,589.72 L285.5,588.56 L286.0,587.87 L286.5,587.29 L287.0,587.06 L287.5,587.06 L288.0,587.43 L288.5,587.31 L289.0,587.47 L289.5,587.11 L290.0,586.59 L290.5,586.52 L291.0,586.65 L291.5,586.26 L292.0,586.93 L292.5,587.24 L293.0,587.35 L293.5,587.40 L294.0,587.29 L294.5,587.18 L295.0,586.89 L295.5,587.39 L296.0,588.12 L296.5,588.62 L297.0,588.50 L297.5,588.28 L298.0,588.11 L298.5,588.06 L299.0,588.24 L299.5,589.09 L300.0,589.82 L300.5,590.09 L301.0,589.35 L301.5,588.44 L302.0,588.15 L302.5,587.45 L303.0,587.12 L303.5,587.37 L304.0,587.96 L304.5,588.71 L305.0,588.86 L305.5,588.60 L306.0,588.07 L306.5,588.23 L307.0,588.49 L307.5,588.35 L308.0,589.15 L308.5,589.76 L309.0,589.60 L309.5,589.99 L310.0,589.28 L310.5,589.05 L311.0,588.80 L311.5,588.86 L312.0,588.98 L312.5,589.58 L313.0,590.19 L313.5,590.78 L314.0,591.16 L314.5,590.98 L315.0,591.71 L315.5,591.51 L316.0,591.67 L316.5,591.31 L317.0,591.91 L317.0,592.8 Z" fill="#1f4e79" stroke="none"/>
<path d="M155.0,605.5 L155.0,605.46 L155.5,605.44 L156.0,605.45 L156.5,605.39 L157.0,605.43 L157.5,605.41 L158.0,605.36 L158.5,605.41 L159.0,605.39 L159.5,605.38 L160.0,605.42 L160.5,605.42 L161.0,605.38 L161.5,605.39 L162.0,605.36 L162.5,605.40 L163.0,605.42 L163.5,605.44 L164.0,605.42 L164.5,605.36 L165.0,605.36 L165.5,605.34 L166.0,605.37 L166.5,605.35 L167.0,605.40 L167.5,605.41 L168.0,605.38 L168.5,605.36 L169.0,605.38 L169.5,605.42 L170.0,605.42 L170.5,605.43 L171.0,605.43 L171.5,605.38 L172.0,605.41 L172.5,605.36 L173.0,605.33 L173.5,605.39 L174.0,605.40 L174.5,605.39 L175.0,605.43 L175.5,605.42 L176.0,605.36 L176.5,605.41 L177.0,605.39 L177.5,605.42 L178.0,605.40 L178.5,605.35 L179.0,605.39 L179.5,605.43 L180.0,605.45 L180.5,605.42 L181.0,605.45 L181.5,605.46 L182.0,605.43 L182.5,605.37 L183.0,605.38 L183.5,605.39 L184.0,605.37 L184.5,605.41 L185.0,605.39 L185.5,605.42 L186.0,605.39 L186.5,605.34 L187.0,605.40 L187.5,605.39 L188.0,605.37 L188.5,605.41 L189.0,605.42 L189.5,605.36 L190.0,605.32 L190.5,605.38 L191.0,605.36 L191.5,605.32 L192.0,605.37 L192.5,605.36 L193.0,605.41 L193.5,605.41 L194.0,605.38 L194.5,605.37 L195.0,605.35 L195.5,605.40 L196.0,605.40 L196.5,605.33 L197.0,605.30 L197.5,605.25 L198.0,605.16 L198.5,604.99 L199.0,604.88 L199.5,604.84 L200.0,604.77 L200.5,604.83 L201.0,604.92 L201.5,605.07 L202.0,605.19 L202.5,605.29 L203.0,605.38 L203.5,605.37 L204.0,605.42 L204.5,605.38 L205.0,605.43 L205.5,605.38 L206.0,605.35 L206.5,605.36 L207.0,605.35 L207.5,605.39 L208.0,605.36 L208.5,605.38 L209.0,605.40 L209.5,605.35 L210.0,605.37 L210.5,605.38 L211.0,605.33 L211.5,605.34 L212.0,605.28 L212.5,605.23 L213.0,605.06 L213.5,604.93 L214.0,604.81 L214.5,604.61 L215.0,604.60 L215.5,604.60 L216.0,604.69 L216.5,604.88 L217.0,605.10 L217.5,605.26 L218.0,605.36 L218.5,605.39 L219.0,605.38 L219.5,605.34 L220.0,605.37 L220.5,605.41 L221.0,605.39 L221.5,605.42 L222.0,605.45 L222.5,605.41 L223.0,605.38 L223.5,605.42 L224.0,605.41 L224.5,605.38 L225.0,605.35 L225.5,605.38 L226.0,605.34 L226.5,605.39 L227.0,605.36 L227.5,605.34 L228.0,605.32 L228.5,605.35 L229.0,605.40 L229.5,605.43 L230.0,605.41 L230.5,605.43 L231.0,605.40 L231.5,605.43 L232.0,605.38 L232.5,605.41 L233.0,605.44 L233.5,605.45 L234.0,605.43 L234.5,605.40 L235.0,605.40 L235.5,605.43 L236.0,605.41 L236.5,605.35 L237.0,605.36 L237.5,605.33 L238.0,605.39 L238.5,605.34 L239.0,605.32 L239.5,605.34 L240.0,605.35 L240.5,605.36 L241.0,605.33 L241.5,605.39 L242.0,605.37 L242.5,605.37 L243.0,605.39 L243.5,605.37 L244.0,605.35 L244.5,605.40 L245.0,605.37 L245.5,605.38 L246.0,605.38 L246.5,605.37 L247.0,605.42 L247.5,605.39 L248.0,605.40 L248.5,605.36 L249.0,605.39 L249.5,605.36 L250.0,605.34 L250.5,605.35 L251.0,605.32 L251.5,605.39 L252.0,605.38 L252.5,605.37 L253.0,605.36 L253.5,605.37 L254.0,605.42 L254.5,605.43 L255.0,605.40 L255.5,605.42 L256.0,605.45 L256.5,605.43 L257.0,605.42 L257.5,605.40 L258.0,605.44 L258.5,605.39 L259.0,605.40 L259.5,605.37 L260.0,605.42 L260.5,605.36 L261.0,605.36 L261.5,605.32 L262.0,605.30 L262.5,605.30 L263.0,605.37 L263.5,605.39 L264.0,605.41 L264.5,605.37 L265.0,605.40 L265.5,605.42 L266.0,605.44 L266.5,605.45 L267.0,605.38 L267.5,605.34 L268.0,605.37 L268.5,605.35 L269.0,605.36 L269.5,605.37 L270.0,605.39 L270.5,605.37 L271.0,605.40 L271.5,605.42 L272.0,605.40 L272.5,605.42 L273.0,605.41 L273.5,605.36 L274.0,605.41 L274.5,605.44 L275.0,605.39 L275.5,605.43 L276.0,605.43 L276.5,605.38 L277.0,605.37 L277.5,605.40 L278.0,605.43 L278.5,605.43 L279.0,605.43 L279.5,605.38 L280.0,605.34 L280.5,605.33 L281.0,605.31 L281.5,605.30 L282.0,605.29 L282.5,605.29 L283.0,605.28 L283.5,605.36 L284.0,605.38 L284.5,605.41 L285.0,605.38 L285.5,605.38 L286.0,605.38 L286.5,605.32 L287.0,605.29 L287.5,605.24 L288.0,605.12 L288.5,604.95 L289.0,604.76 L289.5,604.62 L290.0,604.58 L290.5,604.66 L291.0,604.79 L291.5,604.96 L292.0,605.14 L292.5,605.24 L293.0,605.34 L293.5,605.35 L294.0,605.35 L294.5,605.40 L295.0,605.38 L295.5,605.40 L296.0,605.40 L296.5,605.38 L297.0,605.35 L297.5,605.33 L298.0,605.33 L298.5,605.38 L299.0,605.37 L299.5,605.39 L300.0,605.43 L300.5,605.41 L301.0,605.40 L301.5,605.36 L302.0,605.38 L302.5,605.35 L303.0,605.36 L303.5,605.41 L304.0,605.38 L304.5,605.40 L305.0,605.39 L305.5,605.43 L306.0,605.45 L306.5,605.38 L307.0,605.43 L307.5,605.44 L308.0,605.45 L308.5,605.46 L309.0,605.40 L309.5,605.34 L310.0,605.34 L310.5,605.37 L311.0,605.34 L311.5,605.35 L312.0,605.40 L312.5,605.37 L313.0,605.39 L313.5,605.41 L314.0,605.41 L314.5,605.41 L315.0,605.43 L315.5,605.40 L316.0,605.36 L316.5,605.36 L317.0,605.41 L317.0,605.5 Z" fill="#5cb85c" stroke="none"/>
<path d="M155.0,617.7 L155.0,617.61 L155.5,617.58 L156.0,617.53 L156.5,617.57 L157.0,617.49 L157.5,617.44 L158.0,617.44 L158.5,617.52 L159.0,617.51 L159.5,617.53 L160.0,617.56 L160.5,617.46 L161.0,617.40 L161.5,617.51 L162.0,617.45 L162.5,617.45 L163.0,617.49 L163.5,617.52 L164.0,617.48 L164.5,617.48 L165.0,617.44 L165.5,617.40 L166.0,617.45 L166.5,617.35 L167.0,617.22 L167.5,617.12 L168.0,617.08 L168.5,617.13 L169.0,617.14 L169.5,617.13 L170.0,617.00 L170.5,617.04 L171.0,617.09 L171.5,617.07 L172.0,617.18 L172.5,617.25 L173.0,617.32 L173.5,617.45 L174.0,617.45 L174.5,617.41 L175.0,617.50 L175.5,617.55 L176.0,617.54 L176.5,617.60 L177.0,617.56 L177.5,617.49 L178.0,617.47 L178.5,617.47 L179.0,617.43 L179.5,617.51 L180.0,617.50 L180.5,617.52 L181.0,617.49 L181.5,617.56 L182.0,617.49 L182.5,617.56 L183.0,617.59 L183.5,617.50 L184.0,617.43 L184.5,617.47 L185.0,617.50 L185.5,617.54 L186.0,617.56 L186.5,617.52 L187.0,617.56 L187.5,617.60 L188.0,617.57 L188.5,617.59 L189.0,617.53 L189.5,617.47 L190.0,617.44 L190.5,617.46 L191.0,617.50 L191.5,617.51 L192.0,617.59 L192.5,617.52 L193.0,617.54 L193.5,617.55 L194.0,617.60 L194.5,617.57 L195.0,617.53 L195.5,617.53 L196.0,617.46 L196.5,617.45 L197.0,617.51 L197.5,617.50 L198.0,617.43 L198.5,617.45 L199.0,617.45 L199.5,617.53 L200.0,617.50 L200.5,617.47 L201.0,617.45 L201.5,617.40 L202.0,617.32 L202.5,617.25 L203.0,617.18 L203.5,617.16 L204.0,617.09 L204.5,616.96 L205.0,616.98 L205.5,617.08 L206.0,617.17 L206.5,617.18 L207.0,617.29 L207.5,617.38 L208.0,617.46 L208.5,617.46 L209.0,617.39 L209.5,617.44 L210.0,617.47 L210.5,617.49 L211.0,617.50 L211.5,617.51 L212.0,617.47 L212.5,617.42 L213.0,617.42 L213.5,617.46 L214.0,617.45 L214.5,617.41 L215.0,617.50 L215.5,617.54 L216.0,617.51 L216.5,617.47 L217.0,617.46 L217.5,617.46 L218.0,617.42 L218.5,617.46 L219.0,617.43 L219.5,617.38 L220.0,617.44 L220.5,617.41 L221.0,617.41 L221.5,617.38 L222.0,617.50 L222.5,617.44 L223.0,617.42 L223.5,617.38 L224.0,617.35 L224.5,617.44 L225.0,617.44 L225.5,617.52 L226.0,617.50 L226.5,617.43 L227.0,617.51 L227.5,617.53 L228.0,617.58 L228.5,617.60 L229.0,617.61 L229.5,617.63 L230.0,617.50 L230.5,617.44 L231.0,617.47 L231.5,617.44 L232.0,617.43 L232.5,617.46 L233.0,617.49 L233.5,617.47 L234.0,617.47 L234.5,617.52 L235.0,617.53 L235.5,617.50 L236.0,617.48 L236.5,617.53 L237.0,617.50 L237.5,617.44 L238.0,617.41 L238.5,617.42 L239.0,617.52 L239.5,617.52 L240.0,617.58 L240.5,617.62 L241.0,617.61 L241.5,617.57 L242.0,617.50 L242.5,617.48 L243.0,617.52 L243.5,617.48 L244.0,617.48 L244.5,617.47 L245.0,617.50 L245.5,617.48 L246.0,617.46 L246.5,617.36 L247.0,617.31 L247.5,617.26 L248.0,617.19 L248.5,617.12 L249.0,617.03 L249.5,616.96 L250.0,616.92 L250.5,616.98 L251.0,616.99 L251.5,617.00 L252.0,617.03 L252.5,617.13 L253.0,617.31 L253.5,617.31 L254.0,617.33 L254.5,617.47 L255.0,617.51 L255.5,617.54 L256.0,617.48 L256.5,617.47 L257.0,617.52 L257.5,617.56 L258.0,617.59 L258.5,617.62 L259.0,617.53 L259.5,617.45 L260.0,617.51 L260.5,617.47 L261.0,617.41 L261.5,617.49 L262.0,617.49 L262.5,617.50 L263.0,617.42 L263.5,617.40 L264.0,617.51 L264.5,617.56 L265.0,617.48 L265.5,617.48 L266.0,617.48 L266.5,617.44 L267.0,617.42 L267.5,617.38 L268.0,617.46 L268.5,617.55 L269.0,617.50 L269.5,617.57 L270.0,617.53 L270.5,617.46 L271.0,617.49 L271.5,617.48 L272.0,617.54 L272.5,617.58 L273.0,617.53 L273.5,617.46 L274.0,617.40 L274.5,617.51 L275.0,617.44 L275.5,617.46 L276.0,617.50 L276.5,617.52 L277.0,617.50 L277.5,617.52 L278.0,617.57 L278.5,617.48 L279.0,617.46 L279.5,617.46 L280.0,617.44 L280.5,617.39 L281.0,617.48 L281.5,617.44 L282.0,617.41 L282.5,617.47 L283.0,617.47 L283.5,617.49 L284.0,617.54 L284.5,617.54 L285.0,617.58 L285.5,617.48 L286.0,617.54 L286.5,617.50 L287.0,617.49 L287.5,617.42 L288.0,617.40 L288.5,617.46 L289.0,617.50 L289.5,617.57 L290.0,617.61 L290.5,617.60 L291.0,617.49 L291.5,617.56 L292.0,617.59 L292.5,617.53 L293.0,617.54 L293.5,617.58 L294.0,617.47 L294.5,617.56 L295.0,617.52 L295.5,617.52 L296.0,617.54 L296.5,617.57 L297.0,617.60 L297.5,617.57 L298.0,617.50 L298.5,617.51 L299.0,617.46 L299.5,617.42 L300.0,617.50 L300.5,617.44 L301.0,617.45 L301.5,617.48 L302.0,617.49 L302.5,617.43 L303.0,617.48 L303.5,617.55 L304.0,617.46 L304.5,617.53 L305.0,617.58 L305.5,617.51 L306.0,617.54 L306.5,617.56 L307.0,617.51 L307.5,617.44 L308.0,617.49 L308.5,617.43 L309.0,617.44 L309.5,617.45 L310.0,617.46 L310.5,617.56 L311.0,617.59 L311.5,617.52 L312.0,617.48 L312.5,617.55 L313.0,617.51 L313.5,617.51 L314.0,617.49 L314.5,617.51 L315.0,617.55 L315.5,617.55 L316.0,617.46 L316.5,617.52 L317.0,617.46 L317.0,617.7 Z" fill="#aaaaaa" stroke="none"/>
<path d="M155.0,629.3 L155.0,627.20 L155.5,626.63 L156.0,625.77 L156.5,625.08 L157.0,623.92 L157.5,624.06 L158.0,623.50 L158.5,624.67 L159.0,624.24 L159.5,625.48 L160.0,627.02 L160.5,627.50 L161.0,627.70 L161.5,627.71 L162.0,627.32 L162.5,627.53 L163.0,627.48 L163.5,627.88 L164.0,626.87 L164.5,626.96 L165.0,627.27 L165.5,627.10 L166.0,626.31 L166.5,626.16 L167.0,625.80 L167.5,627.10 L168.0,627.10 L168.5,627.37 L169.0,627.39 L169.5,627.72 L170.0,627.63 L170.5,626.72 L171.0,627.01 L171.5,626.91 L172.0,626.50 L172.5,626.34 L173.0,626.49 L173.5,627.06 L174.0,627.64 L174.5,627.97 L175.0,627.26 L175.5,627.24 L176.0,627.85 L176.5,627.45 L177.0,627.17 L177.5,628.03 L178.0,627.84 L178.5,628.17 L179.0,627.68 L179.5,627.67 L180.0,627.81 L180.5,627.62 L181.0,627.19 L181.5,628.08 L182.0,627.22 L182.5,628.00 L183.0,627.09 L183.5,627.14 L184.0,627.32 L184.5,627.71 L185.0,626.51 L185.5,626.40 L186.0,625.97 L186.5,626.45 L187.0,626.30 L187.5,627.32 L188.0,626.92 L188.5,627.74 L189.0,627.83 L189.5,627.95 L190.0,628.18 L190.5,627.90 L191.0,628.10 L191.5,627.26 L192.0,627.39 L192.5,627.45 L193.0,628.19 L193.5,627.30 L194.0,627.10 L194.5,627.45 L195.0,627.05 L195.5,626.38 L196.0,626.54 L196.5,625.76 L197.0,625.94 L197.5,625.96 L198.0,626.71 L198.5,626.76 L199.0,627.13 L199.5,627.40 L200.0,627.66 L200.5,627.44 L201.0,627.54 L201.5,627.12 L202.0,627.64 L202.5,627.39 L203.0,627.11 L203.5,627.23 L204.0,627.29 L204.5,627.35 L205.0,626.56 L205.5,625.57 L206.0,626.19 L206.5,625.12 L207.0,625.57 L207.5,624.93 L208.0,624.89 L208.5,625.40 L209.0,625.81 L209.5,625.05 L210.0,625.27 L210.5,625.01 L211.0,624.64 L211.5,624.04 L212.0,623.99 L212.5,625.15 L213.0,625.22 L213.5,625.18 L214.0,624.96 L214.5,624.51 L215.0,624.79 L215.5,625.50 L216.0,625.50 L216.5,624.85 L217.0,624.36 L217.5,624.57 L218.0,623.90 L218.5,622.98 L219.0,623.18 L219.5,623.12 L220.0,623.74 L220.5,624.40 L221.0,626.22 L221.5,627.02 L222.0,627.30 L222.5,627.80 L223.0,627.79 L223.5,627.58 L224.0,627.31 L224.5,627.31 L225.0,628.01 L225.5,627.23 L226.0,627.68 L226.5,627.15 L227.0,627.57 L227.5,627.22 L228.0,627.52 L228.5,627.84 L229.0,627.15 L229.5,627.28 L230.0,627.19 L230.5,626.99 L231.0,627.23 L231.5,627.15 L232.0,627.63 L232.5,627.50 L233.0,626.74 L233.5,626.90 L234.0,625.79 L234.5,624.45 L235.0,622.82 L235.5,623.12 L236.0,622.67 L236.5,623.48 L237.0,624.78 L237.5,626.27 L238.0,626.72 L238.5,627.03 L239.0,627.45 L239.5,627.43 L240.0,627.75 L240.5,627.10 L241.0,627.26 L241.5,627.51 L242.0,627.90 L242.5,627.58 L243.0,628.11 L243.5,627.47 L244.0,627.23 L244.5,627.58 L245.0,628.00 L245.5,627.56 L246.0,626.76 L246.5,627.12 L247.0,626.87 L247.5,625.73 L248.0,625.88 L248.5,625.22 L249.0,625.49 L249.5,625.72 L250.0,626.01 L250.5,626.38 L251.0,626.60 L251.5,626.96 L252.0,627.52 L252.5,628.01 L253.0,627.75 L253.5,627.80 L254.0,628.06 L254.5,627.59 L255.0,627.63 L255.5,627.44 L256.0,627.81 L256.5,627.16 L257.0,627.67 L257.5,627.10 L258.0,627.11 L258.5,627.98 L259.0,627.40 L259.5,628.16 L260.0,627.69 L260.5,627.97 L261.0,627.40 L261.5,628.07 L262.0,627.19 L262.5,627.97 L263.0,627.28 L263.5,627.38 L264.0,628.13 L264.5,628.17 L265.0,627.42 L265.5,627.53 L266.0,627.14 L266.5,625.64 L267.0,626.03 L267.5,624.82 L268.0,624.87 L268.5,625.39 L269.0,625.80 L269.5,626.76 L270.0,626.28 L270.5,627.21 L271.0,627.45 L271.5,627.95 L272.0,628.17 L272.5,627.21 L273.0,627.14 L273.5,627.66 L274.0,627.56 L274.5,627.14 L275.0,627.14 L275.5,627.25 L276.0,627.62 L276.5,627.04 L277.0,627.18 L277.5,627.55 L278.0,627.79 L278.5,627.05 L279.0,626.47 L279.5,624.69 L280.0,622.70 L280.5,622.06 L281.0,621.63 L281.5,622.91 L282.0,624.18 L282.5,625.56 L283.0,627.28 L283.5,626.99 L284.0,627.65 L284.5,628.04 L285.0,628.11 L285.5,627.11 L286.0,627.20 L286.5,626.41 L287.0,625.30 L287.5,624.68 L288.0,622.71 L288.5,621.84 L289.0,622.34 L289.5,623.06 L290.0,624.66 L290.5,625.40 L291.0,626.23 L291.5,627.25 L292.0,627.17 L292.5,627.03 L293.0,627.58 L293.5,627.09 L294.0,625.65 L294.5,624.72 L295.0,624.95 L295.5,623.54 L296.0,623.86 L296.5,624.84 L297.0,625.69 L297.5,625.67 L298.0,626.76 L298.5,626.69 L299.0,627.75 L299.5,627.50 L300.0,628.11 L300.5,627.94 L301.0,626.93 L301.5,626.14 L302.0,623.47 L302.5,620.38 L303.0,618.44 L303.5,620.53 L304.0,622.68 L304.5,625.00 L305.0,626.05 L305.5,625.16 L306.0,624.12 L306.5,623.73 L307.0,622.61 L307.5,622.95 L308.0,624.88 L308.5,625.56 L309.0,626.80 L309.5,627.47 L310.0,627.26 L310.5,627.44 L311.0,627.69 L311.5,627.91 L312.0,627.26 L312.5,628.17 L313.0,627.49 L313.5,627.89 L314.0,627.89 L314.5,627.70 L315.0,627.00 L315.5,627.57 L316.0,627.10 L316.5,627.76 L317.0,627.30 L317.0,629.3 Z" fill="#1f4e79" stroke="none"/>
<path d="M155.0,641.7 L155.0,641.64 L155.5,641.59 L156.0,641.55 L156.5,641.59 L157.0,641.64 L157.5,641.62 L158.0,641.62 L158.5,641.55 L159.0,641.53 L159.5,641.53 L160.0,641.53 L160.5,641.52 L161.0,641.57 L161.5,641.57 L162.0,641.60 L162.5,641.53 L163.0,641.59 L163.5,641.54 L164.0,641.59 L164.5,641.55 L165.0,641.57 L165.5,641.57 L166.0,641.52 L166.5,641.59 L167.0,641.63 L167.5,641.55 L168.0,641.55 L168.5,641.60 L169.0,641.52 L169.5,641.48 L170.0,641.55 L170.5,641.56 L171.0,641.60 L171.5,641.60 L172.0,641.57 L172.5,641.60 L173.0,641.56 L173.5,641.61 L174.0,641.62 L174.5,641.56 L175.0,641.57 L175.5,641.57 L176.0,641.55 L176.5,641.55 L177.0,641.57 L177.5,641.62 L178.0,641.56 L178.5,641.50 L179.0,641.46 L179.5,641.48 L180.0,641.52 L180.5,641.55 L181.0,641.53 L181.5,641.52 L182.0,641.58 L182.5,641.60 L183.0,641.59 L183.5,641.57 L184.0,641.52 L184.5,641.52 L185.0,641.57 L185.5,641.49 L186.0,641.47 L186.5,641.42 L187.0,641.40 L187.5,641.33 L188.0,641.26 L188.5,641.15 L189.0,641.14 L189.5,641.08 L190.0,641.10 L190.5,641.07 L191.0,641.16 L191.5,641.22 L192.0,641.29 L192.5,641.32 L193.0,641.43 L193.5,641.47 L194.0,641.53 L194.5,641.56 L195.0,641.56 L195.5,641.50 L196.0,641.52 L196.5,641.48 L197.0,641.55 L197.5,641.50 L198.0,641.54 L198.5,641.58 L199.0,641.54 L199.5,641.49 L200.0,641.58 L200.5,641.59 L201.0,641.54 L201.5,641.56 L202.0,641.59 L202.5,641.63 L203.0,641.65 L203.5,641.60 L204.0,641.52 L204.5,641.47 L205.0,641.50 L205.5,641.58 L206.0,641.59 L206.5,641.54 L207.0,641.50 L207.5,641.51 L208.0,641.56 L208.5,641.55 L209.0,641.55 L209.5,641.54 L210.0,641.57 L210.5,641.51 L211.0,641.48 L211.5,641.55 L212.0,641.57 L212.5,641.52 L213.0,641.56 L213.5,641.50 L214.0,641.52 L214.5,641.51 L215.0,641.50 L215.5,641.55 L216.0,641.58 L216.5,641.60 L217.0,641.56 L217.5,641.53 L218.0,641.58 L218.5,641.52 L219.0,641.54 L219.5,641.58 L220.0,641.57 L220.5,641.51 L221.0,641.52 L221.5,641.52 L222.0,641.48 L222.5,641.45 L223.0,641.46 L223.5,641.51 L224.0,641.51 L224.5,641.48 L225.0,641.47 L225.5,641.49 L226.0,641.53 L226.5,641.56 L227.0,641.53 L227.5,641.53 L228.0,641.59 L228.5,641.55 L229.0,641.50 L229.5,641.49 L230.0,641.46 L230.5,641.45 L231.0,641.49 L231.5,641.48 L232.0,641.52 L232.5,641.58 L233.0,641.59 L233.5,641.59 L234.0,641.52 L234.5,641.51 L235.0,641.52 L235.5,641.52 L236.0,641.58 L236.5,641.56 L237.0,641.53 L237.5,641.55 L238.0,641.58 L238.5,641.58 L239.0,641.59 L239.5,641.55 L240.0,641.59 L240.5,641.63 L241.0,641.62 L241.5,641.57 L242.0,641.53 L242.5,641.52 L243.0,641.48 L243.5,641.52 L244.0,641.59 L244.5,641.58 L245.0,641.57 L245.5,641.60 L246.0,641.56 L246.5,641.58 L247.0,641.60 L247.5,641.60 L248.0,641.53 L248.5,641.59 L249.0,641.59 L249.5,641.60 L250.0,641.62 L250.5,641.60 L251.0,641.61 L251.5,641.54 L252.0,641.54 L252.5,641.52 L253.0,641.57 L253.5,641.57 L254.0,641.55 L254.5,641.51 L255.0,641.55 L255.5,641.56 L256.0,641.51 L256.5,641.49 L257.0,641.55 L257.5,641.54 L258.0,641.51 L258.5,641.54 L259.0,641.52 L259.5,641.51 L260.0,641.47 L260.5,641.50 L261.0,641.50 L261.5,641.54 L262.0,641.51 L262.5,641.55 L263.0,641.55 L263.5,641.56 L264.0,641.57 L264.5,641.60 L265.0,641.59 L265.5,641.53 L266.0,641.52 L266.5,641.51 L267.0,641.38 L267.5,641.34 L268.0,641.20 L268.5,641.13 L269.0,641.10 L269.5,641.02 L270.0,640.97 L270.5,641.04 L271.0,641.13 L271.5,641.16 L272.0,641.19 L272.5,641.26 L273.0,641.31 L273.5,641.40 L274.0,641.44 L274.5,641.51 L275.0,641.54 L275.5,641.56 L276.0,641.57 L276.5,641.57 L277.0,641.53 L277.5,641.58 L278.0,641.60 L278.5,641.61 L279.0,641.53 L279.5,641.54 L280.0,641.59 L280.5,641.54 L281.0,641.50 L281.5,641.48 L282.0,641.52 L282.5,641.51 L283.0,641.55 L283.5,641.59 L284.0,641.53 L284.5,641.50 L285.0,641.55 L285.5,641.51 L286.0,641.58 L286.5,641.59 L287.0,641.63 L287.5,641.64 L288.0,641.64 L288.5,641.58 L289.0,641.59 L289.5,641.61 L290.0,641.63 L290.5,641.62 L291.0,641.55 L291.5,641.54 L292.0,641.59 L292.5,641.55 L293.0,641.55 L293.5,641.55 L294.0,641.55 L294.5,641.53 L295.0,641.50 L295.5,641.52 L296.0,641.52 L296.5,641.53 L297.0,641.52 L297.5,641.55 L298.0,641.56 L298.5,641.55 L299.0,641.53 L299.5,641.56 L300.0,641.51 L300.5,641.52 L301.0,641.49 L301.5,641.49 L302.0,641.46 L302.5,641.47 L303.0,641.51 L303.5,641.54 L304.0,641.53 L304.5,641.51 L305.0,641.48 L305.5,641.55 L306.0,641.61 L306.5,641.63 L307.0,641.65 L307.5,641.66 L308.0,641.68 L308.5,641.66 L309.0,641.66 L309.5,641.59 L310.0,641.56 L310.5,641.50 L311.0,641.47 L311.5,641.47 L312.0,641.45 L312.5,641.55 L313.0,641.58 L313.5,641.52 L314.0,641.53 L314.5,641.58 L315.0,641.53 L315.5,641.55 L316.0,641.54 L316.5,641.57 L317.0,641.59 L317.0,641.7 Z" fill="#aaaaaa" stroke="none"/>
<line x1="154.20" y1="494.60" x2="154.20" y2="506.40" stroke="#111" stroke-width="1.7"/>
<line x1="154.20" y1="507.30" x2="154.20" y2="519.10" stroke="#111" stroke-width="1.7"/>
<line x1="154.20" y1="520.00" x2="154.20" y2="531.80" stroke="#111" stroke-width="1.7"/>
<line x1="154.20" y1="532.00" x2="154.20" y2="543.80" stroke="#111" stroke-width="1.7"/>
<line x1="154.20" y1="544.90" x2="154.20" y2="556.70" stroke="#111" stroke-width="1.7"/>
<line x1="154.20" y1="556.90" x2="154.20" y2="568.70" stroke="#111" stroke-width="1.7"/>
<line x1="154.20" y1="568.80" x2="154.20" y2="580.60" stroke="#111" stroke-width="1.7"/>
<line x1="154.20" y1="581.50" x2="154.20" y2="593.30" stroke="#111" stroke-width="1.7"/>
<line x1="154.20" y1="594.20" x2="154.20" y2="606.00" stroke="#111" stroke-width="1.7"/>
<line x1="154.20" y1="606.40" x2="154.20" y2="618.20" stroke="#111" stroke-width="1.7"/>
<line x1="154.20" y1="618.00" x2="154.20" y2="629.80" stroke="#111" stroke-width="1.7"/>
<line x1="154.20" y1="630.40" x2="154.20" y2="642.20" stroke="#111" stroke-width="1.7"/>
<line x1="116.70" y1="498.80" x2="116.70" y2="527.00" stroke="#666" stroke-width="1.2"/>
<text x="112.6" y="512.9" font-size="6.5" text-anchor="middle" fill="#222" font-weight="normal" transform="rotate(-90 112.6 512.9)" stroke="#222" stroke-width="0.08" letter-spacing="-0.1">KOPN-8</text>
<text x="123" y="502.0" font-size="4.0" text-anchor="start" fill="#333" font-weight="normal" stroke="#333" stroke-width="0.08">IgG</text>
<text x="152.2" y="498.5" font-size="4.0" text-anchor="end" fill="#333" font-weight="normal" stroke="#333" stroke-width="0.08">1.2k</text>
<text x="152.2" y="505.7" font-size="4.0" text-anchor="end" fill="#333" font-weight="normal" stroke="#333" stroke-width="0.08">5.0</text>
<text x="123" y="514.7" font-size="4.0" text-anchor="start" fill="#333" font-weight="normal" stroke="#333" stroke-width="0.08">KMT2A_N</text>
<text x="152.2" y="511.2" font-size="4.0" text-anchor="end" fill="#333" font-weight="normal" stroke="#333" stroke-width="0.08">1.2k</text>
<text x="152.2" y="518.4" font-size="4.0" text-anchor="end" fill="#333" font-weight="normal" stroke="#333" stroke-width="0.08">5.0</text>
<text x="123" y="527.4" font-size="4.0" text-anchor="start" fill="#333" font-weight="normal" stroke="#333" stroke-width="0.08">KMT2A_C</text>
<text x="152.2" y="523.9" font-size="4.0" text-anchor="end" fill="#333" font-weight="normal" stroke="#333" stroke-width="0.08">1.2k</text>
<text x="152.2" y="531.1" font-size="4.0" text-anchor="end" fill="#333" font-weight="normal" stroke="#333" stroke-width="0.08">5.0</text>
<line x1="116.70" y1="536.20" x2="116.70" y2="565.00" stroke="#666" stroke-width="1.2"/>
<text x="112.6" y="550.6" font-size="6.5" text-anchor="middle" fill="#222" font-weight="normal" transform="rotate(-90 112.6 550.6)" stroke="#222" stroke-width="0.08" letter-spacing="-0.1">hALL</text>
<text x="123" y="539.4" font-size="4.0" text-anchor="start" fill="#333" font-weight="normal" stroke="#333" stroke-width="0.08">IgG</text>
<text x="152.2" y="535.9" font-size="4.0" text-anchor="end" fill="#333" font-weight="normal" stroke="#333" stroke-width="0.08">250</text>
<text x="152.2" y="543.1" font-size="4.0" text-anchor="end" fill="#333" font-weight="normal" stroke="#333" stroke-width="0.08">5</text>
<text x="123" y="552.3" font-size="4.0" text-anchor="start" fill="#333" font-weight="normal" stroke="#333" stroke-width="0.08">KMT2A_N</text>
<text x="152.2" y="548.8" font-size="4.0" text-anchor="end" fill="#333" font-weight="normal" stroke="#333" stroke-width="0.08">250</text>
<text x="152.2" y="556.0" font-size="4.0" text-anchor="end" fill="#333" font-weight="normal" stroke="#333" stroke-width="0.08">5</text>
<text x="123" y="564.3" font-size="4.0" text-anchor="start" fill="#333" font-weight="normal" stroke="#333" stroke-width="0.08">KMT2A_C</text>
<text x="152.2" y="560.8" font-size="4.0" text-anchor="end" fill="#333" font-weight="normal" stroke="#333" stroke-width="0.08">250</text>
<text x="152.2" y="568.0" font-size="4.0" text-anchor="end" fill="#333" font-weight="normal" stroke="#333" stroke-width="0.08">5</text>
<line x1="116.70" y1="572.30" x2="116.70" y2="601.20" stroke="#666" stroke-width="1.2"/>
<text x="112.6" y="586.75" font-size="6.5" text-anchor="middle" fill="#222" font-weight="normal" transform="rotate(-90 112.6 586.75)" stroke="#222" stroke-width="0.08" letter-spacing="-0.1">hAML_1</text>
<text x="123" y="576.2" font-size="4.0" text-anchor="start" fill="#333" font-weight="normal" stroke="#333" stroke-width="0.08">IgG</text>
<text x="152.2" y="572.7" font-size="4.0" text-anchor="end" fill="#333" font-weight="normal" stroke="#333" stroke-width="0.08">100</text>
<text x="152.2" y="579.9" font-size="4.0" text-anchor="end" fill="#333" font-weight="normal" stroke="#333" stroke-width="0.08">5</text>
<text x="123" y="588.9" font-size="4.0" text-anchor="start" fill="#333" font-weight="normal" stroke="#333" stroke-width="0.08">KMT2A_N</text>
<text x="152.2" y="585.4" font-size="4.0" text-anchor="end" fill="#333" font-weight="normal" stroke="#333" stroke-width="0.08">100</text>
<text x="152.2" y="592.6" font-size="4.0" text-anchor="end" fill="#333" font-weight="normal" stroke="#333" stroke-width="0.08">5</text>
<text x="123" y="601.6" font-size="4.0" text-anchor="start" fill="#333" font-weight="normal" stroke="#333" stroke-width="0.08">KMT2A_C</text>
<text x="152.2" y="598.1" font-size="4.0" text-anchor="end" fill="#333" font-weight="normal" stroke="#333" stroke-width="0.08">100</text>
<text x="152.2" y="605.3" font-size="4.0" text-anchor="end" fill="#333" font-weight="normal" stroke="#333" stroke-width="0.08">5</text>
<line x1="116.70" y1="610.40" x2="116.70" y2="639.30" stroke="#666" stroke-width="1.2"/>
<text x="112.6" y="624.85" font-size="6.5" text-anchor="middle" fill="#222" font-weight="normal" transform="rotate(-90 112.6 624.85)" stroke="#222" stroke-width="0.08" letter-spacing="-0.1">hAML_2</text>
<text x="123" y="613.8" font-size="4.0" text-anchor="start" fill="#333" font-weight="normal" stroke="#333" stroke-width="0.08">IgG</text>
<text x="152.2" y="610.3" font-size="4.0" text-anchor="end" fill="#333" font-weight="normal" stroke="#333" stroke-width="0.08">300</text>
<text x="152.2" y="617.5" font-size="4.0" text-anchor="end" fill="#333" font-weight="normal" stroke="#333" stroke-width="0.08">5</text>
<text x="123" y="625.4" font-size="4.0" text-anchor="start" fill="#333" font-weight="normal" stroke="#333" stroke-width="0.08">KMT2A_N</text>
<text x="152.2" y="621.9" font-size="4.0" text-anchor="end" fill="#333" font-weight="normal" stroke="#333" stroke-width="0.08">300</text>
<text x="152.2" y="629.1" font-size="4.0" text-anchor="end" fill="#333" font-weight="normal" stroke="#333" stroke-width="0.08">5</text>
<text x="123" y="637.8" font-size="4.0" text-anchor="start" fill="#333" font-weight="normal" stroke="#333" stroke-width="0.08">KMT2A_C</text>
<text x="152.2" y="634.3" font-size="4.0" text-anchor="end" fill="#333" font-weight="normal" stroke="#333" stroke-width="0.08">300</text>
<text x="152.2" y="641.5" font-size="4.0" text-anchor="end" fill="#333" font-weight="normal" stroke="#333" stroke-width="0.08">5</text>
<line x1="323.00" y1="513.10" x2="332.00" y2="513.10" stroke="#d0202e" stroke-width="1.0"/>
<polygon points="320.0,513.1 323.5,511.2 323.5,515.0" fill="#d0202e"/>
<line x1="323.00" y1="550.50" x2="332.00" y2="550.50" stroke="#d0202e" stroke-width="1.0"/>
<polygon points="320.0,550.5 323.5,548.6 323.5,552.4" fill="#d0202e"/>
<line x1="323.00" y1="587.80" x2="332.00" y2="587.80" stroke="#d0202e" stroke-width="1.0"/>
<polygon points="320.0,587.8 323.5,585.9 323.5,589.7" fill="#d0202e"/>
<line x1="323.00" y1="624.20" x2="332.00" y2="624.20" stroke="#d0202e" stroke-width="1.0"/>
<polygon points="320.0,624.2 323.5,622.3 323.5,626.1" fill="#d0202e"/>
<line x1="170.00" y1="645.90" x2="287.00" y2="645.90" stroke="#6a2a8a" stroke-width="0.8" stroke-dasharray="1.6,0.6"/>
<rect x="186.30" y="644.40" width="26.30" height="3.00" fill="#6a2a8a"/>
<rect x="170.00" y="645.10" width="16.30" height="1.60" fill="#6a2a8a"/>
<text x="225.3" y="651.4" font-size="4.3" text-anchor="start" fill="#8a78aa" font-weight="normal" stroke="#8a78aa" stroke-width="0.08">SKIDA1</text>
<text x="337" y="482" font-size="10.6" text-anchor="start" fill="#111" font-weight="bold" stroke="#111" stroke-width="0.45">K</text>
<text x="426.5" y="479" font-size="8.1" text-anchor="middle" fill="#222" font-weight="normal" stroke="#222" stroke-width="0.08">HOXA Cluster</text>
<text x="426.3" y="489" font-size="8.2" text-anchor="middle" fill="#222" font-weight="normal" stroke="#222" stroke-width="0.08">Chr7: 27172522-27552221</text>
<line x1="351.00" y1="506.40" x2="503.00" y2="506.40" stroke="#bdbdbd" stroke-width="0.6"/>
<line x1="351.00" y1="518.50" x2="503.00" y2="518.50" stroke="#bdbdbd" stroke-width="0.6"/>
<line x1="351.00" y1="531.20" x2="503.00" y2="531.20" stroke="#bdbdbd" stroke-width="0.6"/>
<line x1="351.00" y1="543.40" x2="503.00" y2="543.40" stroke="#bdbdbd" stroke-width="0.6"/>
<line x1="351.00" y1="555.60" x2="503.00" y2="555.60" stroke="#bdbdbd" stroke-width="0.6"/>
<line x1="351.00" y1="567.70" x2="503.00" y2="567.70" stroke="#bdbdbd" stroke-width="0.6"/>
<line x1="351.00" y1="580.00" x2="503.00" y2="580.00" stroke="#bdbdbd" stroke-width="0.6"/>
<line x1="351.00" y1="592.70" x2="503.00" y2="592.70" stroke="#bdbdbd" stroke-width="0.6"/>
<line x1="351.00" y1="604.40" x2="503.00" y2="604.40" stroke="#bdbdbd" stroke-width="0.6"/>
<line x1="351.00" y1="617.30" x2="503.00" y2="617.30" stroke="#bdbdbd" stroke-width="0.6"/>
<line x1="351.00" y1="629.60" x2="503.00" y2="629.60" stroke="#bdbdbd" stroke-width="0.6"/>
<line x1="351.00" y1="641.60" x2="503.00" y2="641.60" stroke="#bdbdbd" stroke-width="0.6"/>
<path d="M385.8,506.1 L385.8,506.09 L386.3,506.04 L386.8,506.01 L387.3,506.01 L387.8,506.03 L388.3,505.99 L388.8,505.97 L389.3,505.98 L389.8,505.99 L390.3,506.01 L390.8,506.05 L391.3,506.04 L391.8,506.02 L392.3,506.04 L392.8,506.00 L393.3,506.02 L393.8,506.04 L394.3,506.06 L394.8,505.99 L395.3,505.98 L395.8,505.96 L396.3,505.96 L396.8,506.02 L397.3,506.02 L397.8,506.01 L398.3,506.04 L398.8,505.99 L399.3,506.00 L399.8,506.03 L400.3,505.99 L400.8,506.03 L401.3,505.98 L401.8,505.99 L402.3,505.99 L402.8,506.01 L403.3,506.01 L403.8,504.60 L404.3,504.60 L404.8,504.60 L405.3,506.02 L405.8,505.99 L406.3,506.02 L406.8,505.97 L407.3,505.95 L407.8,505.95 L408.3,504.80 L408.8,504.80 L409.3,504.80 L409.8,506.01 L410.3,506.01 L410.8,505.98 L411.3,506.01 L411.8,505.97 L412.3,505.95 L412.8,505.98 L413.3,506.00 L413.8,506.00 L414.3,506.01 L414.8,505.97 L415.3,505.99 L415.8,506.03 L416.3,506.05 L416.8,506.01 L417.3,505.97 L417.8,505.98 L418.3,505.99 L418.8,505.99 L419.3,505.97 L419.8,506.01 L420.3,506.00 L420.8,505.99 L421.3,505.99 L421.8,506.02 L422.3,506.04 L422.8,506.03 L423.3,505.99 L423.8,506.00 L424.3,505.99 L424.8,506.01 L425.3,506.04 L425.8,506.06 L426.3,506.01 L426.8,505.98 L427.3,506.00 L427.8,505.98 L428.3,505.94 L428.8,505.81 L429.3,505.57 L429.8,505.39 L430.3,505.39 L430.8,505.61 L431.3,505.84 L431.8,505.92 L432.3,505.96 L432.8,505.99 L433.3,506.01 L433.8,505.98 L434.3,506.01 L434.8,506.04 L435.3,506.00 L435.8,505.98 L436.3,505.99 L436.8,505.97 L437.3,506.02 L437.8,506.03 L438.3,506.03 L438.8,506.03 L439.3,506.04 L439.8,506.06 L440.3,506.05 L440.8,506.00 L441.3,505.96 L441.8,505.96 L442.3,505.98 L442.8,506.01 L443.3,505.97 L443.8,505.98 L444.3,505.97 L444.8,506.02 L445.3,506.03 L445.8,505.99 L446.3,505.97 L446.8,505.95 L447.3,505.96 L447.8,505.98 L448.3,505.98 L448.8,505.96 L449.3,505.99 L449.8,505.99 L450.3,506.01 L450.8,505.99 L451.3,506.03 L451.8,506.00 L452.3,505.97 L452.8,506.02 L453.3,506.00 L453.8,505.99 L454.3,505.97 L454.8,505.97 L455.3,506.00 L455.8,506.01 L456.3,505.97 L456.8,505.95 L457.3,506.00 L457.8,506.03 L458.3,506.02 L458.8,505.93 L459.3,505.68 L459.8,505.48 L460.3,505.46 L460.8,505.67 L461.3,505.91 L461.8,505.99 L462.3,506.02 L462.8,506.01 L463.3,506.03 L463.8,506.04 L464.3,506.05 L464.8,506.04 L465.3,506.01 L465.8,506.00 L466.3,506.04 L466.8,506.01 L467.3,505.97 L467.8,505.96 L468.3,505.95 L468.8,506.01 L469.3,506.01 L469.8,506.04 L470.3,506.00 L470.8,506.03 L471.3,506.00 L471.8,506.02 L472.3,506.00 L472.8,506.01 L473.3,506.04 L473.8,506.04 L474.3,506.04 L474.8,505.99 L475.3,506.01 L475.8,506.01 L476.3,506.00 L476.8,505.96 L477.3,506.01 L477.8,506.00 L478.3,506.00 L478.8,505.98 L479.3,505.95 L479.8,505.99 L480.3,505.98 L480.8,505.98 L481.3,505.99 L481.8,506.03 L482.3,505.99 L482.8,505.96 L483.3,505.99 L483.8,506.01 L484.3,505.96 L484.8,506.01 L485.3,506.04 L485.8,506.06 L486.3,506.01 L486.8,505.98 L487.3,506.00 L487.8,505.99 L488.3,506.03 L488.8,506.01 L489.3,506.01 L489.8,506.00 L490.3,506.01 L490.8,506.01 L490.8,506.1 Z" fill="#222" stroke="none"/>
<path d="M385.8,518.2 L385.8,517.97 L386.3,518.03 L386.8,518.09 L387.3,517.90 L387.8,517.97 L388.3,518.03 L388.8,517.94 L389.3,517.96 L389.8,517.84 L390.3,517.93 L390.8,517.81 L391.3,517.89 L391.8,517.87 L392.3,517.78 L392.8,517.78 L393.3,517.73 L393.8,517.75 L394.3,517.92 L394.8,517.82 L395.3,517.33 L395.8,517.17 L396.3,517.09 L396.8,517.01 L397.3,517.15 L397.8,517.36 L398.3,517.25 L398.8,516.93 L399.3,517.35 L399.8,517.07 L400.3,517.51 L400.8,517.52 L401.3,517.19 L401.8,517.28 L402.3,517.02 L402.8,517.36 L403.3,517.37 L403.8,517.07 L404.3,515.78 L404.8,512.08 L405.3,507.90 L405.8,509.90 L406.3,514.27 L406.8,516.82 L407.3,517.12 L407.8,517.39 L408.3,517.49 L408.8,517.55 L409.3,517.46 L409.8,517.26 L410.3,517.30 L410.8,517.51 L411.3,517.11 L411.8,517.11 L412.3,516.88 L412.8,515.19 L413.3,513.49 L413.8,513.67 L414.3,515.67 L414.8,516.88 L415.3,517.36 L415.8,517.14 L416.3,517.38 L416.8,516.65 L417.3,514.76 L417.8,511.64 L418.3,512.26 L418.8,515.00 L419.3,517.11 L419.8,517.45 L420.3,517.47 L420.8,516.38 L421.3,514.13 L421.8,510.37 L422.3,511.31 L422.8,514.78 L423.3,516.67 L423.8,517.38 L424.3,517.48 L424.8,517.37 L425.3,517.28 L425.8,517.59 L426.3,517.29 L426.8,517.45 L427.3,517.37 L427.8,517.48 L428.3,517.16 L428.8,517.37 L429.3,517.50 L429.8,516.92 L430.3,515.91 L430.8,512.42 L431.3,509.56 L431.8,512.25 L432.3,515.62 L432.8,517.20 L433.3,517.21 L433.8,517.26 L434.3,517.03 L434.8,517.40 L435.3,517.11 L435.8,517.22 L436.3,517.50 L436.8,517.07 L437.3,514.77 L437.8,510.06 L438.3,507.75 L438.8,511.84 L439.3,516.02 L439.8,516.88 L440.3,516.97 L440.8,517.51 L441.3,517.38 L441.8,517.04 L442.3,517.23 L442.8,517.32 L443.3,516.94 L443.8,516.95 L444.3,516.89 L444.8,516.10 L445.3,513.49 L445.8,511.32 L446.3,513.40 L446.8,516.21 L447.3,517.41 L447.8,517.41 L448.3,517.22 L448.8,517.23 L449.3,515.84 L449.8,512.98 L450.3,509.32 L450.8,511.26 L451.3,515.21 L451.8,517.28 L452.3,517.08 L452.8,517.32 L453.3,516.30 L453.8,511.95 L454.3,506.20 L454.8,509.06 L455.3,515.30 L455.8,516.78 L456.3,516.39 L456.8,514.13 L457.3,511.67 L457.8,512.57 L458.3,515.74 L458.8,517.00 L459.3,517.21 L459.8,517.46 L460.3,517.22 L460.8,516.44 L461.3,513.32 L461.8,509.44 L462.3,509.84 L462.8,514.18 L463.3,516.41 L463.8,517.21 L464.3,517.21 L464.8,517.37 L465.3,517.33 L465.8,517.27 L466.3,517.09 L466.8,517.31 L467.3,517.25 L467.8,517.40 L468.3,517.30 L468.8,517.39 L469.3,517.49 L469.8,517.49 L470.3,517.45 L470.8,517.31 L471.3,516.12 L471.8,512.07 L472.3,508.66 L472.8,510.35 L473.3,515.07 L473.8,517.07 L474.3,517.35 L474.8,517.25 L475.3,517.52 L475.8,517.47 L476.3,517.57 L476.8,517.24 L477.3,517.12 L477.8,517.30 L478.3,517.36 L478.8,517.23 L479.3,517.42 L479.8,517.46 L480.3,516.72 L480.8,515.58 L481.3,513.73 L481.8,513.36 L482.3,515.39 L482.8,517.07 L483.3,517.05 L483.8,517.41 L484.3,517.14 L484.8,517.48 L485.3,517.53 L485.8,517.29 L486.3,516.90 L486.8,516.41 L487.3,515.55 L487.8,515.60 L488.3,516.80 L488.8,517.04 L489.3,517.50 L489.8,517.45 L490.3,517.98 L490.8,517.97 L490.8,518.2 Z" fill="#1f4e79" stroke="none"/>
<path d="M385.8,530.9 L385.8,530.79 L386.3,530.72 L386.8,530.68 L387.3,530.76 L387.8,530.75 L388.3,530.76 L388.8,530.75 L389.3,530.79 L389.8,530.81 L390.3,530.79 L390.8,530.81 L391.3,530.79 L391.8,530.83 L392.3,530.85 L392.8,530.78 L393.3,530.78 L393.8,530.77 L394.3,530.73 L394.8,530.76 L395.3,530.81 L395.8,530.75 L396.3,530.74 L396.8,530.72 L397.3,530.72 L397.8,530.68 L398.3,530.72 L398.8,530.70 L399.3,530.74 L399.8,530.73 L400.3,530.72 L400.8,530.75 L401.3,530.80 L401.8,530.78 L402.3,530.74 L402.8,530.74 L403.3,530.75 L403.8,530.73 L404.3,530.78 L404.8,530.80 L405.3,530.80 L405.8,530.74 L406.3,530.78 L406.8,530.82 L407.3,530.84 L407.8,530.86 L408.3,530.84 L408.8,530.80 L409.3,530.74 L409.8,530.76 L410.3,530.77 L410.8,530.79 L411.3,530.80 L411.8,530.75 L412.3,530.74 L412.8,530.77 L413.3,530.81 L413.8,530.75 L414.3,530.73 L414.8,530.70 L415.3,530.75 L415.8,530.74 L416.3,530.70 L416.8,530.71 L417.3,530.67 L417.8,530.74 L418.3,530.66 L418.8,530.65 L419.3,530.46 L419.8,530.34 L420.3,530.30 L420.8,530.47 L421.3,530.59 L421.8,530.65 L422.3,530.65 L422.8,530.68 L423.3,530.65 L423.8,530.66 L424.3,530.72 L424.8,530.67 L425.3,530.72 L425.8,530.77 L426.3,530.81 L426.8,530.79 L427.3,530.81 L427.8,530.73 L428.3,530.69 L428.8,530.75 L429.3,530.80 L429.8,530.77 L430.3,530.80 L430.8,530.78 L431.3,530.73 L431.8,530.77 L432.3,530.77 L432.8,530.71 L433.3,530.73 L433.8,530.76 L434.3,530.71 L434.8,530.69 L435.3,530.67 L435.8,530.68 L436.3,530.72 L436.8,530.71 L437.3,530.68 L437.8,530.69 L438.3,530.75 L438.8,530.77 L439.3,530.77 L439.8,530.73 L440.3,530.73 L440.8,530.73 L441.3,530.70 L441.8,530.77 L442.3,530.74 L442.8,530.77 L443.3,530.75 L443.8,530.71 L444.3,530.76 L444.8,530.70 L445.3,530.77 L445.8,530.75 L446.3,530.75 L446.8,530.78 L447.3,530.76 L447.8,530.76 L448.3,530.73 L448.8,530.61 L449.3,530.49 L449.8,530.31 L450.3,530.28 L450.8,530.52 L451.3,530.64 L451.8,530.75 L452.3,530.74 L452.8,530.78 L453.3,530.78 L453.8,530.78 L454.3,530.82 L454.8,530.77 L455.3,530.76 L455.8,530.73 L456.3,530.74 L456.8,530.73 L457.3,530.74 L457.8,530.77 L458.3,530.71 L458.8,530.78 L459.3,530.72 L459.8,530.69 L460.3,530.71 L460.8,530.69 L461.3,530.70 L461.8,530.71 L462.3,530.75 L462.8,530.77 L463.3,530.78 L463.8,530.79 L464.3,530.72 L464.8,530.75 L465.3,530.76 L465.8,530.77 L466.3,530.72 L466.8,530.74 L467.3,530.74 L467.8,530.77 L468.3,530.79 L468.8,530.82 L469.3,530.83 L469.8,530.82 L470.3,530.75 L470.8,530.75 L471.3,530.80 L471.8,530.78 L472.3,530.82 L472.8,530.78 L473.3,530.78 L473.8,530.72 L474.3,530.76 L474.8,530.72 L475.3,530.76 L475.8,530.70 L476.3,530.70 L476.8,530.78 L477.3,530.73 L477.8,530.76 L478.3,530.78 L478.8,530.81 L479.3,530.74 L479.8,530.80 L480.3,530.75 L480.8,530.76 L481.3,530.74 L481.8,530.77 L482.3,530.81 L482.8,530.74 L483.3,530.72 L483.8,530.77 L484.3,530.71 L484.8,530.67 L485.3,530.74 L485.8,530.80 L486.3,530.77 L486.8,530.80 L487.3,530.75 L487.8,530.76 L488.3,530.73 L488.8,530.73 L489.3,530.70 L489.8,530.68 L490.3,530.70 L490.8,530.71 L490.8,530.9 Z" fill="#999999" stroke="none"/>
<path d="M385.8,543.1 L385.8,543.10 L386.3,543.10 L386.8,543.10 L387.3,543.10 L387.8,543.10 L388.3,543.10 L388.8,543.10 L389.3,543.10 L389.8,543.10 L390.3,543.10 L390.8,543.10 L391.3,543.10 L391.8,543.10 L392.3,543.10 L392.8,543.10 L393.3,543.10 L393.8,543.10 L394.3,543.10 L394.8,543.10 L395.3,543.10 L395.8,543.10 L396.3,543.10 L396.8,543.10 L397.3,543.10 L397.8,543.10 L398.3,543.10 L398.8,543.10 L399.3,543.10 L399.8,543.10 L400.3,543.10 L400.8,543.10 L401.3,543.10 L401.8,543.10 L402.3,543.10 L402.8,543.10 L403.3,543.10 L403.8,543.10 L404.3,543.10 L404.8,543.10 L405.3,543.10 L405.8,543.10 L406.3,543.10 L406.8,543.10 L407.3,543.10 L407.8,543.10 L408.3,543.10 L408.8,543.10 L409.3,543.10 L409.8,543.10 L410.3,543.10 L410.8,543.10 L411.3,543.10 L411.8,543.10 L412.3,543.10 L412.8,543.10 L413.3,543.10 L413.8,543.10 L414.3,543.10 L414.8,543.10 L415.3,543.10 L415.8,543.10 L416.3,543.10 L416.8,543.10 L417.3,543.10 L417.8,543.10 L418.3,543.10 L418.8,543.10 L419.3,543.10 L419.8,543.10 L420.3,543.10 L420.8,543.10 L421.3,543.10 L421.8,543.10 L422.3,543.10 L422.8,543.10 L423.3,543.10 L423.8,543.10 L424.3,543.10 L424.8,543.10 L425.3,543.10 L425.8,543.10 L426.3,543.10 L426.8,543.10 L427.3,543.10 L427.8,543.10 L428.3,542.10 L428.8,542.10 L429.3,543.10 L429.8,543.10 L430.3,543.10 L430.8,543.10 L431.3,543.10 L431.8,543.10 L432.3,543.10 L432.8,543.10 L433.3,543.10 L433.8,543.10 L434.3,543.10 L434.8,543.10 L435.3,543.10 L435.8,543.10 L436.3,543.10 L436.8,543.10 L437.3,543.10 L437.8,543.10 L438.3,543.10 L438.8,543.10 L439.3,543.10 L439.8,543.10 L440.3,543.10 L440.8,543.10 L441.3,543.10 L441.8,543.10 L442.3,543.10 L442.8,543.10 L443.3,543.10 L443.8,543.10 L444.3,543.10 L444.8,543.10 L445.3,543.10 L445.8,543.10 L446.3,543.10 L446.8,543.10 L447.3,543.10 L447.8,543.10 L448.3,543.10 L448.8,543.10 L449.3,543.10 L449.8,543.10 L450.3,543.10 L450.8,543.10 L451.3,539.10 L451.8,539.10 L452.3,539.10 L452.8,543.10 L453.3,543.10 L453.8,543.10 L454.3,543.10 L454.8,543.10 L455.3,543.10 L455.8,543.10 L456.3,543.10 L456.8,543.10 L457.3,543.10 L457.8,543.10 L458.3,543.10 L458.8,543.10 L459.3,543.10 L459.8,543.10 L460.3,543.10 L460.8,543.10 L461.3,543.10 L461.8,543.10 L462.3,543.10 L462.8,543.10 L463.3,543.10 L463.8,543.10 L464.3,543.10 L464.8,543.10 L465.3,543.10 L465.8,543.10 L466.3,543.10 L466.8,543.10 L467.3,543.10 L467.8,543.10 L468.3,543.10 L468.8,543.10 L469.3,543.10 L469.8,543.10 L470.3,543.10 L470.8,543.10 L471.3,543.10 L471.8,543.10 L472.3,543.10 L472.8,543.10 L473.3,543.10 L473.8,543.10 L474.3,543.10 L474.8,543.10 L475.3,543.10 L475.8,543.10 L476.3,543.10 L476.8,543.10 L477.3,543.10 L477.8,543.10 L478.3,543.10 L478.8,543.10 L479.3,543.10 L479.8,543.10 L480.3,543.10 L480.8,543.10 L481.3,543.10 L481.8,543.10 L482.3,543.10 L482.8,543.10 L483.3,543.10 L483.8,543.10 L484.3,543.10 L484.8,543.10 L485.3,543.10 L485.8,543.10 L486.3,543.10 L486.8,543.10 L487.3,543.10 L487.8,543.10 L488.3,543.10 L488.8,543.10 L489.3,543.10 L489.8,543.10 L490.3,543.10 L490.8,543.10 L490.8,543.1 Z" fill="#222" stroke="none"/>
<path d="M385.8,555.3 L385.8,555.30 L386.3,555.30 L386.8,555.30 L387.3,555.30 L387.8,555.30 L388.3,555.30 L388.8,555.30 L389.3,555.30 L389.8,555.30 L390.3,555.30 L390.8,555.30 L391.3,555.30 L391.8,555.30 L392.3,555.30 L392.8,555.30 L393.3,555.30 L393.8,555.30 L394.3,555.30 L394.8,555.30 L395.3,555.30 L395.8,555.30 L396.3,555.30 L396.8,555.30 L397.3,555.30 L397.8,555.30 L398.3,555.30 L398.8,555.30 L399.3,555.30 L399.8,555.30 L400.3,555.30 L400.8,555.30 L401.3,555.30 L401.8,555.30 L402.3,555.30 L402.8,555.30 L403.3,555.30 L403.8,555.30 L404.3,555.30 L404.8,555.30 L405.3,555.30 L405.8,555.30 L406.3,555.30 L406.8,555.30 L407.3,555.30 L407.8,555.30 L408.3,555.30 L408.8,555.30 L409.3,555.30 L409.8,555.30 L410.3,555.30 L410.8,555.30 L411.3,555.30 L411.8,555.30 L412.3,553.80 L412.8,553.80 L413.3,555.30 L413.8,555.30 L414.3,555.30 L414.8,555.30 L415.3,555.30 L415.8,555.30 L416.3,555.30 L416.8,555.30 L417.3,555.16 L417.8,553.80 L418.3,553.34 L418.8,553.34 L419.3,548.71 L419.8,552.47 L420.3,552.16 L420.8,553.26 L421.3,553.58 L421.8,554.32 L422.3,552.69 L422.8,552.97 L423.3,550.77 L423.8,553.31 L424.3,554.50 L424.8,554.50 L425.3,554.50 L425.8,554.47 L426.3,551.98 L426.8,549.79 L427.3,549.75 L427.8,552.23 L428.3,554.41 L428.8,554.49 L429.3,553.71 L429.8,554.36 L430.3,554.20 L430.8,552.99 L431.3,552.44 L431.8,552.21 L432.3,554.32 L432.8,554.30 L433.3,551.50 L433.8,551.26 L434.3,553.14 L434.8,550.80 L435.3,545.60 L435.8,551.18 L436.3,551.89 L436.8,547.55 L437.3,552.03 L437.8,551.90 L438.3,549.82 L438.8,552.41 L439.3,553.87 L439.8,551.76 L440.3,553.24 L440.8,550.61 L441.3,551.37 L441.8,553.89 L442.3,554.45 L442.8,551.80 L443.3,550.69 L443.8,549.47 L444.3,553.49 L444.8,552.57 L445.3,553.98 L445.8,553.10 L446.3,554.26 L446.8,551.28 L447.3,543.99 L447.8,552.79 L448.3,552.29 L448.8,551.40 L449.3,549.17 L449.8,552.79 L450.3,554.48 L450.8,554.50 L451.3,554.50 L451.8,554.46 L452.3,552.09 L452.8,551.75 L453.3,552.50 L453.8,546.04 L454.3,551.13 L454.8,549.80 L455.3,548.03 L455.8,553.34 L456.3,551.58 L456.8,554.42 L457.3,553.86 L457.8,545.77 L458.3,545.36 L458.8,553.10 L459.3,552.38 L459.8,552.74 L460.3,553.18 L460.8,553.51 L461.3,555.24 L461.8,555.30 L462.3,555.30 L462.8,555.30 L463.3,555.30 L463.8,555.30 L464.3,555.30 L464.8,555.30 L465.3,555.30 L465.8,555.30 L466.3,555.30 L466.8,555.30 L467.3,555.30 L467.8,555.30 L468.3,555.30 L468.8,555.30 L469.3,555.30 L469.8,555.30 L470.3,555.30 L470.8,555.30 L471.3,555.30 L471.8,555.30 L472.3,555.30 L472.8,555.30 L473.3,555.30 L473.8,555.30 L474.3,555.30 L474.8,555.30 L475.3,555.30 L475.8,555.30 L476.3,555.30 L476.8,555.30 L477.3,555.30 L477.8,555.30 L478.3,555.30 L478.8,555.30 L479.3,553.80 L479.8,553.80 L480.3,555.30 L480.8,555.30 L481.3,555.30 L481.8,555.30 L482.3,555.30 L482.8,555.30 L483.3,555.30 L483.8,555.30 L484.3,555.30 L484.8,555.30 L485.3,555.30 L485.8,555.30 L486.3,555.30 L486.8,555.30 L487.3,555.30 L487.8,555.30 L488.3,555.30 L488.8,555.30 L489.3,555.30 L489.8,555.30 L490.3,555.30 L490.8,555.30 L490.8,555.3 Z" fill="#1f4e79" stroke="none"/>
<path d="M385.8,567.4 L385.8,567.40 L386.3,567.40 L386.8,567.40 L387.3,567.40 L387.8,567.40 L388.3,567.40 L388.8,567.40 L389.3,567.40 L389.8,567.40 L390.3,567.40 L390.8,567.40 L391.3,567.40 L391.8,567.40 L392.3,567.40 L392.8,567.40 L393.3,567.40 L393.8,567.40 L394.3,567.40 L394.8,567.40 L395.3,567.40 L395.8,567.40 L396.3,567.40 L396.8,567.40 L397.3,567.40 L397.8,567.40 L398.3,567.40 L398.8,567.40 L399.3,567.40 L399.8,567.40 L400.3,567.40 L400.8,567.40 L401.3,567.40 L401.8,567.40 L402.3,567.40 L402.8,567.40 L403.3,567.40 L403.8,567.40 L404.3,567.40 L404.8,567.40 L405.3,567.40 L405.8,567.40 L406.3,567.40 L406.8,567.40 L407.3,567.40 L407.8,567.40 L408.3,567.40 L408.8,567.40 L409.3,567.40 L409.8,567.40 L410.3,567.40 L410.8,567.40 L411.3,567.40 L411.8,567.40 L412.3,567.40 L412.8,567.40 L413.3,567.40 L413.8,567.40 L414.3,567.40 L414.8,567.40 L415.3,567.40 L415.8,567.40 L416.3,567.40 L416.8,567.39 L417.3,567.19 L417.8,566.68 L418.3,566.78 L418.8,567.26 L419.3,567.39 L419.8,567.40 L420.3,567.40 L420.8,567.40 L421.3,567.40 L421.8,567.40 L422.3,567.40 L422.8,567.40 L423.3,567.40 L423.8,567.40 L424.3,567.40 L424.8,567.40 L425.3,567.40 L425.8,567.40 L426.3,567.40 L426.8,567.40 L427.3,567.40 L427.8,567.40 L428.3,567.40 L428.8,567.39 L429.3,567.19 L429.8,566.68 L430.3,566.78 L430.8,567.26 L431.3,567.39 L431.8,567.40 L432.3,567.40 L432.8,567.40 L433.3,567.40 L433.8,567.40 L434.3,567.40 L434.8,567.40 L435.3,567.40 L435.8,567.40 L436.3,567.40 L436.8,567.40 L437.3,567.40 L437.8,567.40 L438.3,567.40 L438.8,567.40 L439.3,567.40 L439.8,567.40 L440.3,567.40 L440.8,567.40 L441.3,567.40 L441.8,567.40 L442.3,567.40 L442.8,567.40 L443.3,567.40 L443.8,567.39 L444.3,567.19 L444.8,566.68 L445.3,566.78 L445.8,567.26 L446.3,567.39 L446.8,567.40 L447.3,567.40 L447.8,567.40 L448.3,567.40 L448.8,567.40 L449.3,567.40 L449.8,567.40 L450.3,567.40 L450.8,567.40 L451.3,567.40 L451.8,567.40 L452.3,567.40 L452.8,567.40 L453.3,567.40 L453.8,567.39 L454.3,567.19 L454.8,566.68 L455.3,566.78 L455.8,567.26 L456.3,567.39 L456.8,567.40 L457.3,567.40 L457.8,567.40 L458.3,567.40 L458.8,567.40 L459.3,567.40 L459.8,567.40 L460.3,567.40 L460.8,567.40 L461.3,567.40 L461.8,567.40 L462.3,567.40 L462.8,567.40 L463.3,567.40 L463.8,567.40 L464.3,567.40 L464.8,567.40 L465.3,567.40 L465.8,567.40 L466.3,567.40 L466.8,567.40 L467.3,567.40 L467.8,567.40 L468.3,567.40 L468.8,567.40 L469.3,567.40 L469.8,567.40 L470.3,567.40 L470.8,567.40 L471.3,567.40 L471.8,567.40 L472.3,567.40 L472.8,567.40 L473.3,567.40 L473.8,567.40 L474.3,567.40 L474.8,567.40 L475.3,567.40 L475.8,567.40 L476.3,567.40 L476.8,567.40 L477.3,567.40 L477.8,567.40 L478.3,567.40 L478.8,567.40 L479.3,567.40 L479.8,567.40 L480.3,567.40 L480.8,567.40 L481.3,567.40 L481.8,567.40 L482.3,567.40 L482.8,567.40 L483.3,567.40 L483.8,567.40 L484.3,567.40 L484.8,567.40 L485.3,567.40 L485.8,567.40 L486.3,567.40 L486.8,567.40 L487.3,567.40 L487.8,567.40 L488.3,567.40 L488.8,567.40 L489.3,567.40 L489.8,567.40 L490.3,567.40 L490.8,567.40 L490.8,567.4 Z" fill="#888888" stroke="none"/>
<path d="M385.8,579.7 L385.8,579.64 L386.3,579.60 L386.8,579.55 L387.3,579.59 L387.8,579.63 L388.3,579.58 L388.8,579.59 L389.3,579.60 L389.8,579.56 L390.3,579.60 L390.8,579.55 L391.3,579.56 L391.8,579.61 L392.3,579.56 L392.8,579.56 L393.3,579.61 L393.8,579.56 L394.3,579.54 L394.8,579.54 L395.3,579.54 L395.8,579.51 L396.3,579.58 L396.8,579.54 L397.3,579.54 L397.8,579.58 L398.3,579.57 L398.8,579.59 L399.3,579.57 L399.8,579.55 L400.3,579.56 L400.8,579.61 L401.3,579.61 L401.8,579.62 L402.3,579.58 L402.8,579.54 L403.3,579.53 L403.8,579.55 L404.3,579.59 L404.8,579.57 L405.3,579.59 L405.8,579.54 L406.3,579.59 L406.8,579.54 L407.3,579.60 L407.8,579.56 L408.3,579.55 L408.8,579.43 L409.3,579.22 L409.8,579.03 L410.3,579.05 L410.8,579.24 L411.3,579.47 L411.8,579.57 L412.3,579.56 L412.8,579.60 L413.3,579.61 L413.8,579.59 L414.3,579.59 L414.8,579.62 L415.3,579.58 L415.8,579.58 L416.3,579.62 L416.8,579.62 L417.3,579.65 L417.8,579.63 L418.3,579.65 L418.8,579.65 L419.3,578.80 L419.8,578.80 L420.3,578.80 L420.8,579.60 L421.3,579.59 L421.8,579.58 L422.3,579.54 L422.8,579.58 L423.3,578.80 L423.8,578.80 L424.3,578.80 L424.8,579.53 L425.3,579.60 L425.8,579.63 L426.3,579.58 L426.8,579.60 L427.3,579.58 L427.8,579.62 L428.3,578.80 L428.8,578.80 L429.3,578.80 L429.8,579.64 L430.3,579.58 L430.8,579.54 L431.3,579.54 L431.8,579.54 L432.3,579.58 L432.8,579.61 L433.3,579.57 L433.8,579.59 L434.3,579.60 L434.8,579.55 L435.3,579.58 L435.8,579.53 L436.3,579.58 L436.8,579.55 L437.3,578.30 L437.8,578.30 L438.3,578.30 L438.8,578.30 L439.3,579.61 L439.8,579.59 L440.3,579.55 L440.8,579.61 L441.3,578.80 L441.8,578.80 L442.3,578.80 L442.8,579.56 L443.3,579.57 L443.8,579.60 L444.3,579.62 L444.8,579.57 L445.3,579.61 L445.8,579.58 L446.3,579.53 L446.8,579.53 L447.3,579.51 L447.8,579.58 L448.3,579.57 L448.8,579.56 L449.3,579.61 L449.8,579.60 L450.3,579.61 L450.8,579.64 L451.3,578.80 L451.8,578.80 L452.3,578.80 L452.8,579.61 L453.3,579.59 L453.8,579.57 L454.3,579.62 L454.8,579.56 L455.3,579.53 L455.8,579.54 L456.3,579.55 L456.8,579.53 L457.3,579.54 L457.8,579.58 L458.3,579.54 L458.8,579.58 L459.3,579.58 L459.8,579.57 L460.3,579.55 L460.8,579.58 L461.3,579.56 L461.8,579.60 L462.3,579.57 L462.8,579.61 L463.3,579.61 L463.8,579.60 L464.3,579.57 L464.8,579.53 L465.3,579.51 L465.8,579.54 L466.3,579.60 L466.8,579.58 L467.3,579.57 L467.8,579.55 L468.3,579.57 L468.8,579.43 L469.3,579.24 L469.8,578.99 L470.3,578.98 L470.8,579.23 L471.3,579.45 L471.8,579.53 L472.3,579.60 L472.8,579.58 L473.3,579.54 L473.8,579.52 L474.3,579.52 L474.8,579.52 L475.3,579.50 L475.8,579.54 L476.3,579.57 L476.8,579.53 L477.3,579.59 L477.8,579.60 L478.3,579.57 L478.8,579.53 L479.3,579.52 L479.8,579.58 L480.3,579.55 L480.8,579.59 L481.3,579.58 L481.8,579.57 L482.3,579.53 L482.8,579.58 L483.3,579.59 L483.8,579.61 L484.3,579.61 L484.8,579.63 L485.3,579.62 L485.8,579.63 L486.3,579.63 L486.8,579.58 L487.3,579.62 L487.8,579.61 L488.3,579.64 L488.8,579.66 L489.3,579.59 L489.8,579.56 L490.3,579.53 L490.8,579.59 L490.8,579.7 Z" fill="#555555" stroke="none"/>
<path d="M385.8,592.4 L385.8,592.33 L386.3,592.35 L386.8,592.29 L387.3,592.32 L387.8,592.28 L388.3,592.29 L388.8,592.28 L389.3,592.25 L389.8,592.31 L390.3,592.32 L390.8,592.34 L391.3,592.34 L391.8,592.34 L392.3,592.31 L392.8,592.28 L393.3,592.31 L393.8,592.31 L394.3,592.34 L394.8,592.36 L395.3,592.36 L395.8,592.37 L396.3,592.32 L396.8,592.33 L397.3,592.30 L397.8,592.28 L398.3,592.31 L398.8,592.31 L399.3,592.29 L399.8,592.29 L400.3,592.24 L400.8,592.09 L401.3,591.68 L401.8,591.29 L402.3,591.32 L402.8,591.71 L403.3,592.07 L403.8,592.26 L404.3,592.32 L404.8,592.32 L405.3,592.34 L405.8,592.31 L406.3,592.27 L406.8,592.30 L407.3,592.29 L407.8,592.32 L408.3,592.27 L408.8,592.27 L409.3,592.28 L409.8,592.28 L410.3,592.31 L410.8,592.27 L411.3,592.28 L411.8,592.25 L412.3,592.25 L412.8,592.24 L413.3,592.28 L413.8,592.28 L414.3,592.28 L414.8,592.32 L415.3,592.28 L415.8,592.31 L416.3,592.31 L416.8,592.35 L417.3,592.33 L417.8,591.70 L418.3,590.29 L418.8,588.27 L419.3,582.52 L419.8,583.99 L420.3,590.50 L420.8,590.80 L421.3,590.80 L421.8,590.80 L422.3,590.79 L422.8,590.44 L423.3,589.17 L423.8,586.59 L424.3,588.52 L424.8,589.39 L425.3,590.28 L425.8,590.80 L426.3,590.71 L426.8,588.00 L427.3,586.10 L427.8,589.25 L428.3,590.79 L428.8,590.80 L429.3,590.59 L429.8,586.54 L430.3,582.72 L430.8,586.41 L431.3,589.26 L431.8,586.16 L432.3,585.19 L432.8,583.83 L433.3,588.36 L433.8,590.62 L434.3,588.25 L434.8,584.11 L435.3,584.75 L435.8,590.03 L436.3,589.26 L436.8,586.28 L437.3,586.60 L437.8,582.78 L438.3,589.90 L438.8,590.80 L439.3,590.68 L439.8,587.96 L440.3,587.58 L440.8,590.57 L441.3,589.33 L441.8,588.42 L442.3,589.29 L442.8,590.71 L443.3,589.87 L443.8,584.50 L444.3,587.03 L444.8,590.69 L445.3,589.82 L445.8,588.37 L446.3,590.73 L446.8,590.43 L447.3,589.03 L447.8,590.18 L448.3,587.67 L448.8,590.65 L449.3,590.77 L449.8,588.22 L450.3,584.12 L450.8,587.54 L451.3,588.49 L451.8,590.35 L452.3,590.21 L452.8,587.80 L453.3,587.81 L453.8,590.60 L454.3,590.80 L454.8,590.80 L455.3,590.80 L455.8,590.80 L456.3,590.80 L456.8,590.80 L457.3,590.80 L457.8,590.75 L458.3,588.00 L458.8,587.10 L459.3,585.75 L459.8,588.24 L460.3,587.37 L460.8,588.89 L461.3,590.56 L461.8,590.55 L462.3,588.08 L462.8,589.82 L463.3,592.29 L463.8,592.34 L464.3,592.35 L464.8,592.36 L465.3,592.32 L465.8,592.28 L466.3,592.20 L466.8,592.03 L467.3,591.66 L467.8,591.34 L468.3,591.40 L468.8,591.76 L469.3,592.07 L469.8,592.22 L470.3,592.26 L470.8,592.26 L471.3,592.30 L471.8,592.32 L472.3,592.34 L472.8,592.28 L473.3,592.31 L473.8,592.33 L474.3,592.36 L474.8,592.35 L475.3,592.35 L475.8,592.35 L476.3,592.35 L476.8,592.36 L477.3,592.37 L477.8,592.37 L478.3,592.34 L478.8,592.31 L479.3,592.28 L479.8,592.28 L480.3,592.33 L480.8,592.36 L481.3,592.33 L481.8,592.33 L482.3,592.28 L482.8,592.28 L483.3,592.25 L483.8,592.30 L484.3,592.33 L484.8,592.34 L485.3,592.29 L485.8,592.29 L486.3,592.29 L486.8,592.28 L487.3,592.32 L487.8,592.31 L488.3,592.30 L488.8,592.33 L489.3,592.35 L489.8,592.36 L490.3,592.35 L490.8,592.37 L490.8,592.4 Z" fill="#1f4e79" stroke="none"/>
<path d="M385.8,604.1 L385.8,604.05 L386.3,604.04 L386.8,603.98 L387.3,604.00 L387.8,603.99 L388.3,604.00 L388.8,604.00 L389.3,603.95 L389.8,604.00 L390.3,604.00 L390.8,604.02 L391.3,604.02 L391.8,603.95 L392.3,603.98 L392.8,603.97 L393.3,603.98 L393.8,603.96 L394.3,603.97 L394.8,604.01 L395.3,604.00 L395.8,604.00 L396.3,603.97 L396.8,603.97 L397.3,604.00 L397.8,603.98 L398.3,604.00 L398.8,603.99 L399.3,604.01 L399.8,604.01 L400.3,603.97 L400.8,603.97 L401.3,603.95 L401.8,603.94 L402.3,603.95 L402.8,603.95 L403.3,603.97 L403.8,603.96 L404.3,603.94 L404.8,604.00 L405.3,603.95 L405.8,603.97 L406.3,604.01 L406.8,604.03 L407.3,604.03 L407.8,604.05 L408.3,604.03 L408.8,604.02 L409.3,603.99 L409.8,603.99 L410.3,603.94 L410.8,603.94 L411.3,603.97 L411.8,603.94 L412.3,603.94 L412.8,603.91 L413.3,603.92 L413.8,603.90 L414.3,603.96 L414.8,603.99 L415.3,603.94 L415.8,604.00 L416.3,603.95 L416.8,603.92 L417.3,603.98 L417.8,604.01 L418.3,603.96 L418.8,603.92 L419.3,603.91 L419.8,603.92 L420.3,603.92 L420.8,603.96 L421.3,604.02 L421.8,603.99 L422.3,603.95 L422.8,603.91 L423.3,603.90 L423.8,603.81 L424.3,603.54 L424.8,603.24 L425.3,603.29 L425.8,603.63 L426.3,603.91 L426.8,603.99 L427.3,604.04 L427.8,604.05 L428.3,604.06 L428.8,604.07 L429.3,604.01 L429.8,603.96 L430.3,604.00 L430.8,603.98 L431.3,603.94 L431.8,603.98 L432.3,604.00 L432.8,603.95 L433.3,603.94 L433.8,603.94 L434.3,603.93 L434.8,603.94 L435.3,603.98 L435.8,603.96 L436.3,603.94 L436.8,604.00 L437.3,604.01 L437.8,604.01 L438.3,603.91 L438.8,603.78 L439.3,603.42 L439.8,603.12 L440.3,603.17 L440.8,603.51 L441.3,603.78 L441.8,603.91 L442.3,603.96 L442.8,604.01 L443.3,604.01 L443.8,604.00 L444.3,603.98 L444.8,603.93 L445.3,603.97 L445.8,603.93 L446.3,603.91 L446.8,603.94 L447.3,603.99 L447.8,604.01 L448.3,603.96 L448.8,604.00 L449.3,603.98 L449.8,603.96 L450.3,604.00 L450.8,604.04 L451.3,604.00 L451.8,604.04 L452.3,604.01 L452.8,603.95 L453.3,603.92 L453.8,603.80 L454.3,603.53 L454.8,603.26 L455.3,603.29 L455.8,603.62 L456.3,603.85 L456.8,603.95 L457.3,603.96 L457.8,604.01 L458.3,604.02 L458.8,603.96 L459.3,604.02 L459.8,604.01 L460.3,603.97 L460.8,604.00 L461.3,604.02 L461.8,603.99 L462.3,604.01 L462.8,604.01 L463.3,604.01 L463.8,604.02 L464.3,603.99 L464.8,603.96 L465.3,603.94 L465.8,603.91 L466.3,603.98 L466.8,604.00 L467.3,603.95 L467.8,603.93 L468.3,603.93 L468.8,603.97 L469.3,604.01 L469.8,604.02 L470.3,603.97 L470.8,603.95 L471.3,603.97 L471.8,603.96 L472.3,603.95 L472.8,603.98 L473.3,604.02 L473.8,603.97 L474.3,603.96 L474.8,603.94 L475.3,603.93 L475.8,603.96 L476.3,603.96 L476.8,603.98 L477.3,603.94 L477.8,603.99 L478.3,603.97 L478.8,603.99 L479.3,603.95 L479.8,603.93 L480.3,603.98 L480.8,604.03 L481.3,604.03 L481.8,603.97 L482.3,603.95 L482.8,603.94 L483.3,603.98 L483.8,604.01 L484.3,604.00 L484.8,603.99 L485.3,603.98 L485.8,604.02 L486.3,603.97 L486.8,604.00 L487.3,603.97 L487.8,603.99 L488.3,604.01 L488.8,603.96 L489.3,604.00 L489.8,603.99 L490.3,603.95 L490.8,603.93 L490.8,604.1 Z" fill="#5cb85c" stroke="none"/>
<path d="M385.8,617.0 L385.8,616.94 L386.3,616.93 L386.8,616.95 L387.3,616.89 L387.8,616.91 L388.3,616.92 L388.8,616.90 L389.3,616.86 L389.8,616.80 L390.3,616.82 L390.8,616.78 L391.3,616.75 L391.8,616.82 L392.3,616.88 L392.8,616.91 L393.3,616.85 L393.8,616.84 L394.3,616.79 L394.8,616.76 L395.3,616.78 L395.8,616.80 L396.3,616.87 L396.8,616.92 L397.3,616.86 L397.8,616.83 L398.3,616.78 L398.8,616.70 L399.3,616.50 L399.8,616.33 L400.3,616.32 L400.8,616.59 L401.3,616.76 L401.8,616.85 L402.3,616.82 L402.8,616.79 L403.3,616.84 L403.8,616.90 L404.3,616.91 L404.8,616.91 L405.3,616.85 L405.8,616.86 L406.3,616.83 L406.8,616.86 L407.3,616.85 L407.8,616.89 L408.3,616.86 L408.8,616.85 L409.3,616.81 L409.8,616.77 L410.3,616.80 L410.8,616.87 L411.3,616.81 L411.8,616.77 L412.3,616.81 L412.8,616.83 L413.3,616.78 L413.8,616.84 L414.3,616.87 L414.8,616.84 L415.3,616.82 L415.8,616.81 L416.3,616.79 L416.8,616.81 L417.3,616.84 L417.8,616.87 L418.3,616.90 L418.8,616.90 L419.3,616.89 L419.8,616.84 L420.3,616.83 L420.8,616.84 L421.3,616.86 L421.8,616.84 L422.3,616.86 L422.8,616.82 L423.3,616.81 L423.8,616.81 L424.3,616.84 L424.8,616.84 L425.3,616.82 L425.8,616.78 L426.3,616.80 L426.8,616.84 L427.3,616.82 L427.8,616.88 L428.3,616.89 L428.8,616.93 L429.3,616.89 L429.8,616.90 L430.3,616.90 L430.8,616.84 L431.3,616.83 L431.8,616.89 L432.3,616.88 L432.8,616.93 L433.3,616.86 L433.8,616.86 L434.3,616.81 L434.8,616.86 L435.3,616.81 L435.8,616.87 L436.3,616.82 L436.8,616.84 L437.3,616.90 L437.8,616.83 L438.3,616.80 L438.8,616.85 L439.3,616.84 L439.8,616.85 L440.3,616.89 L440.8,616.88 L441.3,616.81 L441.8,616.84 L442.3,616.81 L442.8,616.80 L443.3,616.79 L443.8,616.80 L444.3,616.77 L444.8,616.82 L445.3,616.84 L445.8,616.85 L446.3,616.90 L446.8,616.88 L447.3,616.84 L447.8,616.83 L448.3,616.85 L448.8,616.78 L449.3,616.57 L449.8,616.44 L450.3,616.47 L450.8,616.60 L451.3,616.81 L451.8,616.91 L452.3,616.94 L452.8,616.90 L453.3,616.94 L453.8,616.88 L454.3,616.86 L454.8,616.83 L455.3,616.80 L455.8,616.79 L456.3,616.81 L456.8,616.85 L457.3,616.84 L457.8,616.89 L458.3,616.90 L458.8,616.86 L459.3,616.84 L459.8,616.89 L460.3,616.88 L460.8,616.86 L461.3,616.89 L461.8,616.85 L462.3,616.90 L462.8,616.92 L463.3,616.90 L463.8,616.91 L464.3,616.86 L464.8,616.86 L465.3,616.88 L465.8,616.83 L466.3,616.80 L466.8,616.79 L467.3,616.86 L467.8,616.88 L468.3,616.92 L468.8,616.86 L469.3,616.86 L469.8,616.91 L470.3,616.83 L470.8,616.89 L471.3,616.93 L471.8,616.85 L472.3,616.86 L472.8,616.81 L473.3,616.82 L473.8,616.87 L474.3,616.87 L474.8,616.83 L475.3,616.89 L475.8,616.84 L476.3,616.86 L476.8,616.86 L477.3,616.88 L477.8,616.83 L478.3,616.84 L478.8,616.85 L479.3,616.90 L479.8,616.85 L480.3,616.89 L480.8,616.86 L481.3,616.92 L481.8,616.94 L482.3,616.89 L482.8,616.90 L483.3,616.87 L483.8,616.84 L484.3,616.86 L484.8,616.85 L485.3,616.86 L485.8,616.91 L486.3,616.85 L486.8,616.84 L487.3,616.80 L487.8,616.80 L488.3,616.81 L488.8,616.87 L489.3,616.85 L489.8,616.86 L490.3,616.88 L490.8,616.92 L490.8,617.0 Z" fill="#999999" stroke="none"/>
<path d="M385.8,629.3 L385.8,625.88 L386.3,625.02 L386.8,623.33 L387.3,625.38 L387.8,622.21 L388.3,626.13 L388.8,627.62 L389.3,627.31 L389.8,628.05 L390.3,627.28 L390.8,628.00 L391.3,627.96 L391.8,626.78 L392.3,627.62 L392.8,626.92 L393.3,626.66 L393.8,627.97 L394.3,627.40 L394.8,627.58 L395.3,626.60 L395.8,627.46 L396.3,628.28 L396.8,627.58 L397.3,627.43 L397.8,625.90 L398.3,628.24 L398.8,627.52 L399.3,624.24 L399.8,623.46 L400.3,625.74 L400.8,625.91 L401.3,627.45 L401.8,627.85 L402.3,627.34 L402.8,627.61 L403.3,627.10 L403.8,628.07 L404.3,626.63 L404.8,625.43 L405.3,626.33 L405.8,624.32 L406.3,618.83 L406.8,617.30 L407.3,620.14 L407.8,620.21 L408.3,623.30 L408.8,624.26 L409.3,625.29 L409.8,625.41 L410.3,627.08 L410.8,627.79 L411.3,627.29 L411.8,627.33 L412.3,627.93 L412.8,628.22 L413.3,627.33 L413.8,628.08 L414.3,627.93 L414.8,628.31 L415.3,627.31 L415.8,627.33 L416.3,628.15 L416.8,628.34 L417.3,626.95 L417.8,626.32 L418.3,627.63 L418.8,626.81 L419.3,627.25 L419.8,627.84 L420.3,627.22 L420.8,626.76 L421.3,621.97 L421.8,620.93 L422.3,625.68 L422.8,628.01 L423.3,627.44 L423.8,626.93 L424.3,625.90 L424.8,626.81 L425.3,625.63 L425.8,626.28 L426.3,627.34 L426.8,625.99 L427.3,626.01 L427.8,626.55 L428.3,623.03 L428.8,623.81 L429.3,626.85 L429.8,627.51 L430.3,627.71 L430.8,627.39 L431.3,626.98 L431.8,626.34 L432.3,627.85 L432.8,627.60 L433.3,624.36 L433.8,627.06 L434.3,627.15 L434.8,627.59 L435.3,627.95 L435.8,627.07 L436.3,626.51 L436.8,625.32 L437.3,621.00 L437.8,617.30 L438.3,622.28 L438.8,625.35 L439.3,626.77 L439.8,624.84 L440.3,627.44 L440.8,627.97 L441.3,626.97 L441.8,625.75 L442.3,627.41 L442.8,625.75 L443.3,626.86 L443.8,627.74 L444.3,627.99 L444.8,626.39 L445.3,624.20 L445.8,621.01 L446.3,624.06 L446.8,623.67 L447.3,624.68 L447.8,626.80 L448.3,626.36 L448.8,625.95 L449.3,626.75 L449.8,625.62 L450.3,621.05 L450.8,622.85 L451.3,626.33 L451.8,627.17 L452.3,627.25 L452.8,627.32 L453.3,625.04 L453.8,621.91 L454.3,624.24 L454.8,627.26 L455.3,626.26 L455.8,626.71 L456.3,627.52 L456.8,626.43 L457.3,626.79 L457.8,627.76 L458.3,628.00 L458.8,627.65 L459.3,627.36 L459.8,626.40 L460.3,627.19 L460.8,627.30 L461.3,626.29 L461.8,621.60 L462.3,622.52 L462.8,626.45 L463.3,628.13 L463.8,627.01 L464.3,624.47 L464.8,625.69 L465.3,627.25 L465.8,627.22 L466.3,625.86 L466.8,625.79 L467.3,627.42 L467.8,626.61 L468.3,627.94 L468.8,627.67 L469.3,627.38 L469.8,624.89 L470.3,622.79 L470.8,623.08 L471.3,624.23 L471.8,626.24 L472.3,627.77 L472.8,627.75 L473.3,627.45 L473.8,628.04 L474.3,627.33 L474.8,628.15 L475.3,628.22 L475.8,627.23 L476.3,627.98 L476.8,627.32 L477.3,628.04 L477.8,627.74 L478.3,627.23 L478.8,627.54 L479.3,627.29 L479.8,625.03 L480.3,626.45 L480.8,625.78 L481.3,626.03 L481.8,626.21 L482.3,627.21 L482.8,627.44 L483.3,626.68 L483.8,625.36 L484.3,626.78 L484.8,628.01 L485.3,627.47 L485.8,627.72 L486.3,627.79 L486.8,627.25 L487.3,628.12 L487.8,628.18 L488.3,627.76 L488.8,627.85 L489.3,627.06 L489.8,626.94 L490.3,629.02 L490.8,629.09 L490.8,629.3 Z" fill="#1f4e79" stroke="none"/>
<path d="M385.8,641.3 L385.8,641.29 L386.3,641.28 L386.8,641.26 L387.3,641.21 L387.8,641.20 L388.3,641.18 L388.8,641.22 L389.3,641.21 L389.8,641.18 L390.3,641.19 L390.8,641.16 L391.3,641.14 L391.8,641.18 L392.3,641.23 L392.8,641.19 L393.3,641.23 L393.8,641.26 L394.3,641.21 L394.8,641.18 L395.3,641.16 L395.8,641.14 L396.3,641.19 L396.8,641.23 L397.3,641.25 L397.8,641.19 L398.3,641.22 L398.8,641.24 L399.3,641.26 L399.8,641.27 L400.3,641.28 L400.8,641.26 L401.3,641.26 L401.8,641.25 L402.3,641.20 L402.8,641.23 L403.3,641.19 L403.8,641.17 L404.3,641.18 L404.8,641.18 L405.3,641.17 L405.8,641.17 L406.3,641.21 L406.8,641.22 L407.3,641.23 L407.8,641.23 L408.3,641.18 L408.8,641.19 L409.3,641.23 L409.8,641.22 L410.3,641.19 L410.8,641.20 L411.3,641.18 L411.8,641.22 L412.3,641.25 L412.8,641.22 L413.3,641.25 L413.8,641.24 L414.3,641.24 L414.8,641.25 L415.3,641.26 L415.8,641.28 L416.3,641.21 L416.8,641.19 L417.3,641.16 L417.8,641.17 L418.3,641.13 L418.8,641.05 L419.3,640.91 L419.8,640.79 L420.3,640.82 L420.8,641.00 L421.3,641.14 L421.8,641.18 L422.3,641.22 L422.8,641.18 L423.3,641.19 L423.8,641.19 L424.3,641.17 L424.8,641.17 L425.3,641.21 L425.8,641.23 L426.3,641.26 L426.8,641.27 L427.3,641.21 L427.8,641.20 L428.3,641.16 L428.8,641.15 L429.3,641.19 L429.8,641.15 L430.3,641.14 L430.8,641.17 L431.3,641.21 L431.8,641.22 L432.3,641.24 L432.8,641.23 L433.3,641.25 L433.8,641.22 L434.3,641.17 L434.8,641.21 L435.3,641.18 L435.8,641.18 L436.3,641.19 L436.8,641.16 L437.3,641.19 L437.8,641.17 L438.3,641.22 L438.8,641.17 L439.3,641.21 L439.8,641.25 L440.3,641.20 L440.8,641.18 L441.3,641.17 L441.8,641.16 L442.3,641.19 L442.8,641.22 L443.3,641.23 L443.8,641.18 L444.3,641.15 L444.8,641.19 L445.3,641.20 L445.8,641.20 L446.3,641.17 L446.8,641.22 L447.3,641.19 L447.8,641.21 L448.3,641.20 L448.8,641.23 L449.3,641.25 L449.8,641.20 L450.3,641.20 L450.8,641.16 L451.3,641.15 L451.8,641.15 L452.3,641.20 L452.8,641.19 L453.3,641.16 L453.8,641.17 L454.3,641.22 L454.8,641.24 L455.3,641.18 L455.8,641.15 L456.3,641.19 L456.8,641.21 L457.3,641.19 L457.8,641.19 L458.3,641.22 L458.8,641.17 L459.3,641.17 L459.8,641.20 L460.3,641.24 L460.8,641.22 L461.3,641.19 L461.8,641.22 L462.3,641.25 L462.8,641.21 L463.3,641.17 L463.8,641.19 L464.3,641.20 L464.8,641.19 L465.3,641.19 L465.8,641.22 L466.3,641.23 L466.8,641.24 L467.3,641.25 L467.8,641.26 L468.3,641.25 L468.8,641.25 L469.3,641.20 L469.8,641.22 L470.3,641.17 L470.8,641.16 L471.3,641.19 L471.8,641.22 L472.3,641.21 L472.8,641.21 L473.3,641.20 L473.8,641.23 L474.3,641.22 L474.8,641.19 L475.3,641.20 L475.8,641.22 L476.3,641.18 L476.8,641.20 L477.3,641.16 L477.8,641.16 L478.3,641.22 L478.8,641.21 L479.3,641.24 L479.8,641.20 L480.3,641.21 L480.8,641.24 L481.3,641.19 L481.8,641.17 L482.3,641.17 L482.8,641.18 L483.3,641.22 L483.8,641.17 L484.3,641.20 L484.8,641.20 L485.3,641.20 L485.8,641.20 L486.3,641.24 L486.8,641.19 L487.3,641.20 L487.8,641.21 L488.3,641.17 L488.8,641.16 L489.3,641.16 L489.8,641.14 L490.3,641.18 L490.8,641.22 L490.8,641.3 Z" fill="#999999" stroke="none"/>
<line x1="385.00" y1="494.80" x2="385.00" y2="506.60" stroke="#111" stroke-width="1.7"/>
<line x1="385.00" y1="506.90" x2="385.00" y2="518.70" stroke="#111" stroke-width="1.7"/>
<line x1="385.00" y1="519.60" x2="385.00" y2="531.40" stroke="#111" stroke-width="1.7"/>
<line x1="385.00" y1="531.80" x2="385.00" y2="543.60" stroke="#111" stroke-width="1.7"/>
<line x1="385.00" y1="544.00" x2="385.00" y2="555.80" stroke="#111" stroke-width="1.7"/>
<line x1="385.00" y1="556.10" x2="385.00" y2="567.90" stroke="#111" stroke-width="1.7"/>
<line x1="385.00" y1="568.40" x2="385.00" y2="580.20" stroke="#111" stroke-width="1.7"/>
<line x1="385.00" y1="581.10" x2="385.00" y2="592.90" stroke="#111" stroke-width="1.7"/>
<line x1="385.00" y1="592.80" x2="385.00" y2="604.60" stroke="#111" stroke-width="1.7"/>
<line x1="385.00" y1="605.70" x2="385.00" y2="617.50" stroke="#111" stroke-width="1.7"/>
<line x1="385.00" y1="618.00" x2="385.00" y2="629.80" stroke="#111" stroke-width="1.7"/>
<line x1="385.00" y1="630.00" x2="385.00" y2="641.80" stroke="#111" stroke-width="1.7"/>
<line x1="347.90" y1="497.80" x2="347.90" y2="527.70" stroke="#666" stroke-width="1.2"/>
<text x="344.2" y="512.75" font-size="6.5" text-anchor="middle" fill="#222" font-weight="normal" transform="rotate(-90 344.2 512.75)" stroke="#222" stroke-width="0.08" letter-spacing="-0.1">KOPN-8</text>
<text x="353.3" y="502.2" font-size="4.0" text-anchor="start" fill="#333" font-weight="normal" stroke="#333" stroke-width="0.08">IgG</text>
<text x="382.2" y="498.7" font-size="4.0" text-anchor="end" fill="#333" font-weight="normal" stroke="#333" stroke-width="0.08">600</text>
<text x="382.2" y="505.9" font-size="4.0" text-anchor="end" fill="#333" font-weight="normal" stroke="#333" stroke-width="0.08">5</text>
<text x="353.3" y="514.3" font-size="4.0" text-anchor="start" fill="#333" font-weight="normal" stroke="#333" stroke-width="0.08">KMT2A_N</text>
<text x="382.2" y="510.8" font-size="4.0" text-anchor="end" fill="#333" font-weight="normal" stroke="#333" stroke-width="0.08">600</text>
<text x="382.2" y="518.0" font-size="4.0" text-anchor="end" fill="#333" font-weight="normal" stroke="#333" stroke-width="0.08">5</text>
<text x="353.3" y="527.0" font-size="4.0" text-anchor="start" fill="#333" font-weight="normal" stroke="#333" stroke-width="0.08">KMT2A_C</text>
<text x="382.2" y="523.5" font-size="4.0" text-anchor="end" fill="#333" font-weight="normal" stroke="#333" stroke-width="0.08">600</text>
<text x="382.2" y="530.7" font-size="4.0" text-anchor="end" fill="#333" font-weight="normal" stroke="#333" stroke-width="0.08">5</text>
<line x1="347.90" y1="535.30" x2="347.90" y2="564.50" stroke="#666" stroke-width="1.2"/>
<text x="344.2" y="549.9" font-size="6.5" text-anchor="middle" fill="#222" font-weight="normal" transform="rotate(-90 344.2 549.9)" stroke="#222" stroke-width="0.08" letter-spacing="-0.1">hALL</text>
<text x="353.3" y="539.2" font-size="4.0" text-anchor="start" fill="#333" font-weight="normal" stroke="#333" stroke-width="0.08">IgG</text>
<text x="382.2" y="535.7" font-size="4.0" text-anchor="end" fill="#333" font-weight="normal" stroke="#333" stroke-width="0.08">300</text>
<text x="382.2" y="542.9" font-size="4.0" text-anchor="end" fill="#333" font-weight="normal" stroke="#333" stroke-width="0.08">5</text>
<text x="353.3" y="551.4" font-size="4.0" text-anchor="start" fill="#333" font-weight="normal" stroke="#333" stroke-width="0.08">KMT2A_N</text>
<text x="382.2" y="547.9" font-size="4.0" text-anchor="end" fill="#333" font-weight="normal" stroke="#333" stroke-width="0.08">300</text>
<text x="382.2" y="555.1" font-size="4.0" text-anchor="end" fill="#333" font-weight="normal" stroke="#333" stroke-width="0.08">5</text>
<text x="353.3" y="563.5" font-size="4.0" text-anchor="start" fill="#333" font-weight="normal" stroke="#333" stroke-width="0.08">KMT2A_C</text>
<text x="382.2" y="560.0" font-size="4.0" text-anchor="end" fill="#333" font-weight="normal" stroke="#333" stroke-width="0.08">300</text>
<text x="382.2" y="567.2" font-size="4.0" text-anchor="end" fill="#333" font-weight="normal" stroke="#333" stroke-width="0.08">5</text>
<line x1="347.90" y1="573.10" x2="347.90" y2="601.50" stroke="#666" stroke-width="1.2"/>
<text x="344.2" y="587.3" font-size="6.5" text-anchor="middle" fill="#222" font-weight="normal" transform="rotate(-90 344.2 587.3)" stroke="#222" stroke-width="0.08" letter-spacing="-0.1">hAML_1</text>
<text x="353.3" y="575.8" font-size="4.0" text-anchor="start" fill="#333" font-weight="normal" stroke="#333" stroke-width="0.08">IgG</text>
<text x="382.2" y="572.3" font-size="4.0" text-anchor="end" fill="#333" font-weight="normal" stroke="#333" stroke-width="0.08">100</text>
<text x="382.2" y="579.5" font-size="4.0" text-anchor="end" fill="#333" font-weight="normal" stroke="#333" stroke-width="0.08">5</text>
<text x="353.3" y="588.5" font-size="4.0" text-anchor="start" fill="#333" font-weight="normal" stroke="#333" stroke-width="0.08">KMT2A_N</text>
<text x="382.2" y="585.0" font-size="4.0" text-anchor="end" fill="#333" font-weight="normal" stroke="#333" stroke-width="0.08">100</text>
<text x="382.2" y="592.2" font-size="4.0" text-anchor="end" fill="#333" font-weight="normal" stroke="#333" stroke-width="0.08">5</text>
<text x="353.3" y="600.2" font-size="4.0" text-anchor="start" fill="#333" font-weight="normal" stroke="#333" stroke-width="0.08">KMT2A_C</text>
<text x="382.2" y="596.7" font-size="4.0" text-anchor="end" fill="#333" font-weight="normal" stroke="#333" stroke-width="0.08">100</text>
<text x="382.2" y="603.9" font-size="4.0" text-anchor="end" fill="#333" font-weight="normal" stroke="#333" stroke-width="0.08">5</text>
<line x1="347.90" y1="611.80" x2="347.90" y2="640.20" stroke="#666" stroke-width="1.2"/>
<text x="344.2" y="626.0" font-size="6.5" text-anchor="middle" fill="#222" font-weight="normal" transform="rotate(-90 344.2 626.0)" stroke="#222" stroke-width="0.08" letter-spacing="-0.1">hAML_2</text>
<text x="353.3" y="613.1" font-size="4.0" text-anchor="start" fill="#333" font-weight="normal" stroke="#333" stroke-width="0.08">IgG</text>
<text x="382.2" y="609.6" font-size="4.0" text-anchor="end" fill="#333" font-weight="normal" stroke="#333" stroke-width="0.08">300</text>
<text x="382.2" y="616.8" font-size="4.0" text-anchor="end" fill="#333" font-weight="normal" stroke="#333" stroke-width="0.08">5</text>
<text x="353.3" y="625.4" font-size="4.0" text-anchor="start" fill="#333" font-weight="normal" stroke="#333" stroke-width="0.08">KMT2A_N</text>
<text x="382.2" y="621.9" font-size="4.0" text-anchor="end" fill="#333" font-weight="normal" stroke="#333" stroke-width="0.08">300</text>
<text x="382.2" y="629.1" font-size="4.0" text-anchor="end" fill="#333" font-weight="normal" stroke="#333" stroke-width="0.08">5</text>
<text x="353.3" y="637.4" font-size="4.0" text-anchor="start" fill="#333" font-weight="normal" stroke="#333" stroke-width="0.08">KMT2A_C</text>
<text x="382.2" y="633.9" font-size="4.0" text-anchor="end" fill="#333" font-weight="normal" stroke="#333" stroke-width="0.08">300</text>
<text x="382.2" y="641.1" font-size="4.0" text-anchor="end" fill="#333" font-weight="normal" stroke="#333" stroke-width="0.08">5</text>
<line x1="494.30" y1="513.50" x2="503.30" y2="513.50" stroke="#d0202e" stroke-width="1.0"/>
<polygon points="491.3,513.5 494.8,511.6 494.8,515.4" fill="#d0202e"/>
<line x1="494.30" y1="550.30" x2="503.30" y2="550.30" stroke="#d0202e" stroke-width="1.0"/>
<polygon points="491.3,550.3 494.8,548.4 494.8,552.2" fill="#d0202e"/>
<line x1="494.30" y1="587.60" x2="503.30" y2="587.60" stroke="#d0202e" stroke-width="1.0"/>
<polygon points="491.3,587.6 494.8,585.7 494.8,589.5" fill="#d0202e"/>
<line x1="494.30" y1="623.80" x2="503.30" y2="623.80" stroke="#d0202e" stroke-width="1.0"/>
<polygon points="491.3,623.8 494.8,621.9 494.8,625.7" fill="#d0202e"/>
<text x="410" y="645.5" font-size="4.1" text-anchor="start" fill="#8a78aa" font-weight="normal" stroke="#8a78aa" stroke-width="0.08">HOXA7</text>
<text x="423.5" y="645.5" font-size="4.1" text-anchor="start" fill="#222" font-weight="normal" stroke="#222" stroke-width="0.08">◂◂</text>
<text x="439.6" y="645.5" font-size="4.1" text-anchor="start" fill="#8a78aa" font-weight="normal" stroke="#8a78aa" stroke-width="0.08">HOXA10</text>
<text x="455" y="645.5" font-size="4.1" text-anchor="start" fill="#222" font-weight="normal" stroke="#222" stroke-width="0.08">◂</text>
<text x="479.3" y="645.5" font-size="4.1" text-anchor="start" fill="#8a78aa" font-weight="normal" stroke="#8a78aa" stroke-width="0.08">HOXA13</text>
<text x="494.5" y="645.5" font-size="4.1" text-anchor="start" fill="#222" font-weight="normal" stroke="#222" stroke-width="0.08">◂◂</text>
<line x1="387.00" y1="649.30" x2="399.60" y2="649.30" stroke="#222" stroke-width="0.7" stroke-dasharray="1.2,0.5"/>
<text x="402" y="650.9" font-size="4.1" text-anchor="start" fill="#8a78aa" font-weight="normal" stroke="#8a78aa" stroke-width="0.08">HOXA2</text>
<text x="426.2" y="650.9" font-size="4.1" text-anchor="start" fill="#8a78aa" font-weight="normal" stroke="#8a78aa" stroke-width="0.08">HOXA9</text>
<text x="440" y="650.9" font-size="4.1" text-anchor="start" fill="#222" font-weight="normal" stroke="#222" stroke-width="0.08">▪▪</text>
<text x="457.4" y="650.9" font-size="4.1" text-anchor="start" fill="#8a78aa" font-weight="normal" stroke="#8a78aa" stroke-width="0.08">HOXA11</text>
<text x="473" y="650.9" font-size="4.1" text-anchor="start" fill="#222" font-weight="normal" stroke="#222" stroke-width="0.08">◂▪◂</text>
<rect x="0.5" y="0.5" width="519" height="658" fill="none" stroke="#5c5c5c" stroke-width="1.1"/>
</svg></body></html>
